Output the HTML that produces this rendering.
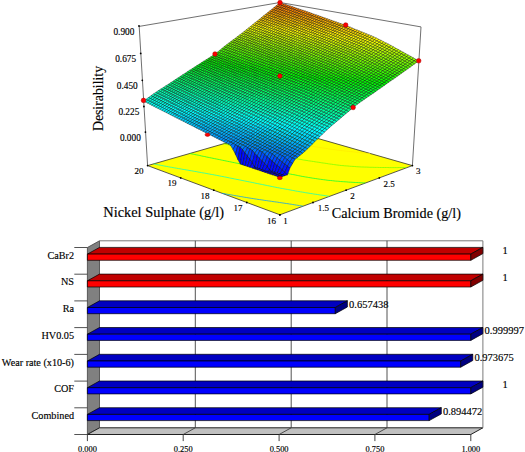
<!DOCTYPE html>
<html><head><meta charset="utf-8"><title>Desirability</title>
<style>html,body{margin:0;padding:0;background:#fff;}body{width:525px;height:452px;overflow:hidden;font-family:"Liberation Serif",serif;}svg{display:block;}</style>
</head><body>
<svg width="525" height="452" viewBox="0 0 525 452" font-family='"Liberation Serif", serif' fill="#000">
<style>text{stroke:#000;stroke-width:0.15px;}</style>
<polygon points="147.6,165.6 279.9,214.8 412.4,165.6 280,127.6" fill="#ffff00" stroke="#303030" stroke-width="0.8"/>
<polyline points="222,193.3 223.5,193.5 225.1,193.8 226.6,194.1 228.1,194.4 230.1,194.7 231.9,195 233.4,195.3 234.9,195.6 236.4,195.8 238.2,196.1 240.2,196.5 241.8,196.7 243.3,197 244.8,197.3 246.4,197.5 248.1,197.8 250,198.1 251.8,198.4 253.3,198.6 254.9,198.9 256.4,199.1 258,199.4 259.6,199.6 261.2,199.8 263,200.1 264.8,200.4 266.6,200.6 268.3,200.9 269.9,201.1 271.5,201.3 273.1,201.6 274.7,201.8 276.3,202 277.8,202.2 279.4,202.5 281.1,202.7 283,203 284.9,203.3 286.4,203.5 288,203.7 289.5,204 291.1,204.2 292.7,204.5 294.7,204.8 296.4,205.1 297.9,205.3 299.4,205.6 300.9,205.8 303,206.2" fill="none" stroke="#0099ff" stroke-width="0.9" stroke-opacity="0.8"/>
<polyline points="153.6,163.9 155.1,164.2 156.5,164.5 158.2,164.8 160.3,165.2 161.8,165.5 163.3,165.8 164.8,166.1 166.5,166.4 168.6,166.8 170.1,167.1 171.6,167.3 173.1,167.6 174.6,167.9 176.5,168.2 178.5,168.6 180,168.8 181.6,169.1 183.1,169.4 184.7,169.6 186.2,169.9 188.1,170.2 190,170.6 191.6,170.8 193.1,171.1 194.7,171.4 196.2,171.6 198,172 200,172.3 201.5,172.6 203,172.9 204.5,173.1 206.1,173.4 208.2,173.8 209.8,174.1 211.2,174.4 212.7,174.6 214.7,175 216.4,175.3 217.9,175.6 219.3,175.9 221.4,176.3 223,176.6 224.4,176.9 226.1,177.2 228,177.6 229.4,177.9 230.9,178.2 233,178.6 234.4,178.9 235.8,179.2 238,179.6 239.4,179.9 240.9,180.2 242.9,180.6 244.3,180.9 245.9,181.2 247.8,181.6 249.3,181.9 250.9,182.2 252.8,182.6 254.2,182.9 256,183.3 257.7,183.6 259.1,183.9 261.2,184.3 262.6,184.6 264,184.9 266.1,185.3 267.5,185.6 269.1,185.9 271,186.3 272.4,186.6 274.3,187 275.9,187.3 277.3,187.6 279.2,187.9 280.9,188.3 282.3,188.5 283.9,188.8 285.9,189.2 287.4,189.4 288.8,189.7 291,190.1 292.4,190.4 293.9,190.6 295.7,191 297.5,191.3 298.9,191.5 300.4,191.8 302.4,192.1 304.1,192.4 305.5,192.7 307,192.9 309,193.2 310.7,193.5 312.2,193.7 313.7,194 315.3,194.2 317.4,194.5 319,194.8 320.5,195 322,195.2 323.6,195.4 325.4,195.7 327.3,196 328.9,196.2" fill="none" stroke="#00ffcc" stroke-width="0.9" stroke-opacity="0.8"/>
<polyline points="189.8,153.5 191.2,153.8 193.3,154.2 194.7,154.5 196.2,154.8 198.2,155.2 199.7,155.5 201.3,155.9 203.2,156.3 204.6,156.5 206.5,157 208.1,157.3 209.5,157.6 211.6,158 213,158.3 214.4,158.6 216.5,159 217.9,159.3 219.5,159.6 221.3,160 222.7,160.3 224.8,160.7 226.2,161 227.6,161.3 229.7,161.7 231.1,162 232.8,162.4 234.6,162.7 235.9,163 238,163.4 239.4,163.7 240.9,164 242.9,164.4 244.2,164.7 246.3,165.2 247.7,165.4 249.2,165.7 251.1,166.1 252.5,166.4 254.6,166.9 255.9,167.1 257.6,167.5 259.4,167.9 260.7,168.1 262.8,168.6 264.1,168.8 266.2,169.3 267.5,169.6 269.1,169.9 270.9,170.3 272.3,170.6 274.4,171 275.8,171.2 277.3,171.5 279.3,171.9 280.7,172.2 282.4,172.5 284.2,172.8 285.6,173.1 287.6,173.5 289.1,173.8 290.5,174.1 292.5,174.5 293.9,174.7 295.9,175.1 297.3,175.4 298.7,175.7 300.8,176.1 302.2,176.4 304.1,176.7 305.7,177 307.2,177.2 308.7,177.5 310.9,177.8 312.3,178.1 313.8,178.3 315.3,178.5 317.2,178.8 319.1,179.1 320.6,179.3 322.1,179.5 323.6,179.7 325.3,179.9 327.1,180.2 328.9,180.4 330.7,180.5 332.4,180.7 334,180.9 335.7,181.1 337.3,181.2 338.9,181.3 340.5,181.5 342.1,181.6 343.6,181.7 345.1,181.8 346.8,181.9 348.5,182.1 350.3,182.2 352.1,182.3 353.9,182.4 355.4,182.5 356.8,182.5 358.4,182.6 360.2,182.7 362,182.8 363.8,182.9 365.2,182.9" fill="none" stroke="#00ff33" stroke-width="0.9" stroke-opacity="0.8"/>
<polyline points="223.7,143.7 225.7,144.2 227.4,144.6 228.9,144.9 230.9,145.4 232.2,145.7 234.1,146.1 235.5,146.4 237.4,146.9 238.7,147.2 240.7,147.6 242.1,147.9 244.1,148.3 245.4,148.6 247.4,149 248.8,149.3 250.7,149.7 252.1,150 253.7,150.3 255.5,150.7 256.8,151 258.9,151.4 260.2,151.7 262.2,152.1 263.6,152.3 265.6,152.8 267,153 268.6,153.3 270.4,153.7 271.8,154 273.8,154.4 275.2,154.6 277.2,155 278.6,155.3 280,155.6 282,156 283.4,156.2 285.5,156.6 286.9,156.9 288.3,157.2 290.3,157.5 291.7,157.8 293.8,158.2 295.1,158.4 296.6,158.7 298.6,159.1 300,159.3 302.1,159.7 303.5,160 304.9,160.2 307,160.5 308.5,160.8 310,161 311.4,161.2 313.6,161.5 315.1,161.8 316.6,162 318.1,162.2 320.2,162.5 321.7,162.8 323.2,163 324.7,163.2 326.8,163.5 328.3,163.8 329.8,164 331.4,164.2 333.5,164.5 334.9,164.7 336.4,164.9 338,165.1 339.6,165.3 341.3,165.5 342.9,165.6 344.6,165.8 346.2,165.9 347.9,166 349.6,166.2 351.3,166.3 353,166.4 354.7,166.5 356.4,166.7 358.1,166.8 359.9,166.9 361.6,167 363,167 364.4,167.1 366.2,167.1 368.1,167.2 369.8,167.3 371.1,167.3 372.8,167.3 374.7,167.4 376.4,167.4 377.7,167.4 379.5,167.5 381.5,167.5 382.8,167.5 384.4,167.5 386.4,167.5 387.8,167.5 389.3,167.6 391.3,167.6 392.8,167.6 394.3,167.6 396.3,167.6 397.8,167.6 399.3,167.5 401.3,167.5 402.7,167.5 404.3,167.5 406.3,167.5" fill="none" stroke="#6fff00" stroke-width="0.9" stroke-opacity="0.8"/>
<polyline points="252.8,135.4 254.1,135.7 256.1,136.1 257.4,136.4 259.4,136.8 260.8,137 262.8,137.4 264.1,137.7 266.1,138.1 267.4,138.4 269.5,138.8 270.8,139 272.7,139.4 274.2,139.7 275.6,139.9 277.6,140.3 279,140.5 281.1,140.9 282.5,141.2 284,141.4 285.9,141.8 287.3,142 289.4,142.4 290.7,142.6 292.1,142.9 294.2,143.3 295.6,143.5 297.4,143.8 299.1,144.1 300.5,144.3 302.6,144.7 304,144.9 305.4,145.1 307.5,145.5 308.9,145.7 310.4,146 312.5,146.3 313.9,146.5 315.3,146.8 317.5,147.1 318.9,147.3 320.3,147.5 322.4,147.9 323.9,148.1 325.3,148.3 327.4,148.6 328.9,148.9 330.3,149.1 332.3,149.4 333.9,149.6 335.3,149.8 336.8,150 338.8,150.3 340.7,150.5 342.2,150.7 343.8,150.8 345.3,151 346.9,151.2 348.5,151.3 350.2,151.5 352.1,151.7 353.9,151.9 355.4,152.1 356.9,152.3 358.5,152.5 360,152.6 361.9,152.8 363.8,153 365.4,153.2 367,153.4 368.6,153.5 370.2,153.7" fill="none" stroke="#ffec00" stroke-width="0.9" stroke-opacity="0.8"/>
<g stroke="#000" stroke-width="0.5" stroke-opacity="0.75" stroke-linejoin="round">
<path d="M280 5 277.9 4.3 280 2.6 282.1 3.3Z" fill="#ff6700"/>
<path d="M277.9 6.7 275.9 6 277.9 4.3 280 5Z" fill="#ff7300"/>
<path d="M282.1 5.7 280 5 282.1 3.3 284.2 4Z" fill="#ff6a00"/>
<path d="M275.8 8.4 273.8 7.7 275.9 6 277.9 6.7Z" fill="#ff7e00"/>
<path d="M280 7.4 277.9 6.7 280 5 282.1 5.7Z" fill="#ff7500"/>
<path d="M284.2 6.4 282.1 5.7 284.2 4 286.3 4.7Z" fill="#ff6d00"/>
<path d="M273.8 10.1 271.7 9.4 273.8 7.7 275.8 8.4Z" fill="#ff8900"/>
<path d="M277.9 9 275.8 8.4 277.9 6.7 280 7.4Z" fill="#ff8100"/>
<path d="M282.1 8 280 7.4 282.1 5.7 284.2 6.4Z" fill="#ff7800"/>
<path d="M286.3 7 284.2 6.4 286.3 4.7 288.4 5.4Z" fill="#ff6f00"/>
<path d="M271.7 11.7 269.6 11.1 271.7 9.4 273.8 10.1Z" fill="#ff9500"/>
<path d="M275.8 10.7 273.8 10.1 275.8 8.4 277.9 9Z" fill="#ff8c00"/>
<path d="M280 9.7 277.9 9 280 7.4 282.1 8Z" fill="#ff8300"/>
<path d="M284.2 8.7 282.1 8 284.2 6.4 286.3 7Z" fill="#ff7b00"/>
<path d="M269.5 13.4 267.5 12.8 269.6 11.1 271.7 11.7Z" fill="#ffa000"/>
<path d="M288.4 7.7 286.3 7 288.4 5.4 290.5 6Z" fill="#ff7200"/>
<path d="M273.7 12.4 271.7 11.7 273.8 10.1 275.8 10.7Z" fill="#ff9700"/>
<path d="M277.9 11.4 275.8 10.7 277.9 9 280 9.7Z" fill="#ff8f00"/>
<path d="M267.4 15.1 265.4 14.4 267.5 12.8 269.5 13.4Z" fill="#ffab00"/>
<path d="M282.1 10.4 280 9.7 282.1 8 284.2 8.7Z" fill="#ff8600"/>
<path d="M286.3 9.4 284.2 8.7 286.3 7 288.4 7.7Z" fill="#ff7d00"/>
<path d="M271.6 14.1 269.5 13.4 271.7 11.7 273.7 12.4Z" fill="#ffa300"/>
<path d="M290.5 8.4 288.4 7.7 290.5 6 292.6 6.7Z" fill="#ff7500"/>
<path d="M275.8 13.1 273.7 12.4 275.8 10.7 277.9 11.4Z" fill="#ff9a00"/>
<path d="M265.3 16.8 263.2 16.1 265.4 14.4 267.4 15.1Z" fill="#ffb700"/>
<path d="M280 12.1 277.9 11.4 280 9.7 282.1 10.4Z" fill="#ff9100"/>
<path d="M284.2 11.1 282.1 10.4 284.2 8.7 286.3 9.4Z" fill="#ff8900"/>
<path d="M269.5 15.8 267.4 15.1 269.5 13.4 271.6 14.1Z" fill="#ffae00"/>
<path d="M288.4 10.1 286.3 9.4 288.4 7.7 290.5 8.4Z" fill="#ff8000"/>
<path d="M273.7 14.8 271.6 14.1 273.7 12.4 275.8 13.1Z" fill="#ffa500"/>
<path d="M292.6 9.1 290.5 8.4 292.6 6.7 294.7 7.5Z" fill="#ff7800"/>
<path d="M263.2 18.5 261.1 17.9 263.2 16.1 265.3 16.8Z" fill="#ffc200"/>
<path d="M277.9 13.8 275.8 13.1 277.9 11.4 280 12.1Z" fill="#ff9d00"/>
<path d="M267.4 17.5 265.3 16.8 267.4 15.1 269.5 15.8Z" fill="#ffb900"/>
<path d="M282.1 12.8 280 12.1 282.1 10.4 284.2 11.1Z" fill="#ff9400"/>
<path d="M286.3 11.8 284.2 11.1 286.3 9.4 288.4 10.1Z" fill="#ff8b00"/>
<path d="M271.6 16.5 269.5 15.8 271.6 14.1 273.7 14.8Z" fill="#ffb000"/>
<path d="M261.1 20.2 259 19.6 261.1 17.9 263.2 18.5Z" fill="#ffcd00"/>
<path d="M290.5 10.8 288.4 10.1 290.5 8.4 292.6 9.1Z" fill="#ff8300"/>
<path d="M275.8 15.5 273.7 14.8 275.8 13.1 277.9 13.8Z" fill="#ffa800"/>
<path d="M294.8 9.9 292.6 9.1 294.7 7.5 296.8 8.2Z" fill="#ff7b00"/>
<path d="M265.3 19.2 263.2 18.5 265.3 16.8 267.4 17.5Z" fill="#ffc400"/>
<path d="M280 14.5 277.9 13.8 280 12.1 282.1 12.8Z" fill="#ff9f00"/>
<path d="M284.2 13.5 282.1 12.8 284.2 11.1 286.3 11.8Z" fill="#ff9700"/>
<path d="M269.5 18.2 267.4 17.5 269.5 15.8 271.6 16.5Z" fill="#ffbc00"/>
<path d="M258.9 22 256.9 21.3 259 19.6 261.1 20.2Z" fill="#ffd900"/>
<path d="M288.4 12.5 286.3 11.8 288.4 10.1 290.5 10.8Z" fill="#ff8e00"/>
<path d="M273.7 17.2 271.6 16.5 273.7 14.8 275.8 15.5Z" fill="#ffb300"/>
<path d="M292.7 11.5 290.5 10.8 292.6 9.1 294.8 9.9Z" fill="#ff8600"/>
<path d="M263.1 20.9 261.1 20.2 263.2 18.5 265.3 19.2Z" fill="#ffd000"/>
<path d="M277.9 16.2 275.8 15.5 277.9 13.8 280 14.5Z" fill="#ffaa00"/>
<path d="M296.9 10.6 294.8 9.9 296.8 8.2 299 8.9Z" fill="#ff7e00"/>
<path d="M267.3 19.9 265.3 19.2 267.4 17.5 269.5 18.2Z" fill="#ffc700"/>
<path d="M282.1 15.2 280 14.5 282.1 12.8 284.2 13.5Z" fill="#ffa200"/>
<path d="M256.8 23.7 254.7 23 256.9 21.3 258.9 22Z" fill="#ffe400"/>
<path d="M286.3 14.2 284.2 13.5 286.3 11.8 288.4 12.5Z" fill="#ff9900"/>
<path d="M271.6 18.9 269.5 18.2 271.6 16.5 273.7 17.2Z" fill="#ffbe00"/>
<path d="M261 22.6 258.9 22 261.1 20.2 263.1 20.9Z" fill="#ffdb00"/>
<path d="M290.6 13.2 288.4 12.5 290.5 10.8 292.7 11.5Z" fill="#ff9100"/>
<path d="M275.8 17.9 273.7 17.2 275.8 15.5 277.9 16.2Z" fill="#ffb500"/>
<path d="M294.8 12.3 292.7 11.5 294.8 9.9 296.9 10.6Z" fill="#ff8900"/>
<path d="M265.2 21.6 263.1 20.9 265.3 19.2 267.3 19.9Z" fill="#ffd200"/>
<path d="M280 16.9 277.9 16.2 280 14.5 282.1 15.2Z" fill="#ffad00"/>
<path d="M254.6 25.4 252.6 24.7 254.7 23 256.8 23.7Z" fill="#ffef00"/>
<path d="M299 11.3 296.9 10.6 299 8.9 301.1 9.7Z" fill="#ff8100"/>
<path d="M269.4 20.6 267.3 19.9 269.5 18.2 271.6 18.9Z" fill="#ffc900"/>
<path d="M284.2 15.9 282.1 15.2 284.2 13.5 286.3 14.2Z" fill="#ffa400"/>
<path d="M258.8 24.4 256.8 23.7 258.9 22 261 22.6Z" fill="#ffe600"/>
<path d="M288.5 14.9 286.3 14.2 288.4 12.5 290.6 13.2Z" fill="#ff9c00"/>
<path d="M273.7 19.6 271.6 18.9 273.7 17.2 275.8 17.9Z" fill="#ffc100"/>
<path d="M292.7 14 290.6 13.2 292.7 11.5 294.8 12.3Z" fill="#ff9400"/>
<path d="M263.1 23.3 261 22.6 263.1 20.9 265.2 21.6Z" fill="#ffdd00"/>
<path d="M277.9 18.6 275.8 17.9 277.9 16.2 280 16.9Z" fill="#ffb800"/>
<path d="M252.5 27.1 250.4 26.5 252.6 24.7 254.6 25.4Z" fill="#fffa00"/>
<path d="M296.9 13 294.8 12.3 296.9 10.6 299 11.3Z" fill="#ff8c00"/>
<path d="M267.3 22.3 265.2 21.6 267.3 19.9 269.4 20.6Z" fill="#ffd400"/>
<path d="M282.1 17.6 280 16.9 282.1 15.2 284.2 15.9Z" fill="#ffb000"/>
<path d="M301.2 12.1 299 11.3 301.1 9.7 303.3 10.4Z" fill="#ff8400"/>
<path d="M256.7 26.1 254.6 25.4 256.8 23.7 258.8 24.4Z" fill="#fff100"/>
<path d="M286.4 16.6 284.2 15.9 286.3 14.2 288.5 14.9Z" fill="#ffa700"/>
<path d="M271.5 21.3 269.4 20.6 271.6 18.9 273.7 19.6Z" fill="#ffcc00"/>
<path d="M260.9 25 258.8 24.4 261 22.6 263.1 23.3Z" fill="#ffe800"/>
<path d="M290.6 15.7 288.5 14.9 290.6 13.2 292.7 14Z" fill="#ff9f00"/>
<path d="M250.3 28.9 248.2 28.2 250.4 26.5 252.5 27.1Z" fill="#f7ff00"/>
<path d="M275.8 20.3 273.7 19.6 275.8 17.9 277.9 18.6Z" fill="#ffc300"/>
<path d="M294.8 14.7 292.7 14 294.8 12.3 296.9 13Z" fill="#ff9700"/>
<path d="M265.2 24 263.1 23.3 265.2 21.6 267.3 22.3Z" fill="#ffe000"/>
<path d="M280 19.3 277.9 18.6 280 16.9 282.1 17.6Z" fill="#ffbb00"/>
<path d="M254.5 27.8 252.5 27.1 254.6 25.4 256.7 26.1Z" fill="#fffd00"/>
<path d="M299.1 13.8 296.9 13 299 11.3 301.2 12.1Z" fill="#ff8f00"/>
<path d="M269.4 23 267.3 22.3 269.4 20.6 271.5 21.3Z" fill="#ffd700"/>
<path d="M284.2 18.3 282.1 17.6 284.2 15.9 286.4 16.6Z" fill="#ffb200"/>
<path d="M303.3 12.8 301.2 12.1 303.3 10.4 305.4 11.1Z" fill="#ff8700"/>
<path d="M258.8 26.8 256.7 26.1 258.8 24.4 260.9 25Z" fill="#fff400"/>
<path d="M248.1 30.6 246.1 29.9 248.2 28.2 250.3 28.9Z" fill="#eaff00"/>
<path d="M288.5 17.4 286.4 16.6 288.5 14.9 290.6 15.7Z" fill="#ffaa00"/>
<path d="M273.6 22 271.5 21.3 273.7 19.6 275.8 20.3Z" fill="#ffce00"/>
<path d="M292.7 16.4 290.6 15.7 292.7 14 294.8 14.7Z" fill="#ffa200"/>
<path d="M263 25.7 260.9 25 263.1 23.3 265.2 24Z" fill="#ffeb00"/>
<path d="M252.4 29.5 250.3 28.9 252.5 27.1 254.5 27.8Z" fill="#f5ff00"/>
<path d="M277.9 21 275.8 20.3 277.9 18.6 280 19.3Z" fill="#ffc600"/>
<path d="M297 15.5 294.8 14.7 296.9 13 299.1 13.8Z" fill="#ff9a00"/>
<path d="M267.3 24.7 265.2 24 267.3 22.3 269.4 23Z" fill="#ffe200"/>
<path d="M282.1 20 280 19.3 282.1 17.6 284.2 18.3Z" fill="#ffbd00"/>
<path d="M301.2 14.5 299.1 13.8 301.2 12.1 303.3 12.8Z" fill="#ff9200"/>
<path d="M256.6 28.5 254.5 27.8 256.7 26.1 258.8 26.8Z" fill="#ffff00"/>
<path d="M246 32.4 243.9 31.7 246.1 29.9 248.1 30.6Z" fill="#ddff00"/>
<path d="M305.5 13.6 303.3 12.8 305.4 11.1 307.6 11.9Z" fill="#ff8a00"/>
<path d="M286.4 19.1 284.2 18.3 286.4 16.6 288.5 17.4Z" fill="#ffb500"/>
<path d="M271.5 23.7 269.4 23 271.5 21.3 273.6 22Z" fill="#ffd900"/>
<path d="M260.9 27.4 258.8 26.8 260.9 25 263 25.7Z" fill="#fff600"/>
<path d="M250.2 31.3 248.1 30.6 250.3 28.9 252.4 29.5Z" fill="#e7ff00"/>
<path d="M290.6 18.1 288.5 17.4 290.6 15.7 292.7 16.4Z" fill="#ffad00"/>
<path d="M275.7 22.7 273.6 22 275.8 20.3 277.9 21Z" fill="#ffd100"/>
<path d="M294.9 17.1 292.7 16.4 294.8 14.7 297 15.5Z" fill="#ffa500"/>
<path d="M265.1 26.4 263 25.7 265.2 24 267.3 24.7Z" fill="#ffed00"/>
<path d="M280 21.7 277.9 21 280 19.3 282.1 20Z" fill="#ffc800"/>
<path d="M243.8 34.1 241.7 33.4 243.9 31.7 246 32.4Z" fill="#cfff00"/>
<path d="M254.4 30.2 252.4 29.5 254.5 27.8 256.6 28.5Z" fill="#f2ff00"/>
<path d="M299.2 16.2 297 15.5 299.1 13.8 301.2 14.5Z" fill="#ff9d00"/>
<path d="M269.4 25.4 267.3 24.7 269.4 23 271.5 23.7Z" fill="#ffe400"/>
<path d="M284.3 20.7 282.1 20 284.2 18.3 286.4 19.1Z" fill="#ffc000"/>
<path d="M303.4 15.3 301.2 14.5 303.3 12.8 305.5 13.6Z" fill="#ff9500"/>
<path d="M258.7 29.2 256.6 28.5 258.8 26.8 260.9 27.4Z" fill="#fcff00"/>
<path d="M248 33 246 32.4 248.1 30.6 250.2 31.3Z" fill="#daff00"/>
<path d="M307.7 14.3 305.5 13.6 307.6 11.9 309.8 12.6Z" fill="#ff8d00"/>
<path d="M288.5 19.8 286.4 19.1 288.5 17.4 290.6 18.1Z" fill="#ffb800"/>
<path d="M273.6 24.4 271.5 23.7 273.6 22 275.7 22.7Z" fill="#ffdc00"/>
<path d="M262.9 28.1 260.9 27.4 263 25.7 265.1 26.4Z" fill="#fff800"/>
<path d="M292.8 18.8 290.6 18.1 292.7 16.4 294.9 17.1Z" fill="#ffb000"/>
<path d="M241.6 35.8 239.5 35.1 241.7 33.4 243.8 34.1Z" fill="#c3ff00"/>
<path d="M252.3 32 250.2 31.3 252.4 29.5 254.4 30.2Z" fill="#e5ff00"/>
<path d="M277.9 23.4 275.7 22.7 277.9 21 280 21.7Z" fill="#ffd300"/>
<path d="M297 17.9 294.9 17.1 297 15.5 299.2 16.2Z" fill="#ffa800"/>
<path d="M267.2 27.1 265.1 26.4 267.3 24.7 269.4 25.4Z" fill="#fff000"/>
<path d="M282.1 22.4 280 21.7 282.1 20 284.3 20.7Z" fill="#ffcb00"/>
<path d="M256.5 30.9 254.4 30.2 256.6 28.5 258.7 29.2Z" fill="#efff00"/>
<path d="M301.3 16.9 299.2 16.2 301.2 14.5 303.4 15.3Z" fill="#ffa000"/>
<path d="M245.8 34.8 243.8 34.1 246 32.4 248 33Z" fill="#cdff00"/>
<path d="M286.4 21.5 284.3 20.7 286.4 19.1 288.5 19.8Z" fill="#ffc300"/>
<path d="M305.6 16 303.4 15.3 305.5 13.6 307.7 14.3Z" fill="#ff9800"/>
<path d="M271.5 26.1 269.4 25.4 271.5 23.7 273.6 24.4Z" fill="#ffe700"/>
<path d="M260.8 29.9 258.7 29.2 260.9 27.4 262.9 28.1Z" fill="#faff00"/>
<path d="M309.9 15.1 307.7 14.3 309.8 12.6 312 13.4Z" fill="#ff9000"/>
<path d="M239.4 37.4 237.3 36.7 239.5 35.1 241.6 35.8Z" fill="#b6ff00"/>
<path d="M250.1 33.7 248 33 250.2 31.3 252.3 32Z" fill="#d8ff00"/>
<path d="M290.7 20.5 288.5 19.8 290.6 18.1 292.8 18.8Z" fill="#ffbb00"/>
<path d="M275.7 25.1 273.6 24.4 275.7 22.7 277.9 23.4Z" fill="#ffde00"/>
<path d="M294.9 19.6 292.8 18.8 294.9 17.1 297 17.9Z" fill="#ffb300"/>
<path d="M265.1 28.8 262.9 28.1 265.1 26.4 267.2 27.1Z" fill="#fffb00"/>
<path d="M280 24.1 277.9 23.4 280 21.7 282.1 22.4Z" fill="#ffd600"/>
<path d="M243.7 36.5 241.6 35.8 243.8 34.1 245.8 34.8Z" fill="#c0ff00"/>
<path d="M254.4 32.7 252.3 32 254.4 30.2 256.5 30.9Z" fill="#e2ff00"/>
<path d="M299.2 18.6 297 17.9 299.2 16.2 301.3 16.9Z" fill="#ffab00"/>
<path d="M269.3 27.8 267.2 27.1 269.4 25.4 271.5 26.1Z" fill="#fff200"/>
<path d="M284.3 23.2 282.1 22.4 284.3 20.7 286.4 21.5Z" fill="#ffce00"/>
<path d="M303.5 17.7 301.3 16.9 303.4 15.3 305.6 16Z" fill="#ffa300"/>
<path d="M258.6 31.6 256.5 30.9 258.7 29.2 260.8 29.9Z" fill="#edff00"/>
<path d="M237.2 39.1 235.1 38.4 237.3 36.7 239.4 37.4Z" fill="#aaff00"/>
<path d="M247.9 35.4 245.8 34.8 248 33 250.1 33.7Z" fill="#caff00"/>
<path d="M307.8 16.8 305.6 16 307.7 14.3 309.9 15.1Z" fill="#ff9b00"/>
<path d="M288.5 22.2 286.4 21.5 288.5 19.8 290.7 20.5Z" fill="#ffc600"/>
<path d="M273.6 26.8 271.5 26.1 273.6 24.4 275.7 25.1Z" fill="#ffe900"/>
<path d="M312.1 15.9 309.9 15.1 312 13.4 314.1 14.2Z" fill="#ff9300"/>
<path d="M262.9 30.6 260.8 29.9 262.9 28.1 265.1 28.8Z" fill="#f7ff00"/>
<path d="M292.8 21.3 290.7 20.5 292.8 18.8 294.9 19.6Z" fill="#ffbe00"/>
<path d="M241.5 38.1 239.4 37.4 241.6 35.8 243.7 36.5Z" fill="#b4ff00"/>
<path d="M252.2 34.4 250.1 33.7 252.3 32 254.4 32.7Z" fill="#d5ff00"/>
<path d="M277.9 25.8 275.7 25.1 277.9 23.4 280 24.1Z" fill="#ffe100"/>
<path d="M297.1 20.3 294.9 19.6 297 17.9 299.2 18.6Z" fill="#ffb600"/>
<path d="M267.2 29.5 265.1 28.8 267.2 27.1 269.3 27.8Z" fill="#fffd00"/>
<path d="M282.1 24.9 280 24.1 282.1 22.4 284.3 23.2Z" fill="#ffd900"/>
<path d="M256.4 33.3 254.4 32.7 256.5 30.9 258.6 31.6Z" fill="#e0ff00"/>
<path d="M235 40.7 232.9 40 235.1 38.4 237.2 39.1Z" fill="#9eff00"/>
<path d="M245.7 37.1 243.7 36.5 245.8 34.8 247.9 35.4Z" fill="#beff00"/>
<path d="M301.4 19.4 299.2 18.6 301.3 16.9 303.5 17.7Z" fill="#ffae00"/>
<path d="M271.4 28.5 269.3 27.8 271.5 26.1 273.6 26.8Z" fill="#fff500"/>
<path d="M286.4 23.9 284.3 23.2 286.4 21.5 288.5 22.2Z" fill="#ffd100"/>
<path d="M305.7 18.5 303.5 17.7 305.6 16 307.8 16.8Z" fill="#ffa600"/>
<path d="M260.7 32.3 258.6 31.6 260.8 29.9 262.9 30.6Z" fill="#eaff00"/>
<path d="M250 36.1 247.9 35.4 250.1 33.7 252.2 34.4Z" fill="#c8ff00"/>
<path d="M239.3 39.7 237.2 39.1 239.4 37.4 241.5 38.1Z" fill="#a8ff00"/>
<path d="M310 17.5 307.8 16.8 309.9 15.1 312.1 15.9Z" fill="#ff9e00"/>
<path d="M290.7 23 288.5 22.2 290.7 20.5 292.8 21.3Z" fill="#ffc900"/>
<path d="M275.7 27.6 273.6 26.8 275.7 25.1 277.9 25.8Z" fill="#ffec00"/>
<path d="M314.3 16.6 312.1 15.9 314.1 14.2 316.3 14.9Z" fill="#ff9600"/>
<path d="M295 22 292.8 21.3 294.9 19.6 297.1 20.3Z" fill="#ffc100"/>
<path d="M265 31.3 262.9 30.6 265.1 28.8 267.2 29.5Z" fill="#f4ff00"/>
<path d="M254.3 35.1 252.2 34.4 254.4 32.7 256.4 33.3Z" fill="#d3ff00"/>
<path d="M232.8 42.3 230.7 41.7 232.9 40 235 40.7Z" fill="#92ff00"/>
<path d="M280 26.6 277.9 25.8 280 24.1 282.1 24.9Z" fill="#ffe400"/>
<path d="M243.5 38.8 241.5 38.1 243.7 36.5 245.7 37.1Z" fill="#b1ff00"/>
<path d="M299.3 21.1 297.1 20.3 299.2 18.6 301.4 19.4Z" fill="#ffb900"/>
<path d="M269.3 30.3 267.2 29.5 269.3 27.8 271.4 28.5Z" fill="#feff00"/>
<path d="M284.3 25.6 282.1 24.9 284.3 23.2 286.4 23.9Z" fill="#ffdc00"/>
<path d="M303.6 20.2 301.4 19.4 303.5 17.7 305.7 18.5Z" fill="#ffb100"/>
<path d="M258.5 34 256.4 33.3 258.6 31.6 260.7 32.3Z" fill="#ddff00"/>
<path d="M247.8 37.8 245.7 37.1 247.9 35.4 250 36.1Z" fill="#bbff00"/>
<path d="M237 41.4 235 40.7 237.2 39.1 239.3 39.7Z" fill="#9cff00"/>
<path d="M307.9 19.2 305.7 18.5 307.8 16.8 310 17.5Z" fill="#ffa900"/>
<path d="M288.6 24.7 286.4 23.9 288.5 22.2 290.7 23Z" fill="#ffd400"/>
<path d="M273.6 29.3 271.4 28.5 273.6 26.8 275.7 27.6Z" fill="#fff700"/>
<path d="M312.2 18.3 310 17.5 312.1 15.9 314.3 16.6Z" fill="#ffa100"/>
<path d="M262.8 33 260.7 32.3 262.9 30.6 265 31.3Z" fill="#e7ff00"/>
<path d="M230.5 44 228.5 43.3 230.7 41.7 232.8 42.3Z" fill="#86ff00"/>
<path d="M292.9 23.7 290.7 23 292.8 21.3 295 22Z" fill="#ffcc00"/>
<path d="M252.1 36.8 250 36.1 252.2 34.4 254.3 35.1Z" fill="#c6ff00"/>
<path d="M241.3 40.4 239.3 39.7 241.5 38.1 243.5 38.8Z" fill="#a5ff00"/>
<path d="M277.8 28.3 275.7 27.6 277.9 25.8 280 26.6Z" fill="#ffef00"/>
<path d="M316.5 17.4 314.3 16.6 316.3 14.9 318.6 15.7Z" fill="#ff9a00"/>
<path d="M297.2 22.8 295 22 297.1 20.3 299.3 21.1Z" fill="#ffc400"/>
<path d="M267.1 32 265 31.3 267.2 29.5 269.3 30.3Z" fill="#f1ff00"/>
<path d="M282.1 27.3 280 26.6 282.1 24.9 284.3 25.6Z" fill="#ffe700"/>
<path d="M256.4 35.8 254.3 35.1 256.4 33.3 258.5 34Z" fill="#d0ff00"/>
<path d="M245.6 39.5 243.5 38.8 245.7 37.1 247.8 37.8Z" fill="#afff00"/>
<path d="M234.8 43 232.8 42.3 235 40.7 237 41.4Z" fill="#90ff00"/>
<path d="M301.5 21.8 299.3 21.1 301.4 19.4 303.6 20.2Z" fill="#ffbc00"/>
<path d="M271.4 31 269.3 30.3 271.4 28.5 273.6 29.3Z" fill="#fbff00"/>
<path d="M286.4 26.4 284.3 25.6 286.4 23.9 288.6 24.7Z" fill="#ffde00"/>
<path d="M305.8 20.9 303.6 20.2 305.7 18.5 307.9 19.2Z" fill="#ffb400"/>
<path d="M260.7 34.7 258.5 34 260.7 32.3 262.8 33Z" fill="#daff00"/>
<path d="M228.3 45.7 226.3 45 228.5 43.3 230.5 44Z" fill="#7aff00"/>
<path d="M249.9 38.5 247.8 37.8 250 36.1 252.1 36.8Z" fill="#b9ff00"/>
<path d="M239.1 42.1 237 41.4 239.3 39.7 241.3 40.4Z" fill="#99ff00"/>
<path d="M310.1 20 307.9 19.2 310 17.5 312.2 18.3Z" fill="#ffac00"/>
<path d="M290.7 25.4 288.6 24.7 290.7 23 292.9 23.7Z" fill="#ffd600"/>
<path d="M275.7 30 273.6 29.3 275.7 27.6 277.8 28.3Z" fill="#fffa00"/>
<path d="M314.4 19.1 312.2 18.3 314.3 16.6 316.5 17.4Z" fill="#ffa400"/>
<path d="M264.9 33.7 262.8 33 265 31.3 267.1 32Z" fill="#e4ff00"/>
<path d="M295 24.5 292.9 23.7 295 22 297.2 22.8Z" fill="#ffce00"/>
<path d="M318.7 18.2 316.5 17.4 318.6 15.7 320.8 16.5Z" fill="#ff9d00"/>
<path d="M254.2 37.5 252.1 36.8 254.3 35.1 256.4 35.8Z" fill="#c3ff00"/>
<path d="M232.6 44.7 230.5 44 232.8 42.3 234.8 43Z" fill="#84ff00"/>
<path d="M280 29 277.8 28.3 280 26.6 282.1 27.3Z" fill="#fff100"/>
<path d="M243.4 41.1 241.3 40.4 243.5 38.8 245.6 39.5Z" fill="#a3ff00"/>
<path d="M299.3 23.5 297.2 22.8 299.3 21.1 301.5 21.8Z" fill="#ffc700"/>
<path d="M269.2 32.7 267.1 32 269.3 30.3 271.4 31Z" fill="#eeff00"/>
<path d="M284.3 28.1 282.1 27.3 284.3 25.6 286.4 26.4Z" fill="#ffe900"/>
<path d="M226.1 47.4 224 46.7 226.3 45 228.3 45.7Z" fill="#6eff00"/>
<path d="M303.6 22.6 301.5 21.8 303.6 20.2 305.8 20.9Z" fill="#ffbf00"/>
<path d="M258.5 36.5 256.4 35.8 258.5 34 260.7 34.7Z" fill="#cdff00"/>
<path d="M247.7 40.2 245.6 39.5 247.8 37.8 249.9 38.5Z" fill="#adff00"/>
<path d="M236.9 43.7 234.8 43 237 41.4 239.1 42.1Z" fill="#8eff00"/>
<path d="M308 21.7 305.8 20.9 307.9 19.2 310.1 20Z" fill="#ffb700"/>
<path d="M288.6 27.1 286.4 26.4 288.6 24.7 290.7 25.4Z" fill="#ffe100"/>
<path d="M273.5 31.7 271.4 31 273.6 29.3 275.7 30Z" fill="#f8ff00"/>
<path d="M262.8 35.5 260.7 34.7 262.8 33 264.9 33.7Z" fill="#d8ff00"/>
<path d="M312.3 20.8 310.1 20 312.2 18.3 314.4 19.1Z" fill="#ffaf00"/>
<path d="M230.4 46.4 228.3 45.7 230.5 44 232.6 44.7Z" fill="#78ff00"/>
<path d="M252 39.2 249.9 38.5 252.1 36.8 254.2 37.5Z" fill="#b6ff00"/>
<path d="M292.9 26.2 290.7 25.4 292.9 23.7 295 24.5Z" fill="#ffd900"/>
<path d="M241.2 42.8 239.1 42.1 241.3 40.4 243.4 41.1Z" fill="#97ff00"/>
<path d="M277.8 30.7 275.7 30 277.8 28.3 280 29Z" fill="#fffc00"/>
<path d="M316.6 19.9 314.4 19.1 316.5 17.4 318.7 18.2Z" fill="#ffa700"/>
<path d="M297.2 25.2 295 24.5 297.2 22.8 299.3 23.5Z" fill="#ffd100"/>
<path d="M223.8 49.2 221.8 48.6 224 46.7 226.1 47.4Z" fill="#60ff00"/>
<path d="M320.9 19 318.7 18.2 320.8 16.5 323 17.3Z" fill="#ffa000"/>
<path d="M267.1 34.5 264.9 33.7 267.1 32 269.2 32.7Z" fill="#e2ff00"/>
<path d="M282.1 29.8 280 29 282.1 27.3 284.3 28.1Z" fill="#fff400"/>
<path d="M256.3 38.2 254.2 37.5 256.4 35.8 258.5 36.5Z" fill="#c0ff00"/>
<path d="M234.7 45.4 232.6 44.7 234.8 43 236.9 43.7Z" fill="#82ff00"/>
<path d="M245.5 41.8 243.4 41.1 245.6 39.5 247.7 40.2Z" fill="#a1ff00"/>
<path d="M301.5 24.3 299.3 23.5 301.5 21.8 303.6 22.6Z" fill="#ffc900"/>
<path d="M271.4 33.5 269.2 32.7 271.4 31 273.5 31.7Z" fill="#ebff00"/>
<path d="M286.5 28.8 284.3 28.1 286.4 26.4 288.6 27.1Z" fill="#ffec00"/>
<path d="M305.8 23.4 303.6 22.6 305.8 20.9 308 21.7Z" fill="#ffc200"/>
<path d="M228.1 48.1 226.1 47.4 228.3 45.7 230.4 46.4Z" fill="#6bff00"/>
<path d="M260.6 37.2 258.5 36.5 260.7 34.7 262.8 35.5Z" fill="#cbff00"/>
<path d="M249.8 40.9 247.7 40.2 249.9 38.5 252 39.2Z" fill="#aaff00"/>
<path d="M239 44.4 236.9 43.7 239.1 42.1 241.2 42.8Z" fill="#8bff00"/>
<path d="M310.2 22.5 308 21.7 310.1 20 312.3 20.8Z" fill="#ffba00"/>
<path d="M290.8 27.9 288.6 27.1 290.7 25.4 292.9 26.2Z" fill="#ffe400"/>
<path d="M275.7 32.5 273.5 31.7 275.7 30 277.8 30.7Z" fill="#f5ff00"/>
<path d="M221.6 51.1 219.6 50.4 221.8 48.6 223.8 49.2Z" fill="#53ff00"/>
<path d="M314.5 21.5 312.3 20.8 314.4 19.1 316.6 19.9Z" fill="#ffb200"/>
<path d="M264.9 36.2 262.8 35.5 264.9 33.7 267.1 34.5Z" fill="#d5ff00"/>
<path d="M295.1 26.9 292.9 26.2 295 24.5 297.2 25.2Z" fill="#ffdc00"/>
<path d="M254.1 39.9 252 39.2 254.2 37.5 256.3 38.2Z" fill="#b4ff00"/>
<path d="M232.4 47.1 230.4 46.4 232.6 44.7 234.7 45.4Z" fill="#76ff00"/>
<path d="M318.8 20.6 316.6 19.9 318.7 18.2 320.9 19Z" fill="#ffab00"/>
<path d="M280 31.5 277.8 30.7 280 29 282.1 29.8Z" fill="#ffff00"/>
<path d="M243.3 43.5 241.2 42.8 243.4 41.1 245.5 41.8Z" fill="#95ff00"/>
<path d="M323.1 19.7 320.9 19 323 17.3 325.2 18.1Z" fill="#ffa300"/>
<path d="M299.4 26 297.2 25.2 299.3 23.5 301.5 24.3Z" fill="#ffd400"/>
<path d="M269.2 35.2 267.1 34.5 269.2 32.7 271.4 33.5Z" fill="#dfff00"/>
<path d="M225.9 49.9 223.8 49.2 226.1 47.4 228.1 48.1Z" fill="#5eff00"/>
<path d="M284.3 30.5 282.1 29.8 284.3 28.1 286.5 28.8Z" fill="#fff700"/>
<path d="M258.4 38.9 256.3 38.2 258.5 36.5 260.6 37.2Z" fill="#beff00"/>
<path d="M303.7 25.1 301.5 24.3 303.6 22.6 305.8 23.4Z" fill="#ffcc00"/>
<path d="M247.6 42.5 245.5 41.8 247.7 40.2 249.8 40.9Z" fill="#9eff00"/>
<path d="M236.7 46.1 234.7 45.4 236.9 43.7 239 44.4Z" fill="#7fff00"/>
<path d="M219.4 53 217.3 52.3 219.6 50.4 221.6 51.1Z" fill="#45ff00"/>
<path d="M273.5 34.2 271.4 33.5 273.5 31.7 275.7 32.5Z" fill="#e9ff00"/>
<path d="M288.6 29.6 286.5 28.8 288.6 27.1 290.8 27.9Z" fill="#ffef00"/>
<path d="M308 24.2 305.8 23.4 308 21.7 310.2 22.5Z" fill="#ffc500"/>
<path d="M262.7 37.9 260.6 37.2 262.8 35.5 264.9 36.2Z" fill="#c8ff00"/>
<path d="M230.2 48.8 228.1 48.1 230.4 46.4 232.4 47.1Z" fill="#69ff00"/>
<path d="M312.4 23.2 310.2 22.5 312.3 20.8 314.5 21.5Z" fill="#ffbd00"/>
<path d="M251.9 41.6 249.8 40.9 252 39.2 254.1 39.9Z" fill="#a8ff00"/>
<path d="M292.9 28.6 290.8 27.9 292.9 26.2 295.1 26.9Z" fill="#ffe700"/>
<path d="M241.1 45.1 239 44.4 241.2 42.8 243.3 43.5Z" fill="#89ff00"/>
<path d="M277.8 33.2 275.7 32.5 277.8 30.7 280 31.5Z" fill="#f2ff00"/>
<path d="M316.7 22.3 314.5 21.5 316.6 19.9 318.8 20.6Z" fill="#ffb500"/>
<path d="M223.7 51.8 221.6 51.1 223.8 49.2 225.9 49.9Z" fill="#51ff00"/>
<path d="M297.3 27.7 295.1 26.9 297.2 25.2 299.4 26Z" fill="#ffdf00"/>
<path d="M267 36.9 264.9 36.2 267.1 34.5 269.2 35.2Z" fill="#d2ff00"/>
<path d="M321 21.4 318.8 20.6 320.9 19 323.1 19.7Z" fill="#ffae00"/>
<path d="M217.1 54.7 215 54 217.3 52.3 219.4 53Z" fill="#38ff00"/>
<path d="M256.2 40.6 254.1 39.9 256.3 38.2 258.4 38.9Z" fill="#b1ff00"/>
<path d="M282.1 32.2 280 31.5 282.1 29.8 284.3 30.5Z" fill="#fcff00"/>
<path d="M234.5 47.7 232.4 47.1 234.7 45.4 236.7 46.1Z" fill="#73ff00"/>
<path d="M245.4 44.2 243.3 43.5 245.5 41.8 247.6 42.5Z" fill="#92ff00"/>
<path d="M325.4 20.5 323.1 19.7 325.2 18.1 327.5 18.9Z" fill="#ffa600"/>
<path d="M301.6 26.8 299.4 26 301.5 24.3 303.7 25.1Z" fill="#ffd700"/>
<path d="M271.3 35.9 269.2 35.2 271.4 33.5 273.5 34.2Z" fill="#dcff00"/>
<path d="M286.5 31.3 284.3 30.5 286.5 28.8 288.6 29.6Z" fill="#fff900"/>
<path d="M305.9 25.8 303.7 25.1 305.8 23.4 308 24.2Z" fill="#ffcf00"/>
<path d="M228 50.6 225.9 49.9 228.1 48.1 230.2 48.8Z" fill="#5cff00"/>
<path d="M260.5 39.7 258.4 38.9 260.6 37.2 262.7 37.9Z" fill="#bbff00"/>
<path d="M249.7 43.2 247.6 42.5 249.8 40.9 251.9 41.6Z" fill="#9cff00"/>
<path d="M238.8 46.8 236.7 46.1 239 44.4 241.1 45.1Z" fill="#7dff00"/>
<path d="M221.4 53.6 219.4 53 221.6 51.1 223.7 51.8Z" fill="#43ff00"/>
<path d="M310.3 24.9 308 24.2 310.2 22.5 312.4 23.2Z" fill="#ffc800"/>
<path d="M290.8 30.3 288.6 29.6 290.8 27.9 292.9 28.6Z" fill="#fff100"/>
<path d="M275.7 34.9 273.5 34.2 275.7 32.5 277.8 33.2Z" fill="#e6ff00"/>
<path d="M314.6 24 312.4 23.2 314.5 21.5 316.7 22.3Z" fill="#ffc000"/>
<path d="M264.8 38.7 262.7 37.9 264.9 36.2 267 36.9Z" fill="#c5ff00"/>
<path d="M214.8 56.3 212.8 55.6 215 54 217.1 54.7Z" fill="#2cff00"/>
<path d="M295.1 29.4 292.9 28.6 295.1 26.9 297.3 27.7Z" fill="#ffea00"/>
<path d="M232.3 49.5 230.2 48.8 232.4 47.1 234.5 47.7Z" fill="#67ff00"/>
<path d="M254 42.3 251.9 41.6 254.1 39.9 256.2 40.6Z" fill="#a5ff00"/>
<path d="M280 33.9 277.8 33.2 280 31.5 282.1 32.2Z" fill="#efff00"/>
<path d="M318.9 23.1 316.7 22.3 318.8 20.6 321 21.4Z" fill="#ffb800"/>
<path d="M243.1 45.8 241.1 45.1 243.3 43.5 245.4 44.2Z" fill="#87ff00"/>
<path d="M299.5 28.5 297.3 27.7 299.4 26 301.6 26.8Z" fill="#ffe200"/>
<path d="M323.3 22.2 321 21.4 323.1 19.7 325.4 20.5Z" fill="#ffb100"/>
<path d="M225.7 52.5 223.7 51.8 225.9 49.9 228 50.6Z" fill="#4eff00"/>
<path d="M269.2 37.7 267 36.9 269.2 35.2 271.3 35.9Z" fill="#cfff00"/>
<path d="M284.3 33 282.1 32.2 284.3 30.5 286.5 31.3Z" fill="#f9ff00"/>
<path d="M327.6 21.3 325.4 20.5 327.5 18.9 329.7 19.7Z" fill="#ffa900"/>
<path d="M258.3 41.4 256.2 40.6 258.4 38.9 260.5 39.7Z" fill="#aeff00"/>
<path d="M219.1 55.4 217.1 54.7 219.4 53 221.4 53.6Z" fill="#36ff00"/>
<path d="M303.8 27.5 301.6 26.8 303.7 25.1 305.9 25.8Z" fill="#ffda00"/>
<path d="M236.6 48.4 234.5 47.7 236.7 46.1 238.8 46.8Z" fill="#71ff00"/>
<path d="M247.5 44.9 245.4 44.2 247.6 42.5 249.7 43.2Z" fill="#90ff00"/>
<path d="M273.5 36.7 271.3 35.9 273.5 34.2 275.7 34.9Z" fill="#d9ff00"/>
<path d="M288.6 32 286.5 31.3 288.6 29.6 290.8 30.3Z" fill="#fffc00"/>
<path d="M308.1 26.6 305.9 25.8 308 24.2 310.3 24.9Z" fill="#ffd200"/>
<path d="M262.6 40.4 260.5 39.7 262.7 37.9 264.8 38.7Z" fill="#b8ff00"/>
<path d="M212.5 57.7 210.5 57 212.8 55.6 214.8 56.3Z" fill="#22ff00"/>
<path d="M230 51.3 228 50.6 230.2 48.8 232.3 49.5Z" fill="#5aff00"/>
<path d="M312.5 25.7 310.3 24.9 312.4 23.2 314.6 24Z" fill="#ffcb00"/>
<path d="M251.8 43.9 249.7 43.2 251.9 41.6 254 42.3Z" fill="#99ff00"/>
<path d="M293 31.1 290.8 30.3 292.9 28.6 295.1 29.4Z" fill="#fff400"/>
<path d="M240.9 47.5 238.8 46.8 241.1 45.1 243.1 45.8Z" fill="#7bff00"/>
<path d="M277.8 35.7 275.7 34.9 277.8 33.2 280 33.9Z" fill="#e3ff00"/>
<path d="M223.5 54.3 221.4 53.6 223.7 51.8 225.7 52.5Z" fill="#41ff00"/>
<path d="M316.8 24.8 314.6 24 316.7 22.3 318.9 23.1Z" fill="#ffc300"/>
<path d="M267 39.4 264.8 38.7 267 36.9 269.2 37.7Z" fill="#c2ff00"/>
<path d="M297.3 30.1 295.1 29.4 297.3 27.7 299.5 28.5Z" fill="#ffec00"/>
<path d="M321.2 23.9 318.9 23.1 321 21.4 323.3 22.2Z" fill="#ffbb00"/>
<path d="M216.9 57 214.8 56.3 217.1 54.7 219.1 55.4Z" fill="#2aff00"/>
<path d="M256.1 43 254 42.3 256.2 40.6 258.3 41.4Z" fill="#a2ff00"/>
<path d="M282.2 34.7 280 33.9 282.1 32.2 284.3 33Z" fill="#ecff00"/>
<path d="M234.4 50.2 232.3 49.5 234.5 47.7 236.6 48.4Z" fill="#65ff00"/>
<path d="M245.2 46.5 243.1 45.8 245.4 44.2 247.5 44.9Z" fill="#84ff00"/>
<path d="M325.5 23 323.3 22.2 325.4 20.5 327.6 21.3Z" fill="#ffb400"/>
<path d="M301.7 29.2 299.5 28.5 301.6 26.8 303.8 27.5Z" fill="#ffe500"/>
<path d="M271.3 38.4 269.2 37.7 271.3 35.9 273.5 36.7Z" fill="#ccff00"/>
<path d="M329.9 22.1 327.6 21.3 329.7 19.7 332 20.5Z" fill="#ffad00"/>
<path d="M227.8 53.2 225.7 52.5 228 50.6 230 51.3Z" fill="#4cff00"/>
<path d="M286.5 33.7 284.3 33 286.5 31.3 288.6 32Z" fill="#f6ff00"/>
<path d="M306 28.3 303.8 27.5 305.9 25.8 308.1 26.6Z" fill="#ffdd00"/>
<path d="M210.2 59.2 208.2 58.4 210.5 57 212.5 57.7Z" fill="#19ff00"/>
<path d="M260.4 42.1 258.3 41.4 260.5 39.7 262.6 40.4Z" fill="#acff00"/>
<path d="M249.6 45.6 247.5 44.9 249.7 43.2 251.8 43.9Z" fill="#8dff00"/>
<path d="M221.2 56.1 219.1 55.4 221.4 53.6 223.5 54.3Z" fill="#34ff00"/>
<path d="M238.7 49.2 236.6 48.4 238.8 46.8 240.9 47.5Z" fill="#6fff00"/>
<path d="M310.4 27.4 308.1 26.6 310.3 24.9 312.5 25.7Z" fill="#ffd500"/>
<path d="M290.8 32.8 288.6 32 290.8 30.3 293 31.1Z" fill="#ffff00"/>
<path d="M275.6 37.4 273.5 36.7 275.7 34.9 277.8 35.7Z" fill="#d6ff00"/>
<path d="M264.8 41.1 262.6 40.4 264.8 38.7 267 39.4Z" fill="#b5ff00"/>
<path d="M314.7 26.5 312.5 25.7 314.6 24 316.8 24.8Z" fill="#ffce00"/>
<path d="M232.1 52 230 51.3 232.3 49.5 234.4 50.2Z" fill="#58ff00"/>
<path d="M214.6 58.4 212.5 57.7 214.8 56.3 216.9 57Z" fill="#20ff00"/>
<path d="M295.2 31.8 293 31.1 295.1 29.4 297.3 30.1Z" fill="#fff700"/>
<path d="M253.9 44.7 251.8 43.9 254 42.3 256.1 43Z" fill="#96ff00"/>
<path d="M280 36.4 277.8 35.7 280 33.9 282.2 34.7Z" fill="#e0ff00"/>
<path d="M243 48.2 240.9 47.5 243.1 45.8 245.2 46.5Z" fill="#78ff00"/>
<path d="M319.1 25.6 316.8 24.8 318.9 23.1 321.2 23.9Z" fill="#ffc600"/>
<path d="M225.5 55 223.5 54.3 225.7 52.5 227.8 53.2Z" fill="#3fff00"/>
<path d="M299.5 30.9 297.3 30.1 299.5 28.5 301.7 29.2Z" fill="#ffef00"/>
<path d="M323.4 24.7 321.2 23.9 323.3 22.2 325.5 23Z" fill="#ffbf00"/>
<path d="M269.1 40.1 267 39.4 269.2 37.7 271.3 38.4Z" fill="#bfff00"/>
<path d="M284.3 35.5 282.2 34.7 284.3 33 286.5 33.7Z" fill="#e9ff00"/>
<path d="M207.9 60.6 205.9 59.9 208.2 58.4 210.2 59.2Z" fill="#0fff00"/>
<path d="M258.2 43.8 256.1 43 258.3 41.4 260.4 42.1Z" fill="#a0ff00"/>
<path d="M327.8 23.8 325.5 23 327.6 21.3 329.9 22.1Z" fill="#ffb700"/>
<path d="M218.9 57.7 216.9 57 219.1 55.4 221.2 56.1Z" fill="#28ff00"/>
<path d="M236.4 50.9 234.4 50.2 236.6 48.4 238.7 49.2Z" fill="#62ff00"/>
<path d="M303.9 30 301.7 29.2 303.8 27.5 306 28.3Z" fill="#ffe800"/>
<path d="M247.3 47.2 245.2 46.5 247.5 44.9 249.6 45.6Z" fill="#82ff00"/>
<path d="M332.1 22.9 329.9 22.1 332 20.5 334.2 21.3Z" fill="#ffb000"/>
<path d="M273.5 39.1 271.3 38.4 273.5 36.7 275.6 37.4Z" fill="#c9ff00"/>
<path d="M288.7 34.5 286.5 33.7 288.6 32 290.8 32.8Z" fill="#f3ff00"/>
<path d="M308.2 29.1 306 28.3 308.1 26.6 310.4 27.4Z" fill="#ffe000"/>
<path d="M229.9 53.9 227.8 53.2 230 51.3 232.1 52Z" fill="#4aff00"/>
<path d="M262.6 42.8 260.4 42.1 262.6 40.4 264.8 41.1Z" fill="#a9ff00"/>
<path d="M212.3 59.9 210.2 59.2 212.5 57.7 214.6 58.4Z" fill="#16ff00"/>
<path d="M312.6 28.2 310.4 27.4 312.5 25.7 314.7 26.5Z" fill="#ffd800"/>
<path d="M251.7 46.3 249.6 45.6 251.8 43.9 253.9 44.7Z" fill="#8bff00"/>
<path d="M240.8 49.9 238.7 49.2 240.9 47.5 243 48.2Z" fill="#6cff00"/>
<path d="M293 33.5 290.8 32.8 293 31.1 295.2 31.8Z" fill="#fcff00"/>
<path d="M223.3 56.8 221.2 56.1 223.5 54.3 225.5 55Z" fill="#32ff00"/>
<path d="M277.8 38.1 275.6 37.4 277.8 35.7 280 36.4Z" fill="#d3ff00"/>
<path d="M316.9 27.3 314.7 26.5 316.8 24.8 319.1 25.6Z" fill="#ffd100"/>
<path d="M266.9 41.9 264.8 41.1 267 39.4 269.1 40.1Z" fill="#b3ff00"/>
<path d="M297.4 32.6 295.2 31.8 297.3 30.1 299.5 30.9Z" fill="#fffa00"/>
<path d="M205.6 62.1 203.6 61.3 205.9 59.9 207.9 60.6Z" fill="#06ff00"/>
<path d="M321.3 26.4 319.1 25.6 321.2 23.9 323.4 24.7Z" fill="#ffc900"/>
<path d="M234.2 52.7 232.1 52 234.4 50.2 236.4 50.9Z" fill="#55ff00"/>
<path d="M282.2 37.2 280 36.4 282.2 34.7 284.3 35.5Z" fill="#ddff00"/>
<path d="M256 45.4 253.9 44.7 256.1 43 258.2 43.8Z" fill="#94ff00"/>
<path d="M216.6 59.1 214.6 58.4 216.9 57 218.9 57.7Z" fill="#1eff00"/>
<path d="M245.1 48.9 243 48.2 245.2 46.5 247.3 47.2Z" fill="#76ff00"/>
<path d="M325.7 25.5 323.4 24.7 325.5 23 327.8 23.8Z" fill="#ffc200"/>
<path d="M301.7 31.7 299.5 30.9 301.7 29.2 303.9 30Z" fill="#fff200"/>
<path d="M227.6 55.7 225.5 55 227.8 53.2 229.9 53.9Z" fill="#3dff00"/>
<path d="M271.3 40.9 269.1 40.1 271.3 38.4 273.5 39.1Z" fill="#bcff00"/>
<path d="M330 24.6 327.8 23.8 329.9 22.1 332.1 22.9Z" fill="#ffba00"/>
<path d="M286.5 36.2 284.3 35.5 286.5 33.7 288.7 34.5Z" fill="#e6ff00"/>
<path d="M260.4 44.5 258.2 43.8 260.4 42.1 262.6 42.8Z" fill="#9dff00"/>
<path d="M306.1 30.8 303.9 30 306 28.3 308.2 29.1Z" fill="#ffea00"/>
<path d="M334.4 23.7 332.1 22.9 334.2 21.3 336.5 22.1Z" fill="#ffb300"/>
<path d="M210 61.4 207.9 60.6 210.2 59.2 212.3 59.9Z" fill="#0dff00"/>
<path d="M221 58.4 218.9 57.7 221.2 56.1 223.3 56.8Z" fill="#26ff00"/>
<path d="M238.5 51.6 236.4 50.9 238.7 49.2 240.8 49.9Z" fill="#60ff00"/>
<path d="M249.5 48 247.3 47.2 249.6 45.6 251.7 46.3Z" fill="#7fff00"/>
<path d="M275.6 39.9 273.5 39.1 275.6 37.4 277.8 38.1Z" fill="#c6ff00"/>
<path d="M290.9 35.3 288.7 34.5 290.8 32.8 293 33.5Z" fill="#efff00"/>
<path d="M310.5 29.9 308.2 29.1 310.4 27.4 312.6 28.2Z" fill="#ffe300"/>
<path d="M264.7 43.6 262.6 42.8 264.8 41.1 266.9 41.9Z" fill="#a6ff00"/>
<path d="M231.9 54.6 229.9 53.9 232.1 52 234.2 52.7Z" fill="#48ff00"/>
<path d="M314.8 29 312.6 28.2 314.7 26.5 316.9 27.3Z" fill="#ffdb00"/>
<path d="M203.3 63.5 201.3 62.8 203.6 61.3 205.6 62.1Z" fill="#00ff04"/>
<path d="M295.2 34.3 293 33.5 295.2 31.8 297.4 32.6Z" fill="#f9ff00"/>
<path d="M214.3 60.6 212.3 59.9 214.6 58.4 216.6 59.1Z" fill="#14ff00"/>
<path d="M253.8 47.1 251.7 46.3 253.9 44.7 256 45.4Z" fill="#88ff00"/>
<path d="M280 38.9 277.8 38.1 280 36.4 282.2 37.2Z" fill="#d0ff00"/>
<path d="M242.9 50.6 240.8 49.9 243 48.2 245.1 48.9Z" fill="#6aff00"/>
<path d="M319.2 28.1 316.9 27.3 319.1 25.6 321.3 26.4Z" fill="#ffd400"/>
<path d="M225.3 57.5 223.3 56.8 225.5 55 227.6 55.7Z" fill="#30ff00"/>
<path d="M269.1 42.6 266.9 41.9 269.1 40.1 271.3 40.9Z" fill="#b0ff00"/>
<path d="M299.6 33.4 297.4 32.6 299.5 30.9 301.7 31.7Z" fill="#fffd00"/>
<path d="M323.6 27.2 321.3 26.4 323.4 24.7 325.7 25.5Z" fill="#ffcc00"/>
<path d="M284.3 37.9 282.2 37.2 284.3 35.5 286.5 36.2Z" fill="#d9ff00"/>
<path d="M258.2 46.1 256 45.4 258.2 43.8 260.4 44.5Z" fill="#91ff00"/>
<path d="M236.3 53.4 234.2 52.7 236.4 50.9 238.5 51.6Z" fill="#53ff00"/>
<path d="M207.7 62.8 205.6 62.1 207.9 60.6 210 61.4Z" fill="#03ff00"/>
<path d="M327.9 26.3 325.7 25.5 327.8 23.8 330 24.6Z" fill="#ffc500"/>
<path d="M218.7 59.9 216.6 59.1 218.9 57.7 221 58.4Z" fill="#1cff00"/>
<path d="M304 32.5 301.7 31.7 303.9 30 306.1 30.8Z" fill="#fff500"/>
<path d="M247.2 49.6 245.1 48.9 247.3 47.2 249.5 48Z" fill="#73ff00"/>
<path d="M332.3 25.4 330 24.6 332.1 22.9 334.4 23.7Z" fill="#ffbe00"/>
<path d="M273.4 41.6 271.3 40.9 273.5 39.1 275.6 39.9Z" fill="#baff00"/>
<path d="M229.7 56.4 227.6 55.7 229.9 53.9 231.9 54.6Z" fill="#3aff00"/>
<path d="M288.7 37 286.5 36.2 288.7 34.5 290.9 35.3Z" fill="#e3ff00"/>
<path d="M336.7 24.5 334.4 23.7 336.5 22.1 338.8 22.9Z" fill="#ffb600"/>
<path d="M308.3 31.6 306.1 30.8 308.2 29.1 310.5 29.9Z" fill="#ffed00"/>
<path d="M262.5 45.2 260.4 44.5 262.6 42.8 264.7 43.6Z" fill="#9aff00"/>
<path d="M201 65 199 64.3 201.3 62.8 203.3 63.5Z" fill="#00ff0c"/>
<path d="M212 62.1 210 61.4 212.3 59.9 214.3 60.6Z" fill="#0aff00"/>
<path d="M251.6 48.7 249.5 48 251.7 46.3 253.8 47.1Z" fill="#7cff00"/>
<path d="M240.6 52.3 238.5 51.6 240.8 49.9 242.9 50.6Z" fill="#5eff00"/>
<path d="M312.7 30.7 310.5 29.9 312.6 28.2 314.8 29Z" fill="#ffe600"/>
<path d="M223.1 59.1 221 58.4 223.3 56.8 225.3 57.5Z" fill="#24ff00"/>
<path d="M293.1 36 290.9 35.3 293 33.5 295.2 34.3Z" fill="#ecff00"/>
<path d="M277.8 40.6 275.6 39.9 277.8 38.1 280 38.9Z" fill="#c3ff00"/>
<path d="M317.1 29.8 314.8 29 316.9 27.3 319.2 28.1Z" fill="#ffde00"/>
<path d="M266.9 44.3 264.7 43.6 266.9 41.9 269.1 42.6Z" fill="#a4ff00"/>
<path d="M234 55.3 231.9 54.6 234.2 52.7 236.3 53.4Z" fill="#46ff00"/>
<path d="M297.4 35.1 295.2 34.3 297.4 32.6 299.6 33.4Z" fill="#f5ff00"/>
<path d="M205.4 64.3 203.3 63.5 205.6 62.1 207.7 62.8Z" fill="#00ff06"/>
<path d="M321.4 28.9 319.2 28.1 321.3 26.4 323.6 27.2Z" fill="#ffd700"/>
<path d="M282.2 39.7 280 38.9 282.2 37.2 284.3 37.9Z" fill="#cdff00"/>
<path d="M255.9 47.8 253.8 47.1 256 45.4 258.2 46.1Z" fill="#85ff00"/>
<path d="M216.4 61.3 214.3 60.6 216.6 59.1 218.7 59.9Z" fill="#12ff00"/>
<path d="M245 51.3 242.9 50.6 245.1 48.9 247.2 49.6Z" fill="#67ff00"/>
<path d="M227.4 58.2 225.3 57.5 227.6 55.7 229.7 56.4Z" fill="#2dff00"/>
<path d="M325.8 28 323.6 27.2 325.7 25.5 327.9 26.3Z" fill="#ffcf00"/>
<path d="M301.8 34.2 299.6 33.4 301.7 31.7 304 32.5Z" fill="#feff00"/>
<path d="M271.2 43.3 269.1 42.6 271.3 40.9 273.4 41.6Z" fill="#adff00"/>
<path d="M330.2 27.1 327.9 26.3 330 24.6 332.3 25.4Z" fill="#ffc800"/>
<path d="M286.5 38.7 284.3 37.9 286.5 36.2 288.7 37Z" fill="#d6ff00"/>
<path d="M198.7 66.5 196.6 65.8 199 64.3 201 65Z" fill="#00ff15"/>
<path d="M260.3 46.9 258.2 46.1 260.4 44.5 262.5 45.2Z" fill="#8eff00"/>
<path d="M306.2 33.2 304 32.5 306.1 30.8 308.3 31.6Z" fill="#fff800"/>
<path d="M238.4 54.2 236.3 53.4 238.5 51.6 240.6 52.3Z" fill="#51ff00"/>
<path d="M334.6 26.2 332.3 25.4 334.4 23.7 336.7 24.5Z" fill="#ffc100"/>
<path d="M209.7 63.6 207.7 62.8 210 61.4 212 62.1Z" fill="#01ff00"/>
<path d="M249.4 50.4 247.2 49.6 249.5 48 251.6 48.7Z" fill="#71ff00"/>
<path d="M220.8 60.6 218.7 59.9 221 58.4 223.1 59.1Z" fill="#19ff00"/>
<path d="M339 25.4 336.7 24.5 338.8 22.9 341.1 23.7Z" fill="#ffba00"/>
<path d="M275.6 42.4 273.4 41.6 275.6 39.9 277.8 40.6Z" fill="#b7ff00"/>
<path d="M290.9 37.7 288.7 37 290.9 35.3 293.1 36Z" fill="#e0ff00"/>
<path d="M310.6 32.4 308.3 31.6 310.5 29.9 312.7 30.7Z" fill="#fff000"/>
<path d="M231.8 57.2 229.7 56.4 231.9 54.6 234 55.3Z" fill="#38ff00"/>
<path d="M264.7 46 262.5 45.2 264.7 43.6 266.9 44.3Z" fill="#98ff00"/>
<path d="M314.9 31.5 312.7 30.7 314.8 29 317.1 29.8Z" fill="#ffe900"/>
<path d="M203 65.8 201 65 203.3 63.5 205.4 64.3Z" fill="#00ff0f"/>
<path d="M295.3 36.8 293.1 36 295.2 34.3 297.4 35.1Z" fill="#e9ff00"/>
<path d="M253.7 49.4 251.6 48.7 253.8 47.1 255.9 47.8Z" fill="#7aff00"/>
<path d="M280 41.4 277.8 40.6 280 38.9 282.2 39.7Z" fill="#c0ff00"/>
<path d="M242.7 53.1 240.6 52.3 242.9 50.6 245 51.3Z" fill="#5bff00"/>
<path d="M214.1 62.8 212 62.1 214.3 60.6 216.4 61.3Z" fill="#08ff00"/>
<path d="M225.1 59.8 223.1 59.1 225.3 57.5 227.4 58.2Z" fill="#22ff00"/>
<path d="M319.3 30.6 317.1 29.8 319.2 28.1 321.4 28.9Z" fill="#ffe100"/>
<path d="M269 45 266.9 44.3 269.1 42.6 271.2 43.3Z" fill="#a1ff00"/>
<path d="M299.6 35.9 297.4 35.1 299.6 33.4 301.8 34.2Z" fill="#f2ff00"/>
<path d="M323.7 29.7 321.4 28.9 323.6 27.2 325.8 28Z" fill="#ffda00"/>
<path d="M196.3 68.1 194.3 67.3 196.6 65.8 198.7 66.5Z" fill="#00ff1f"/>
<path d="M236.1 56 234 55.3 236.3 53.4 238.4 54.2Z" fill="#43ff00"/>
<path d="M284.3 40.4 282.2 39.7 284.3 37.9 286.5 38.7Z" fill="#caff00"/>
<path d="M258.1 48.5 255.9 47.8 258.2 46.1 260.3 46.9Z" fill="#83ff00"/>
<path d="M207.4 65.1 205.4 64.3 207.7 62.8 209.7 63.6Z" fill="#00ff08"/>
<path d="M328.1 28.8 325.8 28 327.9 26.3 330.2 27.1Z" fill="#ffd300"/>
<path d="M247.1 52.1 245 51.3 247.2 49.6 249.4 50.4Z" fill="#65ff00"/>
<path d="M218.5 62.1 216.4 61.3 218.7 59.9 220.8 60.6Z" fill="#10ff00"/>
<path d="M304 34.9 301.8 34.2 304 32.5 306.2 33.2Z" fill="#fbff00"/>
<path d="M332.5 27.9 330.2 27.1 332.3 25.4 334.6 26.2Z" fill="#ffcb00"/>
<path d="M229.5 58.9 227.4 58.2 229.7 56.4 231.8 57.2Z" fill="#2bff00"/>
<path d="M273.4 44.1 271.2 43.3 273.4 41.6 275.6 42.4Z" fill="#aaff00"/>
<path d="M288.7 39.5 286.5 38.7 288.7 37 290.9 37.7Z" fill="#d3ff00"/>
<path d="M336.9 27 334.6 26.2 336.7 24.5 339 25.4Z" fill="#ffc400"/>
<path d="M308.4 34 306.2 33.2 308.3 31.6 310.6 32.4Z" fill="#fffb00"/>
<path d="M262.5 47.6 260.3 46.9 262.5 45.2 264.7 46Z" fill="#8cff00"/>
<path d="M200.7 67.3 198.7 66.5 201 65 203 65.8Z" fill="#00ff18"/>
<path d="M341.3 26.2 339 25.4 341.1 23.7 343.4 24.5Z" fill="#ffbd00"/>
<path d="M240.5 54.9 238.4 54.2 240.6 52.3 242.7 53.1Z" fill="#4eff00"/>
<path d="M251.5 51.1 249.4 50.4 251.6 48.7 253.7 49.4Z" fill="#6eff00"/>
<path d="M211.8 64.3 209.7 63.6 212 62.1 214.1 62.8Z" fill="#00ff01"/>
<path d="M312.8 33.1 310.6 32.4 312.7 30.7 314.9 31.5Z" fill="#fff300"/>
<path d="M277.8 43.1 275.6 42.4 277.8 40.6 280 41.4Z" fill="#b4ff00"/>
<path d="M293.1 38.5 290.9 37.7 293.1 36 295.3 36.8Z" fill="#ddff00"/>
<path d="M222.8 61.3 220.8 60.6 223.1 59.1 225.1 59.8Z" fill="#17ff00"/>
<path d="M233.9 57.9 231.8 57.2 234 55.3 236.1 56Z" fill="#36ff00"/>
<path d="M194 69.6 192 68.8 194.3 67.3 196.3 68.1Z" fill="#00ff28"/>
<path d="M317.2 32.3 314.9 31.5 317.1 29.8 319.3 30.6Z" fill="#ffec00"/>
<path d="M266.8 46.7 264.7 46 266.9 44.3 269 45Z" fill="#95ff00"/>
<path d="M297.5 37.6 295.3 36.8 297.4 35.1 299.6 35.9Z" fill="#e6ff00"/>
<path d="M282.2 42.2 280 41.4 282.2 39.7 284.3 40.4Z" fill="#bdff00"/>
<path d="M205.1 66.6 203 65.8 205.4 64.3 207.4 65.1Z" fill="#00ff11"/>
<path d="M321.6 31.4 319.3 30.6 321.4 28.9 323.7 29.7Z" fill="#ffe400"/>
<path d="M255.9 50.2 253.7 49.4 255.9 47.8 258.1 48.5Z" fill="#77ff00"/>
<path d="M244.9 53.8 242.7 53.1 245 51.3 247.1 52.1Z" fill="#59ff00"/>
<path d="M216.2 63.6 214.1 62.8 216.4 61.3 218.5 62.1Z" fill="#06ff00"/>
<path d="M227.2 60.5 225.1 59.8 227.4 58.2 229.5 58.9Z" fill="#1fff00"/>
<path d="M326 30.5 323.7 29.7 325.8 28 328.1 28.8Z" fill="#ffdd00"/>
<path d="M301.9 36.6 299.6 35.9 301.8 34.2 304 34.9Z" fill="#efff00"/>
<path d="M271.2 45.8 269 45 271.2 43.3 273.4 44.1Z" fill="#9eff00"/>
<path d="M286.5 41.2 284.3 40.4 286.5 38.7 288.7 39.5Z" fill="#c7ff00"/>
<path d="M330.4 29.6 328.1 28.8 330.2 27.1 332.5 27.9Z" fill="#ffd600"/>
<path d="M198.4 68.9 196.3 68.1 198.7 66.5 200.7 67.3Z" fill="#00ff21"/>
<path d="M238.2 56.8 236.1 56 238.4 54.2 240.5 54.9Z" fill="#41ff00"/>
<path d="M260.2 49.3 258.1 48.5 260.3 46.9 262.5 47.6Z" fill="#80ff00"/>
<path d="M306.3 35.7 304 34.9 306.2 33.2 308.4 34Z" fill="#f8ff00"/>
<path d="M334.8 28.7 332.5 27.9 334.6 26.2 336.9 27Z" fill="#ffce00"/>
<path d="M209.5 65.8 207.4 65.1 209.7 63.6 211.8 64.3Z" fill="#00ff0a"/>
<path d="M249.2 52.8 247.1 52.1 249.4 50.4 251.5 51.1Z" fill="#62ff00"/>
<path d="M220.6 62.8 218.5 62.1 220.8 60.6 222.8 61.3Z" fill="#0dff00"/>
<path d="M275.6 44.9 273.4 44.1 275.6 42.4 277.8 43.1Z" fill="#a7ff00"/>
<path d="M339.2 27.9 336.9 27 339 25.4 341.3 26.2Z" fill="#ffc700"/>
<path d="M290.9 40.2 288.7 39.5 290.9 37.7 293.1 38.5Z" fill="#d0ff00"/>
<path d="M231.6 59.6 229.5 58.9 231.8 57.2 233.9 57.9Z" fill="#29ff00"/>
<path d="M310.7 34.8 308.4 34 310.6 32.4 312.8 33.1Z" fill="#fffe00"/>
<path d="M191.7 71.1 189.6 70.3 192 68.8 194 69.6Z" fill="#00ff31"/>
<path d="M343.6 27 341.3 26.2 343.4 24.5 345.7 25.4Z" fill="#ffc000"/>
<path d="M264.6 48.4 262.5 47.6 264.7 46 266.8 46.7Z" fill="#89ff00"/>
<path d="M315.1 33.9 312.8 33.1 314.9 31.5 317.2 32.3Z" fill="#fff600"/>
<path d="M202.8 68.1 200.7 67.3 203 65.8 205.1 66.6Z" fill="#00ff1a"/>
<path d="M242.6 55.6 240.5 54.9 242.7 53.1 244.9 53.8Z" fill="#4cff00"/>
<path d="M295.3 39.3 293.1 38.5 295.3 36.8 297.5 37.6Z" fill="#daff00"/>
<path d="M280 43.9 277.8 43.1 280 41.4 282.2 42.2Z" fill="#b1ff00"/>
<path d="M253.6 51.8 251.5 51.1 253.7 49.4 255.9 50.2Z" fill="#6cff00"/>
<path d="M213.9 65.1 211.8 64.3 214.1 62.8 216.2 63.6Z" fill="#00ff04"/>
<path d="M224.9 62.1 222.8 61.3 225.1 59.8 227.2 60.5Z" fill="#15ff00"/>
<path d="M319.5 33.1 317.2 32.3 319.3 30.6 321.6 31.4Z" fill="#ffef00"/>
<path d="M269 47.5 266.8 46.7 269 45 271.2 45.8Z" fill="#92ff00"/>
<path d="M236 58.6 233.9 57.9 236.1 56 238.2 56.8Z" fill="#34ff00"/>
<path d="M299.7 38.3 297.5 37.6 299.6 35.9 301.9 36.6Z" fill="#e3ff00"/>
<path d="M196 70.4 194 69.6 196.3 68.1 198.4 68.9Z" fill="#00ff2a"/>
<path d="M323.9 32.2 321.6 31.4 323.7 29.7 326 30.5Z" fill="#ffe700"/>
<path d="M284.4 42.9 282.2 42.2 284.3 40.4 286.5 41.2Z" fill="#baff00"/>
<path d="M258 50.9 255.9 50.2 258.1 48.5 260.2 49.3Z" fill="#75ff00"/>
<path d="M207.2 67.4 205.1 66.6 207.4 65.1 209.5 65.8Z" fill="#00ff13"/>
<path d="M247 54.6 244.9 53.8 247.1 52.1 249.2 52.8Z" fill="#56ff00"/>
<path d="M328.3 31.3 326 30.5 328.1 28.8 330.4 29.6Z" fill="#ffe000"/>
<path d="M304.1 37.4 301.9 36.6 304 34.9 306.3 35.7Z" fill="#ecff00"/>
<path d="M218.3 64.3 216.2 63.6 218.5 62.1 220.6 62.8Z" fill="#03ff00"/>
<path d="M229.3 61.3 227.2 60.5 229.5 58.9 231.6 59.6Z" fill="#1dff00"/>
<path d="M189.3 72.7 187.3 71.8 189.6 70.3 191.7 71.1Z" fill="#00ff3a"/>
<path d="M273.4 46.6 271.2 45.8 273.4 44.1 275.6 44.9Z" fill="#9bff00"/>
<path d="M332.7 30.4 330.4 29.6 332.5 27.9 334.8 28.7Z" fill="#ffd900"/>
<path d="M288.8 42 286.5 41.2 288.7 39.5 290.9 40.2Z" fill="#c4ff00"/>
<path d="M337.1 29.5 334.8 28.7 336.9 27 339.2 27.9Z" fill="#ffd200"/>
<path d="M308.5 36.5 306.3 35.7 308.4 34 310.7 34.8Z" fill="#f4ff00"/>
<path d="M240.4 57.5 238.2 56.8 240.5 54.9 242.6 55.6Z" fill="#3fff00"/>
<path d="M262.4 50 260.2 49.3 262.5 47.6 264.6 48.4Z" fill="#7eff00"/>
<path d="M200.4 69.7 198.4 68.9 200.7 67.3 202.8 68.1Z" fill="#00ff23"/>
<path d="M341.5 28.7 339.2 27.9 341.3 26.2 343.6 27Z" fill="#ffcb00"/>
<path d="M251.4 53.5 249.2 52.8 251.5 51.1 253.6 51.8Z" fill="#60ff00"/>
<path d="M345.9 28 343.6 27 345.7 25.4 348 26.3Z" fill="#ffc400"/>
<path d="M277.8 45.6 275.6 44.9 277.8 43.1 280 43.9Z" fill="#a5ff00"/>
<path d="M211.5 66.6 209.5 65.8 211.8 64.3 213.9 65.1Z" fill="#00ff0d"/>
<path d="M312.9 35.6 310.7 34.8 312.8 33.1 315.1 33.9Z" fill="#fdff00"/>
<path d="M293.1 41 290.9 40.2 293.1 38.5 295.3 39.3Z" fill="#cdff00"/>
<path d="M222.6 63.6 220.6 62.8 222.8 61.3 224.9 62.1Z" fill="#0bff00"/>
<path d="M233.7 60.4 231.6 59.6 233.9 57.9 236 58.6Z" fill="#27ff00"/>
<path d="M193.7 71.9 191.7 71.1 194 69.6 196 70.4Z" fill="#00ff33"/>
<path d="M317.3 34.7 315.1 33.9 317.2 32.3 319.5 33.1Z" fill="#fff900"/>
<path d="M266.8 49.1 264.6 48.4 266.8 46.7 269 47.5Z" fill="#86ff00"/>
<path d="M297.5 40.1 295.3 39.3 297.5 37.6 299.7 38.3Z" fill="#d6ff00"/>
<path d="M282.2 44.6 280 43.9 282.2 42.2 284.4 42.9Z" fill="#aeff00"/>
<path d="M244.7 56.4 242.6 55.6 244.9 53.8 247 54.6Z" fill="#49ff00"/>
<path d="M204.8 68.9 202.8 68.1 205.1 66.6 207.2 67.4Z" fill="#00ff1d"/>
<path d="M255.8 52.6 253.6 51.8 255.9 50.2 258 50.9Z" fill="#69ff00"/>
<path d="M321.7 33.9 319.5 33.1 321.6 31.4 323.9 32.2Z" fill="#fff200"/>
<path d="M186.9 74.2 184.9 73.4 187.3 71.8 189.3 72.7Z" fill="#00ff43"/>
<path d="M215.9 65.8 213.9 65.1 216.2 63.6 218.3 64.3Z" fill="#00ff06"/>
<path d="M227 62.8 224.9 62.1 227.2 60.5 229.3 61.3Z" fill="#13ff00"/>
<path d="M301.9 39.1 299.7 38.3 301.9 36.6 304.1 37.4Z" fill="#dfff00"/>
<path d="M326.1 33 323.9 32.2 326 30.5 328.3 31.3Z" fill="#ffeb00"/>
<path d="M271.2 48.2 269 47.5 271.2 45.8 273.4 46.6Z" fill="#8fff00"/>
<path d="M238.1 59.4 236 58.6 238.2 56.8 240.4 57.5Z" fill="#31ff00"/>
<path d="M286.6 43.7 284.4 42.9 286.5 41.2 288.8 42Z" fill="#b8ff00"/>
<path d="M198.1 71.2 196 70.4 198.4 68.9 200.4 69.7Z" fill="#00ff2d"/>
<path d="M330.6 32.1 328.3 31.3 330.4 29.6 332.7 30.4Z" fill="#ffe300"/>
<path d="M260.2 51.7 258 50.9 260.2 49.3 262.4 50Z" fill="#72ff00"/>
<path d="M306.4 38.2 304.1 37.4 306.3 35.7 308.5 36.5Z" fill="#e8ff00"/>
<path d="M249.1 55.3 247 54.6 249.2 52.8 251.4 53.5Z" fill="#54ff00"/>
<path d="M335 31.2 332.7 30.4 334.8 28.7 337.1 29.5Z" fill="#ffdc00"/>
<path d="M209.2 68.1 207.2 67.4 209.5 65.8 211.5 66.6Z" fill="#00ff16"/>
<path d="M275.6 47.3 273.4 46.6 275.6 44.9 277.8 45.6Z" fill="#98ff00"/>
<path d="M220.3 65.1 218.3 64.3 220.6 62.8 222.6 63.6Z" fill="#01ff00"/>
<path d="M231.4 62 229.3 61.3 231.6 59.6 233.7 60.4Z" fill="#1bff00"/>
<path d="M339.4 30.4 337.1 29.5 339.2 27.9 341.5 28.7Z" fill="#ffd500"/>
<path d="M291 42.7 288.8 42 290.9 40.2 293.1 41Z" fill="#c1ff00"/>
<path d="M191.3 73.5 189.3 72.7 191.7 71.1 193.7 71.9Z" fill="#00ff3d"/>
<path d="M310.8 37.3 308.5 36.5 310.7 34.8 312.9 35.6Z" fill="#f1ff00"/>
<path d="M343.8 29.6 341.5 28.7 343.6 27 345.9 28Z" fill="#ffce00"/>
<path d="M348.2 28.9 345.9 28 348 26.3 350.3 27.2Z" fill="#ffc800"/>
<path d="M264.6 50.8 262.4 50 264.6 48.4 266.8 49.1Z" fill="#7bff00"/>
<path d="M242.5 58.2 240.4 57.5 242.6 55.6 244.7 56.4Z" fill="#3cff00"/>
<path d="M202.5 70.5 200.4 69.7 202.8 68.1 204.8 68.9Z" fill="#00ff26"/>
<path d="M315.2 36.4 312.9 35.6 315.1 33.9 317.3 34.7Z" fill="#faff00"/>
<path d="M295.4 41.8 293.1 41 295.3 39.3 297.5 40.1Z" fill="#caff00"/>
<path d="M184.6 75.8 182.5 74.9 184.9 73.4 186.9 74.2Z" fill="#00ff4c"/>
<path d="M280 46.4 277.8 45.6 280 43.9 282.2 44.6Z" fill="#a2ff00"/>
<path d="M253.5 54.3 251.4 53.5 253.6 51.8 255.8 52.6Z" fill="#5dff00"/>
<path d="M213.6 67.4 211.5 66.6 213.9 65.1 215.9 65.8Z" fill="#00ff0f"/>
<path d="M224.7 64.3 222.6 63.6 224.9 62.1 227 62.8Z" fill="#09ff00"/>
<path d="M319.6 35.5 317.3 34.7 319.5 33.1 321.7 33.9Z" fill="#fffc00"/>
<path d="M235.8 61.1 233.7 60.4 236 58.6 238.1 59.4Z" fill="#24ff00"/>
<path d="M269 49.9 266.8 49.1 269 47.5 271.2 48.2Z" fill="#84ff00"/>
<path d="M195.7 72.8 193.7 71.9 196 70.4 198.1 71.2Z" fill="#00ff36"/>
<path d="M299.8 40.8 297.5 40.1 299.7 38.3 301.9 39.1Z" fill="#d3ff00"/>
<path d="M324 34.7 321.7 33.9 323.9 32.2 326.1 33Z" fill="#fff500"/>
<path d="M284.4 45.4 282.2 44.6 284.4 42.9 286.6 43.7Z" fill="#abff00"/>
<path d="M246.9 57.1 244.7 56.4 247 54.6 249.1 55.3Z" fill="#47ff00"/>
<path d="M257.9 53.3 255.8 52.6 258 50.9 260.2 51.7Z" fill="#66ff00"/>
<path d="M206.9 69.7 204.8 68.9 207.2 67.4 209.2 68.1Z" fill="#00ff1f"/>
<path d="M328.4 33.8 326.1 33 328.3 31.3 330.6 32.1Z" fill="#ffee00"/>
<path d="M304.2 39.9 301.9 39.1 304.1 37.4 306.4 38.2Z" fill="#dcff00"/>
<path d="M189 75.1 186.9 74.2 189.3 72.7 191.3 73.5Z" fill="#00ff46"/>
<path d="M218 66.6 215.9 65.8 218.3 64.3 220.3 65.1Z" fill="#00ff08"/>
<path d="M229.1 63.6 227 62.8 229.3 61.3 231.4 62Z" fill="#10ff00"/>
<path d="M273.4 49 271.2 48.2 273.4 46.6 275.6 47.3Z" fill="#8dff00"/>
<path d="M332.9 32.9 330.6 32.1 332.7 30.4 335 31.2Z" fill="#ffe600"/>
<path d="M288.8 44.4 286.6 43.7 288.8 42 291 42.7Z" fill="#b5ff00"/>
<path d="M240.2 60.1 238.1 59.4 240.4 57.5 242.5 58.2Z" fill="#2fff00"/>
<path d="M308.6 39 306.4 38.2 308.5 36.5 310.8 37.3Z" fill="#e5ff00"/>
<path d="M337.3 32.1 335 31.2 337.1 29.5 339.4 30.4Z" fill="#ffdf00"/>
<path d="M200.1 72 198.1 71.2 200.4 69.7 202.5 70.5Z" fill="#00ff2f"/>
<path d="M182.2 77.4 180.1 76.5 182.5 74.9 184.6 75.8Z" fill="#00ff56"/>
<path d="M262.3 52.4 260.2 51.7 262.4 50 264.6 50.8Z" fill="#6fff00"/>
<path d="M341.7 31.3 339.4 30.4 341.5 28.7 343.8 29.6Z" fill="#ffd900"/>
<path d="M251.3 56 249.1 55.3 251.4 53.5 253.5 54.3Z" fill="#51ff00"/>
<path d="M346.1 30.6 343.8 29.6 345.9 28 348.2 28.9Z" fill="#ffd200"/>
<path d="M277.8 48.1 275.6 47.3 277.8 45.6 280 46.4Z" fill="#96ff00"/>
<path d="M211.3 68.9 209.2 68.1 211.5 66.6 213.6 67.4Z" fill="#00ff18"/>
<path d="M350.6 29.9 348.2 28.9 350.3 27.2 352.7 28.2Z" fill="#ffcd00"/>
<path d="M293.2 43.5 291 42.7 293.1 41 295.4 41.8Z" fill="#beff00"/>
<path d="M313 38.1 310.8 37.3 312.9 35.6 315.2 36.4Z" fill="#eeff00"/>
<path d="M222.4 65.9 220.3 65.1 222.6 63.6 224.7 64.3Z" fill="#00ff01"/>
<path d="M233.5 62.8 231.4 62 233.7 60.4 235.8 61.1Z" fill="#19ff00"/>
<path d="M193.4 74.3 191.3 73.5 193.7 71.9 195.7 72.8Z" fill="#00ff3f"/>
<path d="M317.4 37.2 315.2 36.4 317.3 34.7 319.6 35.5Z" fill="#f6ff00"/>
<path d="M266.7 51.5 264.6 50.8 266.8 49.1 269 49.9Z" fill="#78ff00"/>
<path d="M244.6 59 242.5 58.2 244.7 56.4 246.9 57.1Z" fill="#3aff00"/>
<path d="M297.6 42.6 295.4 41.8 297.5 40.1 299.8 40.8Z" fill="#c7ff00"/>
<path d="M282.2 47.1 280 46.4 282.2 44.6 284.4 45.4Z" fill="#9fff00"/>
<path d="M204.6 71.3 202.5 70.5 204.8 68.9 206.9 69.7Z" fill="#00ff28"/>
<path d="M255.7 55 253.5 54.3 255.8 52.6 257.9 53.3Z" fill="#5bff00"/>
<path d="M186.6 76.6 184.6 75.8 186.9 74.2 189 75.1Z" fill="#00ff4f"/>
<path d="M321.9 36.4 319.6 35.5 321.7 33.9 324 34.7Z" fill="#ffff00"/>
<path d="M215.7 68.2 213.6 67.4 215.9 65.8 218 66.6Z" fill="#00ff11"/>
<path d="M226.8 65.1 224.7 64.3 227 62.8 229.1 63.6Z" fill="#06ff00"/>
<path d="M302 41.6 299.8 40.8 301.9 39.1 304.2 39.9Z" fill="#d0ff00"/>
<path d="M237.9 61.9 235.8 61.1 238.1 59.4 240.2 60.1Z" fill="#22ff00"/>
<path d="M326.3 35.5 324 34.7 326.1 33 328.4 33.8Z" fill="#fff800"/>
<path d="M271.1 50.6 269 49.9 271.2 48.2 273.4 49Z" fill="#81ff00"/>
<path d="M179.8 79 177.8 78.1 180.1 76.5 182.2 77.4Z" fill="#00ff5f"/>
<path d="M286.6 46.2 284.4 45.4 286.6 43.7 288.8 44.4Z" fill="#a8ff00"/>
<path d="M197.8 73.6 195.7 72.8 198.1 71.2 200.1 72Z" fill="#00ff39"/>
<path d="M330.7 34.6 328.4 33.8 330.6 32.1 332.9 32.9Z" fill="#fff100"/>
<path d="M260.1 54.1 257.9 53.3 260.2 51.7 262.3 52.4Z" fill="#64ff00"/>
<path d="M249 57.9 246.9 57.1 249.1 55.3 251.3 56Z" fill="#45ff00"/>
<path d="M306.4 40.7 304.2 39.9 306.4 38.2 308.6 39Z" fill="#d9ff00"/>
<path d="M209 70.5 206.9 69.7 209.2 68.1 211.3 68.9Z" fill="#00ff21"/>
<path d="M335.2 33.8 332.9 32.9 335 31.2 337.3 32.1Z" fill="#ffea00"/>
<path d="M275.6 49.7 273.4 49 275.6 47.3 277.8 48.1Z" fill="#8aff00"/>
<path d="M191 75.9 189 75.1 191.3 73.5 193.4 74.3Z" fill="#00ff49"/>
<path d="M220.1 67.4 218 66.6 220.3 65.1 222.4 65.9Z" fill="#00ff0a"/>
<path d="M291 45.2 288.8 44.4 291 42.7 293.2 43.5Z" fill="#b2ff00"/>
<path d="M231.2 64.3 229.1 63.6 231.4 62 233.5 62.8Z" fill="#0eff00"/>
<path d="M339.6 33 337.3 32.1 339.4 30.4 341.7 31.3Z" fill="#ffe300"/>
<path d="M310.9 39.8 308.6 39 310.8 37.3 313 38.1Z" fill="#e2ff00"/>
<path d="M344 32.3 341.7 31.3 343.8 29.6 346.1 30.6Z" fill="#ffdd00"/>
<path d="M348.5 31.6 346.1 30.6 348.2 28.9 350.6 29.9Z" fill="#ffd700"/>
<path d="M242.4 60.8 240.2 60.1 242.5 58.2 244.6 59Z" fill="#2dff00"/>
<path d="M352.9 30.9 350.6 29.9 352.7 28.2 355 29.2Z" fill="#ffd100"/>
<path d="M264.5 53.2 262.3 52.4 264.6 50.8 266.7 51.5Z" fill="#6dff00"/>
<path d="M202.2 72.8 200.1 72 202.5 70.5 204.6 71.3Z" fill="#00ff32"/>
<path d="M184.2 78.2 182.2 77.4 184.6 75.8 186.6 76.6Z" fill="#00ff59"/>
<path d="M315.3 38.9 313 38.1 315.2 36.4 317.4 37.2Z" fill="#eaff00"/>
<path d="M253.4 56.8 251.3 56 253.5 54.3 255.7 55Z" fill="#4fff00"/>
<path d="M295.4 44.3 293.2 43.5 295.4 41.8 297.6 42.6Z" fill="#bbff00"/>
<path d="M280 48.8 277.8 48.1 280 46.4 282.2 47.1Z" fill="#93ff00"/>
<path d="M213.4 69.7 211.3 68.9 213.6 67.4 215.7 68.2Z" fill="#00ff1b"/>
<path d="M224.5 66.6 222.4 65.9 224.7 64.3 226.8 65.1Z" fill="#00ff04"/>
<path d="M177.4 80.5 175.4 79.6 177.8 78.1 179.8 79Z" fill="#00ff68"/>
<path d="M235.7 63.5 233.5 62.8 235.8 61.1 237.9 61.9Z" fill="#16ff00"/>
<path d="M319.7 38 317.4 37.2 319.6 35.5 321.9 36.4Z" fill="#f3ff00"/>
<path d="M195.4 75.2 193.4 74.3 195.7 72.8 197.8 73.6Z" fill="#00ff42"/>
<path d="M268.9 52.3 266.7 51.5 269 49.9 271.1 50.6Z" fill="#75ff00"/>
<path d="M299.8 43.3 297.6 42.6 299.8 40.8 302 41.6Z" fill="#c4ff00"/>
<path d="M284.4 47.9 282.2 47.1 284.4 45.4 286.6 46.2Z" fill="#9cff00"/>
<path d="M246.8 59.7 244.6 59 246.9 57.1 249 57.9Z" fill="#37ff00"/>
<path d="M324.2 37.2 321.9 36.4 324 34.7 326.3 35.5Z" fill="#fbff00"/>
<path d="M257.8 55.8 255.7 55 257.9 53.3 260.1 54.1Z" fill="#58ff00"/>
<path d="M206.6 72.1 204.6 71.3 206.9 69.7 209 70.5Z" fill="#00ff2b"/>
<path d="M188.6 77.5 186.6 76.6 189 75.1 191 75.9Z" fill="#00ff52"/>
<path d="M328.6 36.3 326.3 35.5 328.4 33.8 330.7 34.6Z" fill="#fffb00"/>
<path d="M304.3 42.4 302 41.6 304.2 39.9 306.4 40.7Z" fill="#cdff00"/>
<path d="M217.8 69 215.7 68.2 218 66.6 220.1 67.4Z" fill="#00ff14"/>
<path d="M228.9 65.9 226.8 65.1 229.1 63.6 231.2 64.3Z" fill="#04ff00"/>
<path d="M273.3 51.4 271.1 50.6 273.4 49 275.6 49.7Z" fill="#7eff00"/>
<path d="M240.1 62.6 237.9 61.9 240.2 60.1 242.4 60.8Z" fill="#20ff00"/>
<path d="M333 35.5 330.7 34.6 332.9 32.9 335.2 33.8Z" fill="#fff400"/>
<path d="M288.8 47 286.6 46.2 288.8 44.4 291 45.2Z" fill="#a5ff00"/>
<path d="M181.8 79.8 179.8 79 182.2 77.4 184.2 78.2Z" fill="#00ff62"/>
<path d="M199.9 74.4 197.8 73.6 200.1 72 202.2 72.8Z" fill="#00ff3b"/>
<path d="M337.5 34.7 335.2 33.8 337.3 32.1 339.6 33Z" fill="#ffed00"/>
<path d="M308.7 41.5 306.4 40.7 308.6 39 310.9 39.8Z" fill="#d6ff00"/>
<path d="M262.3 54.9 260.1 54.1 262.3 52.4 264.5 53.2Z" fill="#61ff00"/>
<path d="M251.2 58.6 249 57.9 251.3 56 253.4 56.8Z" fill="#42ff00"/>
<path d="M341.9 34 339.6 33 341.7 31.3 344 32.3Z" fill="#ffe700"/>
<path d="M346.4 33.2 344 32.3 346.1 30.6 348.5 31.6Z" fill="#ffe100"/>
<path d="M175 82.1 173 81.2 175.4 79.6 177.4 80.5Z" fill="#00ff72"/>
<path d="M350.8 32.5 348.5 31.6 350.6 29.9 352.9 30.9Z" fill="#ffdb00"/>
<path d="M277.8 50.5 275.6 49.7 277.8 48.1 280 48.8Z" fill="#87ff00"/>
<path d="M211 71.3 209 70.5 211.3 68.9 213.4 69.7Z" fill="#00ff24"/>
<path d="M293.2 46 291 45.2 293.2 43.5 295.4 44.3Z" fill="#afff00"/>
<path d="M355.3 31.8 352.9 30.9 355 29.2 357.3 30.1Z" fill="#ffd500"/>
<path d="M313.1 40.6 310.9 39.8 313 38.1 315.3 38.9Z" fill="#deff00"/>
<path d="M222.2 68.2 220.1 67.4 222.4 65.9 224.5 66.6Z" fill="#00ff0d"/>
<path d="M193.1 76.8 191 75.9 193.4 74.3 195.4 75.2Z" fill="#00ff4b"/>
<path d="M233.4 65.1 231.2 64.3 233.5 62.8 235.7 63.5Z" fill="#0bff00"/>
<path d="M244.5 61.6 242.4 60.8 244.6 59 246.8 59.7Z" fill="#2aff00"/>
<path d="M266.7 54 264.5 53.2 266.7 51.5 268.9 52.3Z" fill="#6aff00"/>
<path d="M317.6 39.7 315.3 38.9 317.4 37.2 319.7 38Z" fill="#e7ff00"/>
<path d="M297.7 45.1 295.4 44.3 297.6 42.6 299.8 43.3Z" fill="#b8ff00"/>
<path d="M282.2 49.6 280 48.8 282.2 47.1 284.4 47.9Z" fill="#90ff00"/>
<path d="M204.3 73.6 202.2 72.8 204.6 71.3 206.6 72.1Z" fill="#00ff34"/>
<path d="M186.3 79.1 184.2 78.2 186.6 76.6 188.6 77.5Z" fill="#00ff5c"/>
<path d="M255.6 57.5 253.4 56.8 255.7 55 257.8 55.8Z" fill="#4cff00"/>
<path d="M322 38.8 319.7 38 321.9 36.4 324.2 37.2Z" fill="#f0ff00"/>
<path d="M215.5 70.5 213.4 69.7 215.7 68.2 217.8 69Z" fill="#00ff1d"/>
<path d="M226.6 67.4 224.5 66.6 226.8 65.1 228.9 65.9Z" fill="#00ff06"/>
<path d="M237.8 64.3 235.7 63.5 237.9 61.9 240.1 62.6Z" fill="#14ff00"/>
<path d="M179.4 81.5 177.4 80.5 179.8 79 181.8 79.8Z" fill="#00ff6c"/>
<path d="M302.1 44.1 299.8 43.3 302 41.6 304.3 42.4Z" fill="#c1ff00"/>
<path d="M271.1 53.1 268.9 52.3 271.1 50.6 273.3 51.4Z" fill="#73ff00"/>
<path d="M326.5 38 324.2 37.2 326.3 35.5 328.6 36.3Z" fill="#f8ff00"/>
<path d="M197.5 76 195.4 75.2 197.8 73.6 199.9 74.4Z" fill="#00ff45"/>
<path d="M286.6 48.7 284.4 47.9 286.6 46.2 288.8 47Z" fill="#99ff00"/>
<path d="M248.9 60.5 246.8 59.7 249 57.9 251.2 58.6Z" fill="#35ff00"/>
<path d="M330.9 37.2 328.6 36.3 330.7 34.6 333 35.5Z" fill="#fffe00"/>
<path d="M172.6 83.7 170.6 82.8 173 81.2 175 82.1Z" fill="#00ff7b"/>
<path d="M260 56.6 257.8 55.8 260.1 54.1 262.3 54.9Z" fill="#56ff00"/>
<path d="M306.5 43.2 304.3 42.4 306.4 40.7 308.7 41.5Z" fill="#caff00"/>
<path d="M208.7 72.9 206.6 72.1 209 70.5 211 71.3Z" fill="#00ff2d"/>
<path d="M335.3 36.4 333 35.5 335.2 33.8 337.5 34.7Z" fill="#fff700"/>
<path d="M190.7 78.4 188.6 77.5 191 75.9 193.1 76.8Z" fill="#00ff55"/>
<path d="M275.5 52.2 273.3 51.4 275.6 49.7 277.8 50.5Z" fill="#7bff00"/>
<path d="M339.8 35.7 337.5 34.7 339.6 33 341.9 34Z" fill="#fff100"/>
<path d="M291 47.7 288.8 47 291 45.2 293.2 46Z" fill="#a2ff00"/>
<path d="M219.9 69.8 217.8 69 220.1 67.4 222.2 68.2Z" fill="#00ff16"/>
<path d="M231.1 66.6 228.9 65.9 231.2 64.3 233.4 65.1Z" fill="#01ff00"/>
<path d="M344.2 34.9 341.9 34 344 32.3 346.4 33.2Z" fill="#ffeb00"/>
<path d="M242.2 63.4 240.1 62.6 242.4 60.8 244.5 61.6Z" fill="#1dff00"/>
<path d="M311 42.3 308.7 41.5 310.9 39.8 313.1 40.6Z" fill="#d2ff00"/>
<path d="M348.7 34.2 346.4 33.2 348.5 31.6 350.8 32.5Z" fill="#ffe500"/>
<path d="M353.2 33.5 350.8 32.5 352.9 30.9 355.3 31.8Z" fill="#ffdf00"/>
<path d="M183.9 80.7 181.8 79.8 184.2 78.2 186.3 79.1Z" fill="#00ff65"/>
<path d="M357.6 32.7 355.3 31.8 357.3 30.1 359.7 31.1Z" fill="#ffd900"/>
<path d="M201.9 75.2 199.9 74.4 202.2 72.8 204.3 73.6Z" fill="#00ff3e"/>
<path d="M264.4 55.6 262.3 54.9 264.5 53.2 266.7 54Z" fill="#5fff00"/>
<path d="M253.3 59.4 251.2 58.6 253.4 56.8 255.6 57.5Z" fill="#40ff00"/>
<path d="M295.5 46.8 293.2 46 295.4 44.3 297.7 45.1Z" fill="#acff00"/>
<path d="M315.4 41.4 313.1 40.6 315.3 38.9 317.6 39.7Z" fill="#dbff00"/>
<path d="M280 51.3 277.8 50.5 280 48.8 282.2 49.6Z" fill="#84ff00"/>
<path d="M177 83.1 175 82.1 177.4 80.5 179.4 81.5Z" fill="#00ff75"/>
<path d="M213.1 72.1 211 71.3 213.4 69.7 215.5 70.5Z" fill="#00ff26"/>
<path d="M224.3 69 222.2 68.2 224.5 66.6 226.6 67.4Z" fill="#00ff0f"/>
<path d="M235.5 65.8 233.4 65.1 235.7 63.5 237.8 64.3Z" fill="#09ff00"/>
<path d="M195.1 77.6 193.1 76.8 195.4 75.2 197.5 76Z" fill="#00ff4e"/>
<path d="M319.9 40.5 317.6 39.7 319.7 38 322 38.8Z" fill="#e4ff00"/>
<path d="M170.2 85.3 168.1 84.4 170.6 82.8 172.6 83.7Z" fill="#00ff84"/>
<path d="M268.9 54.7 266.7 54 268.9 52.3 271.1 53.1Z" fill="#67ff00"/>
<path d="M246.6 62.3 244.5 61.6 246.8 59.7 248.9 60.5Z" fill="#28ff00"/>
<path d="M299.9 45.9 297.7 45.1 299.8 43.3 302.1 44.1Z" fill="#b5ff00"/>
<path d="M284.4 50.4 282.2 49.6 284.4 47.9 286.6 48.7Z" fill="#8dff00"/>
<path d="M324.3 39.7 322 38.8 324.2 37.2 326.5 38Z" fill="#ecff00"/>
<path d="M257.8 58.3 255.6 57.5 257.8 55.8 260 56.6Z" fill="#4aff00"/>
<path d="M206.4 74.5 204.3 73.6 206.6 72.1 208.7 72.9Z" fill="#00ff37"/>
<path d="M188.3 80 186.3 79.1 188.6 77.5 190.7 78.4Z" fill="#00ff5f"/>
<path d="M328.8 38.8 326.5 38 328.6 36.3 330.9 37.2Z" fill="#f4ff00"/>
<path d="M304.4 44.9 302.1 44.1 304.3 42.4 306.5 43.2Z" fill="#beff00"/>
<path d="M217.6 71.3 215.5 70.5 217.8 69 219.9 69.8Z" fill="#00ff1f"/>
<path d="M228.8 68.2 226.6 67.4 228.9 65.9 231.1 66.6Z" fill="#00ff08"/>
<path d="M239.9 65 237.8 64.3 240.1 62.6 242.2 63.4Z" fill="#12ff00"/>
<path d="M273.3 53.8 271.1 53.1 273.3 51.4 275.5 52.2Z" fill="#70ff00"/>
<path d="M181.5 82.4 179.4 81.5 181.8 79.8 183.9 80.7Z" fill="#00ff6f"/>
<path d="M288.8 49.5 286.6 48.7 288.8 47 291 47.7Z" fill="#96ff00"/>
<path d="M333.2 38.1 330.9 37.2 333 35.5 335.3 36.4Z" fill="#fcff00"/>
<path d="M199.6 76.9 197.5 76 199.9 74.4 201.9 75.2Z" fill="#00ff47"/>
<path d="M337.7 37.3 335.3 36.4 337.5 34.7 339.8 35.7Z" fill="#fffb00"/>
<path d="M308.8 44 306.5 43.2 308.7 41.5 311 42.3Z" fill="#c6ff00"/>
<path d="M251.1 61.2 248.9 60.5 251.2 58.6 253.3 59.4Z" fill="#33ff00"/>
<path d="M262.2 57.3 260 56.6 262.3 54.9 264.4 55.6Z" fill="#53ff00"/>
<path d="M342.1 36.6 339.8 35.7 341.9 34 344.2 34.9Z" fill="#fff500"/>
<path d="M174.6 84.7 172.6 83.7 175 82.1 177 83.1Z" fill="#00ff7e"/>
<path d="M346.6 35.9 344.2 34.9 346.4 33.2 348.7 34.2Z" fill="#ffef00"/>
<path d="M210.8 73.7 208.7 72.9 211 71.3 213.1 72.1Z" fill="#00ff30"/>
<path d="M351 35.2 348.7 34.2 350.8 32.5 353.2 33.5Z" fill="#ffe900"/>
<path d="M293.3 48.5 291 47.7 293.2 46 295.5 46.8Z" fill="#9fff00"/>
<path d="M277.7 52.9 275.5 52.2 277.8 50.5 280 51.3Z" fill="#79ff00"/>
<path d="M355.5 34.4 353.2 33.5 355.3 31.8 357.6 32.7Z" fill="#ffe300"/>
<path d="M192.7 79.2 190.7 78.4 193.1 76.8 195.1 77.6Z" fill="#00ff58"/>
<path d="M360 33.7 357.6 32.7 359.7 31.1 362.1 32Z" fill="#ffdd00"/>
<path d="M313.2 43.1 311 42.3 313.1 40.6 315.4 41.4Z" fill="#cfff00"/>
<path d="M167.7 86.9 165.7 85.9 168.1 84.4 170.2 85.3Z" fill="#00ff8d"/>
<path d="M222 70.6 219.9 69.8 222.2 68.2 224.3 69Z" fill="#00ff19"/>
<path d="M233.2 67.4 231.1 66.6 233.4 65.1 235.5 65.8Z" fill="#00ff01"/>
<path d="M244.4 64.1 242.2 63.4 244.5 61.6 246.6 62.3Z" fill="#1bff00"/>
<path d="M266.6 56.4 264.4 55.6 266.7 54 268.9 54.7Z" fill="#5cff00"/>
<path d="M185.9 81.6 183.9 80.7 186.3 79.1 188.3 80Z" fill="#00ff68"/>
<path d="M317.7 42.2 315.4 41.4 317.6 39.7 319.9 40.5Z" fill="#d8ff00"/>
<path d="M297.7 47.6 295.5 46.8 297.7 45.1 299.9 45.9Z" fill="#a8ff00"/>
<path d="M204 76.1 201.9 75.2 204.3 73.6 206.4 74.5Z" fill="#00ff40"/>
<path d="M255.5 60.1 253.3 59.4 255.6 57.5 257.8 58.3Z" fill="#3dff00"/>
<path d="M282.2 52.1 280 51.3 282.2 49.6 284.4 50.4Z" fill="#81ff00"/>
<path d="M322.2 41.3 319.9 40.5 322 38.8 324.3 39.7Z" fill="#e0ff00"/>
<path d="M179.1 84 177 83.1 179.4 81.5 181.5 82.4Z" fill="#00ff78"/>
<path d="M215.2 72.9 213.1 72.1 215.5 70.5 217.6 71.3Z" fill="#00ff29"/>
<path d="M237.6 66.6 235.5 65.8 237.8 64.3 239.9 65Z" fill="#07ff00"/>
<path d="M226.4 69.8 224.3 69 226.6 67.4 228.8 68.2Z" fill="#00ff12"/>
<path d="M302.2 46.6 299.9 45.9 302.1 44.1 304.4 44.9Z" fill="#b1ff00"/>
<path d="M197.2 78.5 195.1 77.6 197.5 76 199.6 76.9Z" fill="#00ff51"/>
<path d="M271.1 55.5 268.9 54.7 271.1 53.1 273.3 53.8Z" fill="#65ff00"/>
<path d="M326.6 40.5 324.3 39.7 326.5 38 328.8 38.8Z" fill="#e9ff00"/>
<path d="M248.8 63.1 246.6 62.3 248.9 60.5 251.1 61.2Z" fill="#25ff00"/>
<path d="M286.6 51.2 284.4 50.4 286.6 48.7 288.8 49.5Z" fill="#8aff00"/>
<path d="M172.2 86.3 170.2 85.3 172.6 83.7 174.6 84.7Z" fill="#00ff88"/>
<path d="M331.1 39.7 328.8 38.8 330.9 37.2 333.2 38.1Z" fill="#f0ff00"/>
<path d="M259.9 59.1 257.8 58.3 260 56.6 262.2 57.3Z" fill="#47ff00"/>
<path d="M208.4 75.3 206.4 74.5 208.7 72.9 210.8 73.7Z" fill="#00ff39"/>
<path d="M306.6 45.7 304.4 44.9 306.5 43.2 308.8 44Z" fill="#baff00"/>
<path d="M190.4 80.9 188.3 80 190.7 78.4 192.7 79.2Z" fill="#00ff61"/>
<path d="M165.3 88.5 163.3 87.5 165.7 85.9 167.7 86.9Z" fill="#00ff96"/>
<path d="M335.5 39 333.2 38.1 335.3 36.4 337.7 37.3Z" fill="#f8ff00"/>
<path d="M340 38.3 337.7 37.3 339.8 35.7 342.1 36.6Z" fill="#ffff00"/>
<path d="M275.5 54.6 273.3 53.8 275.5 52.2 277.7 52.9Z" fill="#6dff00"/>
<path d="M291.1 50.2 288.8 49.5 291 47.7 293.3 48.5Z" fill="#93ff00"/>
<path d="M219.7 72.1 217.6 71.3 219.9 69.8 222 70.6Z" fill="#00ff22"/>
<path d="M242.1 65.8 239.9 65 242.2 63.4 244.4 64.1Z" fill="#0fff00"/>
<path d="M230.9 69 228.8 68.2 231.1 66.6 233.2 67.4Z" fill="#00ff0b"/>
<path d="M344.5 37.6 342.1 36.6 344.2 34.9 346.6 35.9Z" fill="#fff900"/>
<path d="M183.5 83.3 181.5 82.4 183.9 80.7 185.9 81.6Z" fill="#00ff72"/>
<path d="M311.1 44.8 308.8 44 311 42.3 313.2 43.1Z" fill="#c3ff00"/>
<path d="M348.9 36.8 346.6 35.9 348.7 34.2 351 35.2Z" fill="#fff300"/>
<path d="M353.4 36.1 351 35.2 353.2 33.5 355.5 34.4Z" fill="#ffed00"/>
<path d="M201.6 77.7 199.6 76.9 201.9 75.2 204 76.1Z" fill="#00ff4a"/>
<path d="M357.9 35.3 355.5 34.4 357.6 32.7 360 33.7Z" fill="#ffe700"/>
<path d="M253.2 62 251.1 61.2 253.3 59.4 255.5 60.1Z" fill="#30ff00"/>
<path d="M362.4 34.6 360 33.7 362.1 32 364.4 33Z" fill="#ffe100"/>
<path d="M264.4 58.1 262.2 57.3 264.4 55.6 266.6 56.4Z" fill="#50ff00"/>
<path d="M176.6 85.6 174.6 84.7 177 83.1 179.1 84Z" fill="#00ff82"/>
<path d="M295.5 49.3 293.3 48.5 295.5 46.8 297.7 47.6Z" fill="#9cff00"/>
<path d="M315.5 43.9 313.2 43.1 315.4 41.4 317.7 42.2Z" fill="#ccff00"/>
<path d="M280 53.7 277.7 52.9 280 51.3 282.2 52.1Z" fill="#76ff00"/>
<path d="M212.9 74.5 210.8 73.7 213.1 72.1 215.2 72.9Z" fill="#00ff32"/>
<path d="M194.8 80.1 192.7 79.2 195.1 77.6 197.2 78.5Z" fill="#00ff5b"/>
<path d="M169.8 87.9 167.7 86.9 170.2 85.3 172.2 86.3Z" fill="#00ff91"/>
<path d="M224.1 71.4 222 70.6 224.3 69 226.4 69.8Z" fill="#00ff1b"/>
<path d="M235.3 68.2 233.2 67.4 235.5 65.8 237.6 66.6Z" fill="#00ff03"/>
<path d="M246.5 64.9 244.4 64.1 246.6 62.3 248.8 63.1Z" fill="#19ff00"/>
<path d="M320 43 317.7 42.2 319.9 40.5 322.2 41.3Z" fill="#d5ff00"/>
<path d="M300 48.4 297.7 47.6 299.9 45.9 302.2 46.6Z" fill="#a5ff00"/>
<path d="M268.8 57.2 266.6 56.4 268.9 54.7 271.1 55.5Z" fill="#59ff00"/>
<path d="M188 82.5 185.9 81.6 188.3 80 190.4 80.9Z" fill="#00ff6b"/>
<path d="M284.4 52.8 282.2 52.1 284.4 50.4 286.6 51.2Z" fill="#7fff00"/>
<path d="M162.8 90 160.8 89.1 163.3 87.5 165.3 88.5Z" fill="#00ff9f"/>
<path d="M257.7 60.9 255.5 60.1 257.8 58.3 259.9 59.1Z" fill="#3bff00"/>
<path d="M206.1 76.9 204 76.1 206.4 74.5 208.4 75.3Z" fill="#00ff43"/>
<path d="M324.5 42.2 322.2 41.3 324.3 39.7 326.6 40.5Z" fill="#ddff00"/>
<path d="M328.9 41.4 326.6 40.5 328.8 38.8 331.1 39.7Z" fill="#e5ff00"/>
<path d="M181.1 84.9 179.1 84 181.5 82.4 183.5 83.3Z" fill="#00ff7c"/>
<path d="M304.4 47.4 302.2 46.6 304.4 44.9 306.6 45.7Z" fill="#aeff00"/>
<path d="M217.3 73.7 215.2 72.9 217.6 71.3 219.7 72.1Z" fill="#00ff2b"/>
<path d="M239.8 67.4 237.6 66.6 239.9 65 242.1 65.8Z" fill="#04ff00"/>
<path d="M228.6 70.6 226.4 69.8 228.8 68.2 230.9 69Z" fill="#00ff14"/>
<path d="M273.3 56.3 271.1 55.5 273.3 53.8 275.5 54.6Z" fill="#62ff00"/>
<path d="M333.4 40.7 331.1 39.7 333.2 38.1 335.5 39Z" fill="#ecff00"/>
<path d="M288.9 51.9 286.6 51.2 288.8 49.5 291.1 50.2Z" fill="#87ff00"/>
<path d="M199.3 79.4 197.2 78.5 199.6 76.9 201.6 77.7Z" fill="#00ff54"/>
<path d="M251 63.8 248.8 63.1 251.1 61.2 253.2 62Z" fill="#23ff00"/>
<path d="M174.2 87.2 172.2 86.3 174.6 84.7 176.6 85.6Z" fill="#00ff8b"/>
<path d="M337.9 40 335.5 39 337.7 37.3 340 38.3Z" fill="#f3ff00"/>
<path d="M308.9 46.5 306.6 45.7 308.8 44 311.1 44.8Z" fill="#b7ff00"/>
<path d="M262.1 59.8 259.9 59.1 262.2 57.3 264.4 58.1Z" fill="#45ff00"/>
<path d="M342.3 39.2 340 38.3 342.1 36.6 344.5 37.6Z" fill="#faff00"/>
<path d="M346.8 38.5 344.5 37.6 346.6 35.9 348.9 36.8Z" fill="#fffd00"/>
<path d="M210.5 76.1 208.4 75.3 210.8 73.7 212.9 74.5Z" fill="#00ff3c"/>
<path d="M192.4 81.8 190.4 80.9 192.7 79.2 194.8 80.1Z" fill="#00ff64"/>
<path d="M167.3 89.4 165.3 88.5 167.7 86.9 169.8 87.9Z" fill="#00ff9a"/>
<path d="M351.3 37.8 348.9 36.8 351 35.2 353.4 36.1Z" fill="#fff700"/>
<path d="M293.3 51 291.1 50.2 293.3 48.5 295.5 49.3Z" fill="#90ff00"/>
<path d="M355.8 37 353.4 36.1 355.5 34.4 357.9 35.3Z" fill="#fff100"/>
<path d="M277.7 55.4 275.5 54.6 277.7 52.9 280 53.7Z" fill="#6bff00"/>
<path d="M360.3 36.3 357.9 35.3 360 33.7 362.4 34.6Z" fill="#ffeb00"/>
<path d="M364.7 35.6 362.4 34.6 364.4 33 366.8 33.9Z" fill="#ffe500"/>
<path d="M313.4 45.6 311.1 44.8 313.2 43.1 315.5 43.9Z" fill="#c0ff00"/>
<path d="M221.8 73 219.7 72.1 222 70.6 224.1 71.4Z" fill="#00ff24"/>
<path d="M244.2 66.6 242.1 65.8 244.4 64.1 246.5 64.9Z" fill="#0dff00"/>
<path d="M233 69.8 230.9 69 233.2 67.4 235.3 68.2Z" fill="#00ff0d"/>
<path d="M160.4 91.6 158.4 90.6 160.8 89.1 162.8 90Z" fill="#00ffa8"/>
<path d="M185.6 84.2 183.5 83.3 185.9 81.6 188 82.5Z" fill="#00ff75"/>
<path d="M203.7 78.6 201.6 77.7 204 76.1 206.1 76.9Z" fill="#00ff4d"/>
<path d="M266.6 58.8 264.4 58.1 266.6 56.4 268.8 57.2Z" fill="#4eff00"/>
<path d="M255.4 62.7 253.2 62 255.5 60.1 257.7 60.9Z" fill="#2eff00"/>
<path d="M317.8 44.7 315.5 43.9 317.7 42.2 320 43Z" fill="#c9ff00"/>
<path d="M297.8 50.1 295.5 49.3 297.7 47.6 300 48.4Z" fill="#99ff00"/>
<path d="M282.2 54.5 280 53.7 282.2 52.1 284.4 52.8Z" fill="#73ff00"/>
<path d="M178.7 86.6 176.6 85.6 179.1 84 181.1 84.9Z" fill="#00ff85"/>
<path d="M215 75.4 212.9 74.5 215.2 72.9 217.3 73.7Z" fill="#00ff35"/>
<path d="M322.3 43.9 320 43 322.2 41.3 324.5 42.2Z" fill="#d1ff00"/>
<path d="M196.9 81 194.8 80.1 197.2 78.5 199.3 79.4Z" fill="#00ff5e"/>
<path d="M171.8 88.8 169.8 87.9 172.2 86.3 174.2 87.2Z" fill="#00ff94"/>
<path d="M226.2 72.2 224.1 71.4 226.4 69.8 228.6 70.6Z" fill="#00ff1d"/>
<path d="M237.5 69 235.3 68.2 237.6 66.6 239.8 67.4Z" fill="#00ff06"/>
<path d="M302.2 49.2 300 48.4 302.2 46.6 304.4 47.4Z" fill="#a2ff00"/>
<path d="M248.7 65.6 246.5 64.9 248.8 63.1 251 63.8Z" fill="#16ff00"/>
<path d="M271 57.9 268.8 57.2 271.1 55.5 273.3 56.3Z" fill="#57ff00"/>
<path d="M326.8 43.1 324.5 42.2 326.6 40.5 328.9 41.4Z" fill="#d9ff00"/>
<path d="M286.6 53.6 284.4 52.8 286.6 51.2 288.9 51.9Z" fill="#7cff00"/>
<path d="M259.9 61.6 257.7 60.9 259.9 59.1 262.1 59.8Z" fill="#38ff00"/>
<path d="M190 83.5 188 82.5 190.4 80.9 192.4 81.8Z" fill="#00ff6e"/>
<path d="M164.9 91 162.8 90 165.3 88.5 167.3 89.4Z" fill="#00ffa3"/>
<path d="M331.2 42.3 328.9 41.4 331.1 39.7 333.4 40.7Z" fill="#e0ff00"/>
<path d="M208.2 77.8 206.1 76.9 208.4 75.3 210.5 76.1Z" fill="#00ff46"/>
<path d="M306.7 48.2 304.4 47.4 306.6 45.7 308.9 46.5Z" fill="#abff00"/>
<path d="M335.7 41.6 333.4 40.7 335.5 39 337.9 40Z" fill="#e7ff00"/>
<path d="M157.9 93.3 155.9 92.3 158.4 90.6 160.4 91.6Z" fill="#00ffb2"/>
<path d="M340.2 40.9 337.9 40 340 38.3 342.3 39.2Z" fill="#eeff00"/>
<path d="M183.2 85.9 181.1 84.9 183.5 83.3 185.6 84.2Z" fill="#00ff7f"/>
<path d="M219.5 74.6 217.3 73.7 219.7 72.1 221.8 73Z" fill="#00ff2e"/>
<path d="M291.1 52.7 288.9 51.9 291.1 50.2 293.3 51Z" fill="#84ff00"/>
<path d="M275.5 57 273.3 56.3 275.5 54.6 277.7 55.4Z" fill="#5fff00"/>
<path d="M344.7 40.2 342.3 39.2 344.5 37.6 346.8 38.5Z" fill="#f5ff00"/>
<path d="M241.9 68.2 239.8 67.4 242.1 65.8 244.2 66.6Z" fill="#02ff00"/>
<path d="M230.7 71.4 228.6 70.6 230.9 69 233 69.8Z" fill="#00ff16"/>
<path d="M201.4 80.2 199.3 79.4 201.6 77.7 203.7 78.6Z" fill="#00ff57"/>
<path d="M349.2 39.4 346.8 38.5 348.9 36.8 351.3 37.8Z" fill="#fcff00"/>
<path d="M311.2 47.3 308.9 46.5 311.1 44.8 313.4 45.6Z" fill="#b4ff00"/>
<path d="M253.1 64.6 251 63.8 253.2 62 255.4 62.7Z" fill="#21ff00"/>
<path d="M353.7 38.7 351.3 37.8 353.4 36.1 355.8 37Z" fill="#fffb00"/>
<path d="M176.3 88.2 174.2 87.2 176.6 85.6 178.7 86.6Z" fill="#00ff8f"/>
<path d="M358.1 38 355.8 37 357.9 35.3 360.3 36.3Z" fill="#fff500"/>
<path d="M264.3 60.6 262.1 59.8 264.4 58.1 266.6 58.8Z" fill="#42ff00"/>
<path d="M367.1 36.5 364.7 35.6 366.8 33.9 369.2 34.9Z" fill="#ffe900"/>
<path d="M362.6 37.2 360.3 36.3 362.4 34.6 364.7 35.6Z" fill="#ffef00"/>
<path d="M295.6 51.8 293.3 51 295.5 49.3 297.8 50.1Z" fill="#8dff00"/>
<path d="M212.6 77 210.5 76.1 212.9 74.5 215 75.4Z" fill="#00ff3f"/>
<path d="M315.7 46.4 313.4 45.6 315.5 43.9 317.8 44.7Z" fill="#bdff00"/>
<path d="M194.5 82.7 192.4 81.8 194.8 80.1 196.9 81Z" fill="#00ff67"/>
<path d="M280 56.2 277.7 55.4 280 53.7 282.2 54.5Z" fill="#68ff00"/>
<path d="M169.4 90.4 167.3 89.4 169.8 87.9 171.8 88.8Z" fill="#00ff9e"/>
<path d="M223.9 73.8 221.8 73 224.1 71.4 226.2 72.2Z" fill="#00ff27"/>
<path d="M246.4 67.3 244.2 66.6 246.5 64.9 248.7 65.6Z" fill="#0aff00"/>
<path d="M235.2 70.6 233 69.8 235.3 68.2 237.5 69Z" fill="#00ff0f"/>
<path d="M320.1 45.6 317.8 44.7 320 43 322.3 43.9Z" fill="#c5ff00"/>
<path d="M162.4 92.6 160.4 91.6 162.8 90 164.9 91Z" fill="#00ffac"/>
<path d="M187.6 85.1 185.6 84.2 188 82.5 190 83.5Z" fill="#00ff78"/>
<path d="M300 50.9 297.8 50.1 300 48.4 302.2 49.2Z" fill="#96ff00"/>
<path d="M268.8 59.6 266.6 58.8 268.8 57.2 271 57.9Z" fill="#4bff00"/>
<path d="M257.6 63.5 255.4 62.7 257.7 60.9 259.9 61.6Z" fill="#2bff00"/>
<path d="M205.8 79.4 203.7 78.6 206.1 76.9 208.2 77.8Z" fill="#00ff50"/>
<path d="M155.5 95 153.4 94 155.9 92.3 157.9 93.3Z" fill="#00ffbb"/>
<path d="M284.4 55.3 282.2 54.5 284.4 52.8 286.6 53.6Z" fill="#70ff00"/>
<path d="M324.6 44.8 322.3 43.9 324.5 42.2 326.8 43.1Z" fill="#cdff00"/>
<path d="M180.8 87.5 178.7 86.6 181.1 84.9 183.2 85.9Z" fill="#00ff89"/>
<path d="M217.1 76.2 215 75.4 217.3 73.7 219.5 74.6Z" fill="#00ff38"/>
<path d="M329.1 44 326.8 43.1 328.9 41.4 331.2 42.3Z" fill="#d5ff00"/>
<path d="M304.5 50 302.2 49.2 304.4 47.4 306.7 48.2Z" fill="#9fff00"/>
<path d="M199 81.9 196.9 81 199.3 79.4 201.4 80.2Z" fill="#00ff60"/>
<path d="M173.8 89.8 171.8 88.8 174.2 87.2 176.3 88.2Z" fill="#00ff98"/>
<path d="M228.4 73 226.2 72.2 228.6 70.6 230.7 71.4Z" fill="#00ff20"/>
<path d="M239.6 69.8 237.5 69 239.8 67.4 241.9 68.2Z" fill="#00ff08"/>
<path d="M333.6 43.3 331.2 42.3 333.4 40.7 335.7 41.6Z" fill="#dcff00"/>
<path d="M250.9 66.4 248.7 65.6 251 63.8 253.1 64.6Z" fill="#14ff00"/>
<path d="M273.2 58.7 271 57.9 273.3 56.3 275.5 57Z" fill="#54ff00"/>
<path d="M288.9 54.4 286.6 53.6 288.9 51.9 291.1 52.7Z" fill="#79ff00"/>
<path d="M338.1 42.6 335.7 41.6 337.9 40 340.2 40.9Z" fill="#e3ff00"/>
<path d="M262.1 62.4 259.9 61.6 262.1 59.8 264.3 60.6Z" fill="#36ff00"/>
<path d="M309 49 306.7 48.2 308.9 46.5 311.2 47.3Z" fill="#a8ff00"/>
<path d="M342.5 41.9 340.2 40.9 342.3 39.2 344.7 40.2Z" fill="#e9ff00"/>
<path d="M192.1 84.4 190 83.5 192.4 81.8 194.5 82.7Z" fill="#00ff71"/>
<path d="M166.9 92 164.9 91 167.3 89.4 169.4 90.4Z" fill="#00ffa7"/>
<path d="M210.3 78.6 208.2 77.8 210.5 76.1 212.6 77Z" fill="#00ff48"/>
<path d="M347 41.1 344.7 40.2 346.8 38.5 349.2 39.4Z" fill="#f1ff00"/>
<path d="M351.5 40.4 349.2 39.4 351.3 37.8 353.7 38.7Z" fill="#f8ff00"/>
<path d="M293.4 53.5 291.1 52.7 293.3 51 295.6 51.8Z" fill="#82ff00"/>
<path d="M160 94.3 157.9 93.3 160.4 91.6 162.4 92.6Z" fill="#00ffb5"/>
<path d="M356 39.6 353.7 38.7 355.8 37 358.1 38Z" fill="#ffff00"/>
<path d="M369.5 37.5 367.1 36.5 369.2 34.9 371.6 35.9Z" fill="#ffee00"/>
<path d="M277.7 57.8 275.5 57 277.7 55.4 280 56.2Z" fill="#5dff00"/>
<path d="M360.5 38.9 358.1 38 360.3 36.3 362.6 37.2Z" fill="#fff900"/>
<path d="M185.2 86.8 183.2 85.9 185.6 84.2 187.6 85.1Z" fill="#00ff82"/>
<path d="M365 38.2 362.6 37.2 364.7 35.6 367.1 36.5Z" fill="#fff300"/>
<path d="M221.6 75.4 219.5 74.6 221.8 73 223.9 73.8Z" fill="#00ff30"/>
<path d="M153 96.7 151 95.7 153.4 94 155.5 95Z" fill="#00ffc6"/>
<path d="M313.5 48.1 311.2 47.3 313.4 45.6 315.7 46.4Z" fill="#b1ff00"/>
<path d="M244.1 68.9 241.9 68.2 244.2 66.6 246.4 67.3Z" fill="#00ff00"/>
<path d="M232.9 72.2 230.7 71.4 233 69.8 235.2 70.6Z" fill="#00ff19"/>
<path d="M203.4 81.1 201.4 80.2 203.7 78.6 205.8 79.4Z" fill="#00ff59"/>
<path d="M255.3 65.4 253.1 64.6 255.4 62.7 257.6 63.5Z" fill="#1eff00"/>
<path d="M266.5 61.4 264.3 60.6 266.6 58.8 268.8 59.6Z" fill="#3fff00"/>
<path d="M178.3 89.2 176.3 88.2 178.7 86.6 180.8 87.5Z" fill="#00ff92"/>
<path d="M318 47.3 315.7 46.4 317.8 44.7 320.1 45.6Z" fill="#b9ff00"/>
<path d="M297.8 52.6 295.6 51.8 297.8 50.1 300 50.9Z" fill="#8aff00"/>
<path d="M282.2 56.9 280 56.2 282.2 54.5 284.4 55.3Z" fill="#65ff00"/>
<path d="M214.8 77.8 212.6 77 215 75.4 217.1 76.2Z" fill="#00ff41"/>
<path d="M196.6 83.6 194.5 82.7 196.9 81 199 81.9Z" fill="#00ff6a"/>
<path d="M171.4 91.4 169.4 90.4 171.8 88.8 173.8 89.8Z" fill="#00ffa1"/>
<path d="M322.4 46.5 320.1 45.6 322.3 43.9 324.6 44.8Z" fill="#c1ff00"/>
<path d="M226.1 74.6 223.9 73.8 226.2 72.2 228.4 73Z" fill="#00ff29"/>
<path d="M248.6 68.1 246.4 67.3 248.7 65.6 250.9 66.4Z" fill="#08ff00"/>
<path d="M302.3 51.7 300 50.9 302.2 49.2 304.5 50Z" fill="#93ff00"/>
<path d="M237.3 71.4 235.2 70.6 237.5 69 239.6 69.8Z" fill="#00ff11"/>
<path d="M164.5 93.6 162.4 92.6 164.9 91 166.9 92Z" fill="#00ffb0"/>
<path d="M326.9 45.7 324.6 44.8 326.8 43.1 329.1 44Z" fill="#c9ff00"/>
<path d="M189.7 86.1 187.6 85.1 190 83.5 192.1 84.4Z" fill="#00ff7b"/>
<path d="M271 60.4 268.8 59.6 271 57.9 273.2 58.7Z" fill="#49ff00"/>
<path d="M259.8 64.3 257.6 63.5 259.9 61.6 262.1 62.4Z" fill="#29ff00"/>
<path d="M286.7 56.1 284.4 55.3 286.6 53.6 288.9 54.4Z" fill="#6eff00"/>
<path d="M207.9 80.3 205.8 79.4 208.2 77.8 210.3 78.6Z" fill="#00ff52"/>
<path d="M150.5 98.5 148.5 97.5 151 95.7 153 96.7Z" fill="#00ffd0"/>
<path d="M157.5 96 155.5 95 157.9 93.3 160 94.3Z" fill="#00ffbf"/>
<path d="M331.4 45 329.1 44 331.2 42.3 333.6 43.3Z" fill="#d0ff00"/>
<path d="M182.8 88.5 180.8 87.5 183.2 85.9 185.2 86.8Z" fill="#00ff8c"/>
<path d="M335.9 44.2 333.6 43.3 335.7 41.6 338.1 42.6Z" fill="#d7ff00"/>
<path d="M306.8 50.8 304.5 50 306.7 48.2 309 49Z" fill="#9cff00"/>
<path d="M219.2 77 217.1 76.2 219.5 74.6 221.6 75.4Z" fill="#00ff3a"/>
<path d="M340.4 43.5 338.1 42.6 340.2 40.9 342.5 41.9Z" fill="#deff00"/>
<path d="M201.1 82.8 199 81.9 201.4 80.2 203.4 81.1Z" fill="#00ff63"/>
<path d="M291.1 55.2 288.9 54.4 291.1 52.7 293.4 53.5Z" fill="#76ff00"/>
<path d="M275.5 59.5 273.2 58.7 275.5 57 277.7 57.8Z" fill="#51ff00"/>
<path d="M344.9 42.8 342.5 41.9 344.7 40.2 347 41.1Z" fill="#e5ff00"/>
<path d="M175.9 90.8 173.8 89.8 176.3 88.2 178.3 89.2Z" fill="#00ff9c"/>
<path d="M230.5 73.8 228.4 73 230.7 71.4 232.9 72.2Z" fill="#00ff22"/>
<path d="M241.8 70.6 239.6 69.8 241.9 68.2 244.1 68.9Z" fill="#00ff0a"/>
<path d="M253 67.2 250.9 66.4 253.1 64.6 255.3 65.4Z" fill="#12ff00"/>
<path d="M349.4 42 347 41.1 349.2 39.4 351.5 40.4Z" fill="#ecff00"/>
<path d="M311.3 49.9 309 49 311.2 47.3 313.5 48.1Z" fill="#a5ff00"/>
<path d="M371.9 38.6 369.5 37.5 371.6 35.9 374 36.9Z" fill="#fff200"/>
<path d="M353.9 41.3 351.5 40.4 353.7 38.7 356 39.6Z" fill="#f3ff00"/>
<path d="M264.3 63.2 262.1 62.4 264.3 60.6 266.5 61.4Z" fill="#33ff00"/>
<path d="M358.4 40.6 356 39.6 358.1 38 360.5 38.9Z" fill="#faff00"/>
<path d="M367.4 39.2 365 38.2 367.1 36.5 369.5 37.5Z" fill="#fff700"/>
<path d="M362.9 39.8 360.5 38.9 362.6 37.2 365 38.2Z" fill="#fffd00"/>
<path d="M169 93 166.9 92 169.4 90.4 171.4 91.4Z" fill="#00ffaa"/>
<path d="M194.2 85.3 192.1 84.4 194.5 82.7 196.6 83.6Z" fill="#00ff74"/>
<path d="M212.4 79.5 210.3 78.6 212.6 77 214.8 77.8Z" fill="#00ff4b"/>
<path d="M295.6 54.3 293.4 53.5 295.6 51.8 297.8 52.6Z" fill="#7fff00"/>
<path d="M315.8 49 313.5 48.1 315.7 46.4 318 47.3Z" fill="#aeff00"/>
<path d="M280 58.6 277.7 57.8 280 56.2 282.2 56.9Z" fill="#5aff00"/>
<path d="M162 95.3 160 94.3 162.4 92.6 164.5 93.6Z" fill="#00ffb9"/>
<path d="M148 100.3 146 99.3 148.5 97.5 150.5 98.5Z" fill="#00ffdb"/>
<path d="M187.3 87.8 185.2 86.8 187.6 85.1 189.7 86.1Z" fill="#00ff85"/>
<path d="M223.7 76.2 221.6 75.4 223.9 73.8 226.1 74.6Z" fill="#00ff33"/>
<path d="M155 97.7 153 96.7 155.5 95 157.5 96Z" fill="#00ffc9"/>
<path d="M246.3 69.7 244.1 68.9 246.4 67.3 248.6 68.1Z" fill="#00ff03"/>
<path d="M235 73 232.9 72.2 235.2 70.6 237.3 71.4Z" fill="#00ff1b"/>
<path d="M320.3 48.2 318 47.3 320.1 45.6 322.4 46.5Z" fill="#b6ff00"/>
<path d="M257.5 66.1 255.3 65.4 257.6 63.5 259.8 64.3Z" fill="#1cff00"/>
<path d="M205.5 82 203.4 81.1 205.8 79.4 207.9 80.3Z" fill="#00ff5c"/>
<path d="M268.7 62.1 266.5 61.4 268.8 59.6 271 60.4Z" fill="#3dff00"/>
<path d="M300.1 53.4 297.8 52.6 300 50.9 302.3 51.7Z" fill="#88ff00"/>
<path d="M180.4 90.1 178.3 89.2 180.8 87.5 182.8 88.5Z" fill="#00ff96"/>
<path d="M284.4 57.7 282.2 56.9 284.4 55.3 286.7 56.1Z" fill="#62ff00"/>
<path d="M324.8 47.4 322.4 46.5 324.6 44.8 326.9 45.7Z" fill="#bdff00"/>
<path d="M216.9 78.7 214.8 77.8 217.1 76.2 219.2 77Z" fill="#00ff44"/>
<path d="M198.7 84.5 196.6 83.6 199 81.9 201.1 82.8Z" fill="#00ff6d"/>
<path d="M173.5 92.4 171.4 91.4 173.8 89.8 175.9 90.8Z" fill="#00ffa5"/>
<path d="M329.3 46.7 326.9 45.7 329.1 44 331.4 45Z" fill="#c4ff00"/>
<path d="M304.6 52.5 302.3 51.7 304.5 50 306.8 50.8Z" fill="#90ff00"/>
<path d="M228.2 75.4 226.1 74.6 228.4 73 230.5 73.8Z" fill="#00ff2c"/>
<path d="M250.8 68.9 248.6 68.1 250.9 66.4 253 67.2Z" fill="#06ff00"/>
<path d="M333.8 45.9 331.4 45 333.6 43.3 335.9 44.2Z" fill="#ccff00"/>
<path d="M239.5 72.2 237.3 71.4 239.6 69.8 241.8 70.6Z" fill="#00ff14"/>
<path d="M273.2 61.2 271 60.4 273.2 58.7 275.5 59.5Z" fill="#46ff00"/>
<path d="M288.9 56.9 286.7 56.1 288.9 54.4 291.1 55.2Z" fill="#6bff00"/>
<path d="M166.5 94.6 164.5 93.6 166.9 92 169 93Z" fill="#00ffb4"/>
<path d="M191.8 87 189.7 86.1 192.1 84.4 194.2 85.3Z" fill="#00ff7f"/>
<path d="M262 65 259.8 64.3 262.1 62.4 264.3 63.2Z" fill="#26ff00"/>
<path d="M338.3 45.2 335.9 44.2 338.1 42.6 340.4 43.5Z" fill="#d3ff00"/>
<path d="M145.5 102.1 143.5 101.1 146 99.3 148 100.3Z" fill="#00ffe5"/>
<path d="M210 81.2 207.9 80.3 210.3 78.6 212.4 79.5Z" fill="#00ff55"/>
<path d="M342.8 44.4 340.4 43.5 342.5 41.9 344.9 42.8Z" fill="#daff00"/>
<path d="M152.5 99.5 150.5 98.5 153 96.7 155 97.7Z" fill="#00ffd4"/>
<path d="M159.5 97 157.5 96 160 94.3 162 95.3Z" fill="#00ffc3"/>
<path d="M309.1 51.6 306.8 50.8 309 49 311.3 49.9Z" fill="#99ff00"/>
<path d="M347.3 43.7 344.9 42.8 347 41.1 349.4 42Z" fill="#e1ff00"/>
<path d="M184.9 89.4 182.8 88.5 185.2 86.8 187.3 87.8Z" fill="#00ff8f"/>
<path d="M374.4 39.8 371.9 38.6 374 36.9 376.4 38.1Z" fill="#fff800"/>
<path d="M351.8 43 349.4 42 351.5 40.4 353.9 41.3Z" fill="#e8ff00"/>
<path d="M369.8 40.3 367.4 39.2 369.5 37.5 371.9 38.6Z" fill="#fffc00"/>
<path d="M356.3 42.2 353.9 41.3 356 39.6 358.4 40.6Z" fill="#efff00"/>
<path d="M293.4 56 291.1 55.2 293.4 53.5 295.6 54.3Z" fill="#73ff00"/>
<path d="M221.4 77.9 219.2 77 221.6 75.4 223.7 76.2Z" fill="#00ff3d"/>
<path d="M360.8 41.5 358.4 40.6 360.5 38.9 362.9 39.8Z" fill="#f6ff00"/>
<path d="M365.3 40.8 362.9 39.8 365 38.2 367.4 39.2Z" fill="#fdff00"/>
<path d="M277.7 60.3 275.5 59.5 277.7 57.8 280 58.6Z" fill="#4fff00"/>
<path d="M313.6 50.7 311.3 49.9 313.5 48.1 315.8 49Z" fill="#a2ff00"/>
<path d="M203.2 83.7 201.1 82.8 203.4 81.1 205.5 82Z" fill="#00ff66"/>
<path d="M178 91.8 175.9 90.8 178.3 89.2 180.4 90.1Z" fill="#00ff9f"/>
<path d="M255.2 67.9 253 67.2 255.3 65.4 257.5 66.1Z" fill="#0fff00"/>
<path d="M244 71.4 241.8 70.6 244.1 68.9 246.3 69.7Z" fill="#00ff0c"/>
<path d="M232.7 74.6 230.5 73.8 232.9 72.2 235 73Z" fill="#00ff25"/>
<path d="M266.5 64 264.3 63.2 266.5 61.4 268.7 62.1Z" fill="#31ff00"/>
<path d="M318.1 49.9 315.8 49 318 47.3 320.3 48.2Z" fill="#aaff00"/>
<path d="M297.9 55.1 295.6 54.3 297.8 52.6 300.1 53.4Z" fill="#7cff00"/>
<path d="M171 94 169 93 171.4 91.4 173.5 92.4Z" fill="#00ffae"/>
<path d="M196.3 86.2 194.2 85.3 196.6 83.6 198.7 84.5Z" fill="#00ff78"/>
<path d="M214.5 80.4 212.4 79.5 214.8 77.8 216.9 78.7Z" fill="#00ff4e"/>
<path d="M282.2 59.4 280 58.6 282.2 56.9 284.4 57.7Z" fill="#57ff00"/>
<path d="M322.6 49.1 320.3 48.2 322.4 46.5 324.8 47.4Z" fill="#b2ff00"/>
<path d="M164 96.3 162 95.3 164.5 93.6 166.5 94.6Z" fill="#00ffbd"/>
<path d="M150.1 101.3 148 100.3 150.5 98.5 152.5 99.5Z" fill="#00ffde"/>
<path d="M189.4 88.7 187.3 87.8 189.7 86.1 191.8 87Z" fill="#00ff89"/>
<path d="M225.9 77.1 223.7 76.2 226.1 74.6 228.2 75.4Z" fill="#00ff36"/>
<path d="M157 98.8 155 97.7 157.5 96 159.5 97Z" fill="#00ffcd"/>
<path d="M248.5 70.5 246.3 69.7 248.6 68.1 250.8 68.9Z" fill="#00ff05"/>
<path d="M237.2 73.8 235 73 237.3 71.4 239.5 72.2Z" fill="#00ff1d"/>
<path d="M302.4 54.2 300.1 53.4 302.3 51.7 304.6 52.5Z" fill="#85ff00"/>
<path d="M259.7 66.9 257.5 66.1 259.8 64.3 262 65Z" fill="#19ff00"/>
<path d="M327.1 48.3 324.8 47.4 326.9 45.7 329.3 46.7Z" fill="#b9ff00"/>
<path d="M271 62.9 268.7 62.1 271 60.4 273.2 61.2Z" fill="#3aff00"/>
<path d="M207.7 82.9 205.5 82 207.9 80.3 210 81.2Z" fill="#00ff5f"/>
<path d="M182.5 91.1 180.4 90.1 182.8 88.5 184.9 89.4Z" fill="#00ff99"/>
<path d="M286.7 58.5 284.4 57.7 286.7 56.1 288.9 56.9Z" fill="#60ff00"/>
<path d="M331.6 47.6 329.3 46.7 331.4 45 333.8 45.9Z" fill="#c0ff00"/>
<path d="M336.1 46.8 333.8 45.9 335.9 44.2 338.3 45.2Z" fill="#c7ff00"/>
<path d="M306.9 53.3 304.6 52.5 306.8 50.8 309.1 51.6Z" fill="#8dff00"/>
<path d="M219 79.5 216.9 78.7 219.2 77 221.4 77.9Z" fill="#00ff47"/>
<path d="M200.8 85.4 198.7 84.5 201.1 82.8 203.2 83.7Z" fill="#00ff71"/>
<path d="M175.5 93.4 173.5 92.4 175.9 90.8 178 91.8Z" fill="#00ffa8"/>
<path d="M340.6 46.1 338.3 45.2 340.4 43.5 342.8 44.4Z" fill="#ceff00"/>
<path d="M376.8 41 374.4 39.8 376.4 38.1 378.9 39.3Z" fill="#fffd00"/>
<path d="M252.9 69.7 250.8 68.9 253 67.2 255.2 67.9Z" fill="#03ff00"/>
<path d="M275.5 62 273.2 61.2 275.5 59.5 277.7 60.3Z" fill="#43ff00"/>
<path d="M230.3 76.3 228.2 75.4 230.5 73.8 232.7 74.6Z" fill="#00ff2e"/>
<path d="M291.2 57.6 288.9 56.9 291.1 55.2 293.4 56Z" fill="#68ff00"/>
<path d="M345.1 45.4 342.8 44.4 344.9 42.8 347.3 43.7Z" fill="#d5ff00"/>
<path d="M241.7 73 239.5 72.2 241.8 70.6 244 71.4Z" fill="#00ff16"/>
<path d="M372.3 41.4 369.8 40.3 371.9 38.6 374.4 39.8Z" fill="#fcff00"/>
<path d="M349.6 44.6 347.3 43.7 349.4 42 351.8 43Z" fill="#dcff00"/>
<path d="M264.2 65.8 262 65 264.3 63.2 266.5 64Z" fill="#24ff00"/>
<path d="M168.5 95.6 166.5 94.6 169 93 171 94Z" fill="#00ffb7"/>
<path d="M193.9 87.9 191.8 87 194.2 85.3 196.3 86.2Z" fill="#00ff82"/>
<path d="M311.4 52.4 309.1 51.6 311.3 49.9 313.6 50.7Z" fill="#96ff00"/>
<path d="M354.2 43.9 351.8 43 353.9 41.3 356.3 42.2Z" fill="#e3ff00"/>
<path d="M367.7 41.9 365.3 40.8 367.4 39.2 369.8 40.3Z" fill="#f7ff00"/>
<path d="M147.6 103.1 145.5 102.1 148 100.3 150.1 101.3Z" fill="#00ffe9"/>
<path d="M358.7 43.2 356.3 42.2 358.4 40.6 360.8 41.5Z" fill="#eaff00"/>
<path d="M363.2 42.5 360.8 41.5 362.9 39.8 365.3 40.8Z" fill="#f1ff00"/>
<path d="M212.2 82.1 210 81.2 212.4 79.5 214.5 80.4Z" fill="#00ff58"/>
<path d="M161.6 98 159.5 97 162 95.3 164 96.3Z" fill="#00ffc6"/>
<path d="M154.6 100.5 152.5 99.5 155 97.7 157 98.8Z" fill="#00ffd7"/>
<path d="M187 90.4 184.9 89.4 187.3 87.8 189.4 88.7Z" fill="#00ff93"/>
<path d="M295.7 56.8 293.4 56 295.6 54.3 297.9 55.1Z" fill="#70ff00"/>
<path d="M315.9 51.6 313.6 50.7 315.8 49 318.1 49.9Z" fill="#9eff00"/>
<path d="M279.9 61.1 277.7 60.3 280 58.6 282.2 59.4Z" fill="#4cff00"/>
<path d="M223.5 78.7 221.4 77.9 223.7 76.2 225.9 77.1Z" fill="#00ff3f"/>
<path d="M205.3 84.6 203.2 83.7 205.5 82 207.7 82.9Z" fill="#00ff69"/>
<path d="M257.4 68.7 255.2 67.9 257.5 66.1 259.7 66.9Z" fill="#0dff00"/>
<path d="M246.1 72.2 244 71.4 246.3 69.7 248.5 70.5Z" fill="#00ff0f"/>
<path d="M180 92.8 178 91.8 180.4 90.1 182.5 91.1Z" fill="#00ffa3"/>
<path d="M234.8 75.4 232.7 74.6 235 73 237.2 73.8Z" fill="#00ff27"/>
<path d="M320.4 50.8 318.1 49.9 320.3 48.2 322.6 49.1Z" fill="#a6ff00"/>
<path d="M268.7 64.7 266.5 64 268.7 62.1 271 62.9Z" fill="#2eff00"/>
<path d="M300.2 55.9 297.9 55.1 300.1 53.4 302.4 54.2Z" fill="#79ff00"/>
<path d="M324.9 50 322.6 49.1 324.8 47.4 327.1 48.3Z" fill="#adff00"/>
<path d="M173.1 95 171 94 173.5 92.4 175.5 93.4Z" fill="#00ffb2"/>
<path d="M198.4 87.2 196.3 86.2 198.7 84.5 200.8 85.4Z" fill="#00ff7b"/>
<path d="M284.4 60.2 282.2 59.4 284.4 57.7 286.7 58.5Z" fill="#54ff00"/>
<path d="M216.6 81.2 214.5 80.4 216.9 78.7 219 79.5Z" fill="#00ff51"/>
<path d="M329.4 49.3 327.1 48.3 329.3 46.7 331.6 47.6Z" fill="#b5ff00"/>
<path d="M166.1 97.3 164 96.3 166.5 94.6 168.5 95.6Z" fill="#00ffc1"/>
<path d="M304.7 55 302.4 54.2 304.6 52.5 306.9 53.3Z" fill="#82ff00"/>
<path d="M191.5 89.7 189.4 88.7 191.8 87 193.9 87.9Z" fill="#00ff8c"/>
<path d="M152.1 102.3 150.1 101.3 152.5 99.5 154.6 100.5Z" fill="#00ffe2"/>
<path d="M228 77.9 225.9 77.1 228.2 75.4 230.3 76.3Z" fill="#00ff38"/>
<path d="M159.1 99.8 157 98.8 159.5 97 161.6 98Z" fill="#00ffd1"/>
<path d="M250.6 71.3 248.5 70.5 250.8 68.9 252.9 69.7Z" fill="#00ff07"/>
<path d="M333.9 48.5 331.6 47.6 333.8 45.9 336.1 46.8Z" fill="#bcff00"/>
<path d="M239.3 74.6 237.2 73.8 239.5 72.2 241.7 73Z" fill="#00ff20"/>
<path d="M261.9 67.7 259.7 66.9 262 65 264.2 65.8Z" fill="#17ff00"/>
<path d="M273.2 63.7 271 62.9 273.2 61.2 275.5 62Z" fill="#38ff00"/>
<path d="M379.2 42.2 376.8 41 378.9 39.3 381.3 40.5Z" fill="#faff00"/>
<path d="M288.9 59.3 286.7 58.5 288.9 56.9 291.2 57.6Z" fill="#5dff00"/>
<path d="M209.8 83.8 207.7 82.9 210 81.2 212.2 82.1Z" fill="#00ff62"/>
<path d="M338.5 47.8 336.1 46.8 338.3 45.2 340.6 46.1Z" fill="#c3ff00"/>
<path d="M184.5 92.1 182.5 91.1 184.9 89.4 187 90.4Z" fill="#00ff9d"/>
<path d="M343 47 340.6 46.1 342.8 44.4 345.1 45.4Z" fill="#caff00"/>
<path d="M309.2 54.1 306.9 53.3 309.1 51.6 311.4 52.4Z" fill="#8aff00"/>
<path d="M374.7 42.6 372.3 41.4 374.4 39.8 376.8 41Z" fill="#f6ff00"/>
<path d="M347.5 46.3 345.1 45.4 347.3 43.7 349.6 44.6Z" fill="#d1ff00"/>
<path d="M370.1 43.1 367.7 41.9 369.8 40.3 372.3 41.4Z" fill="#f1ff00"/>
<path d="M352 45.6 349.6 44.6 351.8 43 354.2 43.9Z" fill="#d8ff00"/>
<path d="M221.1 80.4 219 79.5 221.4 77.9 223.5 78.7Z" fill="#00ff49"/>
<path d="M202.9 86.3 200.8 85.4 203.2 83.7 205.3 84.6Z" fill="#00ff74"/>
<path d="M177.6 94.4 175.5 93.4 178 91.8 180 92.8Z" fill="#00ffac"/>
<path d="M356.6 44.8 354.2 43.9 356.3 42.2 358.7 43.2Z" fill="#dfff00"/>
<path d="M365.6 43.6 363.2 42.5 365.3 40.8 367.7 41.9Z" fill="#ecff00"/>
<path d="M361.1 44.2 358.7 43.2 360.8 41.5 363.2 42.5Z" fill="#e6ff00"/>
<path d="M293.5 58.4 291.2 57.6 293.4 56 295.7 56.8Z" fill="#65ff00"/>
<path d="M277.7 62.8 275.5 62 277.7 60.3 279.9 61.1Z" fill="#41ff00"/>
<path d="M313.7 53.3 311.4 52.4 313.6 50.7 315.9 51.6Z" fill="#93ff00"/>
<path d="M255.1 70.4 252.9 69.7 255.2 67.9 257.4 68.7Z" fill="#01ff00"/>
<path d="M232.5 77.1 230.3 76.3 232.7 74.6 234.8 75.4Z" fill="#00ff31"/>
<path d="M243.8 73.8 241.7 73 244 71.4 246.1 72.2Z" fill="#00ff19"/>
<path d="M266.4 66.6 264.2 65.8 266.5 64 268.7 64.7Z" fill="#21ff00"/>
<path d="M170.6 96.7 168.5 95.6 171 94 173.1 95Z" fill="#00ffbb"/>
<path d="M196 88.9 193.9 87.9 196.3 86.2 198.4 87.2Z" fill="#00ff85"/>
<path d="M149.6 104.1 147.6 103.1 150.1 101.3 152.1 102.3Z" fill="#00ffed"/>
<path d="M318.2 52.5 315.9 51.6 318.1 49.9 320.4 50.8Z" fill="#9aff00"/>
<path d="M214.3 83 212.2 82.1 214.5 80.4 216.6 81.2Z" fill="#00ff5b"/>
<path d="M163.6 99 161.6 98 164 96.3 166.1 97.3Z" fill="#00ffca"/>
<path d="M156.6 101.6 154.6 100.5 157 98.8 159.1 99.8Z" fill="#00ffdb"/>
<path d="M298 57.6 295.7 56.8 297.9 55.1 300.2 55.9Z" fill="#6eff00"/>
<path d="M189.1 91.4 187 90.4 189.4 88.7 191.5 89.7Z" fill="#00ff96"/>
<path d="M282.2 61.9 279.9 61.1 282.2 59.4 284.4 60.2Z" fill="#49ff00"/>
<path d="M322.7 51.7 320.4 50.8 322.6 49.1 324.9 50Z" fill="#a2ff00"/>
<path d="M225.7 79.6 223.5 78.7 225.9 77.1 228 77.9Z" fill="#00ff42"/>
<path d="M259.6 69.5 257.4 68.7 259.7 66.9 261.9 67.7Z" fill="#0aff00"/>
<path d="M207.4 85.5 205.3 84.6 207.7 82.9 209.8 83.8Z" fill="#00ff6c"/>
<path d="M248.3 73 246.1 72.2 248.5 70.5 250.6 71.3Z" fill="#00ff11"/>
<path d="M182.1 93.8 180 92.8 182.5 91.1 184.5 92.1Z" fill="#00ffa6"/>
<path d="M237 76.3 234.8 75.4 237.2 73.8 239.3 74.6Z" fill="#00ff2a"/>
<path d="M327.3 51 324.9 50 327.1 48.3 329.4 49.3Z" fill="#a9ff00"/>
<path d="M270.9 65.5 268.7 64.7 271 62.9 273.2 63.7Z" fill="#2bff00"/>
<path d="M302.5 56.7 300.2 55.9 302.4 54.2 304.7 55Z" fill="#76ff00"/>
<path d="M331.8 50.2 329.4 49.3 331.6 47.6 333.9 48.5Z" fill="#b0ff00"/>
<path d="M286.7 61 284.4 60.2 286.7 58.5 288.9 59.3Z" fill="#52ff00"/>
<path d="M381.6 43.4 379.2 42.2 381.3 40.5 383.7 41.8Z" fill="#f3ff00"/>
<path d="M175.1 96 173.1 95 175.5 93.4 177.6 94.4Z" fill="#00ffb5"/>
<path d="M200.5 88.1 198.4 87.2 200.8 85.4 202.9 86.3Z" fill="#00ff7e"/>
<path d="M218.8 82.1 216.6 81.2 219 79.5 221.1 80.4Z" fill="#00ff53"/>
<path d="M336.3 49.4 333.9 48.5 336.1 46.8 338.5 47.8Z" fill="#b8ff00"/>
<path d="M307 55.8 304.7 55 306.9 53.3 309.2 54.1Z" fill="#7fff00"/>
<path d="M377.1 43.8 374.7 42.6 376.8 41 379.2 42.2Z" fill="#efff00"/>
<path d="M168.1 98.3 166.1 97.3 168.5 95.6 170.6 96.7Z" fill="#00ffc4"/>
<path d="M340.8 48.7 338.5 47.8 340.6 46.1 343 47Z" fill="#bfff00"/>
<path d="M193.6 90.6 191.5 89.7 193.9 87.9 196 88.9Z" fill="#00ff8f"/>
<path d="M230.2 78.8 228 77.9 230.3 76.3 232.5 77.1Z" fill="#00ff3b"/>
<path d="M154.1 103.4 152.1 102.3 154.6 100.5 156.6 101.6Z" fill="#00ffe6"/>
<path d="M252.8 72.1 250.6 71.3 252.9 69.7 255.1 70.4Z" fill="#00ff09"/>
<path d="M275.4 64.5 273.2 63.7 275.5 62 277.7 62.8Z" fill="#35ff00"/>
<path d="M372.6 44.3 370.1 43.1 372.3 41.4 374.7 42.6Z" fill="#eaff00"/>
<path d="M161.1 100.8 159.1 99.8 161.6 98 163.6 99Z" fill="#00ffd4"/>
<path d="M264.1 68.5 261.9 67.7 264.2 65.8 266.4 66.6Z" fill="#15ff00"/>
<path d="M345.4 47.9 343 47 345.1 45.4 347.5 46.3Z" fill="#c6ff00"/>
<path d="M241.5 75.4 239.3 74.6 241.7 73 243.8 73.8Z" fill="#00ff22"/>
<path d="M291.2 60.1 288.9 59.3 291.2 57.6 293.5 58.4Z" fill="#5aff00"/>
<path d="M349.9 47.2 347.5 46.3 349.6 44.6 352 45.6Z" fill="#cdff00"/>
<path d="M368 44.7 365.6 43.6 367.7 41.9 370.1 43.1Z" fill="#e6ff00"/>
<path d="M311.5 55 309.2 54.1 311.4 52.4 313.7 53.3Z" fill="#87ff00"/>
<path d="M211.9 84.7 209.8 83.8 212.2 82.1 214.3 83Z" fill="#00ff65"/>
<path d="M354.4 46.5 352 45.6 354.2 43.9 356.6 44.8Z" fill="#d4ff00"/>
<path d="M186.6 93.1 184.5 92.1 187 90.4 189.1 91.4Z" fill="#00ffa0"/>
<path d="M363.5 45.2 361.1 44.2 363.2 42.5 365.6 43.6Z" fill="#e0ff00"/>
<path d="M359 45.8 356.6 44.8 358.7 43.2 361.1 44.2Z" fill="#daff00"/>
<path d="M316 54.2 313.7 53.3 315.9 51.6 318.2 52.5Z" fill="#8fff00"/>
<path d="M295.7 59.2 293.5 58.4 295.7 56.8 298 57.6Z" fill="#62ff00"/>
<path d="M179.7 95.4 177.6 94.4 180 92.8 182.1 93.8Z" fill="#00ffb0"/>
<path d="M223.3 81.3 221.1 80.4 223.5 78.7 225.7 79.6Z" fill="#00ff4c"/>
<path d="M205 87.3 202.9 86.3 205.3 84.6 207.4 85.5Z" fill="#00ff77"/>
<path d="M279.9 63.6 277.7 62.8 279.9 61.1 282.2 61.9Z" fill="#3eff00"/>
<path d="M257.3 71.2 255.1 70.4 257.4 68.7 259.6 69.5Z" fill="#00ff01"/>
<path d="M234.7 77.9 232.5 77.1 234.8 75.4 237 76.3Z" fill="#00ff33"/>
<path d="M246 74.6 243.8 73.8 246.1 72.2 248.3 73Z" fill="#00ff1b"/>
<path d="M268.7 67.4 266.4 66.6 268.7 64.7 270.9 65.5Z" fill="#1fff00"/>
<path d="M320.5 53.4 318.2 52.5 320.4 50.8 322.7 51.7Z" fill="#96ff00"/>
<path d="M172.7 97.7 170.6 96.7 173.1 95 175.1 96Z" fill="#00ffbf"/>
<path d="M198.1 89.8 196 88.9 198.4 87.2 200.5 88.1Z" fill="#00ff88"/>
<path d="M300.3 58.4 298 57.6 300.2 55.9 302.5 56.7Z" fill="#6bff00"/>
<path d="M151.6 105.2 149.6 104.1 152.1 102.3 154.1 103.4Z" fill="#00fff0"/>
<path d="M325.1 52.7 322.7 51.7 324.9 50 327.3 51Z" fill="#9eff00"/>
<path d="M216.4 83.8 214.3 83 216.6 81.2 218.8 82.1Z" fill="#00ff5e"/>
<path d="M165.7 100 163.6 99 166.1 97.3 168.1 98.3Z" fill="#00ffce"/>
<path d="M158.6 102.6 156.6 101.6 159.1 99.8 161.1 100.8Z" fill="#00ffdf"/>
<path d="M284.5 62.7 282.2 61.9 284.4 60.2 286.7 61Z" fill="#47ff00"/>
<path d="M191.2 92.4 189.1 91.4 191.5 89.7 193.6 90.6Z" fill="#00ff9a"/>
<path d="M384.1 44.6 381.6 43.4 383.7 41.8 386.2 43Z" fill="#ecff00"/>
<path d="M329.6 51.9 327.3 51 329.4 49.3 331.8 50.2Z" fill="#a5ff00"/>
<path d="M227.8 80.4 225.7 79.6 228 77.9 230.2 78.8Z" fill="#00ff45"/>
<path d="M304.8 57.5 302.5 56.7 304.7 55 307 55.8Z" fill="#73ff00"/>
<path d="M261.9 70.3 259.6 69.5 261.9 67.7 264.1 68.5Z" fill="#08ff00"/>
<path d="M250.5 73.8 248.3 73 250.6 71.3 252.8 72.1Z" fill="#00ff13"/>
<path d="M209.5 86.4 207.4 85.5 209.8 83.8 211.9 84.7Z" fill="#00ff6f"/>
<path d="M334.1 51.1 331.8 50.2 333.9 48.5 336.3 49.4Z" fill="#acff00"/>
<path d="M184.2 94.8 182.1 93.8 184.5 92.1 186.6 93.1Z" fill="#00ffaa"/>
<path d="M379.5 45 377.1 43.8 379.2 42.2 381.6 43.4Z" fill="#e8ff00"/>
<path d="M273.2 66.3 270.9 65.5 273.2 63.7 275.4 64.5Z" fill="#29ff00"/>
<path d="M239.2 77.1 237 76.3 239.3 74.6 241.5 75.4Z" fill="#00ff2c"/>
<path d="M338.7 50.3 336.3 49.4 338.5 47.8 340.8 48.7Z" fill="#b3ff00"/>
<path d="M289 61.8 286.7 61 288.9 59.3 291.2 60.1Z" fill="#4fff00"/>
<path d="M375 45.5 372.6 44.3 374.7 42.6 377.1 43.8Z" fill="#e4ff00"/>
<path d="M309.3 56.7 307 55.8 309.2 54.1 311.5 55Z" fill="#7bff00"/>
<path d="M177.2 97.1 175.1 96 177.6 94.4 179.7 95.4Z" fill="#00ffb9"/>
<path d="M343.2 49.6 340.8 48.7 343 47 345.4 47.9Z" fill="#bbff00"/>
<path d="M202.6 89 200.5 88.1 202.9 86.3 205 87.3Z" fill="#00ff81"/>
<path d="M370.5 45.9 368 44.7 370.1 43.1 372.6 44.3Z" fill="#dfff00"/>
<path d="M220.9 83 218.8 82.1 221.1 80.4 223.3 81.3Z" fill="#00ff56"/>
<path d="M347.7 48.9 345.4 47.9 347.5 46.3 349.9 47.2Z" fill="#c2ff00"/>
<path d="M365.9 46.4 363.5 45.2 365.6 43.6 368 44.7Z" fill="#daff00"/>
<path d="M352.3 48.1 349.9 47.2 352 45.6 354.4 46.5Z" fill="#c9ff00"/>
<path d="M361.4 46.9 359 45.8 361.1 44.2 363.5 45.2Z" fill="#d5ff00"/>
<path d="M356.8 47.5 354.4 46.5 356.6 44.8 359 45.8Z" fill="#cfff00"/>
<path d="M170.2 99.3 168.1 98.3 170.6 96.7 172.7 97.7Z" fill="#00ffc8"/>
<path d="M195.7 91.6 193.6 90.6 196 88.9 198.1 89.8Z" fill="#00ff93"/>
<path d="M277.7 65.3 275.4 64.5 277.7 62.8 279.9 63.6Z" fill="#32ff00"/>
<path d="M313.8 55.9 311.5 55 313.7 53.3 316 54.2Z" fill="#83ff00"/>
<path d="M293.5 60.9 291.2 60.1 293.5 58.4 295.7 59.2Z" fill="#57ff00"/>
<path d="M232.3 79.6 230.2 78.8 232.5 77.1 234.7 77.9Z" fill="#00ff3d"/>
<path d="M255 72.9 252.8 72.1 255.1 70.4 257.3 71.2Z" fill="#00ff0c"/>
<path d="M266.4 69.3 264.1 68.5 266.4 66.6 268.7 67.4Z" fill="#12ff00"/>
<path d="M156.2 104.4 154.1 103.4 156.6 101.6 158.6 102.6Z" fill="#00ffe9"/>
<path d="M163.2 101.8 161.1 100.8 163.6 99 165.7 100Z" fill="#00ffd8"/>
<path d="M243.7 76.3 241.5 75.4 243.8 73.8 246 74.6Z" fill="#00ff25"/>
<path d="M214 85.6 211.9 84.7 214.3 83 216.4 83.8Z" fill="#00ff68"/>
<path d="M188.7 94.1 186.6 93.1 189.1 91.4 191.2 92.4Z" fill="#00ffa4"/>
<path d="M318.4 55.1 316 54.2 318.2 52.5 320.5 53.4Z" fill="#8bff00"/>
<path d="M298 60.1 295.7 59.2 298 57.6 300.3 58.4Z" fill="#60ff00"/>
<path d="M282.2 64.4 279.9 63.6 282.2 61.9 284.5 62.7Z" fill="#3bff00"/>
<path d="M322.9 54.4 320.5 53.4 322.7 51.7 325.1 52.7Z" fill="#92ff00"/>
<path d="M181.7 96.4 179.7 95.4 182.1 93.8 184.2 94.8Z" fill="#00ffb3"/>
<path d="M225.5 82.1 223.3 81.3 225.7 79.6 227.8 80.4Z" fill="#00ff4f"/>
<path d="M207.1 88.2 205 87.3 207.4 85.5 209.5 86.4Z" fill="#00ff7a"/>
<path d="M259.6 72 257.3 71.2 259.6 69.5 261.9 70.3Z" fill="#00ff04"/>
<path d="M386.5 45.9 384.1 44.6 386.2 43 388.6 44.2Z" fill="#e5ff00"/>
<path d="M270.9 68.2 268.7 67.4 270.9 65.5 273.2 66.3Z" fill="#1cff00"/>
<path d="M236.8 78.8 234.7 77.9 237 76.3 239.2 77.1Z" fill="#00ff36"/>
<path d="M248.2 75.4 246 74.6 248.3 73 250.5 73.8Z" fill="#00ff1d"/>
<path d="M327.4 53.6 325.1 52.7 327.3 51 329.6 51.9Z" fill="#9aff00"/>
<path d="M302.5 59.2 300.3 58.4 302.5 56.7 304.8 57.5Z" fill="#68ff00"/>
<path d="M174.7 98.7 172.7 97.7 175.1 96 177.2 97.1Z" fill="#00ffc2"/>
<path d="M200.2 90.8 198.1 89.8 200.5 88.1 202.6 89Z" fill="#00ff8c"/>
<path d="M382 46.2 379.5 45 381.6 43.4 384.1 44.6Z" fill="#e1ff00"/>
<path d="M332 52.8 329.6 51.9 331.8 50.2 334.1 51.1Z" fill="#a1ff00"/>
<path d="M218.6 84.7 216.4 83.8 218.8 82.1 220.9 83Z" fill="#00ff60"/>
<path d="M153.7 106.2 151.6 105.2 154.1 103.4 156.2 104.4Z" fill="#00fff4"/>
<path d="M286.7 63.5 284.5 62.7 286.7 61 289 61.8Z" fill="#44ff00"/>
<path d="M167.7 101.1 165.7 100 168.1 98.3 170.2 99.3Z" fill="#00ffd2"/>
<path d="M160.7 103.6 158.6 102.6 161.1 100.8 163.2 101.8Z" fill="#00ffe3"/>
<path d="M193.3 93.3 191.2 92.4 193.6 90.6 195.7 91.6Z" fill="#00ff9d"/>
<path d="M377.4 46.7 375 45.5 377.1 43.8 379.5 45Z" fill="#ddff00"/>
<path d="M336.5 52 334.1 51.1 336.3 49.4 338.7 50.3Z" fill="#a8ff00"/>
<path d="M307.1 58.4 304.8 57.5 307 55.8 309.3 56.7Z" fill="#70ff00"/>
<path d="M372.9 47.1 370.5 45.9 372.6 44.3 375 45.5Z" fill="#d9ff00"/>
<path d="M230 81.3 227.8 80.4 230.2 78.8 232.3 79.6Z" fill="#00ff47"/>
<path d="M341 51.3 338.7 50.3 340.8 48.7 343.2 49.6Z" fill="#afff00"/>
<path d="M264.1 71.1 261.9 70.3 264.1 68.5 266.4 69.3Z" fill="#05ff00"/>
<path d="M275.4 67.1 273.2 66.3 275.4 64.5 277.7 65.3Z" fill="#26ff00"/>
<path d="M252.7 74.6 250.5 73.8 252.8 72.1 255 72.9Z" fill="#00ff16"/>
<path d="M186.3 95.8 184.2 94.8 186.6 93.1 188.7 94.1Z" fill="#00ffad"/>
<path d="M211.7 87.3 209.5 86.4 211.9 84.7 214 85.6Z" fill="#00ff72"/>
<path d="M241.4 77.9 239.2 77.1 241.5 75.4 243.7 76.3Z" fill="#00ff2f"/>
<path d="M368.3 47.6 365.9 46.4 368 44.7 370.5 45.9Z" fill="#d4ff00"/>
<path d="M345.6 50.5 343.2 49.6 345.4 47.9 347.7 48.9Z" fill="#b7ff00"/>
<path d="M291.3 62.6 289 61.8 291.2 60.1 293.5 60.9Z" fill="#4cff00"/>
<path d="M311.6 57.6 309.3 56.7 311.5 55 313.8 55.9Z" fill="#77ff00"/>
<path d="M363.8 48 361.4 46.9 363.5 45.2 365.9 46.4Z" fill="#cfff00"/>
<path d="M350.1 49.8 347.7 48.9 349.9 47.2 352.3 48.1Z" fill="#bdff00"/>
<path d="M354.7 49.1 352.3 48.1 354.4 46.5 356.8 47.5Z" fill="#c4ff00"/>
<path d="M359.2 48.5 356.8 47.5 359 45.8 361.4 46.9Z" fill="#caff00"/>
<path d="M179.3 98.1 177.2 97.1 179.7 95.4 181.7 96.4Z" fill="#00ffbd"/>
<path d="M204.7 90 202.6 89 205 87.3 207.1 88.2Z" fill="#00ff84"/>
<path d="M223.1 83.9 220.9 83 223.3 81.3 225.5 82.1Z" fill="#00ff59"/>
<path d="M316.1 56.8 313.8 55.9 316 54.2 318.4 55.1Z" fill="#7fff00"/>
<path d="M295.8 61.7 293.5 60.9 295.7 59.2 298 60.1Z" fill="#54ff00"/>
<path d="M279.9 66.1 277.7 65.3 279.9 63.6 282.2 64.4Z" fill="#30ff00"/>
<path d="M172.3 100.4 170.2 99.3 172.7 97.7 174.7 98.7Z" fill="#00ffcc"/>
<path d="M197.8 92.6 195.7 91.6 198.1 89.8 200.2 90.8Z" fill="#00ff96"/>
<path d="M268.6 70 266.4 69.3 268.7 67.4 270.9 68.2Z" fill="#10ff00"/>
<path d="M257.3 73.7 255 72.9 257.3 71.2 259.6 72Z" fill="#00ff0e"/>
<path d="M234.5 80.5 232.3 79.6 234.7 77.9 236.8 78.8Z" fill="#00ff40"/>
<path d="M158.2 105.4 156.2 104.4 158.6 102.6 160.7 103.6Z" fill="#00ffed"/>
<path d="M245.9 77.1 243.7 76.3 246 74.6 248.2 75.4Z" fill="#00ff27"/>
<path d="M320.7 56.1 318.4 55.1 320.5 53.4 322.9 54.4Z" fill="#87ff00"/>
<path d="M165.2 102.9 163.2 101.8 165.7 100 167.7 101.1Z" fill="#00ffdc"/>
<path d="M389 47.2 386.5 45.9 388.6 44.2 391.1 45.6Z" fill="#ddff00"/>
<path d="M216.2 86.5 214 85.6 216.4 83.8 218.6 84.7Z" fill="#00ff6b"/>
<path d="M190.8 95.1 188.7 94.1 191.2 92.4 193.3 93.3Z" fill="#00ffa7"/>
<path d="M300.3 60.9 298 60.1 300.3 58.4 302.5 59.2Z" fill="#5dff00"/>
<path d="M325.2 55.3 322.9 54.4 325.1 52.7 327.4 53.6Z" fill="#8eff00"/>
<path d="M384.4 47.5 382 46.2 384.1 44.6 386.5 45.9Z" fill="#daff00"/>
<path d="M284.5 65.2 282.2 64.4 284.5 62.7 286.7 63.5Z" fill="#39ff00"/>
<path d="M183.8 97.4 181.7 96.4 184.2 94.8 186.3 95.8Z" fill="#00ffb7"/>
<path d="M329.8 54.5 327.4 53.6 329.6 51.9 332 52.8Z" fill="#96ff00"/>
<path d="M227.6 83 225.5 82.1 227.8 80.4 230 81.3Z" fill="#00ff51"/>
<path d="M209.3 89.1 207.1 88.2 209.5 86.4 211.7 87.3Z" fill="#00ff7d"/>
<path d="M379.9 47.9 377.4 46.7 379.5 45 382 46.2Z" fill="#d6ff00"/>
<path d="M261.8 72.8 259.6 72 261.9 70.3 264.1 71.1Z" fill="#00ff06"/>
<path d="M273.1 69 270.9 68.2 273.2 66.3 275.4 67.1Z" fill="#1aff00"/>
<path d="M304.9 60.1 302.5 59.2 304.8 57.5 307.1 58.4Z" fill="#64ff00"/>
<path d="M239 79.6 236.8 78.8 239.2 77.1 241.4 77.9Z" fill="#00ff38"/>
<path d="M250.4 76.3 248.2 75.4 250.5 73.8 252.7 74.6Z" fill="#00ff20"/>
<path d="M334.3 53.7 332 52.8 334.1 51.1 336.5 52Z" fill="#9dff00"/>
<path d="M375.3 48.3 372.9 47.1 375 45.5 377.4 46.7Z" fill="#d2ff00"/>
<path d="M176.8 99.7 174.7 98.7 177.2 97.1 179.3 98.1Z" fill="#00ffc6"/>
<path d="M202.3 91.8 200.2 90.8 202.6 89 204.7 90Z" fill="#00ff8f"/>
<path d="M338.9 52.9 336.5 52 338.7 50.3 341 51.3Z" fill="#a4ff00"/>
<path d="M289 64.3 286.7 63.5 289 61.8 291.3 62.6Z" fill="#41ff00"/>
<path d="M370.8 48.8 368.3 47.6 370.5 45.9 372.9 47.1Z" fill="#cdff00"/>
<path d="M309.4 59.3 307.1 58.4 309.3 56.7 311.6 57.6Z" fill="#6cff00"/>
<path d="M220.7 85.6 218.6 84.7 220.9 83 223.1 83.9Z" fill="#00ff63"/>
<path d="M155.7 107.3 153.7 106.2 156.2 104.4 158.2 105.4Z" fill="#00fff8"/>
<path d="M169.8 102.1 167.7 101.1 170.2 99.3 172.3 100.4Z" fill="#00ffd5"/>
<path d="M343.4 52.2 341 51.3 343.2 49.6 345.6 50.5Z" fill="#abff00"/>
<path d="M162.8 104.7 160.7 103.6 163.2 101.8 165.2 102.9Z" fill="#00ffe6"/>
<path d="M195.4 94.3 193.3 93.3 195.7 91.6 197.8 92.6Z" fill="#00ffa0"/>
<path d="M366.2 49.2 363.8 48 365.9 46.4 368.3 47.6Z" fill="#c9ff00"/>
<path d="M348 51.5 345.6 50.5 347.7 48.9 350.1 49.8Z" fill="#b2ff00"/>
<path d="M361.6 49.7 359.2 48.5 361.4 46.9 363.8 48Z" fill="#c4ff00"/>
<path d="M352.5 50.8 350.1 49.8 352.3 48.1 354.7 49.1Z" fill="#b9ff00"/>
<path d="M357.1 50.2 354.7 49.1 356.8 47.5 359.2 48.5Z" fill="#bfff00"/>
<path d="M232.1 82.2 230 81.3 232.3 79.6 234.5 80.5Z" fill="#00ff4a"/>
<path d="M266.3 71.9 264.1 71.1 266.4 69.3 268.6 70Z" fill="#03ff00"/>
<path d="M277.7 67.9 275.4 67.1 277.7 65.3 279.9 66.1Z" fill="#24ff00"/>
<path d="M313.9 58.6 311.6 57.6 313.8 55.9 316.1 56.8Z" fill="#74ff00"/>
<path d="M255 75.4 252.7 74.6 255 72.9 257.3 73.7Z" fill="#00ff18"/>
<path d="M188.4 96.8 186.3 95.8 188.7 94.1 190.8 95.1Z" fill="#00ffb1"/>
<path d="M293.5 63.4 291.3 62.6 293.5 60.9 295.8 61.7Z" fill="#49ff00"/>
<path d="M213.8 88.3 211.7 87.3 214 85.6 216.2 86.5Z" fill="#00ff75"/>
<path d="M243.6 78.8 241.4 77.9 243.7 76.3 245.9 77.1Z" fill="#00ff31"/>
<path d="M391.5 48.5 389 47.2 391.1 45.6 393.6 46.9Z" fill="#d5ff00"/>
<path d="M318.5 57.8 316.1 56.8 318.4 55.1 320.7 56.1Z" fill="#7bff00"/>
<path d="M181.4 99.1 179.3 98.1 181.7 96.4 183.8 97.4Z" fill="#00ffc0"/>
<path d="M206.9 90.9 204.7 90 207.1 88.2 209.3 89.1Z" fill="#00ff87"/>
<path d="M225.2 84.8 223.1 83.9 225.5 82.1 227.6 83Z" fill="#00ff5c"/>
<path d="M298.1 62.6 295.8 61.7 298 60.1 300.3 60.9Z" fill="#52ff00"/>
<path d="M323 57 320.7 56.1 322.9 54.4 325.2 55.3Z" fill="#83ff00"/>
<path d="M282.2 66.9 279.9 66.1 282.2 64.4 284.5 65.2Z" fill="#2dff00"/>
<path d="M386.9 48.8 384.4 47.5 386.5 45.9 389 47.2Z" fill="#d2ff00"/>
<path d="M174.4 101.4 172.3 100.4 174.7 98.7 176.8 99.7Z" fill="#00ffcf"/>
<path d="M199.9 93.6 197.8 92.6 200.2 90.8 202.3 91.8Z" fill="#00ff99"/>
<path d="M270.9 70.8 268.6 70 270.9 68.2 273.1 69Z" fill="#0dff00"/>
<path d="M259.5 74.5 257.3 73.7 259.6 72 261.8 72.8Z" fill="#00ff10"/>
<path d="M236.7 81.3 234.5 80.5 236.8 78.8 239 79.6Z" fill="#00ff42"/>
<path d="M248.1 77.9 245.9 77.1 248.2 75.4 250.4 76.3Z" fill="#00ff2a"/>
<path d="M160.3 106.5 158.2 105.4 160.7 103.6 162.8 104.7Z" fill="#00fff1"/>
<path d="M167.3 103.9 165.2 102.9 167.7 101.1 169.8 102.1Z" fill="#00ffe0"/>
<path d="M327.6 56.2 325.2 55.3 327.4 53.6 329.8 54.5Z" fill="#8aff00"/>
<path d="M382.3 49.1 379.9 47.9 382 46.2 384.4 47.5Z" fill="#cfff00"/>
<path d="M302.6 61.8 300.3 60.9 302.5 59.2 304.9 60.1Z" fill="#59ff00"/>
<path d="M218.3 87.4 216.2 86.5 218.6 84.7 220.7 85.6Z" fill="#00ff6e"/>
<path d="M192.9 96.1 190.8 95.1 193.3 93.3 195.4 94.3Z" fill="#00ffab"/>
<path d="M332.1 55.4 329.8 54.5 332 52.8 334.3 53.7Z" fill="#92ff00"/>
<path d="M377.8 49.5 375.3 48.3 377.4 46.7 379.9 47.9Z" fill="#cbff00"/>
<path d="M286.7 66 284.5 65.2 286.7 63.5 289 64.3Z" fill="#36ff00"/>
<path d="M336.7 54.6 334.3 53.7 336.5 52 338.9 52.9Z" fill="#99ff00"/>
<path d="M307.2 61 304.9 60.1 307.1 58.4 309.4 59.3Z" fill="#61ff00"/>
<path d="M185.9 98.5 183.8 97.4 186.3 95.8 188.4 96.8Z" fill="#00ffbb"/>
<path d="M373.2 49.9 370.8 48.8 372.9 47.1 375.3 48.3Z" fill="#c7ff00"/>
<path d="M211.4 90.1 209.3 89.1 211.7 87.3 213.8 88.3Z" fill="#00ff80"/>
<path d="M229.8 83.9 227.6 83 230 81.3 232.1 82.2Z" fill="#00ff54"/>
<path d="M264 73.6 261.8 72.8 264.1 71.1 266.3 71.9Z" fill="#00ff08"/>
<path d="M275.4 69.8 273.1 69 275.4 67.1 277.7 67.9Z" fill="#17ff00"/>
<path d="M368.6 50.4 366.2 49.2 368.3 47.6 370.8 48.8Z" fill="#c2ff00"/>
<path d="M341.3 53.9 338.9 52.9 341 51.3 343.4 52.2Z" fill="#a0ff00"/>
<path d="M252.6 77.1 250.4 76.3 252.7 74.6 255 75.4Z" fill="#00ff22"/>
<path d="M241.2 80.5 239 79.6 241.4 77.9 243.6 78.8Z" fill="#00ff3b"/>
<path d="M364.1 50.9 361.6 49.7 363.8 48 366.2 49.2Z" fill="#beff00"/>
<path d="M345.8 53.1 343.4 52.2 345.6 50.5 348 51.5Z" fill="#a7ff00"/>
<path d="M178.9 100.8 176.8 99.7 179.3 98.1 181.4 99.1Z" fill="#00ffca"/>
<path d="M311.7 60.2 309.4 59.3 311.6 57.6 313.9 58.6Z" fill="#68ff00"/>
<path d="M204.5 92.7 202.3 91.8 204.7 90 206.9 90.9Z" fill="#00ff92"/>
<path d="M291.3 65.1 289 64.3 291.3 62.6 293.5 63.4Z" fill="#3eff00"/>
<path d="M359.5 51.3 357.1 50.2 359.2 48.5 361.6 49.7Z" fill="#b9ff00"/>
<path d="M350.4 52.4 348 51.5 350.1 49.8 352.5 50.8Z" fill="#aeff00"/>
<path d="M354.9 51.8 352.5 50.8 354.7 49.1 357.1 50.2Z" fill="#b4ff00"/>
<path d="M393.9 49.9 391.5 48.5 393.6 46.9 396 48.3Z" fill="#cdff00"/>
<path d="M222.9 86.5 220.7 85.6 223.1 83.9 225.2 84.8Z" fill="#00ff66"/>
<path d="M171.9 103.2 169.8 102.1 172.3 100.4 174.4 101.4Z" fill="#00ffd9"/>
<path d="M157.8 108.3 155.7 107.3 158.2 105.4 160.3 106.5Z" fill="#00fffb"/>
<path d="M197.5 95.3 195.4 94.3 197.8 92.6 199.9 93.6Z" fill="#00ffa4"/>
<path d="M164.8 105.7 162.8 104.7 165.2 102.9 167.3 103.9Z" fill="#00ffea"/>
<path d="M316.3 59.5 313.9 58.6 316.1 56.8 318.5 57.8Z" fill="#70ff00"/>
<path d="M279.9 68.7 277.7 67.9 279.9 66.1 282.2 66.9Z" fill="#21ff00"/>
<path d="M268.6 72.7 266.3 71.9 268.6 70 270.9 70.8Z" fill="#01ff00"/>
<path d="M295.8 64.2 293.5 63.4 295.8 61.7 298.1 62.6Z" fill="#47ff00"/>
<path d="M234.3 83 232.1 82.2 234.5 80.5 236.7 81.3Z" fill="#00ff4c"/>
<path d="M389.4 50.1 386.9 48.8 389 47.2 391.5 48.5Z" fill="#cbff00"/>
<path d="M257.2 76.2 255 75.4 257.3 73.7 259.5 74.5Z" fill="#00ff1a"/>
<path d="M190.5 97.8 188.4 96.8 190.8 95.1 192.9 96.1Z" fill="#00ffb5"/>
<path d="M245.8 79.6 243.6 78.8 245.9 77.1 248.1 77.9Z" fill="#00ff34"/>
<path d="M215.9 89.2 213.8 88.3 216.2 86.5 218.3 87.4Z" fill="#00ff78"/>
<path d="M320.8 58.7 318.5 57.8 320.7 56.1 323 57Z" fill="#77ff00"/>
<path d="M384.8 50.4 382.3 49.1 384.4 47.5 386.9 48.8Z" fill="#c8ff00"/>
<path d="M325.4 57.9 323 57 325.2 55.3 327.6 56.2Z" fill="#7fff00"/>
<path d="M183.5 100.1 181.4 99.1 183.8 97.4 185.9 98.5Z" fill="#00ffc4"/>
<path d="M300.4 63.4 298.1 62.6 300.3 60.9 302.6 61.8Z" fill="#4eff00"/>
<path d="M209 91.9 206.9 90.9 209.3 89.1 211.4 90.1Z" fill="#00ff8b"/>
<path d="M227.4 85.6 225.2 84.8 227.6 83 229.8 83.9Z" fill="#00ff5e"/>
<path d="M284.5 67.7 282.2 66.9 284.5 65.2 286.7 66Z" fill="#2bff00"/>
<path d="M380.2 50.7 377.8 49.5 379.9 47.9 382.3 49.1Z" fill="#c4ff00"/>
<path d="M329.9 57.1 327.6 56.2 329.8 54.5 332.1 55.4Z" fill="#86ff00"/>
<path d="M273.1 71.6 270.9 70.8 273.1 69 275.4 69.8Z" fill="#0bff00"/>
<path d="M176.4 102.5 174.4 101.4 176.8 99.7 178.9 100.8Z" fill="#00ffd3"/>
<path d="M202 94.5 199.9 93.6 202.3 91.8 204.5 92.7Z" fill="#00ff9d"/>
<path d="M261.7 75.3 259.5 74.5 261.8 72.8 264 73.6Z" fill="#00ff13"/>
<path d="M238.9 82.2 236.7 81.3 239 79.6 241.2 80.5Z" fill="#00ff45"/>
<path d="M304.9 62.7 302.6 61.8 304.9 60.1 307.2 61Z" fill="#56ff00"/>
<path d="M250.3 78.8 248.1 77.9 250.4 76.3 252.6 77.1Z" fill="#00ff2c"/>
<path d="M375.6 51.1 373.2 49.9 375.3 48.3 377.8 49.5Z" fill="#c0ff00"/>
<path d="M162.3 107.5 160.3 106.5 162.8 104.7 164.8 105.7Z" fill="#00fff4"/>
<path d="M169.4 104.9 167.3 103.9 169.8 102.1 171.9 103.2Z" fill="#00ffe3"/>
<path d="M334.5 56.3 332.1 55.4 334.3 53.7 336.7 54.6Z" fill="#8eff00"/>
<path d="M220.5 88.3 218.3 87.4 220.7 85.6 222.9 86.5Z" fill="#00ff71"/>
<path d="M195.1 97.1 192.9 96.1 195.4 94.3 197.5 95.3Z" fill="#00ffae"/>
<path d="M371.1 51.6 368.6 50.4 370.8 48.8 373.2 49.9Z" fill="#bcff00"/>
<path d="M339.1 55.5 336.7 54.6 338.9 52.9 341.3 53.9Z" fill="#95ff00"/>
<path d="M289 66.8 286.7 66 289 64.3 291.3 65.1Z" fill="#33ff00"/>
<path d="M309.5 61.9 307.2 61 309.4 59.3 311.7 60.2Z" fill="#5dff00"/>
<path d="M366.5 52 364.1 50.9 366.2 49.2 368.6 50.4Z" fill="#b8ff00"/>
<path d="M396.4 51.2 393.9 49.9 396 48.3 398.5 49.6Z" fill="#c5ff00"/>
<path d="M343.6 54.8 341.3 53.9 343.4 52.2 345.8 53.1Z" fill="#9cff00"/>
<path d="M361.9 52.5 359.5 51.3 361.6 49.7 364.1 50.9Z" fill="#b3ff00"/>
<path d="M188 99.5 185.9 98.5 188.4 96.8 190.5 97.8Z" fill="#00ffbe"/>
<path d="M348.2 54.1 345.8 53.1 348 51.5 350.4 52.4Z" fill="#a3ff00"/>
<path d="M357.4 53 354.9 51.8 357.1 50.2 359.5 51.3Z" fill="#afff00"/>
<path d="M213.6 91 211.4 90.1 213.8 88.3 215.9 89.2Z" fill="#00ff83"/>
<path d="M232 84.8 229.8 83.9 232.1 82.2 234.3 83Z" fill="#00ff57"/>
<path d="M352.8 53.5 350.4 52.4 352.5 50.8 354.9 51.8Z" fill="#a9ff00"/>
<path d="M277.7 70.6 275.4 69.8 277.7 67.9 279.9 68.7Z" fill="#15ff00"/>
<path d="M266.3 74.4 264 73.6 266.3 71.9 268.6 72.7Z" fill="#00ff0a"/>
<path d="M314.1 61.2 311.7 60.2 313.9 58.6 316.3 59.5Z" fill="#64ff00"/>
<path d="M254.9 77.9 252.6 77.1 255 75.4 257.2 76.2Z" fill="#00ff24"/>
<path d="M243.4 81.3 241.2 80.5 243.6 78.8 245.8 79.6Z" fill="#00ff3e"/>
<path d="M391.8 51.5 389.4 50.1 391.5 48.5 393.9 49.9Z" fill="#c3ff00"/>
<path d="M293.6 65.9 291.3 65.1 293.5 63.4 295.8 64.2Z" fill="#3cff00"/>
<path d="M181 101.8 178.9 100.8 181.4 99.1 183.5 100.1Z" fill="#00ffcd"/>
<path d="M206.6 93.7 204.5 92.7 206.9 90.9 209 91.9Z" fill="#00ff95"/>
<path d="M318.6 60.4 316.3 59.5 318.5 57.8 320.8 58.7Z" fill="#6cff00"/>
<path d="M225 87.4 222.9 86.5 225.2 84.8 227.4 85.6Z" fill="#00ff69"/>
<path d="M174 104.2 171.9 103.2 174.4 101.4 176.4 102.5Z" fill="#00ffdd"/>
<path d="M387.3 51.7 384.8 50.4 386.9 48.8 389.4 50.1Z" fill="#c0ff00"/>
<path d="M159.8 109.3 157.8 108.3 160.3 106.5 162.3 107.5Z" fill="#00ffff"/>
<path d="M199.6 96.3 197.5 95.3 199.9 93.6 202 94.5Z" fill="#00ffa7"/>
<path d="M166.9 106.8 164.8 105.7 167.3 103.9 169.4 104.9Z" fill="#00ffee"/>
<path d="M298.1 65.1 295.8 64.2 298.1 62.6 300.4 63.4Z" fill="#43ff00"/>
<path d="M282.2 69.5 279.9 68.7 282.2 66.9 284.5 67.7Z" fill="#1fff00"/>
<path d="M323.2 59.6 320.8 58.7 323 57 325.4 57.9Z" fill="#74ff00"/>
<path d="M270.8 73.5 268.6 72.7 270.9 70.8 273.1 71.6Z" fill="#00ff02"/>
<path d="M236.5 83.9 234.3 83 236.7 81.3 238.9 82.2Z" fill="#00ff4f"/>
<path d="M259.4 77 257.2 76.2 259.5 74.5 261.7 75.3Z" fill="#00ff1d"/>
<path d="M192.6 98.8 190.5 97.8 192.9 96.1 195.1 97.1Z" fill="#00ffb8"/>
<path d="M382.7 52 380.2 50.7 382.3 49.1 384.8 50.4Z" fill="#bdff00"/>
<path d="M248 80.5 245.8 79.6 248.1 77.9 250.3 78.8Z" fill="#00ff36"/>
<path d="M218.1 90.1 215.9 89.2 218.3 87.4 220.5 88.3Z" fill="#00ff7b"/>
<path d="M327.8 58.8 325.4 57.9 327.6 56.2 329.9 57.1Z" fill="#7bff00"/>
<path d="M302.7 64.3 300.4 63.4 302.6 61.8 304.9 62.7Z" fill="#4bff00"/>
<path d="M378.1 52.4 375.6 51.1 377.8 49.5 380.2 50.7Z" fill="#baff00"/>
<path d="M185.6 101.2 183.5 100.1 185.9 98.5 188 99.5Z" fill="#00ffc8"/>
<path d="M332.3 58 329.9 57.1 332.1 55.4 334.5 56.3Z" fill="#83ff00"/>
<path d="M211.2 92.8 209 91.9 211.4 90.1 213.6 91Z" fill="#00ff8e"/>
<path d="M286.8 68.5 284.5 67.7 286.7 66 289 66.8Z" fill="#28ff00"/>
<path d="M373.5 52.8 371.1 51.6 373.2 49.9 375.6 51.1Z" fill="#b5ff00"/>
<path d="M398.9 52.6 396.4 51.2 398.5 49.6 401 51Z" fill="#bdff00"/>
<path d="M229.6 86.5 227.4 85.6 229.8 83.9 232 84.8Z" fill="#00ff61"/>
<path d="M307.3 63.6 304.9 62.7 307.2 61 309.5 61.9Z" fill="#52ff00"/>
<path d="M336.9 57.2 334.5 56.3 336.7 54.6 339.1 55.5Z" fill="#8aff00"/>
<path d="M275.4 72.4 273.1 71.6 275.4 69.8 277.7 70.6Z" fill="#08ff00"/>
<path d="M368.9 53.2 366.5 52 368.6 50.4 371.1 51.6Z" fill="#b1ff00"/>
<path d="M178.5 103.5 176.4 102.5 178.9 100.8 181 101.8Z" fill="#00ffd7"/>
<path d="M264 76.1 261.7 75.3 264 73.6 266.3 74.4Z" fill="#00ff15"/>
<path d="M204.2 95.5 202 94.5 204.5 92.7 206.6 93.7Z" fill="#00ffa0"/>
<path d="M241.1 83 238.9 82.2 241.2 80.5 243.4 81.3Z" fill="#00ff48"/>
<path d="M341.5 56.5 339.1 55.5 341.3 53.9 343.6 54.8Z" fill="#91ff00"/>
<path d="M252.5 79.6 250.3 78.8 252.6 77.1 254.9 77.9Z" fill="#00ff2e"/>
<path d="M364.4 53.6 361.9 52.5 364.1 50.9 366.5 52Z" fill="#adff00"/>
<path d="M171.5 106 169.4 104.9 171.9 103.2 174 104.2Z" fill="#00ffe7"/>
<path d="M164.4 108.6 162.3 107.5 164.8 105.7 166.9 106.8Z" fill="#00fff8"/>
<path d="M359.8 54.1 357.4 53 359.5 51.3 361.9 52.5Z" fill="#a8ff00"/>
<path d="M346.1 55.7 343.6 54.8 345.8 53.1 348.2 54.1Z" fill="#98ff00"/>
<path d="M394.3 52.8 391.8 51.5 393.9 49.9 396.4 51.2Z" fill="#bbff00"/>
<path d="M311.8 62.8 309.5 61.9 311.7 60.2 314.1 61.2Z" fill="#59ff00"/>
<path d="M197.2 98.1 195.1 97.1 197.5 95.3 199.6 96.3Z" fill="#00ffb2"/>
<path d="M222.7 89.2 220.5 88.3 222.9 86.5 225 87.4Z" fill="#00ff73"/>
<path d="M355.2 54.6 352.8 53.5 354.9 51.8 357.4 53Z" fill="#a4ff00"/>
<path d="M350.6 55.1 348.2 54.1 350.4 52.4 352.8 53.5Z" fill="#9eff00"/>
<path d="M291.3 67.6 289 66.8 291.3 65.1 293.6 65.9Z" fill="#31ff00"/>
<path d="M316.4 62.1 314.1 61.2 316.3 59.5 318.6 60.4Z" fill="#61ff00"/>
<path d="M190.2 100.5 188 99.5 190.5 97.8 192.6 98.8Z" fill="#00ffc2"/>
<path d="M389.7 53.1 387.3 51.7 389.4 50.1 391.8 51.5Z" fill="#b8ff00"/>
<path d="M279.9 71.4 277.7 70.6 279.9 68.7 282.2 69.5Z" fill="#12ff00"/>
<path d="M215.7 91.9 213.6 91 215.9 89.2 218.1 90.1Z" fill="#00ff86"/>
<path d="M234.2 85.7 232 84.8 234.3 83 236.5 83.9Z" fill="#00ff59"/>
<path d="M268.5 75.2 266.3 74.4 268.6 72.7 270.8 73.5Z" fill="#00ff0d"/>
<path d="M295.9 66.8 293.6 65.9 295.8 64.2 298.1 65.1Z" fill="#39ff00"/>
<path d="M257.1 78.7 254.9 77.9 257.2 76.2 259.4 77Z" fill="#00ff27"/>
<path d="M245.6 82.2 243.4 81.3 245.8 79.6 248 80.5Z" fill="#00ff40"/>
<path d="M321 61.3 318.6 60.4 320.8 58.7 323.2 59.6Z" fill="#68ff00"/>
<path d="M183.1 102.8 181 101.8 183.5 100.1 185.6 101.2Z" fill="#00ffd1"/>
<path d="M385.2 53.3 382.7 52 384.8 50.4 387.3 51.7Z" fill="#b6ff00"/>
<path d="M208.7 94.7 206.6 93.7 209 91.9 211.2 92.8Z" fill="#00ff99"/>
<path d="M325.5 60.5 323.2 59.6 325.4 57.9 327.8 58.8Z" fill="#70ff00"/>
<path d="M227.2 88.3 225 87.4 227.4 85.6 229.6 86.5Z" fill="#00ff6c"/>
<path d="M300.5 66 298.1 65.1 300.4 63.4 302.7 64.3Z" fill="#40ff00"/>
<path d="M176.1 105.2 174 104.2 176.4 102.5 178.5 103.5Z" fill="#00ffe1"/>
<path d="M201.8 97.3 199.6 96.3 202 94.5 204.2 95.5Z" fill="#00ffab"/>
<path d="M380.6 53.6 378.1 52.4 380.2 50.7 382.7 52Z" fill="#b2ff00"/>
<path d="M161.9 110.4 159.8 109.3 162.3 107.5 164.4 108.6Z" fill="#00fbff"/>
<path d="M169 107.8 166.9 106.8 169.4 104.9 171.5 106Z" fill="#00fff1"/>
<path d="M284.5 70.3 282.2 69.5 284.5 67.7 286.8 68.5Z" fill="#1cff00"/>
<path d="M401.4 53.9 398.9 52.6 401 51 403.5 52.4Z" fill="#b5ff00"/>
<path d="M273.1 74.3 270.8 73.5 273.1 71.6 275.4 72.4Z" fill="#00ff04"/>
<path d="M330.1 59.7 327.8 58.8 329.9 57.1 332.3 58Z" fill="#77ff00"/>
<path d="M238.7 84.8 236.5 83.9 238.9 82.2 241.1 83Z" fill="#00ff52"/>
<path d="M376 54 373.5 52.8 375.6 51.1 378.1 52.4Z" fill="#afff00"/>
<path d="M261.7 77.9 259.4 77 261.7 75.3 264 76.1Z" fill="#00ff1f"/>
<path d="M194.7 99.8 192.6 98.8 195.1 97.1 197.2 98.1Z" fill="#00ffbc"/>
<path d="M250.2 81.3 248 80.5 250.3 78.8 252.5 79.6Z" fill="#00ff39"/>
<path d="M305 65.2 302.7 64.3 304.9 62.7 307.3 63.6Z" fill="#47ff00"/>
<path d="M220.3 91 218.1 90.1 220.5 88.3 222.7 89.2Z" fill="#00ff7e"/>
<path d="M334.7 58.9 332.3 58 334.5 56.3 336.9 57.2Z" fill="#7fff00"/>
<path d="M371.4 54.4 368.9 53.2 371.1 51.6 373.5 52.8Z" fill="#abff00"/>
<path d="M396.8 54.2 394.3 52.8 396.4 51.2 398.9 52.6Z" fill="#b3ff00"/>
<path d="M366.8 54.8 364.4 53.6 366.5 52 368.9 53.2Z" fill="#a7ff00"/>
<path d="M339.3 58.1 336.9 57.2 339.1 55.5 341.5 56.5Z" fill="#86ff00"/>
<path d="M187.7 102.2 185.6 101.2 188 99.5 190.2 100.5Z" fill="#00ffcb"/>
<path d="M289.1 69.3 286.8 68.5 289 66.8 291.3 67.6Z" fill="#25ff00"/>
<path d="M213.3 93.8 211.2 92.8 213.6 91 215.7 91.9Z" fill="#00ff91"/>
<path d="M309.6 64.5 307.3 63.6 309.5 61.9 311.8 62.8Z" fill="#4eff00"/>
<path d="M362.2 55.3 359.8 54.1 361.9 52.5 364.4 53.6Z" fill="#a2ff00"/>
<path d="M343.9 57.4 341.5 56.5 343.6 54.8 346.1 55.7Z" fill="#8dff00"/>
<path d="M231.8 87.4 229.6 86.5 232 84.8 234.2 85.7Z" fill="#00ff64"/>
<path d="M357.6 55.7 355.2 54.6 357.4 53 359.8 54.1Z" fill="#9eff00"/>
<path d="M348.5 56.8 346.1 55.7 348.2 54.1 350.6 55.1Z" fill="#93ff00"/>
<path d="M277.6 73.2 275.4 72.4 277.7 70.6 279.9 71.4Z" fill="#06ff00"/>
<path d="M353 56.2 350.6 55.1 352.8 53.5 355.2 54.6Z" fill="#99ff00"/>
<path d="M266.2 77 264 76.1 266.3 74.4 268.5 75.2Z" fill="#00ff17"/>
<path d="M392.2 54.4 389.7 53.1 391.8 51.5 394.3 52.8Z" fill="#b0ff00"/>
<path d="M180.6 104.5 178.5 103.5 181 101.8 183.1 102.8Z" fill="#00ffdb"/>
<path d="M206.3 96.5 204.2 95.5 206.6 93.7 208.7 94.7Z" fill="#00ffa3"/>
<path d="M314.2 63.7 311.8 62.8 314.1 61.2 316.4 62.1Z" fill="#56ff00"/>
<path d="M243.3 83.9 241.1 83 243.4 81.3 245.6 82.2Z" fill="#00ff4a"/>
<path d="M254.8 80.5 252.5 79.6 254.9 77.9 257.1 78.7Z" fill="#00ff31"/>
<path d="M173.6 107 171.5 106 174 104.2 176.1 105.2Z" fill="#00ffeb"/>
<path d="M166.5 109.6 164.4 108.6 166.9 106.8 169 107.8Z" fill="#00fffc"/>
<path d="M293.6 68.5 291.3 67.6 293.6 65.9 295.9 66.8Z" fill="#2dff00"/>
<path d="M199.3 99.1 197.2 98.1 199.6 96.3 201.8 97.3Z" fill="#00ffb5"/>
<path d="M224.8 90.2 222.7 89.2 225 87.4 227.2 88.3Z" fill="#00ff76"/>
<path d="M387.6 54.7 385.2 53.3 387.3 51.7 389.7 53.1Z" fill="#aeff00"/>
<path d="M318.8 63 316.4 62.1 318.6 60.4 321 61.3Z" fill="#5dff00"/>
<path d="M192.3 101.5 190.2 100.5 192.6 98.8 194.7 99.8Z" fill="#00ffc6"/>
<path d="M282.2 72.2 279.9 71.4 282.2 69.5 284.5 70.3Z" fill="#10ff00"/>
<path d="M298.2 67.7 295.9 66.8 298.1 65.1 300.5 66Z" fill="#35ff00"/>
<path d="M217.9 92.9 215.7 91.9 218.1 90.1 220.3 91Z" fill="#00ff89"/>
<path d="M270.8 76 268.5 75.2 270.8 73.5 273.1 74.3Z" fill="#00ff0f"/>
<path d="M383 55 380.6 53.6 382.7 52 385.2 53.3Z" fill="#abff00"/>
<path d="M323.3 62.2 321 61.3 323.2 59.6 325.5 60.5Z" fill="#65ff00"/>
<path d="M403.9 55.3 401.4 53.9 403.5 52.4 406 53.8Z" fill="#adff00"/>
<path d="M236.4 86.5 234.2 85.7 236.5 83.9 238.7 84.8Z" fill="#00ff5c"/>
<path d="M259.3 79.6 257.1 78.7 259.4 77 261.7 77.9Z" fill="#00ff29"/>
<path d="M247.9 83 245.6 82.2 248 80.5 250.2 81.3Z" fill="#00ff43"/>
<path d="M185.2 103.9 183.1 102.8 185.6 101.2 187.7 102.2Z" fill="#00ffd5"/>
<path d="M327.9 61.4 325.5 60.5 327.8 58.8 330.1 59.7Z" fill="#6cff00"/>
<path d="M378.4 55.3 376 54 378.1 52.4 380.6 53.6Z" fill="#a8ff00"/>
<path d="M210.9 95.6 208.7 94.7 211.2 92.8 213.3 93.8Z" fill="#00ff9c"/>
<path d="M302.8 66.9 300.5 66 302.7 64.3 305 65.2Z" fill="#3cff00"/>
<path d="M399.3 55.5 396.8 54.2 398.9 52.6 401.4 53.9Z" fill="#abff00"/>
<path d="M229.4 89.3 227.2 88.3 229.6 86.5 231.8 87.4Z" fill="#00ff6e"/>
<path d="M373.8 55.6 371.4 54.4 373.5 52.8 376 54Z" fill="#a4ff00"/>
<path d="M332.5 60.6 330.1 59.7 332.3 58 334.7 58.9Z" fill="#74ff00"/>
<path d="M178.2 106.3 176.1 105.2 178.5 103.5 180.6 104.5Z" fill="#00ffe4"/>
<path d="M203.9 98.3 201.8 97.3 204.2 95.5 206.3 96.5Z" fill="#00ffae"/>
<path d="M286.8 71.1 284.5 70.3 286.8 68.5 289.1 69.3Z" fill="#19ff00"/>
<path d="M164 111.5 161.9 110.4 164.4 108.6 166.5 109.6Z" fill="#00f8ff"/>
<path d="M171.1 108.9 169 107.8 171.5 106 173.6 107Z" fill="#00fff5"/>
<path d="M275.4 75.1 273.1 74.3 275.4 72.4 277.6 73.2Z" fill="#00ff06"/>
<path d="M369.3 56 366.8 54.8 368.9 53.2 371.4 54.4Z" fill="#a0ff00"/>
<path d="M307.4 66.2 305 65.2 307.3 63.6 309.6 64.5Z" fill="#44ff00"/>
<path d="M337.1 59.8 334.7 58.9 336.9 57.2 339.3 58.1Z" fill="#7bff00"/>
<path d="M240.9 85.7 238.7 84.8 241.1 83 243.3 83.9Z" fill="#00ff54"/>
<path d="M263.9 78.7 261.7 77.9 264 76.1 266.2 77Z" fill="#00ff21"/>
<path d="M196.9 100.9 194.7 99.8 197.2 98.1 199.3 99.1Z" fill="#00ffbf"/>
<path d="M364.7 56.4 362.2 55.3 364.4 53.6 366.8 54.8Z" fill="#9cff00"/>
<path d="M394.7 55.7 392.2 54.4 394.3 52.8 396.8 54.2Z" fill="#a9ff00"/>
<path d="M252.4 82.2 250.2 81.3 252.5 79.6 254.8 80.5Z" fill="#00ff3b"/>
<path d="M222.5 92 220.3 91 222.7 89.2 224.8 90.2Z" fill="#00ff81"/>
<path d="M341.7 59.1 339.3 58.1 341.5 56.5 343.9 57.4Z" fill="#82ff00"/>
<path d="M360.1 56.9 357.6 55.7 359.8 54.1 362.2 55.3Z" fill="#98ff00"/>
<path d="M346.3 58.4 343.9 57.4 346.1 55.7 348.5 56.8Z" fill="#88ff00"/>
<path d="M355.5 57.4 353 56.2 355.2 54.6 357.6 55.7Z" fill="#93ff00"/>
<path d="M350.9 57.9 348.5 56.8 350.6 55.1 353 56.2Z" fill="#8eff00"/>
<path d="M311.9 65.4 309.6 64.5 311.8 62.8 314.2 63.7Z" fill="#4bff00"/>
<path d="M291.4 70.2 289.1 69.3 291.3 67.6 293.6 68.5Z" fill="#22ff00"/>
<path d="M189.8 103.2 187.7 102.2 190.2 100.5 192.3 101.5Z" fill="#00ffcf"/>
<path d="M215.5 94.7 213.3 93.8 215.7 91.9 217.9 92.9Z" fill="#00ff94"/>
<path d="M390.1 56 387.6 54.7 389.7 53.1 392.2 54.4Z" fill="#a6ff00"/>
<path d="M234 88.3 231.8 87.4 234.2 85.7 236.4 86.5Z" fill="#00ff67"/>
<path d="M279.9 74 277.6 73.2 279.9 71.4 282.2 72.2Z" fill="#03ff00"/>
<path d="M316.5 64.6 314.2 63.7 316.4 62.1 318.8 63Z" fill="#52ff00"/>
<path d="M268.5 77.8 266.2 77 268.5 75.2 270.8 76Z" fill="#00ff19"/>
<path d="M208.5 97.5 206.3 96.5 208.7 94.7 210.9 95.6Z" fill="#00ffa7"/>
<path d="M406.4 56.7 403.9 55.3 406 53.8 408.5 55.2Z" fill="#a5ff00"/>
<path d="M182.8 105.6 180.6 104.5 183.1 102.8 185.2 103.9Z" fill="#00ffde"/>
<path d="M245.5 84.8 243.3 83.9 245.6 82.2 247.9 83Z" fill="#00ff4d"/>
<path d="M257 81.3 254.8 80.5 257.1 78.7 259.3 79.6Z" fill="#00ff33"/>
<path d="M385.5 56.3 383 55 385.2 53.3 387.6 54.7Z" fill="#a3ff00"/>
<path d="M295.9 69.4 293.6 68.5 295.9 66.8 298.2 67.7Z" fill="#2aff00"/>
<path d="M175.7 108.1 173.6 107 176.1 105.2 178.2 106.3Z" fill="#00ffee"/>
<path d="M321.1 63.9 318.8 63 321 61.3 323.3 62.2Z" fill="#5aff00"/>
<path d="M168.6 110.7 166.5 109.6 169 107.8 171.1 108.9Z" fill="#00feff"/>
<path d="M201.5 100.1 199.3 99.1 201.8 97.3 203.9 98.3Z" fill="#00ffb9"/>
<path d="M227 91.1 224.8 90.2 227.2 88.3 229.4 89.3Z" fill="#00ff79"/>
<path d="M380.9 56.6 378.4 55.3 380.6 53.6 383 55Z" fill="#a1ff00"/>
<path d="M401.8 56.9 399.3 55.5 401.4 53.9 403.9 55.3Z" fill="#a3ff00"/>
<path d="M325.7 63.1 323.3 62.2 325.5 60.5 327.9 61.4Z" fill="#61ff00"/>
<path d="M300.5 68.6 298.2 67.7 300.5 66 302.8 66.9Z" fill="#32ff00"/>
<path d="M284.5 73 282.2 72.2 284.5 70.3 286.8 71.1Z" fill="#0dff00"/>
<path d="M194.4 102.6 192.3 101.5 194.7 99.8 196.9 100.9Z" fill="#00ffc9"/>
<path d="M273.1 76.9 270.8 76 273.1 74.3 275.4 75.1Z" fill="#00ff11"/>
<path d="M220.1 93.8 217.9 92.9 220.3 91 222.5 92Z" fill="#00ff8c"/>
<path d="M376.3 56.9 373.8 55.6 376 54 378.4 55.3Z" fill="#9dff00"/>
<path d="M238.6 87.4 236.4 86.5 238.7 84.8 240.9 85.7Z" fill="#00ff5f"/>
<path d="M330.3 62.3 327.9 61.4 330.1 59.7 332.5 60.6Z" fill="#69ff00"/>
<path d="M261.6 80.4 259.3 79.6 261.7 77.9 263.9 78.7Z" fill="#00ff2c"/>
<path d="M250.1 83.9 247.9 83 250.2 81.3 252.4 82.2Z" fill="#00ff45"/>
<path d="M305.1 67.8 302.8 66.9 305 65.2 307.4 66.2Z" fill="#39ff00"/>
<path d="M371.7 57.2 369.3 56 371.4 54.4 373.8 55.6Z" fill="#9aff00"/>
<path d="M397.2 57.1 394.7 55.7 396.8 54.2 399.3 55.5Z" fill="#a1ff00"/>
<path d="M187.4 104.9 185.2 103.9 187.7 102.2 189.8 103.2Z" fill="#00ffd9"/>
<path d="M213.1 96.6 210.9 95.6 213.3 93.8 215.5 94.7Z" fill="#00ff9f"/>
<path d="M334.9 61.5 332.5 60.6 334.7 58.9 337.1 59.8Z" fill="#70ff00"/>
<path d="M367.1 57.6 364.7 56.4 366.8 54.8 369.3 56Z" fill="#96ff00"/>
<path d="M289.1 72 286.8 71.1 289.1 69.3 291.4 70.2Z" fill="#17ff00"/>
<path d="M339.5 60.8 337.1 59.8 339.3 58.1 341.7 59.1Z" fill="#77ff00"/>
<path d="M231.6 90.2 229.4 89.3 231.8 87.4 234 88.3Z" fill="#00ff71"/>
<path d="M362.5 58.1 360.1 56.9 362.2 55.3 364.7 56.4Z" fill="#92ff00"/>
<path d="M206.1 99.3 203.9 98.3 206.3 96.5 208.5 97.5Z" fill="#00ffb2"/>
<path d="M180.3 107.4 178.2 106.3 180.6 104.5 182.8 105.6Z" fill="#00ffe8"/>
<path d="M309.7 67.1 307.4 66.2 309.6 64.5 311.9 65.4Z" fill="#40ff00"/>
<path d="M357.9 58.5 355.5 57.4 357.6 55.7 360.1 56.9Z" fill="#8dff00"/>
<path d="M344.1 60.1 341.7 59.1 343.9 57.4 346.3 58.4Z" fill="#7eff00"/>
<path d="M166.1 112.5 164 111.5 166.5 109.6 168.6 110.7Z" fill="#00f4ff"/>
<path d="M173.2 109.9 171.1 108.9 173.6 107 175.7 108.1Z" fill="#00fff9"/>
<path d="M392.6 57.3 390.1 56 392.2 54.4 394.7 55.7Z" fill="#9eff00"/>
<path d="M277.6 75.9 275.4 75.1 277.6 73.2 279.9 74Z" fill="#00ff08"/>
<path d="M353.3 59 350.9 57.9 353 56.2 355.5 57.4Z" fill="#88ff00"/>
<path d="M348.7 59.6 346.3 58.4 348.5 56.8 350.9 57.9Z" fill="#83ff00"/>
<path d="M266.2 79.5 263.9 78.7 266.2 77 268.5 77.8Z" fill="#00ff24"/>
<path d="M243.1 86.5 240.9 85.7 243.3 83.9 245.5 84.8Z" fill="#00ff57"/>
<path d="M409 58.1 406.4 56.7 408.5 55.2 411.1 56.6Z" fill="#9cff00"/>
<path d="M199 101.9 196.9 100.9 199.3 99.1 201.5 100.1Z" fill="#00ffc3"/>
<path d="M254.7 83 252.4 82.2 254.8 80.5 257 81.3Z" fill="#00ff3e"/>
<path d="M314.3 66.3 311.9 65.4 314.2 63.7 316.5 64.6Z" fill="#47ff00"/>
<path d="M224.6 92.9 222.5 92 224.8 90.2 227 91.1Z" fill="#00ff84"/>
<path d="M388 57.6 385.5 56.3 387.6 54.7 390.1 56Z" fill="#9cff00"/>
<path d="M293.7 71.1 291.4 70.2 293.6 68.5 295.9 69.4Z" fill="#1fff00"/>
<path d="M192 104.3 189.8 103.2 192.3 101.5 194.4 102.6Z" fill="#00ffd3"/>
<path d="M318.9 65.5 316.5 64.6 318.8 63 321.1 63.9Z" fill="#4fff00"/>
<path d="M217.7 95.7 215.5 94.7 217.9 92.9 220.1 93.8Z" fill="#00ff97"/>
<path d="M404.4 58.3 401.8 56.9 403.9 55.3 406.4 56.7Z" fill="#9bff00"/>
<path d="M383.4 57.9 380.9 56.6 383 55 385.5 56.3Z" fill="#99ff00"/>
<path d="M282.2 74.9 279.9 74 282.2 72.2 284.5 73Z" fill="#01ff00"/>
<path d="M236.2 89.2 234 88.3 236.4 86.5 238.6 87.4Z" fill="#00ff69"/>
<path d="M270.7 78.6 268.5 77.8 270.8 76 273.1 76.9Z" fill="#00ff1c"/>
<path d="M298.3 70.3 295.9 69.4 298.2 67.7 300.5 68.6Z" fill="#27ff00"/>
<path d="M210.6 98.5 208.5 97.5 210.9 95.6 213.1 96.6Z" fill="#00ffaa"/>
<path d="M184.9 106.6 182.8 105.6 185.2 103.9 187.4 104.9Z" fill="#00ffe2"/>
<path d="M323.5 64.8 321.1 63.9 323.3 62.2 325.7 63.1Z" fill="#56ff00"/>
<path d="M247.7 85.7 245.5 84.8 247.9 83 250.1 83.9Z" fill="#00ff4f"/>
<path d="M259.3 82.2 257 81.3 259.3 79.6 261.6 80.4Z" fill="#00ff36"/>
<path d="M378.8 58.2 376.3 56.9 378.4 55.3 380.9 56.6Z" fill="#96ff00"/>
<path d="M177.8 109.2 175.7 108.1 178.2 106.3 180.3 107.4Z" fill="#00fff2"/>
<path d="M170.7 111.8 168.6 110.7 171.1 108.9 173.2 109.9Z" fill="#00fbff"/>
<path d="M203.6 101.1 201.5 100.1 203.9 98.3 206.1 99.3Z" fill="#00ffbc"/>
<path d="M399.7 58.5 397.2 57.1 399.3 55.5 401.8 56.9Z" fill="#99ff00"/>
<path d="M328.1 64 325.7 63.1 327.9 61.4 330.3 62.3Z" fill="#5dff00"/>
<path d="M229.2 92 227 91.1 229.4 89.3 231.6 90.2Z" fill="#00ff7c"/>
<path d="M302.9 69.5 300.5 68.6 302.8 66.9 305.1 67.8Z" fill="#2eff00"/>
<path d="M374.2 58.5 371.7 57.2 373.8 55.6 376.3 56.9Z" fill="#93ff00"/>
<path d="M286.8 73.9 284.5 73 286.8 71.1 289.1 72Z" fill="#0aff00"/>
<path d="M332.7 63.2 330.3 62.3 332.5 60.6 334.9 61.5Z" fill="#65ff00"/>
<path d="M196.6 103.6 194.4 102.6 196.9 100.9 199 101.9Z" fill="#00ffcd"/>
<path d="M369.6 58.8 367.1 57.6 369.3 56 371.7 57.2Z" fill="#90ff00"/>
<path d="M275.3 77.7 273.1 76.9 275.4 75.1 277.6 75.9Z" fill="#00ff13"/>
<path d="M222.2 94.8 220.1 93.8 222.5 92 224.6 92.9Z" fill="#00ff8f"/>
<path d="M240.8 88.3 238.6 87.4 240.9 85.7 243.1 86.5Z" fill="#00ff61"/>
<path d="M395.1 58.7 392.6 57.3 394.7 55.7 397.2 57.1Z" fill="#97ff00"/>
<path d="M307.5 68.7 305.1 67.8 307.4 66.2 309.7 67.1Z" fill="#35ff00"/>
<path d="M337.3 62.5 334.9 61.5 337.1 59.8 339.5 60.8Z" fill="#6cff00"/>
<path d="M365 59.2 362.5 58.1 364.7 56.4 367.1 57.6Z" fill="#8cff00"/>
<path d="M263.8 81.3 261.6 80.4 263.9 78.7 266.2 79.5Z" fill="#00ff2e"/>
<path d="M411.5 59.5 409 58.1 411.1 56.6 413.6 58Z" fill="#94ff00"/>
<path d="M252.3 84.8 250.1 83.9 252.4 82.2 254.7 83Z" fill="#00ff48"/>
<path d="M360.3 59.7 357.9 58.5 360.1 56.9 362.5 58.1Z" fill="#87ff00"/>
<path d="M341.9 61.8 339.5 60.8 341.7 59.1 344.1 60.1Z" fill="#73ff00"/>
<path d="M189.5 106 187.4 104.9 189.8 103.2 192 104.3Z" fill="#00ffdc"/>
<path d="M355.7 60.2 353.3 59 355.5 57.4 357.9 58.5Z" fill="#82ff00"/>
<path d="M215.2 97.6 213.1 96.6 215.5 94.7 217.7 95.7Z" fill="#00ffa2"/>
<path d="M346.5 61.2 344.1 60.1 346.3 58.4 348.7 59.6Z" fill="#78ff00"/>
<path d="M351.1 60.7 348.7 59.6 350.9 57.9 353.3 59Z" fill="#7eff00"/>
<path d="M291.4 72.9 289.1 72 291.4 70.2 293.7 71.1Z" fill="#13ff00"/>
<path d="M390.5 58.9 388 57.6 390.1 56 392.6 57.3Z" fill="#94ff00"/>
<path d="M312.1 67.9 309.7 67.1 311.9 65.4 314.3 66.3Z" fill="#3dff00"/>
<path d="M233.8 91.1 231.6 90.2 234 88.3 236.2 89.2Z" fill="#00ff74"/>
<path d="M208.2 100.4 206.1 99.3 208.5 97.5 210.6 98.5Z" fill="#00ffb5"/>
<path d="M182.4 108.4 180.3 107.4 182.8 105.6 184.9 106.6Z" fill="#00ffec"/>
<path d="M279.9 76.7 277.6 75.9 279.9 74 282.2 74.9Z" fill="#00ff0b"/>
<path d="M406.9 59.7 404.4 58.3 406.4 56.7 409 58.1Z" fill="#93ff00"/>
<path d="M175.3 111 173.2 109.9 175.7 108.1 177.8 109.2Z" fill="#00fffd"/>
<path d="M168.2 113.6 166.1 112.5 168.6 110.7 170.7 111.8Z" fill="#00f0ff"/>
<path d="M316.7 67.2 314.3 66.3 316.5 64.6 318.9 65.5Z" fill="#44ff00"/>
<path d="M385.9 59.2 383.4 57.9 385.5 56.3 388 57.6Z" fill="#92ff00"/>
<path d="M268.4 80.4 266.2 79.5 268.5 77.8 270.7 78.6Z" fill="#00ff26"/>
<path d="M245.4 87.4 243.1 86.5 245.5 84.8 247.7 85.7Z" fill="#00ff5a"/>
<path d="M201.2 102.9 199 101.9 201.5 100.1 203.6 101.1Z" fill="#00ffc7"/>
<path d="M256.9 83.9 254.7 83 257 81.3 259.3 82.2Z" fill="#00ff40"/>
<path d="M296 72 293.7 71.1 295.9 69.4 298.3 70.3Z" fill="#1cff00"/>
<path d="M226.8 93.9 224.6 92.9 227 91.1 229.2 92Z" fill="#00ff87"/>
<path d="M321.3 66.4 318.9 65.5 321.1 63.9 323.5 64.8Z" fill="#4bff00"/>
<path d="M381.3 59.5 378.8 58.2 380.9 56.6 383.4 57.9Z" fill="#8fff00"/>
<path d="M402.3 59.8 399.7 58.5 401.8 56.9 404.4 58.3Z" fill="#91ff00"/>
<path d="M194.1 105.3 192 104.3 194.4 102.6 196.6 103.6Z" fill="#00ffd7"/>
<path d="M219.8 96.7 217.7 95.7 220.1 93.8 222.2 94.8Z" fill="#00ff9a"/>
<path d="M284.5 75.7 282.2 74.9 284.5 73 286.8 73.9Z" fill="#00ff02"/>
<path d="M325.9 65.7 323.5 64.8 325.7 63.1 328.1 64Z" fill="#52ff00"/>
<path d="M300.6 71.2 298.3 70.3 300.5 68.6 302.9 69.5Z" fill="#23ff00"/>
<path d="M376.7 59.7 374.2 58.5 376.3 56.9 378.8 58.2Z" fill="#8cff00"/>
<path d="M238.4 90.2 236.2 89.2 238.6 87.4 240.8 88.3Z" fill="#00ff6c"/>
<path d="M273 79.4 270.7 78.6 273.1 76.9 275.3 77.7Z" fill="#00ff1e"/>
<path d="M212.8 99.5 210.6 98.5 213.1 96.6 215.2 97.6Z" fill="#00ffae"/>
<path d="M187 107.7 184.9 106.6 187.4 104.9 189.5 106Z" fill="#00ffe6"/>
<path d="M397.6 60 395.1 58.7 397.2 57.1 399.7 58.5Z" fill="#8fff00"/>
<path d="M250 86.5 247.7 85.7 250.1 83.9 252.3 84.8Z" fill="#00ff52"/>
<path d="M261.5 83 259.3 82.2 261.6 80.4 263.8 81.3Z" fill="#00ff38"/>
<path d="M414.1 60.9 411.5 59.5 413.6 58 416.1 59.4Z" fill="#8cff00"/>
<path d="M330.5 64.9 328.1 64 330.3 62.3 332.7 63.2Z" fill="#5aff00"/>
<path d="M372 60.1 369.6 58.8 371.7 57.2 374.2 58.5Z" fill="#89ff00"/>
<path d="M179.9 110.2 177.8 109.2 180.3 107.4 182.4 108.4Z" fill="#00fff6"/>
<path d="M305.2 70.4 302.9 69.5 305.1 67.8 307.5 68.7Z" fill="#2bff00"/>
<path d="M205.8 102.2 203.6 101.1 206.1 99.3 208.2 100.4Z" fill="#00ffc0"/>
<path d="M172.8 112.8 170.7 111.8 173.2 109.9 175.3 111Z" fill="#00f7ff"/>
<path d="M231.4 92.9 229.2 92 231.6 90.2 233.8 91.1Z" fill="#00ff7f"/>
<path d="M367.4 60.4 365 59.2 367.1 57.6 369.6 58.8Z" fill="#85ff00"/>
<path d="M335.1 64.1 332.7 63.2 334.9 61.5 337.3 62.5Z" fill="#61ff00"/>
<path d="M289.1 74.8 286.8 73.9 289.1 72 291.4 72.9Z" fill="#07ff00"/>
<path d="M362.8 60.8 360.3 59.7 362.5 58.1 365 59.2Z" fill="#81ff00"/>
<path d="M393 60.3 390.5 58.9 392.6 57.3 395.1 58.7Z" fill="#8cff00"/>
<path d="M339.7 63.5 337.3 62.5 339.5 60.8 341.9 61.8Z" fill="#68ff00"/>
<path d="M358.2 61.3 355.7 60.2 357.9 58.5 360.3 59.7Z" fill="#7dff00"/>
<path d="M198.7 104.7 196.6 103.6 199 101.9 201.2 102.9Z" fill="#00ffd1"/>
<path d="M344.3 62.9 341.9 61.8 344.1 60.1 346.5 61.2Z" fill="#6eff00"/>
<path d="M353.6 61.8 351.1 60.7 353.3 59 355.7 60.2Z" fill="#78ff00"/>
<path d="M309.8 69.6 307.5 68.7 309.7 67.1 312.1 67.9Z" fill="#32ff00"/>
<path d="M348.9 62.3 346.5 61.2 348.7 59.6 351.1 60.7Z" fill="#73ff00"/>
<path d="M277.6 78.5 275.3 77.7 277.6 75.9 279.9 76.7Z" fill="#00ff16"/>
<path d="M409.4 61.1 406.9 59.7 409 58.1 411.5 59.5Z" fill="#8aff00"/>
<path d="M224.4 95.8 222.2 94.8 224.6 92.9 226.8 93.9Z" fill="#00ff92"/>
<path d="M243 89.2 240.8 88.3 243.1 86.5 245.4 87.4Z" fill="#00ff64"/>
<path d="M266.1 82.1 263.8 81.3 266.2 79.5 268.4 80.4Z" fill="#00ff30"/>
<path d="M254.6 85.7 252.3 84.8 254.7 83 256.9 83.9Z" fill="#00ff4a"/>
<path d="M388.4 60.5 385.9 59.2 388 57.6 390.5 58.9Z" fill="#8aff00"/>
<path d="M191.6 107 189.5 106 192 104.3 194.1 105.3Z" fill="#00ffe0"/>
<path d="M314.4 68.8 312.1 67.9 314.3 66.3 316.7 67.2Z" fill="#39ff00"/>
<path d="M217.4 98.6 215.2 97.6 217.7 95.7 219.8 96.7Z" fill="#00ffa6"/>
<path d="M293.7 73.8 291.4 72.9 293.7 71.1 296 72Z" fill="#10ff00"/>
<path d="M404.8 61.2 402.3 59.8 404.4 58.3 406.9 59.7Z" fill="#89ff00"/>
<path d="M383.8 60.8 381.3 59.5 383.4 57.9 385.9 59.2Z" fill="#87ff00"/>
<path d="M236 92 233.8 91.1 236.2 89.2 238.4 90.2Z" fill="#00ff77"/>
<path d="M210.4 101.4 208.2 100.4 210.6 98.5 212.8 99.5Z" fill="#00ffb9"/>
<path d="M184.5 109.5 182.4 108.4 184.9 106.6 187 107.7Z" fill="#00fff0"/>
<path d="M319 68.1 316.7 67.2 318.9 65.5 321.3 66.4Z" fill="#40ff00"/>
<path d="M282.2 77.6 279.9 76.7 282.2 74.9 284.5 75.7Z" fill="#00ff0d"/>
<path d="M177.4 112.1 175.3 111 177.8 109.2 179.9 110.2Z" fill="#00feff"/>
<path d="M170.3 114.7 168.2 113.6 170.7 111.8 172.8 112.8Z" fill="#00edff"/>
<path d="M270.7 81.2 268.4 80.4 270.7 78.6 273 79.4Z" fill="#00ff28"/>
<path d="M298.3 72.9 296 72 298.3 70.3 300.6 71.2Z" fill="#18ff00"/>
<path d="M247.6 88.3 245.4 87.4 247.7 85.7 250 86.5Z" fill="#00ff5c"/>
<path d="M203.3 104 201.2 102.9 203.6 101.1 205.8 102.2Z" fill="#00ffca"/>
<path d="M379.1 61 376.7 59.7 378.8 58.2 381.3 59.5Z" fill="#85ff00"/>
<path d="M259.2 84.8 256.9 83.9 259.3 82.2 261.5 83Z" fill="#00ff43"/>
<path d="M416.6 62.4 414.1 60.9 416.1 59.4 418.7 60.8Z" fill="#83ff00"/>
<path d="M323.6 67.3 321.3 66.4 323.5 64.8 325.9 65.7Z" fill="#48ff00"/>
<path d="M229 94.8 226.8 93.9 229.2 92 231.4 92.9Z" fill="#00ff8a"/>
<path d="M400.2 61.4 397.6 60 399.7 58.5 402.3 59.8Z" fill="#87ff00"/>
<path d="M374.5 61.3 372 60.1 374.2 58.5 376.7 59.7Z" fill="#82ff00"/>
<path d="M328.3 66.6 325.9 65.7 328.1 64 330.5 64.9Z" fill="#4fff00"/>
<path d="M196.3 106.4 194.1 105.3 196.6 103.6 198.7 104.7Z" fill="#00ffda"/>
<path d="M302.9 72.1 300.6 71.2 302.9 69.5 305.2 70.4Z" fill="#20ff00"/>
<path d="M286.8 76.6 284.5 75.7 286.8 73.9 289.1 74.8Z" fill="#00ff05"/>
<path d="M222 97.7 219.8 96.7 222.2 94.8 224.4 95.8Z" fill="#00ff9e"/>
<path d="M369.9 61.7 367.4 60.4 369.6 58.8 372 60.1Z" fill="#7fff00"/>
<path d="M395.5 61.6 393 60.3 395.1 58.7 397.6 60Z" fill="#85ff00"/>
<path d="M240.6 91.1 238.4 90.2 240.8 88.3 243 89.2Z" fill="#00ff6f"/>
<path d="M332.9 65.8 330.5 64.9 332.7 63.2 335.1 64.1Z" fill="#56ff00"/>
<path d="M275.3 80.3 273 79.4 275.3 77.7 277.6 78.5Z" fill="#00ff20"/>
<path d="M412 62.5 409.4 61.1 411.5 59.5 414.1 60.9Z" fill="#82ff00"/>
<path d="M215 100.5 212.8 99.5 215.2 97.6 217.4 98.6Z" fill="#00ffb1"/>
<path d="M189.2 108.8 187 107.7 189.5 106 191.6 107Z" fill="#00ffea"/>
<path d="M365.3 62 362.8 60.8 365 59.2 367.4 60.4Z" fill="#7bff00"/>
<path d="M337.5 65.2 335.1 64.1 337.3 62.5 339.7 63.5Z" fill="#5dff00"/>
<path d="M263.8 83.9 261.5 83 263.8 81.3 266.1 82.1Z" fill="#00ff3b"/>
<path d="M252.2 87.4 250 86.5 252.3 84.8 254.6 85.7Z" fill="#00ff55"/>
<path d="M307.6 71.3 305.2 70.4 307.5 68.7 309.8 69.6Z" fill="#27ff00"/>
<path d="M360.6 62.5 358.2 61.3 360.3 59.7 362.8 60.8Z" fill="#77ff00"/>
<path d="M342.1 64.6 339.7 63.5 341.9 61.8 344.3 62.9Z" fill="#63ff00"/>
<path d="M356 62.9 353.6 61.8 355.7 60.2 358.2 61.3Z" fill="#72ff00"/>
<path d="M182 111.3 179.9 110.2 182.4 108.4 184.5 109.5Z" fill="#00fffa"/>
<path d="M346.8 64 344.3 62.9 346.5 61.2 348.9 62.3Z" fill="#68ff00"/>
<path d="M351.4 63.5 348.9 62.3 351.1 60.7 353.6 61.8Z" fill="#6dff00"/>
<path d="M208 103.2 205.8 102.2 208.2 100.4 210.4 101.4Z" fill="#00ffc3"/>
<path d="M390.9 61.9 388.4 60.5 390.5 58.9 393 60.3Z" fill="#82ff00"/>
<path d="M174.9 113.9 172.8 112.8 175.3 111 177.4 112.1Z" fill="#00f3ff"/>
<path d="M291.4 75.7 289.1 74.8 291.4 72.9 293.7 73.8Z" fill="#04ff00"/>
<path d="M233.6 93.9 231.4 92.9 233.8 91.1 236 92Z" fill="#00ff82"/>
<path d="M407.3 62.6 404.8 61.2 406.9 59.7 409.4 61.1Z" fill="#81ff00"/>
<path d="M312.2 70.5 309.8 69.6 312.1 67.9 314.4 68.8Z" fill="#2fff00"/>
<path d="M200.9 105.7 198.7 104.7 201.2 102.9 203.3 104Z" fill="#00ffd4"/>
<path d="M279.9 79.4 277.6 78.5 279.9 76.7 282.2 77.6Z" fill="#00ff18"/>
<path d="M386.3 62.1 383.8 60.8 385.9 59.2 388.4 60.5Z" fill="#80ff00"/>
<path d="M226.6 96.7 224.4 95.8 226.8 93.9 229 94.8Z" fill="#00ff95"/>
<path d="M245.2 90.1 243 89.2 245.4 87.4 247.6 88.3Z" fill="#00ff67"/>
<path d="M268.4 83 266.1 82.1 268.4 80.4 270.7 81.2Z" fill="#00ff33"/>
<path d="M316.8 69.7 314.4 68.8 316.7 67.2 319 68.1Z" fill="#36ff00"/>
<path d="M256.8 86.5 254.6 85.7 256.9 83.9 259.2 84.8Z" fill="#00ff4d"/>
<path d="M296.1 74.7 293.7 73.8 296 72 298.3 72.9Z" fill="#0dff00"/>
<path d="M193.8 108.1 191.6 107 194.1 105.3 196.3 106.4Z" fill="#00ffe4"/>
<path d="M381.6 62.3 379.1 61 381.3 59.5 383.8 60.8Z" fill="#7eff00"/>
<path d="M402.7 62.8 400.2 61.4 402.3 59.8 404.8 61.2Z" fill="#7fff00"/>
<path d="M219.6 99.6 217.4 98.6 219.8 96.7 222 97.7Z" fill="#00ffa9"/>
<path d="M321.4 69 319 68.1 321.3 66.4 323.6 67.3Z" fill="#3dff00"/>
<path d="M284.5 78.5 282.2 77.6 284.5 75.7 286.8 76.6Z" fill="#00ff10"/>
<path d="M212.6 102.4 210.4 101.4 212.8 99.5 215 100.5Z" fill="#00ffbc"/>
<path d="M238.3 92.9 236 92 238.4 90.2 240.6 91.1Z" fill="#00ff7a"/>
<path d="M186.7 110.5 184.5 109.5 187 107.7 189.2 108.8Z" fill="#00fff3"/>
<path d="M377 62.6 374.5 61.3 376.7 59.7 379.1 61Z" fill="#7bff00"/>
<path d="M300.7 73.8 298.3 72.9 300.6 71.2 302.9 72.1Z" fill="#15ff00"/>
<path d="M179.5 113.1 177.4 112.1 179.9 110.2 182 111.3Z" fill="#00faff"/>
<path d="M326 68.2 323.6 67.3 325.9 65.7 328.3 66.6Z" fill="#44ff00"/>
<path d="M172.4 115.7 170.3 114.7 172.8 112.8 174.9 113.9Z" fill="#00e9ff"/>
<path d="M398.1 63 395.5 61.6 397.6 60 400.2 61.4Z" fill="#7dff00"/>
<path d="M414.5 63.9 412 62.5 414.1 60.9 416.6 62.4Z" fill="#7aff00"/>
<path d="M273 82.1 270.7 81.2 273 79.4 275.3 80.3Z" fill="#00ff2b"/>
<path d="M205.5 105 203.3 104 205.8 102.2 208 103.2Z" fill="#00ffce"/>
<path d="M249.9 89.2 247.6 88.3 250 86.5 252.2 87.4Z" fill="#00ff5f"/>
<path d="M372.4 62.9 369.9 61.7 372 60.1 374.5 61.3Z" fill="#78ff00"/>
<path d="M261.4 85.6 259.2 84.8 261.5 83 263.8 83.9Z" fill="#00ff45"/>
<path d="M231.3 95.8 229 94.8 231.4 92.9 233.6 93.9Z" fill="#00ff8d"/>
<path d="M330.7 67.5 328.3 66.6 330.5 64.9 332.9 65.8Z" fill="#4bff00"/>
<path d="M367.7 63.3 365.3 62 367.4 60.4 369.9 61.7Z" fill="#75ff00"/>
<path d="M305.3 73 302.9 72.1 305.2 70.4 307.6 71.3Z" fill="#1dff00"/>
<path d="M289.2 77.5 286.8 76.6 289.1 74.8 291.4 75.7Z" fill="#00ff08"/>
<path d="M393.4 63.2 390.9 61.9 393 60.3 395.5 61.6Z" fill="#7bff00"/>
<path d="M335.3 66.8 332.9 65.8 335.1 64.1 337.5 65.2Z" fill="#52ff00"/>
<path d="M198.4 107.5 196.3 106.4 198.7 104.7 200.9 105.7Z" fill="#00ffde"/>
<path d="M363.1 63.6 360.6 62.5 362.8 60.8 365.3 62Z" fill="#71ff00"/>
<path d="M224.2 98.6 222 97.7 224.4 95.8 226.6 96.7Z" fill="#00ffa1"/>
<path d="M339.9 66.2 337.5 65.2 339.7 63.5 342.1 64.6Z" fill="#58ff00"/>
<path d="M409.9 64 407.3 62.6 409.4 61.1 412 62.5Z" fill="#79ff00"/>
<path d="M358.5 64.1 356 62.9 358.2 61.3 360.6 62.5Z" fill="#6cff00"/>
<path d="M344.6 65.7 342.1 64.6 344.3 62.9 346.8 64Z" fill="#5eff00"/>
<path d="M353.8 64.6 351.4 63.5 353.6 61.8 356 62.9Z" fill="#68ff00"/>
<path d="M349.2 65.1 346.8 64 348.9 62.3 351.4 63.5Z" fill="#63ff00"/>
<path d="M242.9 92 240.6 91.1 243 89.2 245.2 90.1Z" fill="#00ff72"/>
<path d="M277.6 81.2 275.3 80.3 277.6 78.5 279.9 79.4Z" fill="#00ff23"/>
<path d="M309.9 72.2 307.6 71.3 309.8 69.6 312.2 70.5Z" fill="#24ff00"/>
<path d="M217.2 101.5 215 100.5 217.4 98.6 219.6 99.6Z" fill="#00ffb4"/>
<path d="M191.3 109.8 189.2 108.8 191.6 107 193.8 108.1Z" fill="#00ffed"/>
<path d="M388.8 63.4 386.3 62.1 388.4 60.5 390.9 61.9Z" fill="#79ff00"/>
<path d="M266.1 84.7 263.8 83.9 266.1 82.1 268.4 83Z" fill="#00ff3d"/>
<path d="M254.5 88.3 252.2 87.4 254.6 85.7 256.8 86.5Z" fill="#00ff57"/>
<path d="M293.8 76.5 291.4 75.7 293.7 73.8 296.1 74.7Z" fill="#01ff00"/>
<path d="M210.1 104.2 208 103.2 210.4 101.4 212.6 102.4Z" fill="#00ffc7"/>
<path d="M184.2 112.4 182 111.3 184.5 109.5 186.7 110.5Z" fill="#00fffd"/>
<path d="M405.2 64.2 402.7 62.8 404.8 61.2 407.3 62.6Z" fill="#77ff00"/>
<path d="M177 115 174.9 113.9 177.4 112.1 179.5 113.1Z" fill="#00f0ff"/>
<path d="M314.5 71.4 312.2 70.5 314.4 68.8 316.8 69.7Z" fill="#2bff00"/>
<path d="M235.9 94.8 233.6 93.9 236 92 238.3 92.9Z" fill="#00ff85"/>
<path d="M384.1 63.7 381.6 62.3 383.8 60.8 386.3 62.1Z" fill="#76ff00"/>
<path d="M282.2 80.3 279.9 79.4 282.2 77.6 284.5 78.5Z" fill="#00ff1b"/>
<path d="M203.1 106.8 200.9 105.7 203.3 104 205.5 105Z" fill="#00ffd8"/>
<path d="M319.2 70.6 316.8 69.7 319 68.1 321.4 69Z" fill="#33ff00"/>
<path d="M228.9 97.7 226.6 96.7 229 94.8 231.3 95.8Z" fill="#00ff98"/>
<path d="M379.5 63.9 377 62.6 379.1 61 381.6 62.3Z" fill="#74ff00"/>
<path d="M247.5 91 245.2 90.1 247.6 88.3 249.9 89.2Z" fill="#00ff6a"/>
<path d="M270.7 83.8 268.4 83 270.7 81.2 273 82.1Z" fill="#00ff35"/>
<path d="M298.4 75.6 296.1 74.7 298.3 72.9 300.7 73.8Z" fill="#09ff00"/>
<path d="M400.6 64.4 398.1 63 400.2 61.4 402.7 62.8Z" fill="#75ff00"/>
<path d="M259.1 87.4 256.8 86.5 259.2 84.8 261.4 85.6Z" fill="#00ff4f"/>
<path d="M195.9 109.2 193.8 108.1 196.3 106.4 198.4 107.5Z" fill="#00ffe8"/>
<path d="M323.8 69.9 321.4 69 323.6 67.3 326 68.2Z" fill="#3aff00"/>
<path d="M221.8 100.6 219.6 99.6 222 97.7 224.2 98.6Z" fill="#00ffac"/>
<path d="M374.8 64.2 372.4 62.9 374.5 61.3 377 62.6Z" fill="#71ff00"/>
<path d="M286.9 79.4 284.5 78.5 286.8 76.6 289.2 77.5Z" fill="#00ff13"/>
<path d="M328.4 69.2 326 68.2 328.3 66.6 330.7 67.5Z" fill="#41ff00"/>
<path d="M214.8 103.4 212.6 102.4 215 100.5 217.2 101.5Z" fill="#00ffc0"/>
<path d="M395.9 64.6 393.4 63.2 395.5 61.6 398.1 63Z" fill="#73ff00"/>
<path d="M240.5 93.9 238.3 92.9 240.6 91.1 242.9 92Z" fill="#00ff7d"/>
<path d="M303 74.7 300.7 73.8 302.9 72.1 305.3 73Z" fill="#12ff00"/>
<path d="M370.2 64.5 367.7 63.3 369.9 61.7 372.4 62.9Z" fill="#6eff00"/>
<path d="M188.8 111.6 186.7 110.5 189.2 108.8 191.3 109.8Z" fill="#00fff7"/>
<path d="M412.4 65.4 409.9 64 412 62.5 414.5 63.9Z" fill="#71ff00"/>
<path d="M181.7 114.2 179.5 113.1 182 111.3 184.2 112.4Z" fill="#00f6ff"/>
<path d="M333.1 68.5 330.7 67.5 332.9 65.8 335.3 66.8Z" fill="#47ff00"/>
<path d="M275.3 83 273 82.1 275.3 80.3 277.6 81.2Z" fill="#00ff2d"/>
<path d="M174.5 116.8 172.4 115.7 174.9 113.9 177 115Z" fill="#00e5ff"/>
<path d="M365.6 64.9 363.1 63.6 365.3 62 367.7 63.3Z" fill="#6bff00"/>
<path d="M207.7 106.1 205.5 105 208 103.2 210.1 104.2Z" fill="#00ffd1"/>
<path d="M252.1 90.1 249.9 89.2 252.2 87.4 254.5 88.3Z" fill="#00ff62"/>
<path d="M263.7 86.5 261.4 85.6 263.8 83.9 266.1 84.7Z" fill="#00ff48"/>
<path d="M337.7 67.9 335.3 66.8 337.5 65.2 339.9 66.2Z" fill="#4dff00"/>
<path d="M360.9 65.3 358.5 64.1 360.6 62.5 363.1 63.6Z" fill="#67ff00"/>
<path d="M233.5 96.7 231.3 95.8 233.6 93.9 235.9 94.8Z" fill="#00ff90"/>
<path d="M391.3 64.8 388.8 63.4 390.9 61.9 393.4 63.2Z" fill="#71ff00"/>
<path d="M342.3 67.3 339.9 66.2 342.1 64.6 344.6 65.7Z" fill="#53ff00"/>
<path d="M356.3 65.7 353.8 64.6 356 62.9 358.5 64.1Z" fill="#62ff00"/>
<path d="M307.7 73.9 305.3 73 307.6 71.3 309.9 72.2Z" fill="#19ff00"/>
<path d="M347 66.8 344.6 65.7 346.8 64 349.2 65.1Z" fill="#58ff00"/>
<path d="M351.6 66.2 349.2 65.1 351.4 63.5 353.8 64.6Z" fill="#5dff00"/>
<path d="M291.5 78.4 289.2 77.5 291.4 75.7 293.8 76.5Z" fill="#00ff0b"/>
<path d="M407.8 65.6 405.2 64.2 407.3 62.6 409.9 64Z" fill="#6fff00"/>
<path d="M200.6 108.5 198.4 107.5 200.9 105.7 203.1 106.8Z" fill="#00ffe2"/>
<path d="M226.4 99.6 224.2 98.6 226.6 96.7 228.9 97.7Z" fill="#00ffa4"/>
<path d="M386.6 65 384.1 63.7 386.3 62.1 388.8 63.4Z" fill="#6fff00"/>
<path d="M279.9 82.1 277.6 81.2 279.9 79.4 282.2 80.3Z" fill="#00ff26"/>
<path d="M312.3 73.1 309.9 72.2 312.2 70.5 314.5 71.4Z" fill="#21ff00"/>
<path d="M245.1 92.9 242.9 92 245.2 90.1 247.5 91Z" fill="#00ff74"/>
<path d="M219.4 102.5 217.2 101.5 219.6 99.6 221.8 100.6Z" fill="#00ffb8"/>
<path d="M193.5 110.9 191.3 109.8 193.8 108.1 195.9 109.2Z" fill="#00fff1"/>
<path d="M268.3 85.6 266.1 84.7 268.4 83 270.7 83.8Z" fill="#00ff40"/>
<path d="M256.7 89.2 254.5 88.3 256.8 86.5 259.1 87.4Z" fill="#00ff5a"/>
<path d="M403.1 65.7 400.6 64.4 402.7 62.8 405.2 64.2Z" fill="#6dff00"/>
<path d="M296.1 77.4 293.8 76.5 296.1 74.7 298.4 75.6Z" fill="#00ff02"/>
<path d="M382 65.2 379.5 63.9 381.6 62.3 384.1 63.7Z" fill="#6dff00"/>
<path d="M316.9 72.3 314.5 71.4 316.8 69.7 319.2 70.6Z" fill="#28ff00"/>
<path d="M212.3 105.3 210.1 104.2 212.6 102.4 214.8 103.4Z" fill="#00ffca"/>
<path d="M186.3 113.4 184.2 112.4 186.7 110.5 188.8 111.6Z" fill="#00fdff"/>
<path d="M238.1 95.8 235.9 94.8 238.3 92.9 240.5 93.9Z" fill="#00ff88"/>
<path d="M179.2 116.1 177 115 179.5 113.1 181.7 114.2Z" fill="#00ecff"/>
<path d="M284.6 81.2 282.2 80.3 284.5 78.5 286.9 79.4Z" fill="#00ff1e"/>
<path d="M377.3 65.5 374.8 64.2 377 62.6 379.5 63.9Z" fill="#6aff00"/>
<path d="M321.6 71.5 319.2 70.6 321.4 69 323.8 69.9Z" fill="#2fff00"/>
<path d="M205.2 107.8 203.1 106.8 205.5 105 207.7 106.1Z" fill="#00ffdc"/>
<path d="M398.5 65.9 395.9 64.6 398.1 63 400.6 64.4Z" fill="#6cff00"/>
<path d="M300.7 76.5 298.4 75.6 300.7 73.8 303 74.7Z" fill="#06ff00"/>
<path d="M231.1 98.7 228.9 97.7 231.3 95.8 233.5 96.7Z" fill="#00ff9c"/>
<path d="M273 84.7 270.7 83.8 273 82.1 275.3 83Z" fill="#00ff38"/>
<path d="M249.7 92 247.5 91 249.9 89.2 252.1 90.1Z" fill="#00ff6c"/>
<path d="M372.7 65.8 370.2 64.5 372.4 62.9 374.8 64.2Z" fill="#67ff00"/>
<path d="M326.2 70.8 323.8 69.9 326 68.2 328.4 69.2Z" fill="#36ff00"/>
<path d="M261.4 88.3 259.1 87.4 261.4 85.6 263.7 86.5Z" fill="#00ff52"/>
<path d="M198.1 110.2 195.9 109.2 198.4 107.5 200.6 108.5Z" fill="#00ffeb"/>
<path d="M224 101.6 221.8 100.6 224.2 98.6 226.4 99.6Z" fill="#00ffb0"/>
<path d="M368 66.1 365.6 64.9 367.7 63.3 370.2 64.5Z" fill="#64ff00"/>
<path d="M330.8 70.2 328.4 69.2 330.7 67.5 333.1 68.5Z" fill="#3dff00"/>
<path d="M393.8 66.1 391.3 64.8 393.4 63.2 395.9 64.6Z" fill="#6aff00"/>
<path d="M289.2 80.3 286.9 79.4 289.2 77.5 291.5 78.4Z" fill="#00ff16"/>
<path d="M335.5 69.6 333.1 68.5 335.3 66.8 337.7 67.9Z" fill="#43ff00"/>
<path d="M410.3 67 407.8 65.6 409.9 64 412.4 65.4Z" fill="#67ff00"/>
<path d="M305.4 75.6 303 74.7 305.3 73 307.7 73.9Z" fill="#0fff00"/>
<path d="M363.4 66.5 360.9 65.3 363.1 63.6 365.6 64.9Z" fill="#60ff00"/>
<path d="M217 104.4 214.8 103.4 217.2 101.5 219.4 102.5Z" fill="#00ffc3"/>
<path d="M242.7 94.8 240.5 93.9 242.9 92 245.1 92.9Z" fill="#00ff80"/>
<path d="M340.1 69 337.7 67.9 339.9 66.2 342.3 67.3Z" fill="#48ff00"/>
<path d="M191 112.7 188.8 111.6 191.3 109.8 193.5 110.9Z" fill="#00fffb"/>
<path d="M358.7 66.9 356.3 65.7 358.5 64.1 360.9 65.3Z" fill="#5cff00"/>
<path d="M344.8 68.4 342.3 67.3 344.6 65.7 347 66.8Z" fill="#4eff00"/>
<path d="M354.1 67.4 351.6 66.2 353.8 64.6 356.3 65.7Z" fill="#58ff00"/>
<path d="M349.4 67.9 347 66.8 349.2 65.1 351.6 66.2Z" fill="#53ff00"/>
<path d="M277.6 83.9 275.3 83 277.6 81.2 279.9 82.1Z" fill="#00ff30"/>
<path d="M183.8 115.3 181.7 114.2 184.2 112.4 186.3 113.4Z" fill="#00f3ff"/>
<path d="M389.2 66.3 386.6 65 388.8 63.4 391.3 64.8Z" fill="#68ff00"/>
<path d="M176.7 117.9 174.5 116.8 177 115 179.2 116.1Z" fill="#00e1ff"/>
<path d="M209.9 107.1 207.7 106.1 210.1 104.2 212.3 105.3Z" fill="#00ffd5"/>
<path d="M254.4 91 252.1 90.1 254.5 88.3 256.7 89.2Z" fill="#00ff64"/>
<path d="M266 87.4 263.7 86.5 266.1 84.7 268.3 85.6Z" fill="#00ff4a"/>
<path d="M310 74.8 307.7 73.9 309.9 72.2 312.3 73.1Z" fill="#16ff00"/>
<path d="M235.7 97.7 233.5 96.7 235.9 94.8 238.1 95.8Z" fill="#00ff93"/>
<path d="M405.7 67.1 403.1 65.7 405.2 64.2 407.8 65.6Z" fill="#66ff00"/>
<path d="M293.8 79.3 291.5 78.4 293.8 76.5 296.1 77.4Z" fill="#00ff0d"/>
<path d="M384.5 66.5 382 65.2 384.1 63.7 386.6 65Z" fill="#65ff00"/>
<path d="M202.8 109.6 200.6 108.5 203.1 106.8 205.2 107.8Z" fill="#00ffe5"/>
<path d="M314.7 74 312.3 73.1 314.5 71.4 316.9 72.3Z" fill="#1eff00"/>
<path d="M228.7 100.6 226.4 99.6 228.9 97.7 231.1 98.7Z" fill="#00ffa7"/>
<path d="M282.2 83 279.9 82.1 282.2 80.3 284.6 81.2Z" fill="#00ff29"/>
<path d="M247.4 93.8 245.1 92.9 247.5 91 249.7 92Z" fill="#00ff77"/>
<path d="M379.8 66.8 377.3 65.5 379.5 63.9 382 65.2Z" fill="#63ff00"/>
<path d="M401 67.3 398.5 65.9 400.6 64.4 403.1 65.7Z" fill="#64ff00"/>
<path d="M221.6 103.6 219.4 102.5 221.8 100.6 224 101.6Z" fill="#00ffbb"/>
<path d="M195.6 112 193.5 110.9 195.9 109.2 198.1 110.2Z" fill="#00fff5"/>
<path d="M270.6 86.5 268.3 85.6 270.7 83.8 273 84.7Z" fill="#00ff42"/>
<path d="M319.3 73.2 316.9 72.3 319.2 70.6 321.6 71.5Z" fill="#25ff00"/>
<path d="M298.5 78.3 296.1 77.4 298.4 75.6 300.7 76.5Z" fill="#00ff05"/>
<path d="M259 90.1 256.7 89.2 259.1 87.4 261.4 88.3Z" fill="#00ff5c"/>
<path d="M214.5 106.3 212.3 105.3 214.8 103.4 217 104.4Z" fill="#00ffce"/>
<path d="M375.2 67.1 372.7 65.8 374.8 64.2 377.3 65.5Z" fill="#60ff00"/>
<path d="M188.5 114.5 186.3 113.4 188.8 111.6 191 112.7Z" fill="#00f9ff"/>
<path d="M324 72.5 321.6 71.5 323.8 69.9 326.2 70.8Z" fill="#2cff00"/>
<path d="M240.3 96.7 238.1 95.8 240.5 93.9 242.7 94.8Z" fill="#00ff8b"/>
<path d="M181.3 117.1 179.2 116.1 181.7 114.2 183.8 115.3Z" fill="#00e8ff"/>
<path d="M286.9 82.1 284.6 81.2 286.9 79.4 289.2 80.3Z" fill="#00ff21"/>
<path d="M396.3 67.5 393.8 66.1 395.9 64.6 398.5 65.9Z" fill="#62ff00"/>
<path d="M370.5 67.4 368 66.1 370.2 64.5 372.7 65.8Z" fill="#5dff00"/>
<path d="M207.4 108.9 205.2 107.8 207.7 106.1 209.9 107.1Z" fill="#00ffdf"/>
<path d="M328.6 71.8 326.2 70.8 328.4 69.2 330.8 70.2Z" fill="#32ff00"/>
<path d="M303.1 77.4 300.7 76.5 303 74.7 305.4 75.6Z" fill="#03ff00"/>
<path d="M275.3 85.7 273 84.7 275.3 83 277.6 83.9Z" fill="#00ff3b"/>
<path d="M365.9 67.7 363.4 66.5 365.6 64.9 368 66.1Z" fill="#5aff00"/>
<path d="M233.3 99.6 231.1 98.7 233.5 96.7 235.7 97.7Z" fill="#00ff9f"/>
<path d="M333.3 71.2 330.8 70.2 333.1 68.5 335.5 69.6Z" fill="#38ff00"/>
<path d="M252 92.9 249.7 92 252.1 90.1 254.4 91Z" fill="#00ff6f"/>
<path d="M263.6 89.2 261.4 88.3 263.7 86.5 266 87.4Z" fill="#00ff55"/>
<path d="M337.9 70.7 335.5 69.6 337.7 67.9 340.1 69Z" fill="#3eff00"/>
<path d="M361.2 68.1 358.7 66.9 360.9 65.3 363.4 66.5Z" fill="#56ff00"/>
<path d="M391.7 67.6 389.2 66.3 391.3 64.8 393.8 66.1Z" fill="#60ff00"/>
<path d="M342.6 70.1 340.1 69 342.3 67.3 344.8 68.4Z" fill="#43ff00"/>
<path d="M200.3 111.3 198.1 110.2 200.6 108.5 202.8 109.6Z" fill="#00ffef"/>
<path d="M356.5 68.5 354.1 67.4 356.3 65.7 358.7 66.9Z" fill="#52ff00"/>
<path d="M347.2 69.6 344.8 68.4 347 66.8 349.4 67.9Z" fill="#48ff00"/>
<path d="M226.2 102.6 224 101.6 226.4 99.6 228.7 100.6Z" fill="#00ffb3"/>
<path d="M351.9 69 349.4 67.9 351.6 66.2 354.1 67.4Z" fill="#4dff00"/>
<path d="M408.2 68.5 405.7 67.1 407.8 65.6 410.3 67Z" fill="#5eff00"/>
<path d="M291.5 81.2 289.2 80.3 291.5 78.4 293.8 79.3Z" fill="#00ff19"/>
<path d="M307.8 76.5 305.4 75.6 307.7 73.9 310 74.8Z" fill="#0bff00"/>
<path d="M219.2 105.5 217 104.4 219.4 102.5 221.6 103.6Z" fill="#00ffc7"/>
<path d="M245 95.8 242.7 94.8 245.1 92.9 247.4 93.8Z" fill="#00ff82"/>
<path d="M387 67.8 384.5 66.5 386.6 65 389.2 66.3Z" fill="#5eff00"/>
<path d="M193.1 113.8 191 112.7 193.5 110.9 195.6 112Z" fill="#00ffff"/>
<path d="M279.9 84.8 277.6 83.9 279.9 82.1 282.2 83Z" fill="#00ff33"/>
<path d="M312.4 75.7 310 74.8 312.3 73.1 314.7 74Z" fill="#13ff00"/>
<path d="M186 116.4 183.8 115.3 186.3 113.4 188.5 114.5Z" fill="#00efff"/>
<path d="M212.1 108.2 209.9 107.1 212.3 105.3 214.5 106.3Z" fill="#00ffd9"/>
<path d="M403.6 68.7 401 67.3 403.1 65.7 405.7 67.1Z" fill="#5cff00"/>
<path d="M178.8 119 176.7 117.9 179.2 116.1 181.3 117.1Z" fill="#00deff"/>
<path d="M268.3 88.3 266 87.4 268.3 85.6 270.6 86.5Z" fill="#00ff4d"/>
<path d="M256.6 91.9 254.4 91 256.7 89.2 259 90.1Z" fill="#00ff67"/>
<path d="M382.3 68.1 379.8 66.8 382 65.2 384.5 66.5Z" fill="#5cff00"/>
<path d="M296.2 80.2 293.8 79.3 296.1 77.4 298.5 78.3Z" fill="#00ff10"/>
<path d="M237.9 98.7 235.7 97.7 238.1 95.8 240.3 96.7Z" fill="#00ff96"/>
<path d="M317.1 74.9 314.7 74 316.9 72.3 319.3 73.2Z" fill="#1aff00"/>
<path d="M205 110.7 202.8 109.6 205.2 107.8 207.4 108.9Z" fill="#00ffe9"/>
<path d="M377.7 68.4 375.2 67.1 377.3 65.5 379.8 66.8Z" fill="#59ff00"/>
<path d="M284.6 83.9 282.2 83 284.6 81.2 286.9 82.1Z" fill="#00ff2b"/>
<path d="M230.9 101.6 228.7 100.6 231.1 98.7 233.3 99.6Z" fill="#00ffaa"/>
<path d="M398.9 68.8 396.3 67.5 398.5 65.9 401 67.3Z" fill="#5bff00"/>
<path d="M321.7 74.1 319.3 73.2 321.6 71.5 324 72.5Z" fill="#21ff00"/>
<path d="M249.6 94.8 247.4 93.8 249.7 92 252 92.9Z" fill="#00ff7a"/>
<path d="M300.8 79.2 298.5 78.3 300.7 76.5 303.1 77.4Z" fill="#00ff08"/>
<path d="M373 68.7 370.5 67.4 372.7 65.8 375.2 67.1Z" fill="#56ff00"/>
<path d="M223.8 104.6 221.6 103.6 224 101.6 226.2 102.6Z" fill="#00ffbe"/>
<path d="M272.9 87.5 270.6 86.5 273 84.7 275.3 85.7Z" fill="#00ff45"/>
<path d="M197.8 113.1 195.6 112 198.1 110.2 200.3 111.3Z" fill="#00fff9"/>
<path d="M261.3 91 259 90.1 261.4 88.3 263.6 89.2Z" fill="#00ff5f"/>
<path d="M326.4 73.5 324 72.5 326.2 70.8 328.6 71.8Z" fill="#28ff00"/>
<path d="M368.3 69 365.9 67.7 368 66.1 370.5 67.4Z" fill="#53ff00"/>
<path d="M216.7 107.4 214.5 106.3 217 104.4 219.2 105.5Z" fill="#00ffd2"/>
<path d="M394.2 69 391.7 67.6 393.8 66.1 396.3 67.5Z" fill="#59ff00"/>
<path d="M190.6 115.6 188.5 114.5 191 112.7 193.1 113.8Z" fill="#00f5ff"/>
<path d="M331 72.9 328.6 71.8 330.8 70.2 333.3 71.2Z" fill="#2eff00"/>
<path d="M289.2 83 286.9 82.1 289.2 80.3 291.5 81.2Z" fill="#00ff24"/>
<path d="M242.6 97.7 240.3 96.7 242.7 94.8 245 95.8Z" fill="#00ff8e"/>
<path d="M363.7 69.3 361.2 68.1 363.4 66.5 365.9 67.7Z" fill="#50ff00"/>
<path d="M183.5 118.2 181.3 117.1 183.8 115.3 186 116.4Z" fill="#00e4ff"/>
<path d="M335.7 72.3 333.3 71.2 335.5 69.6 337.9 70.7Z" fill="#33ff00"/>
<path d="M305.5 78.3 303.1 77.4 305.4 75.6 307.8 76.5Z" fill="#00ff00"/>
<path d="M359 69.7 356.5 68.5 358.7 66.9 361.2 68.1Z" fill="#4cff00"/>
<path d="M340.4 71.8 337.9 70.7 340.1 69 342.6 70.1Z" fill="#38ff00"/>
<path d="M209.6 110 207.4 108.9 209.9 107.1 212.1 108.2Z" fill="#00ffe3"/>
<path d="M345 71.2 342.6 70.1 344.8 68.4 347.2 69.6Z" fill="#3eff00"/>
<path d="M354.3 70.2 351.9 69 354.1 67.4 356.5 68.5Z" fill="#48ff00"/>
<path d="M349.7 70.7 347.2 69.6 349.4 67.9 351.9 69Z" fill="#43ff00"/>
<path d="M277.6 86.6 275.3 85.7 277.6 83.9 279.9 84.8Z" fill="#00ff3e"/>
<path d="M389.5 69.2 387 67.8 389.2 66.3 391.7 67.6Z" fill="#57ff00"/>
<path d="M235.5 100.6 233.3 99.6 235.7 97.7 237.9 98.7Z" fill="#00ffa2"/>
<path d="M254.3 93.8 252 92.9 254.4 91 256.6 91.9Z" fill="#00ff72"/>
<path d="M265.9 90.1 263.6 89.2 266 87.4 268.3 88.3Z" fill="#00ff57"/>
<path d="M406.1 70 403.6 68.7 405.7 67.1 408.2 68.5Z" fill="#55ff00"/>
<path d="M293.9 82 291.5 81.2 293.8 79.3 296.2 80.2Z" fill="#00ff1b"/>
<path d="M310.1 77.4 307.8 76.5 310 74.8 312.4 75.7Z" fill="#08ff00"/>
<path d="M202.5 112.4 200.3 111.3 202.8 109.6 205 110.7Z" fill="#00fff3"/>
<path d="M228.5 103.6 226.2 102.6 228.7 100.6 230.9 101.6Z" fill="#00ffb6"/>
<path d="M384.9 69.4 382.3 68.1 384.5 66.5 387 67.8Z" fill="#55ff00"/>
<path d="M221.4 106.5 219.2 105.5 221.6 103.6 223.8 104.6Z" fill="#00ffca"/>
<path d="M247.2 96.7 245 95.8 247.4 93.8 249.6 94.8Z" fill="#00ff85"/>
<path d="M282.2 85.7 279.9 84.8 282.2 83 284.6 83.9Z" fill="#00ff36"/>
<path d="M195.3 114.9 193.1 113.8 195.6 112 197.8 113.1Z" fill="#00fcff"/>
<path d="M314.8 76.6 312.4 75.7 314.7 74 317.1 74.9Z" fill="#10ff00"/>
<path d="M401.4 70.2 398.9 68.8 401 67.3 403.6 68.7Z" fill="#53ff00"/>
<path d="M380.2 69.6 377.7 68.4 379.8 66.8 382.3 68.1Z" fill="#52ff00"/>
<path d="M188.1 117.5 186 116.4 188.5 114.5 190.6 115.6Z" fill="#00ebff"/>
<path d="M214.3 109.2 212.1 108.2 214.5 106.3 216.7 107.4Z" fill="#00ffdc"/>
<path d="M270.6 89.3 268.3 88.3 270.6 86.5 272.9 87.5Z" fill="#00ff50"/>
<path d="M298.5 81.1 296.2 80.2 298.5 78.3 300.8 79.2Z" fill="#00ff13"/>
<path d="M258.9 92.9 256.6 91.9 259 90.1 261.3 91Z" fill="#00ff6a"/>
<path d="M180.9 120.1 178.8 119 181.3 117.1 183.5 118.2Z" fill="#00daff"/>
<path d="M319.5 75.8 317.1 74.9 319.3 73.2 321.7 74.1Z" fill="#17ff00"/>
<path d="M240.2 99.6 237.9 98.7 240.3 96.7 242.6 97.7Z" fill="#00ff99"/>
<path d="M375.5 69.9 373 68.7 375.2 67.1 377.7 68.4Z" fill="#50ff00"/>
<path d="M396.8 70.3 394.2 69 396.3 67.5 398.9 68.8Z" fill="#51ff00"/>
<path d="M207.1 111.7 205 110.7 207.4 108.9 209.6 110Z" fill="#00ffed"/>
<path d="M286.9 84.8 284.6 83.9 286.9 82.1 289.2 83Z" fill="#00ff2e"/>
<path d="M324.1 75.1 321.7 74.1 324 72.5 326.4 73.5Z" fill="#1dff00"/>
<path d="M370.8 70.2 368.3 69 370.5 67.4 373 68.7Z" fill="#4dff00"/>
<path d="M233.1 102.6 230.9 101.6 233.3 99.6 235.5 100.6Z" fill="#00ffae"/>
<path d="M303.2 80.1 300.8 79.2 303.1 77.4 305.5 78.3Z" fill="#00ff0b"/>
<path d="M328.8 74.5 326.4 73.5 328.6 71.8 331 72.9Z" fill="#23ff00"/>
<path d="M251.9 95.7 249.6 94.8 252 92.9 254.3 93.8Z" fill="#00ff7d"/>
<path d="M366.2 70.6 363.7 69.3 365.9 67.7 368.3 69Z" fill="#49ff00"/>
<path d="M275.3 88.4 272.9 87.5 275.3 85.7 277.6 86.6Z" fill="#00ff48"/>
<path d="M226 105.6 223.8 104.6 226.2 102.6 228.5 103.6Z" fill="#00ffc2"/>
<path d="M200 114.2 197.8 113.1 200.3 111.3 202.5 112.4Z" fill="#00fffc"/>
<path d="M333.5 74 331 72.9 333.3 71.2 335.7 72.3Z" fill="#29ff00"/>
<path d="M263.6 92 261.3 91 263.6 89.2 265.9 90.1Z" fill="#00ff62"/>
<path d="M392.1 70.5 389.5 69.2 391.7 67.6 394.2 69Z" fill="#50ff00"/>
<path d="M361.5 71 359 69.7 361.2 68.1 363.7 69.3Z" fill="#46ff00"/>
<path d="M338.1 73.4 335.7 72.3 337.9 70.7 340.4 71.8Z" fill="#2eff00"/>
<path d="M356.8 71.4 354.3 70.2 356.5 68.5 359 69.7Z" fill="#42ff00"/>
<path d="M218.9 108.4 216.7 107.4 219.2 105.5 221.4 106.5Z" fill="#00ffd5"/>
<path d="M342.8 72.9 340.4 71.8 342.6 70.1 345 71.2Z" fill="#33ff00"/>
<path d="M347.5 72.3 345 71.2 347.2 69.6 349.7 70.7Z" fill="#39ff00"/>
<path d="M352.1 71.8 349.7 70.7 351.9 69 354.3 70.2Z" fill="#3dff00"/>
<path d="M291.6 83.9 289.2 83 291.5 81.2 293.9 82Z" fill="#00ff26"/>
<path d="M192.8 116.7 190.6 115.6 193.1 113.8 195.3 114.9Z" fill="#00f2ff"/>
<path d="M244.9 98.6 242.6 97.7 245 95.8 247.2 96.7Z" fill="#00ff91"/>
<path d="M307.9 79.2 305.5 78.3 307.8 76.5 310.1 77.4Z" fill="#00ff03"/>
<path d="M185.6 119.3 183.5 118.2 186 116.4 188.1 117.5Z" fill="#00e1ff"/>
<path d="M387.4 70.7 384.9 69.4 387 67.8 389.5 69.2Z" fill="#4eff00"/>
<path d="M211.8 111 209.6 110 212.1 108.2 214.3 109.2Z" fill="#00ffe7"/>
<path d="M279.9 87.5 277.6 86.6 279.9 84.8 282.2 85.7Z" fill="#00ff41"/>
<path d="M404 71.5 401.4 70.2 403.6 68.7 406.1 70Z" fill="#4bff00"/>
<path d="M237.8 101.6 235.5 100.6 237.9 98.7 240.2 99.6Z" fill="#00ffa5"/>
<path d="M256.6 94.7 254.3 93.8 256.6 91.9 258.9 92.9Z" fill="#00ff74"/>
<path d="M268.2 91.1 265.9 90.1 268.3 88.3 270.6 89.3Z" fill="#00ff5a"/>
<path d="M312.5 78.3 310.1 77.4 312.4 75.7 314.8 76.6Z" fill="#05ff00"/>
<path d="M382.7 70.9 380.2 69.6 382.3 68.1 384.9 69.4Z" fill="#4bff00"/>
<path d="M296.2 82.9 293.9 82 296.2 80.2 298.5 81.1Z" fill="#00ff1e"/>
<path d="M204.7 113.5 202.5 112.4 205 110.7 207.1 111.7Z" fill="#00fff6"/>
<path d="M230.7 104.6 228.5 103.6 230.9 101.6 233.1 102.6Z" fill="#00ffb9"/>
<path d="M378 71.2 375.5 69.9 377.7 68.4 380.2 69.6Z" fill="#49ff00"/>
<path d="M223.6 107.6 221.4 106.5 223.8 104.6 226 105.6Z" fill="#00ffcd"/>
<path d="M317.2 77.5 314.8 76.6 317.1 74.9 319.5 75.8Z" fill="#0cff00"/>
<path d="M284.6 86.6 282.2 85.7 284.6 83.9 286.9 84.8Z" fill="#00ff39"/>
<path d="M399.3 71.7 396.8 70.3 398.9 68.8 401.4 70.2Z" fill="#4aff00"/>
<path d="M249.5 97.6 247.2 96.7 249.6 94.8 251.9 95.7Z" fill="#00ff88"/>
<path d="M197.5 116 195.3 114.9 197.8 113.1 200 114.2Z" fill="#00f8ff"/>
<path d="M373.3 71.5 370.8 70.2 373 68.7 375.5 69.9Z" fill="#46ff00"/>
<path d="M272.9 90.2 270.6 89.3 272.9 87.5 275.3 88.4Z" fill="#00ff53"/>
<path d="M216.5 110.3 214.3 109.2 216.7 107.4 218.9 108.4Z" fill="#00ffe0"/>
<path d="M300.9 82 298.5 81.1 300.8 79.2 303.2 80.1Z" fill="#00ff16"/>
<path d="M321.9 76.8 319.5 75.8 321.7 74.1 324.1 75.1Z" fill="#13ff00"/>
<path d="M190.3 118.6 188.1 117.5 190.6 115.6 192.8 116.7Z" fill="#00e7ff"/>
<path d="M261.2 93.8 258.9 92.9 261.3 91 263.6 92Z" fill="#00ff6d"/>
<path d="M183.1 121.2 180.9 120.1 183.5 118.2 185.6 119.3Z" fill="#00d6ff"/>
<path d="M368.7 71.8 366.2 70.6 368.3 69 370.8 70.2Z" fill="#43ff00"/>
<path d="M242.5 100.6 240.2 99.6 242.6 97.7 244.9 98.6Z" fill="#00ff9c"/>
<path d="M394.6 71.8 392.1 70.5 394.2 69 396.8 70.3Z" fill="#48ff00"/>
<path d="M326.5 76.2 324.1 75.1 326.4 73.5 328.8 74.5Z" fill="#19ff00"/>
<path d="M289.2 85.7 286.9 84.8 289.2 83 291.6 83.9Z" fill="#00ff31"/>
<path d="M209.3 112.8 207.1 111.7 209.6 110 211.8 111Z" fill="#00fff1"/>
<path d="M364 72.2 361.5 71 363.7 69.3 366.2 70.6Z" fill="#3fff00"/>
<path d="M331.2 75.6 328.8 74.5 331 72.9 333.5 74Z" fill="#1fff00"/>
<path d="M235.4 103.6 233.1 102.6 235.5 100.6 237.8 101.6Z" fill="#00ffb1"/>
<path d="M335.9 75.1 333.5 74 335.7 72.3 338.1 73.4Z" fill="#24ff00"/>
<path d="M359.3 72.6 356.8 71.4 359 69.7 361.5 71Z" fill="#3cff00"/>
<path d="M305.6 81 303.2 80.1 305.5 78.3 307.9 79.2Z" fill="#00ff0d"/>
<path d="M340.6 74.5 338.1 73.4 340.4 71.8 342.8 72.9Z" fill="#29ff00"/>
<path d="M354.6 73 352.1 71.8 354.3 70.2 356.8 71.4Z" fill="#38ff00"/>
<path d="M277.6 89.3 275.3 88.4 277.6 86.6 279.9 87.5Z" fill="#00ff4b"/>
<path d="M345.3 74 342.8 72.9 345 71.2 347.5 72.3Z" fill="#2eff00"/>
<path d="M389.9 72 387.4 70.7 389.5 69.2 392.1 70.5Z" fill="#47ff00"/>
<path d="M349.9 73.5 347.5 72.3 349.7 70.7 352.1 71.8Z" fill="#33ff00"/>
<path d="M254.2 96.6 251.9 95.7 254.3 93.8 256.6 94.7Z" fill="#00ff80"/>
<path d="M228.3 106.6 226 105.6 228.5 103.6 230.7 104.6Z" fill="#00ffc5"/>
<path d="M202.2 115.3 200 114.2 202.5 112.4 204.7 113.5Z" fill="#00feff"/>
<path d="M265.9 92.9 263.6 92 265.9 90.1 268.2 91.1Z" fill="#00ff65"/>
<path d="M221.2 109.5 218.9 108.4 221.4 106.5 223.6 107.6Z" fill="#00ffd9"/>
<path d="M293.9 84.8 291.6 83.9 293.9 82 296.2 82.9Z" fill="#00ff29"/>
<path d="M385.2 72.3 382.7 70.9 384.9 69.4 387.4 70.7Z" fill="#44ff00"/>
<path d="M310.2 80 307.9 79.2 310.1 77.4 312.5 78.3Z" fill="#00ff05"/>
<path d="M195 117.8 192.8 116.7 195.3 114.9 197.5 116Z" fill="#00eeff"/>
<path d="M247.1 99.6 244.9 98.6 247.2 96.7 249.5 97.6Z" fill="#00ff94"/>
<path d="M187.8 120.4 185.6 119.3 188.1 117.5 190.3 118.6Z" fill="#00ddff"/>
<path d="M214 112.1 211.8 111 214.3 109.2 216.5 110.3Z" fill="#00ffea"/>
<path d="M282.2 88.5 279.9 87.5 282.2 85.7 284.6 86.6Z" fill="#00ff44"/>
<path d="M401.9 73 399.3 71.7 401.4 70.2 404 71.5Z" fill="#43ff00"/>
<path d="M380.6 72.5 378 71.2 380.2 69.6 382.7 70.9Z" fill="#42ff00"/>
<path d="M314.9 79.2 312.5 78.3 314.8 76.6 317.2 77.5Z" fill="#02ff00"/>
<path d="M240 102.6 237.8 101.6 240.2 99.6 242.5 100.6Z" fill="#00ffa8"/>
<path d="M270.6 92 268.2 91.1 270.6 89.3 272.9 90.2Z" fill="#00ff5d"/>
<path d="M258.8 95.7 256.6 94.7 258.9 92.9 261.2 93.8Z" fill="#00ff77"/>
<path d="M298.6 83.8 296.2 82.9 298.5 81.1 300.9 82Z" fill="#00ff21"/>
<path d="M375.9 72.8 373.3 71.5 375.5 69.9 378 71.2Z" fill="#3fff00"/>
<path d="M206.9 114.6 204.7 113.5 207.1 111.7 209.3 112.8Z" fill="#00fffa"/>
<path d="M233 105.6 230.7 104.6 233.1 102.6 235.4 103.6Z" fill="#00ffbd"/>
<path d="M319.6 78.5 317.2 77.5 319.5 75.8 321.9 76.8Z" fill="#09ff00"/>
<path d="M397.2 73.2 394.6 71.8 396.8 70.3 399.3 71.7Z" fill="#41ff00"/>
<path d="M286.9 87.5 284.6 86.6 286.9 84.8 289.2 85.7Z" fill="#00ff3c"/>
<path d="M225.8 108.6 223.6 107.6 226 105.6 228.3 106.6Z" fill="#00ffd1"/>
<path d="M371.2 73.1 368.7 71.8 370.8 70.2 373.3 71.5Z" fill="#3cff00"/>
<path d="M251.8 98.6 249.5 97.6 251.9 95.7 254.2 96.6Z" fill="#00ff8b"/>
<path d="M324.3 77.8 321.9 76.8 324.1 75.1 326.5 76.2Z" fill="#0fff00"/>
<path d="M199.7 117.1 197.5 116 200 114.2 202.2 115.3Z" fill="#00f4ff"/>
<path d="M366.5 73.4 364 72.2 366.2 70.6 368.7 71.8Z" fill="#39ff00"/>
<path d="M303.3 82.9 300.9 82 303.2 80.1 305.6 81Z" fill="#00ff18"/>
<path d="M275.2 91.2 272.9 90.2 275.3 88.4 277.6 89.3Z" fill="#00ff56"/>
<path d="M329 77.3 326.5 76.2 328.8 74.5 331.2 75.6Z" fill="#14ff00"/>
<path d="M218.7 111.4 216.5 110.3 218.9 108.4 221.2 109.5Z" fill="#00ffe4"/>
<path d="M263.5 94.8 261.2 93.8 263.6 92 265.9 92.9Z" fill="#00ff70"/>
<path d="M192.5 119.7 190.3 118.6 192.8 116.7 195 117.8Z" fill="#00e4ff"/>
<path d="M392.5 73.4 389.9 72 392.1 70.5 394.6 71.8Z" fill="#3fff00"/>
<path d="M361.8 73.8 359.3 72.6 361.5 71 364 72.2Z" fill="#36ff00"/>
<path d="M333.7 76.7 331.2 75.6 333.5 74 335.9 75.1Z" fill="#1aff00"/>
<path d="M185.3 122.3 183.1 121.2 185.6 119.3 187.8 120.4Z" fill="#00d3ff"/>
<path d="M244.7 101.6 242.5 100.6 244.9 98.6 247.1 99.6Z" fill="#00ff9f"/>
<path d="M338.3 76.1 335.9 75.1 338.1 73.4 340.6 74.5Z" fill="#1fff00"/>
<path d="M357.1 74.2 354.6 73 356.8 71.4 359.3 72.6Z" fill="#32ff00"/>
<path d="M343 75.6 340.6 74.5 342.8 72.9 345.3 74Z" fill="#24ff00"/>
<path d="M352.4 74.6 349.9 73.5 352.1 71.8 354.6 73Z" fill="#2eff00"/>
<path d="M347.7 75.1 345.3 74 347.5 72.3 349.9 73.5Z" fill="#29ff00"/>
<path d="M291.6 86.6 289.2 85.7 291.6 83.9 293.9 84.8Z" fill="#00ff34"/>
<path d="M211.6 113.9 209.3 112.8 211.8 111 214 112.1Z" fill="#00fff4"/>
<path d="M308 81.9 305.6 81 307.9 79.2 310.2 80Z" fill="#00ff10"/>
<path d="M387.8 73.6 385.2 72.3 387.4 70.7 389.9 72Z" fill="#3dff00"/>
<path d="M237.6 104.6 235.4 103.6 237.8 101.6 240 102.6Z" fill="#00ffb4"/>
<path d="M279.9 90.3 277.6 89.3 279.9 87.5 282.2 88.5Z" fill="#00ff4e"/>
<path d="M256.5 97.6 254.2 96.6 256.6 94.7 258.8 95.7Z" fill="#00ff83"/>
<path d="M230.5 107.7 228.3 106.6 230.7 104.6 233 105.6Z" fill="#00ffc9"/>
<path d="M268.2 93.9 265.9 92.9 268.2 91.1 270.6 92Z" fill="#00ff68"/>
<path d="M204.4 116.3 202.2 115.3 204.7 113.5 206.9 114.6Z" fill="#00faff"/>
<path d="M383.1 73.8 380.6 72.5 382.7 70.9 385.2 72.3Z" fill="#3bff00"/>
<path d="M296.3 85.7 293.9 84.8 296.2 82.9 298.6 83.8Z" fill="#00ff2c"/>
<path d="M223.4 110.6 221.2 109.5 223.6 107.6 225.8 108.6Z" fill="#00ffdc"/>
<path d="M312.6 81 310.2 80 312.5 78.3 314.9 79.2Z" fill="#00ff08"/>
<path d="M197.2 118.9 195 117.8 197.5 116 199.7 117.1Z" fill="#00eaff"/>
<path d="M249.4 100.6 247.1 99.6 249.5 97.6 251.8 98.6Z" fill="#00ff97"/>
<path d="M378.4 74.1 375.9 72.8 378 71.2 380.6 72.5Z" fill="#39ff00"/>
<path d="M399.8 74.5 397.2 73.2 399.3 71.7 401.9 73Z" fill="#3aff00"/>
<path d="M190 121.5 187.8 120.4 190.3 118.6 192.5 119.7Z" fill="#00d9ff"/>
<path d="M284.6 89.4 282.2 88.5 284.6 86.6 286.9 87.5Z" fill="#00ff46"/>
<path d="M216.3 113.2 214 112.1 216.5 110.3 218.7 111.4Z" fill="#00ffee"/>
<path d="M317.3 80.2 314.9 79.2 317.2 77.5 319.6 78.5Z" fill="#00ff02"/>
<path d="M373.7 74.4 371.2 73.1 373.3 71.5 375.9 72.8Z" fill="#36ff00"/>
<path d="M272.9 93 270.6 92 272.9 90.2 275.2 91.2Z" fill="#00ff60"/>
<path d="M261.1 96.7 258.8 95.7 261.2 93.8 263.5 94.8Z" fill="#00ff7a"/>
<path d="M242.3 103.6 240 102.6 242.5 100.6 244.7 101.6Z" fill="#00ffab"/>
<path d="M301 84.7 298.6 83.8 300.9 82 303.3 82.9Z" fill="#00ff23"/>
<path d="M322 79.5 319.6 78.5 321.9 76.8 324.3 77.8Z" fill="#05ff00"/>
<path d="M369 74.7 366.5 73.4 368.7 71.8 371.2 73.1Z" fill="#33ff00"/>
<path d="M209.1 115.7 206.9 114.6 209.3 112.8 211.6 113.9Z" fill="#00fffe"/>
<path d="M395 74.7 392.5 73.4 394.6 71.8 397.2 73.2Z" fill="#38ff00"/>
<path d="M235.2 106.7 233 105.6 235.4 103.6 237.6 104.6Z" fill="#00ffc0"/>
<path d="M326.7 78.9 324.3 77.8 326.5 76.2 329 77.3Z" fill="#0aff00"/>
<path d="M364.3 75.1 361.8 73.8 364 72.2 366.5 73.4Z" fill="#2fff00"/>
<path d="M289.3 88.5 286.9 87.5 289.2 85.7 291.6 86.6Z" fill="#00ff3f"/>
<path d="M228.1 109.7 225.8 108.6 228.3 106.6 230.5 107.7Z" fill="#00ffd4"/>
<path d="M331.4 78.3 329 77.3 331.2 75.6 333.7 76.7Z" fill="#10ff00"/>
<path d="M254.1 99.6 251.8 98.6 254.2 96.6 256.5 97.6Z" fill="#00ff8e"/>
<path d="M359.6 75.4 357.1 74.2 359.3 72.6 361.8 73.8Z" fill="#2cff00"/>
<path d="M336.1 77.8 333.7 76.7 335.9 75.1 338.3 76.1Z" fill="#15ff00"/>
<path d="M201.9 118.2 199.7 117.1 202.2 115.3 204.4 116.3Z" fill="#00f0ff"/>
<path d="M305.7 83.7 303.3 82.9 305.6 81 308 81.9Z" fill="#00ff1b"/>
<path d="M277.6 92.1 275.2 91.2 277.6 89.3 279.9 90.3Z" fill="#00ff59"/>
<path d="M354.9 75.8 352.4 74.6 354.6 73 357.1 74.2Z" fill="#28ff00"/>
<path d="M390.3 74.9 387.8 73.6 389.9 72 392.5 73.4Z" fill="#36ff00"/>
<path d="M340.8 77.2 338.3 76.1 340.6 74.5 343 75.6Z" fill="#1aff00"/>
<path d="M350.2 76.3 347.7 75.1 349.9 73.5 352.4 74.6Z" fill="#24ff00"/>
<path d="M345.5 76.7 343 75.6 345.3 74 347.7 75.1Z" fill="#1fff00"/>
<path d="M220.9 112.4 218.7 111.4 221.2 109.5 223.4 110.6Z" fill="#00ffe7"/>
<path d="M265.8 95.7 263.5 94.8 265.9 92.9 268.2 93.9Z" fill="#00ff73"/>
<path d="M194.7 120.8 192.5 119.7 195 117.8 197.2 118.9Z" fill="#00e0ff"/>
<path d="M187.4 123.4 185.3 122.3 187.8 120.4 190 121.5Z" fill="#00cfff"/>
<path d="M247 102.6 244.7 101.6 247.1 99.6 249.4 100.6Z" fill="#00ffa2"/>
<path d="M294 87.5 291.6 86.6 293.9 84.8 296.3 85.7Z" fill="#00ff36"/>
<path d="M385.6 75.1 383.1 73.8 385.2 72.3 387.8 73.6Z" fill="#34ff00"/>
<path d="M213.8 115 211.6 113.9 214 112.1 216.3 113.2Z" fill="#00fff8"/>
<path d="M310.4 82.8 308 81.9 310.2 80 312.6 81Z" fill="#00ff13"/>
<path d="M239.9 105.6 237.6 104.6 240 102.6 242.3 103.6Z" fill="#00ffb7"/>
<path d="M282.3 91.2 279.9 90.3 282.2 88.5 284.6 89.4Z" fill="#00ff51"/>
<path d="M380.9 75.4 378.4 74.1 380.6 72.5 383.1 73.8Z" fill="#32ff00"/>
<path d="M258.8 98.6 256.5 97.6 258.8 95.7 261.1 96.7Z" fill="#00ff86"/>
<path d="M232.8 108.7 230.5 107.7 233 105.6 235.2 106.7Z" fill="#00ffcc"/>
<path d="M270.5 94.9 268.2 93.9 270.6 92 272.9 93Z" fill="#00ff6b"/>
<path d="M206.6 117.4 204.4 116.3 206.9 114.6 209.1 115.7Z" fill="#00f6ff"/>
<path d="M315 82 312.6 81 314.9 79.2 317.3 80.2Z" fill="#00ff0c"/>
<path d="M298.7 86.6 296.3 85.7 298.6 83.8 301 84.7Z" fill="#00ff2e"/>
<path d="M225.6 111.6 223.4 110.6 225.8 108.6 228.1 109.7Z" fill="#00ffe0"/>
<path d="M376.2 75.6 373.7 74.4 375.9 72.8 378.4 74.1Z" fill="#2fff00"/>
<path d="M199.4 120 197.2 118.9 199.7 117.1 201.9 118.2Z" fill="#00e6ff"/>
<path d="M397.6 76 395 74.7 397.2 73.2 399.8 74.5Z" fill="#31ff00"/>
<path d="M251.7 101.6 249.4 100.6 251.8 98.6 254.1 99.6Z" fill="#00ff9a"/>
<path d="M319.7 81.2 317.3 80.2 319.6 78.5 322 79.5Z" fill="#00ff05"/>
<path d="M286.9 90.3 284.6 89.4 286.9 87.5 289.3 88.5Z" fill="#00ff49"/>
<path d="M371.5 75.9 369 74.7 371.2 73.1 373.7 74.4Z" fill="#2cff00"/>
<path d="M192.2 122.6 190 121.5 192.5 119.7 194.7 120.8Z" fill="#00d6ff"/>
<path d="M218.5 114.3 216.3 113.2 218.7 111.4 220.9 112.4Z" fill="#00fff2"/>
<path d="M324.4 80.6 322 79.5 324.3 77.8 326.7 78.9Z" fill="#00ff00"/>
<path d="M275.2 94 272.9 93 275.2 91.2 277.6 92.1Z" fill="#00ff63"/>
<path d="M366.8 76.3 364.3 75.1 366.5 73.4 369 74.7Z" fill="#29ff00"/>
<path d="M263.5 97.6 261.1 96.7 263.5 94.8 265.8 95.7Z" fill="#00ff7e"/>
<path d="M303.4 85.6 301 84.7 303.3 82.9 305.7 83.7Z" fill="#00ff26"/>
<path d="M244.6 104.6 242.3 103.6 244.7 101.6 247 102.6Z" fill="#00ffae"/>
<path d="M329.1 80 326.7 78.9 329 77.3 331.4 78.3Z" fill="#06ff00"/>
<path d="M392.9 76.2 390.3 74.9 392.5 73.4 395 74.7Z" fill="#2fff00"/>
<path d="M362.1 76.7 359.6 75.4 361.8 73.8 364.3 75.1Z" fill="#26ff00"/>
<path d="M211.3 116.8 209.1 115.7 211.6 113.9 213.8 115Z" fill="#00fcff"/>
<path d="M333.8 79.4 331.4 78.3 333.7 76.7 336.1 77.8Z" fill="#0bff00"/>
<path d="M357.4 77.1 354.9 75.8 357.1 74.2 359.6 75.4Z" fill="#22ff00"/>
<path d="M237.5 107.7 235.2 106.7 237.6 104.6 239.9 105.6Z" fill="#00ffc3"/>
<path d="M338.6 78.9 336.1 77.8 338.3 76.1 340.8 77.2Z" fill="#10ff00"/>
<path d="M352.7 77.5 350.2 76.3 352.4 74.6 354.9 75.8Z" fill="#1eff00"/>
<path d="M291.6 89.4 289.3 88.5 291.6 86.6 294 87.5Z" fill="#00ff41"/>
<path d="M343.3 78.4 340.8 77.2 343 75.6 345.5 76.7Z" fill="#15ff00"/>
<path d="M348 77.9 345.5 76.7 347.7 75.1 350.2 76.3Z" fill="#1aff00"/>
<path d="M230.3 110.7 228.1 109.7 230.5 107.7 232.8 108.7Z" fill="#00ffd8"/>
<path d="M388.2 76.4 385.6 75.1 387.8 73.6 390.3 74.9Z" fill="#2dff00"/>
<path d="M256.4 100.6 254.1 99.6 256.5 97.6 258.8 98.6Z" fill="#00ff91"/>
<path d="M308.1 84.7 305.7 83.7 308 81.9 310.4 82.8Z" fill="#00ff1e"/>
<path d="M204.1 119.3 201.9 118.2 204.4 116.3 206.6 117.4Z" fill="#00edff"/>
<path d="M279.9 93.1 277.6 92.1 279.9 90.3 282.3 91.2Z" fill="#00ff5c"/>
<path d="M223.2 113.5 220.9 112.4 223.4 110.6 225.6 111.6Z" fill="#00ffeb"/>
<path d="M268.2 96.7 265.8 95.7 268.2 93.9 270.5 94.9Z" fill="#00ff76"/>
<path d="M196.9 121.9 194.7 120.8 197.2 118.9 199.4 120Z" fill="#00dcff"/>
<path d="M383.5 76.7 380.9 75.4 383.1 73.8 385.6 75.1Z" fill="#2bff00"/>
<path d="M249.3 103.6 247 102.6 249.4 100.6 251.7 101.6Z" fill="#00ffa6"/>
<path d="M189.6 124.5 187.4 123.4 190 121.5 192.2 122.6Z" fill="#00cbff"/>
<path d="M296.3 88.4 294 87.5 296.3 85.7 298.7 86.6Z" fill="#00ff39"/>
<path d="M312.8 83.8 310.4 82.8 312.6 81 315 82Z" fill="#00ff16"/>
<path d="M216 116.1 213.8 115 216.3 113.2 218.5 114.3Z" fill="#00fffc"/>
<path d="M378.7 76.9 376.2 75.6 378.4 74.1 380.9 75.4Z" fill="#29ff00"/>
<path d="M242.2 106.7 239.9 105.6 242.3 103.6 244.6 104.6Z" fill="#00ffba"/>
<path d="M284.6 92.1 282.3 91.2 284.6 89.4 286.9 90.3Z" fill="#00ff54"/>
<path d="M261.1 99.6 258.8 98.6 261.1 96.7 263.5 97.6Z" fill="#00ff89"/>
<path d="M317.5 83 315 82 317.3 80.2 319.7 81.2Z" fill="#00ff0f"/>
<path d="M272.8 95.8 270.5 94.9 272.9 93 275.2 94Z" fill="#00ff6e"/>
<path d="M235 109.8 232.8 108.7 235.2 106.7 237.5 107.7Z" fill="#00ffcf"/>
<path d="M374 77.2 371.5 75.9 373.7 74.4 376.2 75.6Z" fill="#26ff00"/>
<path d="M208.8 118.6 206.6 117.4 209.1 115.7 211.3 116.8Z" fill="#00f3ff"/>
<path d="M301 87.5 298.7 86.6 301 84.7 303.4 85.6Z" fill="#00ff31"/>
<path d="M227.9 112.7 225.6 111.6 228.1 109.7 230.3 110.7Z" fill="#00ffe3"/>
<path d="M322.2 82.3 319.7 81.2 322 79.5 324.4 80.6Z" fill="#00ff09"/>
<path d="M369.3 77.5 366.8 76.3 369 74.7 371.5 75.9Z" fill="#23ff00"/>
<path d="M395.5 77.6 392.9 76.2 395 74.7 397.6 76Z" fill="#28ff00"/>
<path d="M254 102.6 251.7 101.6 254.1 99.6 256.4 100.6Z" fill="#00ff9d"/>
<path d="M201.6 121.1 199.4 120 201.9 118.2 204.1 119.3Z" fill="#00e3ff"/>
<path d="M326.9 81.6 324.4 80.6 326.7 78.9 329.1 80Z" fill="#00ff04"/>
<path d="M364.6 77.9 362.1 76.7 364.3 75.1 366.8 76.3Z" fill="#1fff00"/>
<path d="M289.3 91.2 286.9 90.3 289.3 88.5 291.6 89.4Z" fill="#00ff4c"/>
<path d="M220.7 115.4 218.5 114.3 220.9 112.4 223.2 113.5Z" fill="#00fff5"/>
<path d="M194.4 123.7 192.2 122.6 194.7 120.8 196.9 121.9Z" fill="#00d2ff"/>
<path d="M359.9 78.3 357.4 77.1 359.6 75.4 362.1 76.7Z" fill="#1cff00"/>
<path d="M331.6 81.1 329.1 80 331.4 78.3 333.8 79.4Z" fill="#01ff00"/>
<path d="M305.8 86.5 303.4 85.6 305.7 83.7 308.1 84.7Z" fill="#00ff29"/>
<path d="M277.6 94.9 275.2 94 277.6 92.1 279.9 93.1Z" fill="#00ff66"/>
<path d="M390.7 77.7 388.2 76.4 390.3 74.9 392.9 76.2Z" fill="#26ff00"/>
<path d="M355.2 78.7 352.7 77.5 354.9 75.8 357.4 77.1Z" fill="#18ff00"/>
<path d="M265.8 98.6 263.5 97.6 265.8 95.7 268.2 96.7Z" fill="#00ff81"/>
<path d="M336.3 80.5 333.8 79.4 336.1 77.8 338.6 78.9Z" fill="#06ff00"/>
<path d="M246.9 105.6 244.6 104.6 247 102.6 249.3 103.6Z" fill="#00ffb2"/>
<path d="M350.4 79.1 348 77.9 350.2 76.3 352.7 77.5Z" fill="#14ff00"/>
<path d="M341 80 338.6 78.9 340.8 77.2 343.3 78.4Z" fill="#0bff00"/>
<path d="M345.7 79.5 343.3 78.4 345.5 76.7 348 77.9Z" fill="#10ff00"/>
<path d="M213.5 117.9 211.3 116.8 213.8 115 216 116.1Z" fill="#00f9ff"/>
<path d="M239.7 108.7 237.5 107.7 239.9 105.6 242.2 106.7Z" fill="#00ffc7"/>
<path d="M294 90.3 291.6 89.4 294 87.5 296.3 88.4Z" fill="#00ff44"/>
<path d="M386 78 383.5 76.7 385.6 75.1 388.2 76.4Z" fill="#24ff00"/>
<path d="M310.5 85.6 308.1 84.7 310.4 82.8 312.8 83.8Z" fill="#00ff21"/>
<path d="M232.6 111.8 230.3 110.7 232.8 108.7 235 109.8Z" fill="#00ffdb"/>
<path d="M258.7 101.6 256.4 100.6 258.8 98.6 261.1 99.6Z" fill="#00ff95"/>
<path d="M282.3 94 279.9 93.1 282.3 91.2 284.6 92.1Z" fill="#00ff5f"/>
<path d="M206.3 120.4 204.1 119.3 206.6 117.4 208.8 118.6Z" fill="#00e9ff"/>
<path d="M381.3 78.2 378.7 76.9 380.9 75.4 383.5 76.7Z" fill="#22ff00"/>
<path d="M270.5 97.7 268.2 96.7 270.5 94.9 272.8 95.8Z" fill="#00ff79"/>
<path d="M225.4 114.6 223.2 113.5 225.6 111.6 227.9 112.7Z" fill="#00ffee"/>
<path d="M315.2 84.8 312.8 83.8 315 82 317.5 83Z" fill="#00ff1a"/>
<path d="M199.1 123 196.9 121.9 199.4 120 201.6 121.1Z" fill="#00d8ff"/>
<path d="M298.7 89.3 296.3 88.4 298.7 86.6 301 87.5Z" fill="#00ff3c"/>
<path d="M251.6 104.6 249.3 103.6 251.7 101.6 254 102.6Z" fill="#00ffa9"/>
<path d="M376.6 78.5 374 77.2 376.2 75.6 378.7 76.9Z" fill="#1fff00"/>
<path d="M191.8 125.6 189.6 124.5 192.2 122.6 194.4 123.7Z" fill="#00c8ff"/>
<path d="M218.3 117.2 216 116.1 218.5 114.3 220.7 115.4Z" fill="#00ffff"/>
<path d="M319.9 84 317.5 83 319.7 81.2 322.2 82.3Z" fill="#00ff13"/>
<path d="M287 93.1 284.6 92.1 286.9 90.3 289.3 91.2Z" fill="#00ff57"/>
<path d="M244.5 107.7 242.2 106.7 244.6 104.6 246.9 105.6Z" fill="#00ffbe"/>
<path d="M371.8 78.8 369.3 77.5 371.5 75.9 374 77.2Z" fill="#1cff00"/>
<path d="M263.4 100.6 261.1 99.6 263.5 97.6 265.8 98.6Z" fill="#00ff8c"/>
<path d="M275.2 96.8 272.8 95.8 275.2 94 277.6 94.9Z" fill="#00ff71"/>
<path d="M237.3 110.8 235 109.8 237.5 107.7 239.7 108.7Z" fill="#00ffd3"/>
<path d="M367.1 79.1 364.6 77.9 366.8 76.3 369.3 77.5Z" fill="#19ff00"/>
<path d="M324.6 83.3 322.2 82.3 324.4 80.6 326.9 81.6Z" fill="#00ff0e"/>
<path d="M303.4 88.4 301 87.5 303.4 85.6 305.8 86.5Z" fill="#00ff34"/>
<path d="M211 119.7 208.8 118.6 211.3 116.8 213.5 117.9Z" fill="#00efff"/>
<path d="M393.3 79.1 390.7 77.7 392.9 76.2 395.5 77.6Z" fill="#20ff00"/>
<path d="M362.4 79.5 359.9 78.3 362.1 76.7 364.6 77.9Z" fill="#16ff00"/>
<path d="M329.3 82.7 326.9 81.6 329.1 80 331.6 81.1Z" fill="#00ff08"/>
<path d="M230.2 113.8 227.9 112.7 230.3 110.7 232.6 111.8Z" fill="#00ffe7"/>
<path d="M357.7 79.9 355.2 78.7 357.4 77.1 359.9 78.3Z" fill="#12ff00"/>
<path d="M334 82.1 331.6 81.1 333.8 79.4 336.3 80.5Z" fill="#00ff03"/>
<path d="M256.3 103.6 254 102.6 256.4 100.6 258.7 101.6Z" fill="#00ffa0"/>
<path d="M352.9 80.3 350.4 79.1 352.7 77.5 355.2 78.7Z" fill="#0eff00"/>
<path d="M203.8 122.2 201.6 121.1 204.1 119.3 206.3 120.4Z" fill="#00dfff"/>
<path d="M291.7 92.2 289.3 91.2 291.6 89.4 294 90.3Z" fill="#00ff4f"/>
<path d="M338.8 81.6 336.3 80.5 338.6 78.9 341 80Z" fill="#01ff00"/>
<path d="M348.2 80.7 345.7 79.5 348 77.9 350.4 79.1Z" fill="#0aff00"/>
<path d="M343.5 81.1 341 80 343.3 78.4 345.7 79.5Z" fill="#06ff00"/>
<path d="M223 116.5 220.7 115.4 223.2 113.5 225.4 114.6Z" fill="#00fff9"/>
<path d="M388.6 79.3 386 78 388.2 76.4 390.7 77.7Z" fill="#1eff00"/>
<path d="M308.2 87.5 305.8 86.5 308.1 84.7 310.5 85.6Z" fill="#00ff2c"/>
<path d="M196.6 124.9 194.4 123.7 196.9 121.9 199.1 123Z" fill="#00ceff"/>
<path d="M279.9 95.9 277.6 94.9 279.9 93.1 282.3 94Z" fill="#00ff69"/>
<path d="M268.1 99.6 265.8 98.6 268.2 96.7 270.5 97.7Z" fill="#00ff84"/>
<path d="M249.2 106.7 246.9 105.6 249.3 103.6 251.6 104.6Z" fill="#00ffb5"/>
<path d="M383.8 79.5 381.3 78.2 383.5 76.7 386 78Z" fill="#1bff00"/>
<path d="M215.8 119 213.5 117.9 216 116.1 218.3 117.2Z" fill="#00f5ff"/>
<path d="M242 109.8 239.7 108.7 242.2 106.7 244.5 107.7Z" fill="#00ffca"/>
<path d="M296.4 91.2 294 90.3 296.3 88.4 298.7 89.3Z" fill="#00ff47"/>
<path d="M312.9 86.7 310.5 85.6 312.8 83.8 315.2 84.8Z" fill="#00ff24"/>
<path d="M234.9 112.9 232.6 111.8 235 109.8 237.3 110.8Z" fill="#00ffdf"/>
<path d="M261 102.6 258.7 101.6 261.1 99.6 263.4 100.6Z" fill="#00ff98"/>
<path d="M379.1 79.8 376.6 78.5 378.7 76.9 381.3 78.2Z" fill="#19ff00"/>
<path d="M284.6 94.9 282.3 94 284.6 92.1 287 93.1Z" fill="#00ff61"/>
<path d="M208.5 121.5 206.3 120.4 208.8 118.6 211 119.7Z" fill="#00e5ff"/>
<path d="M272.8 98.7 270.5 97.7 272.8 95.8 275.2 96.8Z" fill="#00ff7c"/>
<path d="M317.6 85.9 315.2 84.8 317.5 83 319.9 84Z" fill="#00ff1e"/>
<path d="M227.7 115.7 225.4 114.6 227.9 112.7 230.2 113.8Z" fill="#00fff2"/>
<path d="M374.4 80.1 371.8 78.8 374 77.2 376.6 78.5Z" fill="#16ff00"/>
<path d="M301.1 90.3 298.7 89.3 301 87.5 303.4 88.4Z" fill="#00ff3f"/>
<path d="M201.3 124.1 199.1 123 201.6 121.1 203.8 122.2Z" fill="#00d5ff"/>
<path d="M253.9 105.7 251.6 104.6 254 102.6 256.3 103.6Z" fill="#00ffac"/>
<path d="M322.3 85.1 319.9 84 322.2 82.3 324.6 83.3Z" fill="#00ff17"/>
<path d="M369.6 80.4 367.1 79.1 369.3 77.5 371.8 78.8Z" fill="#13ff00"/>
<path d="M194 126.7 191.8 125.6 194.4 123.7 196.6 124.9Z" fill="#00c4ff"/>
<path d="M220.5 118.3 218.3 117.2 220.7 115.4 223 116.5Z" fill="#00fbff"/>
<path d="M289.3 94 287 93.1 289.3 91.2 291.7 92.2Z" fill="#00ff5a"/>
<path d="M364.9 80.7 362.4 79.5 364.6 77.9 367.1 79.1Z" fill="#10ff00"/>
<path d="M246.7 108.8 244.5 107.7 246.9 105.6 249.2 106.7Z" fill="#00ffc1"/>
<path d="M327.1 84.4 324.6 83.3 326.9 81.6 329.3 82.7Z" fill="#00ff12"/>
<path d="M265.7 101.6 263.4 100.6 265.8 98.6 268.1 99.6Z" fill="#00ff8f"/>
<path d="M360.2 81.1 357.7 79.9 359.9 78.3 362.4 79.5Z" fill="#0cff00"/>
<path d="M277.5 97.7 275.2 96.8 277.6 94.9 279.9 95.9Z" fill="#00ff74"/>
<path d="M305.8 89.4 303.4 88.4 305.8 86.5 308.2 87.5Z" fill="#00ff37"/>
<path d="M331.8 83.8 329.3 82.7 331.6 81.1 334 82.1Z" fill="#00ff0c"/>
<path d="M239.6 111.9 237.3 110.8 239.7 108.7 242 109.8Z" fill="#00ffd6"/>
<path d="M391.1 80.6 388.6 79.3 390.7 77.7 393.3 79.1Z" fill="#17ff00"/>
<path d="M355.4 81.5 352.9 80.3 355.2 78.7 357.7 79.9Z" fill="#08ff00"/>
<path d="M213.3 120.8 211 119.7 213.5 117.9 215.8 119Z" fill="#00ebff"/>
<path d="M336.5 83.3 334 82.1 336.3 80.5 338.8 81.6Z" fill="#00ff08"/>
<path d="M350.7 81.9 348.2 80.7 350.4 79.1 352.9 80.3Z" fill="#05ff00"/>
<path d="M341.2 82.8 338.8 81.6 341 80 343.5 81.1Z" fill="#00ff03"/>
<path d="M346 82.3 343.5 81.1 345.7 79.5 348.2 80.7Z" fill="#01ff00"/>
<path d="M232.4 114.9 230.2 113.8 232.6 111.8 234.9 112.9Z" fill="#00ffeb"/>
<path d="M258.6 104.6 256.3 103.6 258.7 101.6 261 102.6Z" fill="#00ffa4"/>
<path d="M294.1 93.1 291.7 92.2 294 90.3 296.4 91.2Z" fill="#00ff52"/>
<path d="M386.4 80.8 383.8 79.5 386 78 388.6 79.3Z" fill="#15ff00"/>
<path d="M206 123.3 203.8 122.2 206.3 120.4 208.5 121.5Z" fill="#00dbff"/>
<path d="M310.6 88.5 308.2 87.5 310.5 85.6 312.9 86.7Z" fill="#00ff2f"/>
<path d="M225.2 117.6 223 116.5 225.4 114.6 227.7 115.7Z" fill="#00fffd"/>
<path d="M282.3 96.8 279.9 95.9 282.3 94 284.6 94.9Z" fill="#00ff6c"/>
<path d="M198.8 126 196.6 124.9 199.1 123 201.3 124.1Z" fill="#00caff"/>
<path d="M270.4 100.6 268.1 99.6 270.5 97.7 272.8 98.7Z" fill="#00ff87"/>
<path d="M251.5 107.7 249.2 106.7 251.6 104.6 253.9 105.7Z" fill="#00ffb8"/>
<path d="M381.7 81.1 379.1 79.8 381.3 78.2 383.8 79.5Z" fill="#12ff00"/>
<path d="M315.3 87.7 312.9 86.7 315.2 84.8 317.6 85.9Z" fill="#00ff28"/>
<path d="M218 120.1 215.8 119 218.3 117.2 220.5 118.3Z" fill="#00f1ff"/>
<path d="M244.3 110.9 242 109.8 244.5 107.7 246.7 108.8Z" fill="#00ffce"/>
<path d="M298.8 92.2 296.4 91.2 298.7 89.3 301.1 90.3Z" fill="#00ff4a"/>
<path d="M376.9 81.3 374.4 80.1 376.6 78.5 379.1 79.8Z" fill="#10ff00"/>
<path d="M237.2 113.9 234.9 112.9 237.3 110.8 239.6 111.9Z" fill="#00ffe2"/>
<path d="M263.3 103.6 261 102.6 263.4 100.6 265.7 101.6Z" fill="#00ff9b"/>
<path d="M320 86.9 317.6 85.9 319.9 84 322.3 85.1Z" fill="#00ff21"/>
<path d="M287 95.9 284.6 94.9 287 93.1 289.3 94Z" fill="#00ff64"/>
<path d="M372.2 81.6 369.6 80.4 371.8 78.8 374.4 80.1Z" fill="#0dff00"/>
<path d="M210.8 122.6 208.5 121.5 211 119.7 213.3 120.8Z" fill="#00e1ff"/>
<path d="M275.2 99.6 272.8 98.7 275.2 96.8 277.5 97.7Z" fill="#00ff7f"/>
<path d="M230 116.8 227.7 115.7 230.2 113.8 232.4 114.9Z" fill="#00fff6"/>
<path d="M367.4 82 364.9 80.7 367.1 79.1 369.6 80.4Z" fill="#0aff00"/>
<path d="M303.5 91.3 301.1 90.3 303.4 88.4 305.8 89.4Z" fill="#00ff42"/>
<path d="M324.8 86.2 322.3 85.1 324.6 83.3 327.1 84.4Z" fill="#00ff1b"/>
<path d="M256.2 106.7 253.9 105.7 256.3 103.6 258.6 104.6Z" fill="#00ffb0"/>
<path d="M203.5 125.2 201.3 124.1 203.8 122.2 206 123.3Z" fill="#00d1ff"/>
<path d="M362.7 82.3 360.2 81.1 362.4 79.5 364.9 80.7Z" fill="#06ff00"/>
<path d="M329.5 85.5 327.1 84.4 329.3 82.7 331.8 83.8Z" fill="#00ff16"/>
<path d="M196.2 127.9 194 126.7 196.6 124.9 198.8 126Z" fill="#00c0ff"/>
<path d="M222.8 119.4 220.5 118.3 223 116.5 225.2 117.6Z" fill="#00f7ff"/>
<path d="M357.9 82.7 355.4 81.5 357.7 79.9 360.2 81.1Z" fill="#03ff00"/>
<path d="M291.7 95 289.3 94 291.7 92.2 294.1 93.1Z" fill="#00ff5c"/>
<path d="M334.2 84.9 331.8 83.8 334 82.1 336.5 83.3Z" fill="#00ff11"/>
<path d="M353.2 83.1 350.7 81.9 352.9 80.3 355.4 81.5Z" fill="#00ff01"/>
<path d="M249.1 109.8 246.7 108.8 249.2 106.7 251.5 107.7Z" fill="#00ffc5"/>
<path d="M348.5 83.5 346 82.3 348.2 80.7 350.7 81.9Z" fill="#00ff05"/>
<path d="M339 84.4 336.5 83.3 338.8 81.6 341.2 82.8Z" fill="#00ff0c"/>
<path d="M343.7 83.9 341.2 82.8 343.5 81.1 346 82.3Z" fill="#00ff08"/>
<path d="M308.3 90.4 305.8 89.4 308.2 87.5 310.6 88.5Z" fill="#00ff3a"/>
<path d="M268.1 102.6 265.7 101.6 268.1 99.6 270.4 100.6Z" fill="#00ff92"/>
<path d="M389 82.1 386.4 80.8 388.6 79.3 391.1 80.6Z" fill="#0eff00"/>
<path d="M279.9 98.7 277.5 97.7 279.9 95.9 282.3 96.8Z" fill="#00ff77"/>
<path d="M241.9 113 239.6 111.9 242 109.8 244.3 110.9Z" fill="#00ffda"/>
<path d="M215.5 121.9 213.3 120.8 215.8 119 218 120.1Z" fill="#00e7ff"/>
<path d="M234.7 116 232.4 114.9 234.9 112.9 237.2 113.9Z" fill="#00ffee"/>
<path d="M384.2 82.4 381.7 81.1 383.8 79.5 386.4 80.8Z" fill="#0cff00"/>
<path d="M313 89.6 310.6 88.5 312.9 86.7 315.3 87.7Z" fill="#00ff33"/>
<path d="M260.9 105.7 258.6 104.6 261 102.6 263.3 103.6Z" fill="#00ffa7"/>
<path d="M296.5 94.1 294.1 93.1 296.4 91.2 298.8 92.2Z" fill="#00ff54"/>
<path d="M208.3 124.5 206 123.3 208.5 121.5 210.8 122.6Z" fill="#00d7ff"/>
<path d="M227.5 118.7 225.2 117.6 227.7 115.7 230 116.8Z" fill="#00feff"/>
<path d="M379.5 82.6 376.9 81.3 379.1 79.8 381.7 81.1Z" fill="#09ff00"/>
<path d="M284.6 97.8 282.3 96.8 284.6 94.9 287 95.9Z" fill="#00ff6f"/>
<path d="M272.8 101.6 270.4 100.6 272.8 98.7 275.2 99.6Z" fill="#00ff8a"/>
<path d="M201 127.1 198.8 126 201.3 124.1 203.5 125.2Z" fill="#00c7ff"/>
<path d="M253.8 108.8 251.5 107.7 253.9 105.7 256.2 106.7Z" fill="#00ffbc"/>
<path d="M317.7 88.7 315.3 87.7 317.6 85.9 320 86.9Z" fill="#00ff2c"/>
<path d="M374.7 82.9 372.2 81.6 374.4 80.1 376.9 81.3Z" fill="#07ff00"/>
<path d="M301.2 93.2 298.8 92.2 301.1 90.3 303.5 91.3Z" fill="#00ff4d"/>
<path d="M246.6 112 244.3 110.9 246.7 108.8 249.1 109.8Z" fill="#00ffd1"/>
<path d="M220.3 121.2 218 120.1 220.5 118.3 222.8 119.4Z" fill="#00edff"/>
<path d="M322.5 88 320 86.9 322.3 85.1 324.8 86.2Z" fill="#00ff25"/>
<path d="M370 83.2 367.4 82 369.6 80.4 372.2 81.6Z" fill="#04ff00"/>
<path d="M239.4 115 237.2 113.9 239.6 111.9 241.9 113Z" fill="#00ffe6"/>
<path d="M265.7 104.6 263.3 103.6 265.7 101.6 268.1 102.6Z" fill="#00ff9e"/>
<path d="M289.4 96.9 287 95.9 289.3 94 291.7 95Z" fill="#00ff67"/>
<path d="M365.2 83.6 362.7 82.3 364.9 80.7 367.4 82Z" fill="#00ff00"/>
<path d="M327.2 87.2 324.8 86.2 327.1 84.4 329.5 85.5Z" fill="#00ff1f"/>
<path d="M213 123.7 210.8 122.6 213.3 120.8 215.5 121.9Z" fill="#00deff"/>
<path d="M277.5 100.6 275.2 99.6 277.5 97.7 279.9 98.7Z" fill="#00ff82"/>
<path d="M232.2 117.9 230 116.8 232.4 114.9 234.7 116Z" fill="#00fff9"/>
<path d="M305.9 92.3 303.5 91.3 305.8 89.4 308.3 90.4Z" fill="#00ff45"/>
<path d="M360.5 83.9 357.9 82.7 360.2 81.1 362.7 82.3Z" fill="#00ff03"/>
<path d="M332 86.6 329.5 85.5 331.8 83.8 334.2 84.9Z" fill="#00ff1a"/>
<path d="M355.7 84.3 353.2 83.1 355.4 81.5 357.9 82.7Z" fill="#00ff06"/>
<path d="M258.5 107.7 256.2 106.7 258.6 104.6 260.9 105.7Z" fill="#00ffb3"/>
<path d="M351 84.7 348.5 83.5 350.7 81.9 353.2 83.1Z" fill="#00ff0a"/>
<path d="M336.7 86 334.2 84.9 336.5 83.3 339 84.4Z" fill="#00ff15"/>
<path d="M205.7 126.4 203.5 125.2 206 123.3 208.3 124.5Z" fill="#00cdff"/>
<path d="M346.2 85.1 343.7 83.9 346 82.3 348.5 83.5Z" fill="#00ff0d"/>
<path d="M341.5 85.6 339 84.4 341.2 82.8 343.7 83.9Z" fill="#00ff11"/>
<path d="M225 120.5 222.8 119.4 225.2 117.6 227.5 118.7Z" fill="#00f3ff"/>
<path d="M198.5 129 196.2 127.9 198.8 126 201 127.1Z" fill="#00bcff"/>
<path d="M294.1 95.9 291.7 95 294.1 93.1 296.5 94.1Z" fill="#00ff5f"/>
<path d="M310.7 91.4 308.3 90.4 310.6 88.5 313 89.6Z" fill="#00ff3e"/>
<path d="M386.8 83.6 384.2 82.4 386.4 80.8 389 82.1Z" fill="#05ff00"/>
<path d="M251.4 110.9 249.1 109.8 251.5 107.7 253.8 108.8Z" fill="#00ffc8"/>
<path d="M270.4 103.6 268.1 102.6 270.4 100.6 272.8 101.6Z" fill="#00ff95"/>
<path d="M282.3 99.7 279.9 98.7 282.3 96.8 284.6 97.8Z" fill="#00ff7a"/>
<path d="M244.2 114.1 241.9 113 244.3 110.9 246.6 112Z" fill="#00ffde"/>
<path d="M382 83.9 379.5 82.6 381.7 81.1 384.2 82.4Z" fill="#03ff00"/>
<path d="M217.8 123 215.5 121.9 218 120.1 220.3 121.2Z" fill="#00e4ff"/>
<path d="M315.4 90.6 313 89.6 315.3 87.7 317.7 88.7Z" fill="#00ff37"/>
<path d="M237 117.1 234.7 116 237.2 113.9 239.4 115Z" fill="#00fff2"/>
<path d="M298.9 95.1 296.5 94.1 298.8 92.2 301.2 93.2Z" fill="#00ff58"/>
<path d="M263.3 106.7 260.9 105.7 263.3 103.6 265.7 104.6Z" fill="#00ffaa"/>
<path d="M377.3 84.2 374.7 82.9 376.9 81.3 379.5 82.6Z" fill="#00ff00"/>
<path d="M210.5 125.6 208.3 124.5 210.8 122.6 213 123.7Z" fill="#00d4ff"/>
<path d="M229.8 119.8 227.5 118.7 230 116.8 232.2 117.9Z" fill="#00faff"/>
<path d="M320.2 89.8 317.7 88.7 320 86.9 322.5 88Z" fill="#00ff30"/>
<path d="M287 98.7 284.6 97.8 287 95.9 289.4 96.9Z" fill="#00ff72"/>
<path d="M275.1 102.6 272.8 101.6 275.2 99.6 277.5 100.6Z" fill="#00ff8d"/>
<path d="M372.5 84.5 370 83.2 372.2 81.6 374.7 82.9Z" fill="#00ff02"/>
<path d="M256.1 109.8 253.8 108.8 256.2 106.7 258.5 107.7Z" fill="#00ffbf"/>
<path d="M203.2 128.2 201 127.1 203.5 125.2 205.7 126.4Z" fill="#00c3ff"/>
<path d="M303.6 94.2 301.2 93.2 303.5 91.3 305.9 92.3Z" fill="#00ff50"/>
<path d="M367.8 84.8 365.2 83.6 367.4 82 370 83.2Z" fill="#00ff05"/>
<path d="M324.9 89 322.5 88 324.8 86.2 327.2 87.2Z" fill="#00ff29"/>
<path d="M248.9 113 246.6 112 249.1 109.8 251.4 110.9Z" fill="#00ffd5"/>
<path d="M222.5 122.3 220.3 121.2 222.8 119.4 225 120.5Z" fill="#00eaff"/>
<path d="M363 85.1 360.5 83.9 362.7 82.3 365.2 83.6Z" fill="#00ff08"/>
<path d="M241.7 116.2 239.4 115 241.9 113 244.2 114.1Z" fill="#00ffea"/>
<path d="M329.7 88.3 327.2 87.2 329.5 85.5 332 86.6Z" fill="#00ff23"/>
<path d="M268 105.6 265.7 104.6 268.1 102.6 270.4 103.6Z" fill="#00ffa1"/>
<path d="M358.2 85.5 355.7 84.3 357.9 82.7 360.5 83.9Z" fill="#00ff0b"/>
<path d="M291.8 97.8 289.4 96.9 291.7 95 294.1 95.9Z" fill="#00ff6a"/>
<path d="M353.5 85.9 351 84.7 353.2 83.1 355.7 84.3Z" fill="#00ff0f"/>
<path d="M334.4 87.7 332 86.6 334.2 84.9 336.7 86Z" fill="#00ff1e"/>
<path d="M308.4 93.3 305.9 92.3 308.3 90.4 310.7 91.4Z" fill="#00ff49"/>
<path d="M348.7 86.3 346.2 85.1 348.5 83.5 351 84.7Z" fill="#00ff12"/>
<path d="M279.9 101.6 277.5 100.6 279.9 98.7 282.3 99.7Z" fill="#00ff85"/>
<path d="M339.2 87.2 336.7 86 339 84.4 341.5 85.6Z" fill="#00ff1a"/>
<path d="M234.5 119 232.2 117.9 234.7 116 237 117.1Z" fill="#00fffd"/>
<path d="M215.3 124.9 213 123.7 215.5 121.9 217.8 123Z" fill="#00daff"/>
<path d="M344 86.7 341.5 85.6 343.7 83.9 346.2 85.1Z" fill="#00ff16"/>
<path d="M260.9 108.8 258.5 107.7 260.9 105.7 263.3 106.7Z" fill="#00ffb6"/>
<path d="M208 127.5 205.7 126.4 208.3 124.5 210.5 125.6Z" fill="#00caff"/>
<path d="M313.1 92.5 310.7 91.4 313 89.6 315.4 90.6Z" fill="#00ff41"/>
<path d="M384.6 85.2 382 83.9 384.2 82.4 386.8 83.6Z" fill="#00ff03"/>
<path d="M227.3 121.7 225 120.5 227.5 118.7 229.8 119.8Z" fill="#00f0ff"/>
<path d="M296.5 97 294.1 95.9 296.5 94.1 298.9 95.1Z" fill="#00ff62"/>
<path d="M200.7 130.1 198.5 129 201 127.1 203.2 128.2Z" fill="#00b9ff"/>
<path d="M253.7 112 251.4 110.9 253.8 108.8 256.1 109.8Z" fill="#00ffcc"/>
<path d="M272.8 104.6 270.4 103.6 272.8 101.6 275.1 102.6Z" fill="#00ff98"/>
<path d="M284.6 100.7 282.3 99.7 284.6 97.8 287 98.7Z" fill="#00ff7d"/>
<path d="M246.5 115.2 244.2 114.1 246.6 112 248.9 113Z" fill="#00ffe1"/>
<path d="M379.8 85.4 377.3 84.2 379.5 82.6 382 83.9Z" fill="#00ff05"/>
<path d="M317.9 91.7 315.4 90.6 317.7 88.7 320.2 89.8Z" fill="#00ff3a"/>
<path d="M220 124.1 217.8 123 220.3 121.2 222.5 122.3Z" fill="#00e0ff"/>
<path d="M239.3 118.2 237 117.1 239.4 115 241.7 116.2Z" fill="#00fff6"/>
<path d="M301.3 96.1 298.9 95.1 301.2 93.2 303.6 94.2Z" fill="#00ff5b"/>
<path d="M375.1 85.7 372.5 84.5 374.7 82.9 377.3 84.2Z" fill="#00ff08"/>
<path d="M265.6 107.7 263.3 106.7 265.7 104.6 268 105.6Z" fill="#00ffad"/>
<path d="M322.6 90.8 320.2 89.8 322.5 88 324.9 89Z" fill="#00ff34"/>
<path d="M370.3 86 367.8 84.8 370 83.2 372.5 84.5Z" fill="#00ff0b"/>
<path d="M212.8 126.7 210.5 125.6 213 123.7 215.3 124.9Z" fill="#00d0ff"/>
<path d="M232.1 120.9 229.8 119.8 232.2 117.9 234.5 119Z" fill="#00f6ff"/>
<path d="M289.4 99.7 287 98.7 289.4 96.9 291.8 97.8Z" fill="#00ff75"/>
<path d="M277.5 103.6 275.1 102.6 277.5 100.6 279.9 101.6Z" fill="#00ff90"/>
<path d="M365.5 86.4 363 85.1 365.2 83.6 367.8 84.8Z" fill="#00ff0e"/>
<path d="M258.4 110.9 256.1 109.8 258.5 107.7 260.9 108.8Z" fill="#00ffc2"/>
<path d="M306 95.3 303.6 94.2 305.9 92.3 308.4 93.3Z" fill="#00ff54"/>
<path d="M327.4 90.1 324.9 89 327.2 87.2 329.7 88.3Z" fill="#00ff2d"/>
<path d="M205.5 129.4 203.2 128.2 205.7 126.4 208 127.5Z" fill="#00bfff"/>
<path d="M360.8 86.7 358.2 85.5 360.5 83.9 363 85.1Z" fill="#00ff11"/>
<path d="M251.3 114.1 248.9 113 251.4 110.9 253.7 112Z" fill="#00ffd8"/>
<path d="M332.2 89.4 329.7 88.3 332 86.6 334.4 87.7Z" fill="#00ff28"/>
<path d="M224.8 123.5 222.5 122.3 225 120.5 227.3 121.7Z" fill="#00e6ff"/>
<path d="M356 87.1 353.5 85.9 355.7 84.3 358.2 85.5Z" fill="#00ff14"/>
<path d="M351.2 87.5 348.7 86.3 351 84.7 353.5 85.9Z" fill="#00ff17"/>
<path d="M336.9 88.8 334.4 87.7 336.7 86 339.2 87.2Z" fill="#00ff23"/>
<path d="M346.5 87.9 344 86.7 346.2 85.1 348.7 86.3Z" fill="#00ff1b"/>
<path d="M244.1 117.3 241.7 116.2 244.2 114.1 246.5 115.2Z" fill="#00ffee"/>
<path d="M341.7 88.4 339.2 87.2 341.5 85.6 344 86.7Z" fill="#00ff1f"/>
<path d="M294.2 98.9 291.8 97.8 294.1 95.9 296.5 97Z" fill="#00ff6d"/>
<path d="M310.8 94.4 308.4 93.3 310.7 91.4 313.1 92.5Z" fill="#00ff4c"/>
<path d="M270.4 106.7 268 105.6 270.4 103.6 272.8 104.6Z" fill="#00ffa4"/>
<path d="M282.3 102.6 279.9 101.6 282.3 99.7 284.6 100.7Z" fill="#00ff88"/>
<path d="M236.8 120.2 234.5 119 237 117.1 239.3 118.2Z" fill="#00fdff"/>
<path d="M217.5 126 215.3 124.9 217.8 123 220 124.1Z" fill="#00d6ff"/>
<path d="M263.2 109.8 260.9 108.8 263.3 106.7 265.6 107.7Z" fill="#00ffb9"/>
<path d="M315.6 93.5 313.1 92.5 315.4 90.6 317.9 91.7Z" fill="#00ff45"/>
<path d="M382.4 86.7 379.8 85.4 382 83.9 384.6 85.2Z" fill="#00ff0b"/>
<path d="M298.9 98 296.5 97 298.9 95.1 301.3 96.1Z" fill="#00ff66"/>
<path d="M210.2 128.6 208 127.5 210.5 125.6 212.8 126.7Z" fill="#00c6ff"/>
<path d="M229.6 122.8 227.3 121.7 229.8 119.8 232.1 120.9Z" fill="#00ecff"/>
<path d="M256 113 253.7 112 256.1 109.8 258.4 110.9Z" fill="#00ffcf"/>
<path d="M202.9 131.3 200.7 130.1 203.2 128.2 205.5 129.4Z" fill="#00b5ff"/>
<path d="M377.6 87 375.1 85.7 377.3 84.2 379.8 85.4Z" fill="#00ff0e"/>
<path d="M275.1 105.6 272.8 104.6 275.1 102.6 277.5 103.6Z" fill="#00ff9b"/>
<path d="M320.3 92.7 317.9 91.7 320.2 89.8 322.6 90.8Z" fill="#00ff3e"/>
<path d="M287 101.7 284.6 100.7 287 98.7 289.4 99.7Z" fill="#00ff80"/>
<path d="M248.8 116.3 246.5 115.2 248.9 113 251.3 114.1Z" fill="#00ffe5"/>
<path d="M372.9 87.3 370.3 86 372.5 84.5 375.1 85.7Z" fill="#00ff10"/>
<path d="M303.7 97.2 301.3 96.1 303.6 94.2 306 95.3Z" fill="#00ff5f"/>
<path d="M222.3 125.3 220 124.1 222.5 122.3 224.8 123.5Z" fill="#00dcff"/>
<path d="M241.6 119.3 239.3 118.2 241.7 116.2 244.1 117.3Z" fill="#00fff9"/>
<path d="M325.1 91.9 322.6 90.8 324.9 89 327.4 90.1Z" fill="#00ff38"/>
<path d="M368.1 87.6 365.5 86.4 367.8 84.8 370.3 86Z" fill="#00ff13"/>
<path d="M268 108.7 265.6 107.7 268 105.6 270.4 106.7Z" fill="#00ffb1"/>
<path d="M363.3 88 360.8 86.7 363 85.1 365.5 86.4Z" fill="#00ff16"/>
<path d="M234.4 122.1 232.1 120.9 234.5 119 236.8 120.2Z" fill="#00f2ff"/>
<path d="M329.9 91.2 327.4 90.1 329.7 88.3 332.2 89.4Z" fill="#00ff31"/>
<path d="M291.8 100.8 289.4 99.7 291.8 97.8 294.2 98.9Z" fill="#00ff78"/>
<path d="M215 127.9 212.8 126.7 215.3 124.9 217.5 126Z" fill="#00ccff"/>
<path d="M308.5 96.3 306 95.3 308.4 93.3 310.8 94.4Z" fill="#00ff57"/>
<path d="M358.5 88.3 356 87.1 358.2 85.5 360.8 86.7Z" fill="#00ff19"/>
<path d="M279.9 104.6 277.5 103.6 279.9 101.6 282.3 102.6Z" fill="#00ff93"/>
<path d="M260.8 111.9 258.4 110.9 260.9 108.8 263.2 109.8Z" fill="#00ffc6"/>
<path d="M334.6 90.6 332.2 89.4 334.4 87.7 336.9 88.8Z" fill="#00ff2c"/>
<path d="M353.7 88.7 351.2 87.5 353.5 85.9 356 87.1Z" fill="#00ff1c"/>
<path d="M207.7 130.5 205.5 129.4 208 127.5 210.2 128.6Z" fill="#00bcff"/>
<path d="M339.4 90 336.9 88.8 339.2 87.2 341.7 88.4Z" fill="#00ff28"/>
<path d="M349 89.1 346.5 87.9 348.7 86.3 351.2 87.5Z" fill="#00ff20"/>
<path d="M344.2 89.5 341.7 88.4 344 86.7 346.5 87.9Z" fill="#00ff24"/>
<path d="M253.6 115.2 251.3 114.1 253.7 112 256 113Z" fill="#00ffdc"/>
<path d="M227.1 124.6 224.8 123.5 227.3 121.7 229.6 122.8Z" fill="#00e2ff"/>
<path d="M313.2 95.4 310.8 94.4 313.1 92.5 315.6 93.5Z" fill="#00ff50"/>
<path d="M246.4 118.4 244.1 117.3 246.5 115.2 248.8 116.3Z" fill="#00fff1"/>
<path d="M296.6 99.9 294.2 98.9 296.5 97 298.9 98Z" fill="#00ff71"/>
<path d="M272.7 107.7 270.4 106.7 272.8 104.6 275.1 105.6Z" fill="#00ffa8"/>
<path d="M284.7 103.6 282.3 102.6 284.6 100.7 287 101.7Z" fill="#00ff8b"/>
<path d="M239.1 121.3 236.8 120.2 239.3 118.2 241.6 119.3Z" fill="#00f9ff"/>
<path d="M219.8 127.1 217.5 126 220 124.1 222.3 125.3Z" fill="#00d2ff"/>
<path d="M380.2 88.3 377.6 87 379.8 85.4 382.4 86.7Z" fill="#00ff13"/>
<path d="M318 94.6 315.6 93.5 317.9 91.7 320.3 92.7Z" fill="#00ff49"/>
<path d="M265.6 110.8 263.2 109.8 265.6 107.7 268 108.7Z" fill="#00ffbd"/>
<path d="M301.3 99.1 298.9 98 301.3 96.1 303.7 97.2Z" fill="#00ff6a"/>
<path d="M212.5 129.8 210.2 128.6 212.8 126.7 215 127.9Z" fill="#00c2ff"/>
<path d="M231.9 123.9 229.6 122.8 232.1 120.9 234.4 122.1Z" fill="#00e8ff"/>
<path d="M375.4 88.6 372.9 87.3 375.1 85.7 377.6 87Z" fill="#00ff16"/>
<path d="M322.8 93.8 320.3 92.7 322.6 90.8 325.1 91.9Z" fill="#00ff42"/>
<path d="M258.4 114.1 256 113 258.4 110.9 260.8 111.9Z" fill="#00ffd2"/>
<path d="M205.2 132.4 202.9 131.3 205.5 129.4 207.7 130.5Z" fill="#00b1ff"/>
<path d="M289.4 102.7 287 101.7 289.4 99.7 291.8 100.8Z" fill="#00ff83"/>
<path d="M277.5 106.6 275.1 105.6 277.5 103.6 279.9 104.6Z" fill="#00ff9f"/>
<path d="M370.6 88.9 368.1 87.6 370.3 86 372.9 87.3Z" fill="#00ff18"/>
<path d="M251.1 117.4 248.8 116.3 251.3 114.1 253.6 115.2Z" fill="#00ffe8"/>
<path d="M306.1 98.2 303.7 97.2 306 95.3 308.5 96.3Z" fill="#00ff62"/>
<path d="M327.6 93 325.1 91.9 327.4 90.1 329.9 91.2Z" fill="#00ff3c"/>
<path d="M365.9 89.2 363.3 88 365.5 86.4 368.1 87.6Z" fill="#00ff1b"/>
<path d="M243.9 120.4 241.6 119.3 244.1 117.3 246.4 118.4Z" fill="#00fffd"/>
<path d="M224.6 126.4 222.3 125.3 224.8 123.5 227.1 124.6Z" fill="#00d8ff"/>
<path d="M361.1 89.5 358.5 88.3 360.8 86.7 363.3 88Z" fill="#00ff1e"/>
<path d="M332.4 92.3 329.9 91.2 332.2 89.4 334.6 90.6Z" fill="#00ff36"/>
<path d="M270.3 109.8 268 108.7 270.4 106.7 272.7 107.7Z" fill="#00ffb4"/>
<path d="M356.3 89.9 353.7 88.7 356 87.1 358.5 88.3Z" fill="#00ff21"/>
<path d="M294.2 101.8 291.8 100.8 294.2 98.9 296.6 99.9Z" fill="#00ff7c"/>
<path d="M337.1 91.7 334.6 90.6 336.9 88.8 339.4 90Z" fill="#00ff31"/>
<path d="M236.7 123.2 234.4 122.1 236.8 120.2 239.1 121.3Z" fill="#00eeff"/>
<path d="M310.9 97.4 308.5 96.3 310.8 94.4 313.2 95.4Z" fill="#00ff5b"/>
<path d="M351.5 90.3 349 89.1 351.2 87.5 353.7 88.7Z" fill="#00ff25"/>
<path d="M341.9 91.2 339.4 90 341.7 88.4 344.2 89.5Z" fill="#00ff2c"/>
<path d="M346.7 90.7 344.2 89.5 346.5 87.9 349 89.1Z" fill="#00ff28"/>
<path d="M217.3 129 215 127.9 217.5 126 219.8 127.1Z" fill="#00c8ff"/>
<path d="M282.3 105.6 279.9 104.6 282.3 102.6 284.7 103.6Z" fill="#00ff96"/>
<path d="M263.1 113 260.8 111.9 263.2 109.8 265.6 110.8Z" fill="#00ffc9"/>
<path d="M210 131.7 207.7 130.5 210.2 128.6 212.5 129.8Z" fill="#00b8ff"/>
<path d="M255.9 116.3 253.6 115.2 256 113 258.4 114.1Z" fill="#00ffdf"/>
<path d="M315.7 96.5 313.2 95.4 315.6 93.5 318 94.6Z" fill="#00ff54"/>
<path d="M229.4 125.8 227.1 124.6 229.6 122.8 231.9 123.9Z" fill="#00deff"/>
<path d="M299 101 296.6 99.9 298.9 98 301.3 99.1Z" fill="#00ff74"/>
<path d="M248.7 119.5 246.4 118.4 248.8 116.3 251.1 117.4Z" fill="#00fff5"/>
<path d="M275.1 108.7 272.7 107.7 275.1 105.6 277.5 106.6Z" fill="#00ffab"/>
<path d="M287.1 104.6 284.7 103.6 287 101.7 289.4 102.7Z" fill="#00ff8e"/>
<path d="M241.5 122.4 239.1 121.3 241.6 119.3 243.9 120.4Z" fill="#00f5ff"/>
<path d="M320.5 95.7 318 94.6 320.3 92.7 322.8 93.8Z" fill="#00ff4d"/>
<path d="M378 89.8 375.4 88.6 377.6 87 380.2 88.3Z" fill="#00ff1b"/>
<path d="M222.1 128.3 219.8 127.1 222.3 125.3 224.6 126.4Z" fill="#00cfff"/>
<path d="M303.8 100.1 301.3 99.1 303.7 97.2 306.1 98.2Z" fill="#00ff6d"/>
<path d="M267.9 111.9 265.6 110.8 268 108.7 270.3 109.8Z" fill="#00ffc0"/>
<path d="M373.2 90.1 370.6 88.9 372.9 87.3 375.4 88.6Z" fill="#00ff1e"/>
<path d="M325.3 94.9 322.8 93.8 325.1 91.9 327.6 93Z" fill="#00ff46"/>
<path d="M234.2 125.1 231.9 123.9 234.4 122.1 236.7 123.2Z" fill="#00e4ff"/>
<path d="M214.8 130.9 212.5 129.8 215 127.9 217.3 129Z" fill="#00beff"/>
<path d="M368.4 90.4 365.9 89.2 368.1 87.6 370.6 88.9Z" fill="#00ff21"/>
<path d="M260.7 115.2 258.4 114.1 260.8 111.9 263.1 113Z" fill="#00ffd6"/>
<path d="M291.8 103.8 289.4 102.7 291.8 100.8 294.2 101.8Z" fill="#00ff87"/>
<path d="M330.1 94.2 327.6 93 329.9 91.2 332.4 92.3Z" fill="#00ff40"/>
<path d="M279.9 107.6 277.5 106.6 279.9 104.6 282.3 105.6Z" fill="#00ffa2"/>
<path d="M308.6 99.3 306.1 98.2 308.5 96.3 310.9 97.4Z" fill="#00ff66"/>
<path d="M207.4 133.6 205.2 132.4 207.7 130.5 210 131.7Z" fill="#00aeff"/>
<path d="M253.5 118.5 251.1 117.4 253.6 115.2 255.9 116.3Z" fill="#00ffec"/>
<path d="M363.6 90.8 361.1 89.5 363.3 88 365.9 89.2Z" fill="#00ff23"/>
<path d="M358.8 91.1 356.3 89.9 358.5 88.3 361.1 89.5Z" fill="#00ff26"/>
<path d="M334.8 93.5 332.4 92.3 334.6 90.6 337.1 91.7Z" fill="#00ff3a"/>
<path d="M246.2 121.6 243.9 120.4 246.4 118.4 248.7 119.5Z" fill="#00fdff"/>
<path d="M226.9 127.6 224.6 126.4 227.1 124.6 229.4 125.8Z" fill="#00d4ff"/>
<path d="M354 91.5 351.5 90.3 353.7 88.7 356.3 89.9Z" fill="#00ff2a"/>
<path d="M339.6 92.9 337.1 91.7 339.4 90 341.9 91.2Z" fill="#00ff35"/>
<path d="M349.2 91.9 346.7 90.7 349 89.1 351.5 90.3Z" fill="#00ff2d"/>
<path d="M344.4 92.3 341.9 91.2 344.2 89.5 346.7 90.7Z" fill="#00ff31"/>
<path d="M272.7 110.8 270.3 109.8 272.7 107.7 275.1 108.7Z" fill="#00ffb7"/>
<path d="M313.4 98.4 310.9 97.4 313.2 95.4 315.7 96.5Z" fill="#00ff5f"/>
<path d="M296.6 102.9 294.2 101.8 296.6 99.9 299 101Z" fill="#00ff7f"/>
<path d="M239 124.4 236.7 123.2 239.1 121.3 241.5 122.4Z" fill="#00eaff"/>
<path d="M219.6 130.2 217.3 129 219.8 127.1 222.1 128.3Z" fill="#00c5ff"/>
<path d="M284.7 106.6 282.3 105.6 284.7 103.6 287.1 104.6Z" fill="#00ff99"/>
<path d="M265.5 114 263.1 113 265.6 110.8 267.9 111.9Z" fill="#00ffcc"/>
<path d="M318.1 97.6 315.7 96.5 318 94.6 320.5 95.7Z" fill="#00ff58"/>
<path d="M212.2 132.8 210 131.7 212.5 129.8 214.8 130.9Z" fill="#00b4ff"/>
<path d="M258.3 117.4 255.9 116.3 258.4 114.1 260.7 115.2Z" fill="#00ffe3"/>
<path d="M301.4 102.1 299 101 301.3 99.1 303.8 100.1Z" fill="#00ff78"/>
<path d="M231.7 126.9 229.4 125.8 231.9 123.9 234.2 125.1Z" fill="#00daff"/>
<path d="M251 120.6 248.7 119.5 251.1 117.4 253.5 118.5Z" fill="#00fff9"/>
<path d="M277.5 109.7 275.1 108.7 277.5 106.6 279.9 107.6Z" fill="#00ffae"/>
<path d="M322.9 96.8 320.5 95.7 322.8 93.8 325.3 94.9Z" fill="#00ff51"/>
<path d="M375.8 91.4 373.2 90.1 375.4 88.6 378 89.8Z" fill="#00ff23"/>
<path d="M289.5 105.7 287.1 104.6 289.4 102.7 291.8 103.8Z" fill="#00ff92"/>
<path d="M243.8 123.6 241.5 122.4 243.9 120.4 246.2 121.6Z" fill="#00f2ff"/>
<path d="M306.2 101.2 303.8 100.1 306.1 98.2 308.6 99.3Z" fill="#00ff71"/>
<path d="M224.4 129.4 222.1 128.3 224.6 126.4 226.9 127.6Z" fill="#00cbff"/>
<path d="M371 91.7 368.4 90.4 370.6 88.9 373.2 90.1Z" fill="#00ff26"/>
<path d="M327.7 96 325.3 94.9 327.6 93 330.1 94.2Z" fill="#00ff4a"/>
<path d="M270.3 112.9 267.9 111.9 270.3 109.8 272.7 110.8Z" fill="#00ffc3"/>
<path d="M366.2 92 363.6 90.8 365.9 89.2 368.4 90.4Z" fill="#00ff29"/>
<path d="M236.5 126.2 234.2 125.1 236.7 123.2 239 124.4Z" fill="#00e0ff"/>
<path d="M332.5 95.3 330.1 94.2 332.4 92.3 334.8 93.5Z" fill="#00ff44"/>
<path d="M217.1 132.1 214.8 130.9 217.3 129 219.6 130.2Z" fill="#00bbff"/>
<path d="M294.3 104.8 291.8 103.8 294.2 101.8 296.6 102.9Z" fill="#00ff8a"/>
<path d="M361.4 92.3 358.8 91.1 361.1 89.5 363.6 90.8Z" fill="#00ff2c"/>
<path d="M263.1 116.2 260.7 115.2 263.1 113 265.5 114Z" fill="#00ffd9"/>
<path d="M311 100.4 308.6 99.3 310.9 97.4 313.4 98.4Z" fill="#00ff6a"/>
<path d="M337.3 94.6 334.8 93.5 337.1 91.7 339.6 92.9Z" fill="#00ff3f"/>
<path d="M282.3 108.7 279.9 107.6 282.3 105.6 284.7 106.6Z" fill="#00ffa5"/>
<path d="M356.6 92.7 354 91.5 356.3 89.9 358.8 91.1Z" fill="#00ff2f"/>
<path d="M255.8 119.6 253.5 118.5 255.9 116.3 258.3 117.4Z" fill="#00fff0"/>
<path d="M209.7 134.7 207.4 133.6 210 131.7 212.2 132.8Z" fill="#00aaff"/>
<path d="M351.8 93.1 349.2 91.9 351.5 90.3 354 91.5Z" fill="#00ff32"/>
<path d="M342.2 94 339.6 92.9 341.9 91.2 344.4 92.3Z" fill="#00ff3a"/>
<path d="M347 93.5 344.4 92.3 346.7 90.7 349.2 91.9Z" fill="#00ff36"/>
<path d="M248.6 122.7 246.2 121.6 248.7 119.5 251 120.6Z" fill="#00f9ff"/>
<path d="M229.2 128.8 226.9 127.6 229.4 125.8 231.7 126.9Z" fill="#00d0ff"/>
<path d="M315.8 99.5 313.4 98.4 315.7 96.5 318.1 97.6Z" fill="#00ff63"/>
<path d="M299.1 104 296.6 102.9 299 101 301.4 102.1Z" fill="#00ff83"/>
<path d="M275.1 111.9 272.7 110.8 275.1 108.7 277.5 109.7Z" fill="#00ffba"/>
<path d="M241.3 125.5 239 124.4 241.5 122.4 243.8 123.6Z" fill="#00e7ff"/>
<path d="M287.1 107.7 284.7 106.6 287.1 104.6 289.5 105.7Z" fill="#00ff9d"/>
<path d="M221.9 131.3 219.6 130.2 222.1 128.3 224.4 129.4Z" fill="#00c1ff"/>
<path d="M320.6 98.7 318.1 97.6 320.5 95.7 322.9 96.8Z" fill="#00ff5b"/>
<path d="M267.9 115.1 265.5 114 267.9 111.9 270.3 112.9Z" fill="#00ffd0"/>
<path d="M303.9 103.1 301.4 102.1 303.8 100.1 306.2 101.2Z" fill="#00ff7c"/>
<path d="M260.6 118.5 258.3 117.4 260.7 115.2 263.1 116.2Z" fill="#00ffe6"/>
<path d="M214.5 134 212.2 132.8 214.8 130.9 217.1 132.1Z" fill="#00b0ff"/>
<path d="M234 128.1 231.7 126.9 234.2 125.1 236.5 126.2Z" fill="#00d6ff"/>
<path d="M325.4 97.9 322.9 96.8 325.3 94.9 327.7 96Z" fill="#00ff55"/>
<path d="M253.4 121.7 251 120.6 253.5 118.5 255.8 119.6Z" fill="#00fffc"/>
<path d="M373.6 92.9 371 91.7 373.2 90.1 375.8 91.4Z" fill="#00ff2b"/>
<path d="M279.9 110.8 277.5 109.7 279.9 107.6 282.3 108.7Z" fill="#00ffb1"/>
<path d="M291.9 106.8 289.5 105.7 291.8 103.8 294.3 104.8Z" fill="#00ff95"/>
<path d="M308.7 102.3 306.2 101.2 308.6 99.3 311 100.4Z" fill="#00ff75"/>
<path d="M368.7 93.2 366.2 92 368.4 90.4 371 91.7Z" fill="#00ff2e"/>
<path d="M246.1 124.7 243.8 123.6 246.2 121.6 248.6 122.7Z" fill="#00eeff"/>
<path d="M330.2 97.1 327.7 96 330.1 94.2 332.5 95.3Z" fill="#00ff4e"/>
<path d="M226.7 130.6 224.4 129.4 226.9 127.6 229.2 128.8Z" fill="#00c7ff"/>
<path d="M363.9 93.5 361.4 92.3 363.6 90.8 366.2 92Z" fill="#00ff31"/>
<path d="M335 96.4 332.5 95.3 334.8 93.5 337.3 94.6Z" fill="#00ff49"/>
<path d="M272.7 114 270.3 112.9 272.7 110.8 275.1 111.9Z" fill="#00ffc7"/>
<path d="M359.1 93.9 356.6 92.7 358.8 91.1 361.4 92.3Z" fill="#00ff34"/>
<path d="M339.9 95.8 337.3 94.6 339.6 92.9 342.2 94Z" fill="#00ff43"/>
<path d="M238.8 127.4 236.5 126.2 239 124.4 241.3 125.5Z" fill="#00dcff"/>
<path d="M296.7 105.9 294.3 104.8 296.6 102.9 299.1 104Z" fill="#00ff8e"/>
<path d="M354.3 94.3 351.8 93.1 354 91.5 356.6 92.7Z" fill="#00ff37"/>
<path d="M313.5 101.5 311 100.4 313.4 98.4 315.8 99.5Z" fill="#00ff6e"/>
<path d="M344.7 95.2 342.2 94 344.4 92.3 347 93.5Z" fill="#00ff3e"/>
<path d="M219.3 133.2 217.1 132.1 219.6 130.2 221.9 131.3Z" fill="#00b7ff"/>
<path d="M349.5 94.7 347 93.5 349.2 91.9 351.8 93.1Z" fill="#00ff3a"/>
<path d="M265.4 117.3 263.1 116.2 265.5 114 267.9 115.1Z" fill="#00ffdd"/>
<path d="M284.7 109.8 282.3 108.7 284.7 106.6 287.1 107.7Z" fill="#00ffa9"/>
<path d="M258.2 120.7 255.8 119.6 258.3 117.4 260.6 118.5Z" fill="#00fff3"/>
<path d="M212 135.9 209.7 134.7 212.2 132.8 214.5 134Z" fill="#00a6ff"/>
<path d="M250.9 123.8 248.6 122.7 251 120.6 253.4 121.7Z" fill="#00f6ff"/>
<path d="M318.3 100.6 315.8 99.5 318.1 97.6 320.6 98.7Z" fill="#00ff66"/>
<path d="M231.5 129.9 229.2 128.8 231.7 126.9 234 128.1Z" fill="#00cdff"/>
<path d="M301.5 105.1 299.1 104 301.4 102.1 303.9 103.1Z" fill="#00ff87"/>
<path d="M277.5 113 275.1 111.9 277.5 109.7 279.9 110.8Z" fill="#00ffbe"/>
<path d="M243.6 126.7 241.3 125.5 243.8 123.6 246.1 124.7Z" fill="#00e3ff"/>
<path d="M323.1 99.8 320.6 98.7 322.9 96.8 325.4 97.9Z" fill="#00ff60"/>
<path d="M289.5 108.8 287.1 107.7 289.5 105.7 291.9 106.8Z" fill="#00ffa0"/>
<path d="M224.2 132.5 221.9 131.3 224.4 129.4 226.7 130.6Z" fill="#00bdff"/>
<path d="M270.2 116.2 267.9 115.1 270.3 112.9 272.7 114Z" fill="#00ffd3"/>
<path d="M306.3 104.2 303.9 103.1 306.2 101.2 308.7 102.3Z" fill="#00ff80"/>
<path d="M327.9 99 325.4 97.9 327.7 96 330.2 97.1Z" fill="#00ff59"/>
<path d="M263 119.6 260.6 118.5 263.1 116.2 265.4 117.3Z" fill="#00ffea"/>
<path d="M216.8 135.1 214.5 134 217.1 132.1 219.3 133.2Z" fill="#00adff"/>
<path d="M371.3 94.5 368.7 93.2 371 91.7 373.6 92.9Z" fill="#00ff33"/>
<path d="M236.3 129.2 234 128.1 236.5 126.2 238.8 127.4Z" fill="#00d2ff"/>
<path d="M255.7 122.8 253.4 121.7 255.8 119.6 258.2 120.7Z" fill="#00feff"/>
<path d="M282.3 111.9 279.9 110.8 282.3 108.7 284.7 109.8Z" fill="#00ffb5"/>
<path d="M294.3 107.9 291.9 106.8 294.3 104.8 296.7 105.9Z" fill="#00ff99"/>
<path d="M332.7 98.3 330.2 97.1 332.5 95.3 335 96.4Z" fill="#00ff53"/>
<path d="M366.5 94.8 363.9 93.5 366.2 92 368.7 93.2Z" fill="#00ff36"/>
<path d="M311.1 103.4 308.7 102.3 311 100.4 313.5 101.5Z" fill="#00ff78"/>
<path d="M248.5 125.8 246.1 124.7 248.6 122.7 250.9 123.8Z" fill="#00eaff"/>
<path d="M361.7 95.1 359.1 93.9 361.4 92.3 363.9 93.5Z" fill="#00ff39"/>
<path d="M337.6 97.6 335 96.4 337.3 94.6 339.9 95.8Z" fill="#00ff4d"/>
<path d="M229 131.8 226.7 130.6 229.2 128.8 231.5 129.9Z" fill="#00c3ff"/>
<path d="M356.9 95.5 354.3 94.3 356.6 92.7 359.1 93.9Z" fill="#00ff3c"/>
<path d="M342.4 96.9 339.9 95.8 342.2 94 344.7 95.2Z" fill="#00ff48"/>
<path d="M275.1 115.1 272.7 114 275.1 111.9 277.5 113Z" fill="#00ffca"/>
<path d="M352 95.9 349.5 94.7 351.8 93.1 354.3 94.3Z" fill="#00ff3f"/>
<path d="M347.2 96.4 344.7 95.2 347 93.5 349.5 94.7Z" fill="#00ff43"/>
<path d="M315.9 102.6 313.5 101.5 315.8 99.5 318.3 100.6Z" fill="#00ff71"/>
<path d="M299.1 107 296.7 105.9 299.1 104 301.5 105.1Z" fill="#00ff92"/>
<path d="M241.2 128.5 238.8 127.4 241.3 125.5 243.6 126.7Z" fill="#00d8ff"/>
<path d="M267.8 118.4 265.4 117.3 267.9 115.1 270.2 116.2Z" fill="#00ffe0"/>
<path d="M221.6 134.4 219.3 133.2 221.9 131.3 224.2 132.5Z" fill="#00b3ff"/>
<path d="M287.1 110.9 284.7 109.8 287.1 107.7 289.5 108.8Z" fill="#00ffac"/>
<path d="M260.6 121.8 258.2 120.7 260.6 118.5 263 119.6Z" fill="#00fff7"/>
<path d="M320.8 101.8 318.3 100.6 320.6 98.7 323.1 99.8Z" fill="#00ff6b"/>
<path d="M214.3 137 212 135.9 214.5 134 216.8 135.1Z" fill="#00a3ff"/>
<path d="M253.3 125 250.9 123.8 253.4 121.7 255.7 122.8Z" fill="#00f2ff"/>
<path d="M303.9 106.2 301.5 105.1 303.9 103.1 306.3 104.2Z" fill="#00ff8a"/>
<path d="M233.8 131.1 231.5 129.9 234 128.1 236.3 129.2Z" fill="#00c9ff"/>
<path d="M279.9 114.1 277.5 113 279.9 110.8 282.3 111.9Z" fill="#00ffc1"/>
<path d="M325.6 101 323.1 99.8 325.4 97.9 327.9 99Z" fill="#00ff64"/>
<path d="M291.9 109.9 289.5 108.8 291.9 106.8 294.3 107.9Z" fill="#00ffa4"/>
<path d="M246 127.8 243.6 126.7 246.1 124.7 248.5 125.8Z" fill="#00dfff"/>
<path d="M308.8 105.3 306.3 104.2 308.7 102.3 311.1 103.4Z" fill="#00ff83"/>
<path d="M226.5 133.7 224.2 132.5 226.7 130.6 229 131.8Z" fill="#00b9ff"/>
<path d="M330.4 100.2 327.9 99 330.2 97.1 332.7 98.3Z" fill="#00ff5d"/>
<path d="M272.6 117.3 270.2 116.2 272.7 114 275.1 115.1Z" fill="#00ffd7"/>
<path d="M369.1 96 366.5 94.8 368.7 93.2 371.3 94.5Z" fill="#00ff3b"/>
<path d="M265.4 120.7 263 119.6 265.4 117.3 267.8 118.4Z" fill="#00ffed"/>
<path d="M335.3 99.4 332.7 98.3 335 96.4 337.6 97.6Z" fill="#00ff57"/>
<path d="M238.7 130.4 236.3 129.2 238.8 127.4 241.2 128.5Z" fill="#00cfff"/>
<path d="M219.1 136.3 216.8 135.1 219.3 133.2 221.6 134.4Z" fill="#00a9ff"/>
<path d="M364.3 96.3 361.7 95.1 363.9 93.5 366.5 94.8Z" fill="#00ff3e"/>
<path d="M258.1 124 255.7 122.8 258.2 120.7 260.6 121.8Z" fill="#00fbff"/>
<path d="M296.7 109 294.3 107.9 296.7 105.9 299.1 107Z" fill="#00ff9d"/>
<path d="M284.7 113 282.3 111.9 284.7 109.8 287.1 110.9Z" fill="#00ffb8"/>
<path d="M313.6 104.5 311.1 103.4 313.5 101.5 315.9 102.6Z" fill="#00ff7c"/>
<path d="M340.1 98.7 337.6 97.6 339.9 95.8 342.4 96.9Z" fill="#00ff51"/>
<path d="M359.4 96.7 356.9 95.5 359.1 93.9 361.7 95.1Z" fill="#00ff41"/>
<path d="M344.9 98.1 342.4 96.9 344.7 95.2 347.2 96.4Z" fill="#00ff4c"/>
<path d="M354.6 97.1 352 95.9 354.3 94.3 356.9 95.5Z" fill="#00ff44"/>
<path d="M250.8 127 248.5 125.8 250.9 123.8 253.3 125Z" fill="#00e6ff"/>
<path d="M349.8 97.5 347.2 96.4 349.5 94.7 352 95.9Z" fill="#00ff48"/>
<path d="M231.3 132.9 229 131.8 231.5 129.9 233.8 131.1Z" fill="#00bfff"/>
<path d="M318.4 103.7 315.9 102.6 318.3 100.6 320.8 101.8Z" fill="#00ff76"/>
<path d="M277.5 116.2 275.1 115.1 277.5 113 279.9 114.1Z" fill="#00ffce"/>
<path d="M301.6 108.1 299.1 107 301.5 105.1 303.9 106.2Z" fill="#00ff95"/>
<path d="M243.5 129.7 241.2 128.5 243.6 126.7 246 127.8Z" fill="#00d5ff"/>
<path d="M289.5 112 287.1 110.9 289.5 108.8 291.9 109.9Z" fill="#00ffb0"/>
<path d="M270.2 119.5 267.8 118.4 270.2 116.2 272.6 117.3Z" fill="#00ffe4"/>
<path d="M223.9 135.6 221.6 134.4 224.2 132.5 226.5 133.7Z" fill="#00afff"/>
<path d="M323.3 102.9 320.8 101.8 323.1 99.8 325.6 101Z" fill="#00ff6f"/>
<path d="M262.9 122.9 260.6 121.8 263 119.6 265.4 120.7Z" fill="#00fffa"/>
<path d="M306.4 107.3 303.9 106.2 306.3 104.2 308.8 105.3Z" fill="#00ff8e"/>
<path d="M255.6 126.1 253.3 125 255.7 122.8 258.1 124Z" fill="#00eeff"/>
<path d="M216.6 138.2 214.3 137 216.8 135.1 219.1 136.3Z" fill="#009fff"/>
<path d="M328.1 102.1 325.6 101 327.9 99 330.4 100.2Z" fill="#00ff68"/>
<path d="M236.2 132.2 233.8 131.1 236.3 129.2 238.7 130.4Z" fill="#00c5ff"/>
<path d="M282.3 115.2 279.9 114.1 282.3 111.9 284.7 113Z" fill="#00ffc5"/>
<path d="M294.4 111 291.9 109.9 294.3 107.9 296.7 109Z" fill="#00ffa8"/>
<path d="M248.3 129 246 127.8 248.5 125.8 250.8 127Z" fill="#00dbff"/>
<path d="M332.9 101.3 330.4 100.2 332.7 98.3 335.3 99.4Z" fill="#00ff61"/>
<path d="M311.2 106.5 308.8 105.3 311.1 103.4 313.6 104.5Z" fill="#00ff87"/>
<path d="M275 118.4 272.6 117.3 275.1 115.1 277.5 116.2Z" fill="#00ffda"/>
<path d="M228.8 134.8 226.5 133.7 229 131.8 231.3 132.9Z" fill="#00b5ff"/>
<path d="M366.8 97.6 364.3 96.3 366.5 94.8 369.1 96Z" fill="#00ff43"/>
<path d="M337.8 100.6 335.3 99.4 337.6 97.6 340.1 98.7Z" fill="#00ff5b"/>
<path d="M362 97.9 359.4 96.7 361.7 95.1 364.3 96.3Z" fill="#00ff46"/>
<path d="M267.8 121.8 265.4 120.7 267.8 118.4 270.2 119.5Z" fill="#00fff1"/>
<path d="M342.6 99.9 340.1 98.7 342.4 96.9 344.9 98.1Z" fill="#00ff56"/>
<path d="M316.1 105.7 313.6 104.5 315.9 102.6 318.4 103.7Z" fill="#00ff80"/>
<path d="M241 131.6 238.7 130.4 241.2 128.5 243.5 129.7Z" fill="#00cbff"/>
<path d="M299.2 110.1 296.7 109 299.1 107 301.6 108.1Z" fill="#00ffa0"/>
<path d="M357.1 98.3 354.6 97.1 356.9 95.5 359.4 96.7Z" fill="#00ff49"/>
<path d="M287.1 114.2 284.7 113 287.1 110.9 289.5 112Z" fill="#00ffbc"/>
<path d="M260.5 125.1 258.1 124 260.6 121.8 262.9 122.9Z" fill="#00f7ff"/>
<path d="M347.5 99.3 344.9 98.1 347.2 96.4 349.8 97.5Z" fill="#00ff51"/>
<path d="M221.4 137.5 219.1 136.3 221.6 134.4 223.9 135.6Z" fill="#00a5ff"/>
<path d="M352.3 98.7 349.8 97.5 352 95.9 354.6 97.1Z" fill="#00ff4c"/>
<path d="M253.2 128.1 250.8 127 253.3 125 255.6 126.1Z" fill="#00e2ff"/>
<path d="M320.9 104.9 318.4 103.7 320.8 101.8 323.3 102.9Z" fill="#00ff7a"/>
<path d="M279.9 117.4 277.5 116.2 279.9 114.1 282.3 115.2Z" fill="#00ffd1"/>
<path d="M233.6 134.1 231.3 132.9 233.8 131.1 236.2 132.2Z" fill="#00bbff"/>
<path d="M304 109.2 301.6 108.1 303.9 106.2 306.4 107.3Z" fill="#00ff99"/>
<path d="M245.9 130.9 243.5 129.7 246 127.8 248.3 129Z" fill="#00d1ff"/>
<path d="M325.8 104.1 323.3 102.9 325.6 101 328.1 102.1Z" fill="#00ff73"/>
<path d="M292 113.1 289.5 112 291.9 109.9 294.4 111Z" fill="#00ffb4"/>
<path d="M272.6 120.7 270.2 119.5 272.6 117.3 275 118.4Z" fill="#00ffe7"/>
<path d="M226.3 136.7 223.9 135.6 226.5 133.7 228.8 134.8Z" fill="#00abff"/>
<path d="M265.3 124.1 262.9 122.9 265.4 120.7 267.8 121.8Z" fill="#00fffe"/>
<path d="M308.9 108.4 306.4 107.3 308.8 105.3 311.2 106.5Z" fill="#00ff92"/>
<path d="M330.6 103.2 328.1 102.1 330.4 100.2 332.9 101.3Z" fill="#00ff6c"/>
<path d="M258 127.3 255.6 126.1 258.1 124 260.5 125.1Z" fill="#00eaff"/>
<path d="M218.9 139.4 216.6 138.2 219.1 136.3 221.4 137.5Z" fill="#009bff"/>
<path d="M284.7 116.3 282.3 115.2 284.7 113 287.1 114.2Z" fill="#00ffc9"/>
<path d="M238.5 133.4 236.2 132.2 238.7 130.4 241 131.6Z" fill="#00c1ff"/>
<path d="M335.5 102.5 332.9 101.3 335.3 99.4 337.8 100.6Z" fill="#00ff66"/>
<path d="M296.8 112.1 294.4 111 296.7 109 299.2 110.1Z" fill="#00ffac"/>
<path d="M313.7 107.6 311.2 106.5 313.6 104.5 316.1 105.7Z" fill="#00ff8b"/>
<path d="M250.7 130.1 248.3 129 250.8 127 253.2 128.1Z" fill="#00d7ff"/>
<path d="M340.3 101.7 337.8 100.6 340.1 98.7 342.6 99.9Z" fill="#00ff60"/>
<path d="M364.6 99.1 362 97.9 364.3 96.3 366.8 97.6Z" fill="#00ff4b"/>
<path d="M277.5 119.6 275 118.4 277.5 116.2 279.9 117.4Z" fill="#00ffde"/>
<path d="M231.1 136 228.8 134.8 231.3 132.9 233.6 134.1Z" fill="#00b2ff"/>
<path d="M345.2 101 342.6 99.9 344.9 98.1 347.5 99.3Z" fill="#00ff5a"/>
<path d="M359.7 99.5 357.1 98.3 359.4 96.7 362 97.9Z" fill="#00ff4e"/>
<path d="M350 100.5 347.5 99.3 349.8 97.5 352.3 98.7Z" fill="#00ff55"/>
<path d="M354.9 99.9 352.3 98.7 354.6 97.1 357.1 98.3Z" fill="#00ff51"/>
<path d="M318.6 106.8 316.1 105.7 318.4 103.7 320.9 104.9Z" fill="#00ff85"/>
<path d="M270.2 123 267.8 121.8 270.2 119.5 272.6 120.7Z" fill="#00fff5"/>
<path d="M301.7 111.2 299.2 110.1 301.6 108.1 304 109.2Z" fill="#00ffa4"/>
<path d="M289.6 115.3 287.1 114.2 289.5 112 292 113.1Z" fill="#00ffc0"/>
<path d="M243.4 132.7 241 131.6 243.5 129.7 245.9 130.9Z" fill="#00c7ff"/>
<path d="M262.9 126.3 260.5 125.1 262.9 122.9 265.3 124.1Z" fill="#00f3ff"/>
<path d="M223.7 138.6 221.4 137.5 223.9 135.6 226.3 136.7Z" fill="#00a1ff"/>
<path d="M323.4 106 320.9 104.9 323.3 102.9 325.8 104.1Z" fill="#00ff7e"/>
<path d="M255.6 129.3 253.2 128.1 255.6 126.1 258 127.3Z" fill="#00dfff"/>
<path d="M306.5 110.4 304 109.2 306.4 107.3 308.9 108.4Z" fill="#00ff9d"/>
<path d="M282.3 118.5 279.9 117.4 282.3 115.2 284.7 116.3Z" fill="#00ffd5"/>
<path d="M236 135.3 233.6 134.1 236.2 132.2 238.5 133.4Z" fill="#00b8ff"/>
<path d="M328.3 105.2 325.8 104.1 328.1 102.1 330.6 103.2Z" fill="#00ff77"/>
<path d="M294.4 114.2 292 113.1 294.4 111 296.8 112.1Z" fill="#00ffb7"/>
<path d="M248.2 132.1 245.9 130.9 248.3 129 250.7 130.1Z" fill="#00cdff"/>
<path d="M275 121.8 272.6 120.7 275 118.4 277.5 119.6Z" fill="#00ffeb"/>
<path d="M311.4 109.6 308.9 108.4 311.2 106.5 313.7 107.6Z" fill="#00ff96"/>
<path d="M333.1 104.4 330.6 103.2 332.9 101.3 335.5 102.5Z" fill="#00ff70"/>
<path d="M267.7 125.2 265.3 124.1 267.8 121.8 270.2 123Z" fill="#00fcff"/>
<path d="M228.6 137.9 226.3 136.7 228.8 134.8 231.1 136Z" fill="#00a8ff"/>
<path d="M260.4 128.4 258 127.3 260.5 125.1 262.9 126.3Z" fill="#00e7ff"/>
<path d="M338 103.6 335.5 102.5 337.8 100.6 340.3 101.7Z" fill="#00ff6a"/>
<path d="M287.2 117.5 284.7 116.3 287.1 114.2 289.6 115.3Z" fill="#00ffcd"/>
<path d="M240.8 134.6 238.5 133.4 241 131.6 243.4 132.7Z" fill="#00bdff"/>
<path d="M221.2 140.6 218.9 139.4 221.4 137.5 223.7 138.6Z" fill="#0097ff"/>
<path d="M316.2 108.8 313.7 107.6 316.1 105.7 318.6 106.8Z" fill="#00ff8f"/>
<path d="M299.3 113.3 296.8 112.1 299.2 110.1 301.7 111.2Z" fill="#00ffaf"/>
<path d="M342.9 102.9 340.3 101.7 342.6 99.9 345.2 101Z" fill="#00ff64"/>
<path d="M362.3 100.7 359.7 99.5 362 97.9 364.6 99.1Z" fill="#00ff52"/>
<path d="M253.1 131.3 250.7 130.1 253.2 128.1 255.6 129.3Z" fill="#00d4ff"/>
<path d="M347.7 102.2 345.2 101 347.5 99.3 350 100.5Z" fill="#00ff5f"/>
<path d="M357.4 101.1 354.9 99.9 357.1 98.3 359.7 99.5Z" fill="#00ff56"/>
<path d="M352.6 101.6 350 100.5 352.3 98.7 354.9 99.9Z" fill="#00ff5a"/>
<path d="M279.9 120.7 277.5 119.6 279.9 117.4 282.3 118.5Z" fill="#00ffe2"/>
<path d="M321.1 108 318.6 106.8 320.9 104.9 323.4 106Z" fill="#00ff89"/>
<path d="M233.5 137.2 231.1 136 233.6 134.1 236 135.3Z" fill="#00aeff"/>
<path d="M272.6 124.1 270.2 123 272.6 120.7 275 121.8Z" fill="#00fff9"/>
<path d="M304.1 112.3 301.7 111.2 304 109.2 306.5 110.4Z" fill="#00ffa8"/>
<path d="M292 116.4 289.6 115.3 292 113.1 294.4 114.2Z" fill="#00ffc4"/>
<path d="M265.3 127.5 262.9 126.3 265.3 124.1 267.7 125.2Z" fill="#00efff"/>
<path d="M245.7 133.9 243.4 132.7 245.9 130.9 248.2 132.1Z" fill="#00c3ff"/>
<path d="M325.9 107.2 323.4 106 325.8 104.1 328.3 105.2Z" fill="#00ff82"/>
<path d="M226.1 139.8 223.7 138.6 226.3 136.7 228.6 137.9Z" fill="#009eff"/>
<path d="M257.9 130.5 255.6 129.3 258 127.3 260.4 128.4Z" fill="#00dbff"/>
<path d="M309 111.5 306.5 110.4 308.9 108.4 311.4 109.6Z" fill="#00ffa1"/>
<path d="M284.7 119.7 282.3 118.5 284.7 116.3 287.2 117.5Z" fill="#00ffd9"/>
<path d="M330.8 106.4 328.3 105.2 330.6 103.2 333.1 104.4Z" fill="#00ff7b"/>
<path d="M238.3 136.5 236 135.3 238.5 133.4 240.8 134.6Z" fill="#00b4ff"/>
<path d="M296.9 115.4 294.4 114.2 296.8 112.1 299.3 113.3Z" fill="#00ffbb"/>
<path d="M277.4 123 275 121.8 277.5 119.6 279.9 120.7Z" fill="#00ffef"/>
<path d="M250.6 133.2 248.2 132.1 250.7 130.1 253.1 131.3Z" fill="#00c9ff"/>
<path d="M335.7 105.6 333.1 104.4 335.5 102.5 338 103.6Z" fill="#00ff74"/>
<path d="M313.8 110.7 311.4 109.6 313.7 107.6 316.2 108.8Z" fill="#00ff9a"/>
<path d="M270.1 126.4 267.7 125.2 270.2 123 272.6 124.1Z" fill="#00f8ff"/>
<path d="M230.9 139.1 228.6 137.9 231.1 136 233.5 137.2Z" fill="#00a4ff"/>
<path d="M340.5 104.8 338 103.6 340.3 101.7 342.9 102.9Z" fill="#00ff6e"/>
<path d="M262.8 129.6 260.4 128.4 262.9 126.3 265.3 127.5Z" fill="#00e3ff"/>
<path d="M289.6 118.6 287.2 117.5 289.6 115.3 292 116.4Z" fill="#00ffd0"/>
<path d="M318.7 109.9 316.2 108.8 318.6 106.8 321.1 108Z" fill="#00ff94"/>
<path d="M345.4 104 342.9 102.9 345.2 101 347.7 102.2Z" fill="#00ff68"/>
<path d="M301.7 114.4 299.3 113.3 301.7 111.2 304.1 112.3Z" fill="#00ffb3"/>
<path d="M243.2 135.8 240.8 134.6 243.4 132.7 245.7 133.9Z" fill="#00b9ff"/>
<path d="M360 102.3 357.4 101.1 359.7 99.5 362.3 100.7Z" fill="#00ff5a"/>
<path d="M350.3 103.4 347.7 102.2 350 100.5 352.6 101.6Z" fill="#00ff63"/>
<path d="M223.5 141.7 221.2 140.6 223.7 138.6 226.1 139.8Z" fill="#0094ff"/>
<path d="M355.2 102.8 352.6 101.6 354.9 99.9 357.4 101.1Z" fill="#00ff5e"/>
<path d="M255.5 132.5 253.1 131.3 255.6 129.3 257.9 130.5Z" fill="#00d0ff"/>
<path d="M282.3 121.9 279.9 120.7 282.3 118.5 284.7 119.7Z" fill="#00ffe6"/>
<path d="M323.6 109.1 321.1 108 323.4 106 325.9 107.2Z" fill="#00ff8d"/>
<path d="M306.6 113.5 304.1 112.3 306.5 110.4 309 111.5Z" fill="#00ffac"/>
<path d="M275 125.3 272.6 124.1 275 121.8 277.4 123Z" fill="#00fffc"/>
<path d="M235.8 138.4 233.5 137.2 236 135.3 238.3 136.5Z" fill="#00aaff"/>
<path d="M294.5 117.6 292 116.4 294.4 114.2 296.9 115.4Z" fill="#00ffc8"/>
<path d="M328.5 108.3 325.9 107.2 328.3 105.2 330.8 106.4Z" fill="#00ff86"/>
<path d="M267.7 128.7 265.3 127.5 267.7 125.2 270.1 126.4Z" fill="#00ebff"/>
<path d="M248.1 135.1 245.7 133.9 248.2 132.1 250.6 133.2Z" fill="#00bfff"/>
<path d="M228.4 141 226.1 139.8 228.6 137.9 230.9 139.1Z" fill="#009aff"/>
<path d="M311.5 112.7 309 111.5 311.4 109.6 313.8 110.7Z" fill="#00ffa5"/>
<path d="M260.3 131.7 257.9 130.5 260.4 128.4 262.8 129.6Z" fill="#00d7ff"/>
<path d="M333.3 107.5 330.8 106.4 333.1 104.4 335.7 105.6Z" fill="#00ff7f"/>
<path d="M287.2 120.8 284.7 119.7 287.2 117.5 289.6 118.6Z" fill="#00ffdd"/>
<path d="M299.3 116.5 296.9 115.4 299.3 113.3 301.7 114.4Z" fill="#00ffbf"/>
<path d="M338.2 106.7 335.7 105.6 338 103.6 340.5 104.8Z" fill="#00ff79"/>
<path d="M240.7 137.7 238.3 136.5 240.8 134.6 243.2 135.8Z" fill="#00b0ff"/>
<path d="M316.3 111.9 313.8 110.7 316.2 108.8 318.7 109.9Z" fill="#00ff9e"/>
<path d="M279.9 124.2 277.4 123 279.9 120.7 282.3 121.9Z" fill="#00fff3"/>
<path d="M253 134.4 250.6 133.2 253.1 131.3 255.5 132.5Z" fill="#00c5ff"/>
<path d="M343.1 105.9 340.5 104.8 342.9 102.9 345.4 104Z" fill="#00ff72"/>
<path d="M272.5 127.6 270.1 126.4 272.6 124.1 275 125.3Z" fill="#00f4ff"/>
<path d="M348 105.2 345.4 104 347.7 102.2 350.3 103.4Z" fill="#00ff6d"/>
<path d="M233.3 140.3 230.9 139.1 233.5 137.2 235.8 138.4Z" fill="#00a0ff"/>
<path d="M321.2 111.1 318.7 109.9 321.1 108 323.6 109.1Z" fill="#00ff98"/>
<path d="M265.2 130.8 262.8 129.6 265.3 127.5 267.7 128.7Z" fill="#00dfff"/>
<path d="M292 119.8 289.6 118.6 292 116.4 294.5 117.6Z" fill="#00ffd4"/>
<path d="M352.9 104.6 350.3 103.4 352.6 101.6 355.2 102.8Z" fill="#00ff67"/>
<path d="M357.7 104 355.2 102.8 357.4 101.1 360 102.3Z" fill="#00ff63"/>
<path d="M304.2 115.6 301.7 114.4 304.1 112.3 306.6 113.5Z" fill="#00ffb7"/>
<path d="M245.6 137 243.2 135.8 245.7 133.9 248.1 135.1Z" fill="#00b6ff"/>
<path d="M225.8 142.9 223.5 141.7 226.1 139.8 228.4 141Z" fill="#0090ff"/>
<path d="M326.1 110.3 323.6 109.1 325.9 107.2 328.5 108.3Z" fill="#00ff91"/>
<path d="M257.8 133.7 255.5 132.5 257.9 130.5 260.3 131.7Z" fill="#00ccff"/>
<path d="M284.7 123.1 282.3 121.9 284.7 119.7 287.2 120.8Z" fill="#00ffea"/>
<path d="M309.1 114.7 306.6 113.5 309 111.5 311.5 112.7Z" fill="#00ffb0"/>
<path d="M277.4 126.5 275 125.3 277.4 123 279.9 124.2Z" fill="#00feff"/>
<path d="M331 109.5 328.5 108.3 330.8 106.4 333.3 107.5Z" fill="#00ff8a"/>
<path d="M296.9 118.7 294.5 117.6 296.9 115.4 299.3 116.5Z" fill="#00ffcc"/>
<path d="M238.2 139.6 235.8 138.4 238.3 136.5 240.7 137.7Z" fill="#00a6ff"/>
<path d="M270.1 129.9 267.7 128.7 270.1 126.4 272.5 127.6Z" fill="#00e7ff"/>
<path d="M250.5 136.3 248.1 135.1 250.6 133.2 253 134.4Z" fill="#00bbff"/>
<path d="M335.9 108.7 333.3 107.5 335.7 105.6 338.2 106.7Z" fill="#00ff84"/>
<path d="M314 113.9 311.5 112.7 313.8 110.7 316.3 111.9Z" fill="#00ffa9"/>
<path d="M262.7 132.9 260.3 131.7 262.8 129.6 265.2 130.8Z" fill="#00d3ff"/>
<path d="M230.7 142.2 228.4 141 230.9 139.1 233.3 140.3Z" fill="#0096ff"/>
<path d="M289.6 122 287.2 120.8 289.6 118.6 292 119.8Z" fill="#00ffe1"/>
<path d="M340.8 107.9 338.2 106.7 340.5 104.8 343.1 105.9Z" fill="#00ff7d"/>
<path d="M301.8 117.7 299.3 116.5 301.7 114.4 304.2 115.6Z" fill="#00ffc3"/>
<path d="M318.9 113.1 316.3 111.9 318.7 109.9 321.2 111.1Z" fill="#00ffa3"/>
<path d="M243.1 138.9 240.7 137.7 243.2 135.8 245.6 137Z" fill="#00acff"/>
<path d="M282.3 125.3 279.9 124.2 282.3 121.9 284.7 123.1Z" fill="#00fff7"/>
<path d="M345.7 107.1 343.1 105.9 345.4 104 348 105.2Z" fill="#00ff77"/>
<path d="M255.4 135.6 253 134.4 255.5 132.5 257.8 133.7Z" fill="#00c1ff"/>
<path d="M350.5 106.4 348 105.2 350.3 103.4 352.9 104.6Z" fill="#00ff71"/>
<path d="M275 128.8 272.5 127.6 275 125.3 277.4 126.5Z" fill="#00f0ff"/>
<path d="M355.4 105.8 352.9 104.6 355.2 102.8 357.7 104Z" fill="#00ff6c"/>
<path d="M323.7 112.3 321.2 111.1 323.6 109.1 326.1 110.3Z" fill="#00ff9c"/>
<path d="M267.6 132 265.2 130.8 267.7 128.7 270.1 129.9Z" fill="#00dbff"/>
<path d="M294.5 120.9 292 119.8 294.5 117.6 296.9 118.7Z" fill="#00ffd8"/>
<path d="M306.7 116.7 304.2 115.6 306.6 113.5 309.1 114.7Z" fill="#00ffbb"/>
<path d="M235.6 141.5 233.3 140.3 235.8 138.4 238.2 139.6Z" fill="#009cff"/>
<path d="M328.6 111.5 326.1 110.3 328.5 108.3 331 109.5Z" fill="#00ff95"/>
<path d="M248 138.2 245.6 137 248.1 135.1 250.5 136.3Z" fill="#00b2ff"/>
<path d="M260.3 134.9 257.8 133.7 260.3 131.7 262.7 132.9Z" fill="#00c8ff"/>
<path d="M228.2 144.1 225.8 142.9 228.4 141 230.7 142.2Z" fill="#008cff"/>
<path d="M287.2 124.2 284.7 123.1 287.2 120.8 289.6 122Z" fill="#00ffee"/>
<path d="M311.6 115.8 309.1 114.7 311.5 112.7 314 113.9Z" fill="#00ffb4"/>
<path d="M333.5 110.7 331 109.5 333.3 107.5 335.9 108.7Z" fill="#00ff8f"/>
<path d="M279.9 127.7 277.4 126.5 279.9 124.2 282.3 125.3Z" fill="#00faff"/>
<path d="M299.4 119.9 296.9 118.7 299.3 116.5 301.8 117.7Z" fill="#00ffd0"/>
<path d="M240.5 140.8 238.2 139.6 240.7 137.7 243.1 138.9Z" fill="#00a2ff"/>
<path d="M272.5 131.1 270.1 129.9 272.5 127.6 275 128.8Z" fill="#00e3ff"/>
<path d="M338.4 109.9 335.9 108.7 338.2 106.7 340.8 107.9Z" fill="#00ff88"/>
<path d="M252.9 137.5 250.5 136.3 253 134.4 255.4 135.6Z" fill="#00b7ff"/>
<path d="M316.5 115 314 113.9 316.3 111.9 318.9 113.1Z" fill="#00ffad"/>
<path d="M265.1 134.1 262.7 132.9 265.2 130.8 267.6 132Z" fill="#00cfff"/>
<path d="M343.3 109.1 340.8 107.9 343.1 105.9 345.7 107.1Z" fill="#00ff81"/>
<path d="M292.1 123.1 289.6 122 292 119.8 294.5 120.9Z" fill="#00ffe5"/>
<path d="M233.1 143.4 230.7 142.2 233.3 140.3 235.6 141.5Z" fill="#0092ff"/>
<path d="M304.3 118.9 301.8 117.7 304.2 115.6 306.7 116.7Z" fill="#00ffc7"/>
<path d="M321.4 114.2 318.9 113.1 321.2 111.1 323.7 112.3Z" fill="#00ffa7"/>
<path d="M348.2 108.3 345.7 107.1 348 105.2 350.5 106.4Z" fill="#00ff7b"/>
<path d="M284.8 126.5 282.3 125.3 284.7 123.1 287.2 124.2Z" fill="#00fffb"/>
<path d="M353.1 107.6 350.5 106.4 352.9 104.6 355.4 105.8Z" fill="#00ff75"/>
<path d="M245.4 140.1 243.1 138.9 245.6 137 248 138.2Z" fill="#00a8ff"/>
<path d="M257.8 136.9 255.4 135.6 257.8 133.7 260.3 134.9Z" fill="#00bdff"/>
<path d="M277.4 130 275 128.8 277.4 126.5 279.9 127.7Z" fill="#00ecff"/>
<path d="M326.3 113.4 323.7 112.3 326.1 110.3 328.6 111.5Z" fill="#00ffa0"/>
<path d="M297 122.1 294.5 120.9 296.9 118.7 299.4 119.9Z" fill="#00ffdc"/>
<path d="M309.2 117.9 306.7 116.7 309.1 114.7 311.6 115.8Z" fill="#00ffbf"/>
<path d="M270 133.3 267.6 132 270.1 129.9 272.5 131.1Z" fill="#00d6ff"/>
<path d="M238 142.7 235.6 141.5 238.2 139.6 240.5 140.8Z" fill="#0099ff"/>
<path d="M331.2 112.6 328.6 111.5 331 109.5 333.5 110.7Z" fill="#00ff99"/>
<path d="M250.3 139.4 248 138.2 250.5 136.3 252.9 137.5Z" fill="#00aeff"/>
<path d="M262.7 136.2 260.3 134.9 262.7 132.9 265.1 134.1Z" fill="#00c4ff"/>
<path d="M289.7 125.4 287.2 124.2 289.6 122 292.1 123.1Z" fill="#00fff2"/>
<path d="M314.1 117 311.6 115.8 314 113.9 316.5 115Z" fill="#00ffb8"/>
<path d="M336.1 111.9 333.5 110.7 335.9 108.7 338.4 109.9Z" fill="#00ff93"/>
<path d="M230.5 145.3 228.2 144.1 230.7 142.2 233.1 143.4Z" fill="#0089ff"/>
<path d="M301.9 121.1 299.4 119.9 301.8 117.7 304.3 118.9Z" fill="#00ffd4"/>
<path d="M282.3 128.9 279.9 127.7 282.3 125.3 284.8 126.5Z" fill="#00f6ff"/>
<path d="M341 111.1 338.4 109.9 340.8 107.9 343.3 109.1Z" fill="#00ff8c"/>
<path d="M275 132.3 272.5 131.1 275 128.8 277.4 130Z" fill="#00dfff"/>
<path d="M319 116.2 316.5 115 318.9 113.1 321.4 114.2Z" fill="#00ffb1"/>
<path d="M242.9 142 240.5 140.8 243.1 138.9 245.4 140.1Z" fill="#009fff"/>
<path d="M255.3 138.8 252.9 137.5 255.4 135.6 257.8 136.9Z" fill="#00b3ff"/>
<path d="M345.9 110.3 343.3 109.1 345.7 107.1 348.2 108.3Z" fill="#00ff86"/>
<path d="M267.6 135.4 265.1 134.1 267.6 132 270 133.3Z" fill="#00cbff"/>
<path d="M294.6 124.3 292.1 123.1 294.5 120.9 297 122.1Z" fill="#00ffe9"/>
<path d="M350.8 109.5 348.2 108.3 350.5 106.4 353.1 107.6Z" fill="#00ff7f"/>
<path d="M323.9 115.4 321.4 114.2 323.7 112.3 326.3 113.4Z" fill="#00ffab"/>
<path d="M306.8 120.1 304.3 118.9 306.7 116.7 309.2 117.9Z" fill="#00ffcb"/>
<path d="M235.5 144.6 233.1 143.4 235.6 141.5 238 142.7Z" fill="#008fff"/>
<path d="M287.2 127.7 284.8 126.5 287.2 124.2 289.7 125.4Z" fill="#00ffff"/>
<path d="M247.8 141.3 245.4 140.1 248 138.2 250.3 139.4Z" fill="#00a4ff"/>
<path d="M328.8 114.6 326.3 113.4 328.6 111.5 331.2 112.6Z" fill="#00ffa4"/>
<path d="M260.2 138.1 257.8 136.9 260.3 134.9 262.7 136.2Z" fill="#00b9ff"/>
<path d="M279.9 131.2 277.4 130 279.9 127.7 282.3 128.9Z" fill="#00e8ff"/>
<path d="M311.7 119.1 309.2 117.9 311.6 115.8 314.1 117Z" fill="#00ffc4"/>
<path d="M299.5 123.3 297 122.1 299.4 119.9 301.9 121.1Z" fill="#00ffe0"/>
<path d="M233 149.6 230.5 145.3 233.1 143.4 235.5 144.6Z" fill="#0071ff"/>
<path d="M272.5 134.5 270 133.3 272.5 131.1 275 132.3Z" fill="#00d2ff"/>
<path d="M333.7 113.8 331.2 112.6 333.5 110.7 336.1 111.9Z" fill="#00ff9e"/>
<path d="M240.4 143.9 238 142.7 240.5 140.8 242.9 142Z" fill="#0095ff"/>
<path d="M338.6 113 336.1 111.9 338.4 109.9 341 111.1Z" fill="#00ff97"/>
<path d="M252.7 140.6 250.3 139.4 252.9 137.5 255.3 138.8Z" fill="#00aaff"/>
<path d="M292.1 126.6 289.7 125.4 292.1 123.1 294.6 124.3Z" fill="#00fff6"/>
<path d="M316.6 118.2 314.1 117 316.5 115 319 116.2Z" fill="#00ffbc"/>
<path d="M265.1 137.4 262.7 136.2 265.1 134.1 267.6 135.4Z" fill="#00bfff"/>
<path d="M304.4 122.3 301.9 121.1 304.3 118.9 306.8 120.1Z" fill="#00ffd8"/>
<path d="M343.6 112.3 341 111.1 343.3 109.1 345.9 110.3Z" fill="#00ff90"/>
<path d="M284.8 130.1 282.3 128.9 284.8 126.5 287.2 127.7Z" fill="#00f2ff"/>
<path d="M235.4 154.3 233 149.6 235.5 144.6 237.8 145.8Z" fill="#0051ff"/>
<path d="M321.5 117.4 319 116.2 321.4 114.2 323.9 115.4Z" fill="#00ffb6"/>
<path d="M277.4 133.5 275 132.3 277.4 130 279.9 131.2Z" fill="#00dbff"/>
<path d="M348.5 111.5 345.9 110.3 348.2 108.3 350.8 109.5Z" fill="#00ff8a"/>
<path d="M245.3 143.2 242.9 142 245.4 140.1 247.8 141.3Z" fill="#009bff"/>
<path d="M257.7 140 255.3 138.8 257.8 136.9 260.2 138.1Z" fill="#00afff"/>
<path d="M237.9 159.6 235.4 154.3 237.8 145.8 240.2 147Z" fill="#002bff"/>
<path d="M297 125.6 294.6 124.3 297 122.1 299.5 123.3Z" fill="#00ffed"/>
<path d="M270 136.6 267.6 135.4 270 133.3 272.5 134.5Z" fill="#00c6ff"/>
<path d="M326.4 116.6 323.9 115.4 326.3 113.4 328.8 114.6Z" fill="#00ffaf"/>
<path d="M309.3 121.3 306.8 120.1 309.2 117.9 311.7 119.1Z" fill="#00ffcf"/>
<path d="M240.3 164.1 237.9 159.6 240.2 147 242.6 149.4Z" fill="#000cff"/>
<path d="M237.8 145.8 235.5 144.6 238 142.7 240.4 143.9Z" fill="#008bff"/>
<path d="M289.7 129 287.2 127.7 289.7 125.4 292.1 126.6Z" fill="#00fbff"/>
<path d="M331.4 115.8 328.8 114.6 331.2 112.6 333.7 113.8Z" fill="#00ffa8"/>
<path d="M250.2 142.5 247.8 141.3 250.3 139.4 252.7 140.6Z" fill="#00a0ff"/>
<path d="M262.6 139.3 260.2 138.1 262.7 136.2 265.1 137.4Z" fill="#00b5ff"/>
<path d="M282.3 132.4 279.9 131.2 282.3 128.9 284.8 130.1Z" fill="#00e4ff"/>
<path d="M314.2 120.3 311.7 119.1 314.1 117 316.6 118.2Z" fill="#00ffc8"/>
<path d="M302 124.5 299.5 123.3 301.9 121.1 304.4 122.3Z" fill="#00ffe4"/>
<path d="M336.3 115 333.7 113.8 336.1 111.9 338.6 113Z" fill="#00ffa2"/>
<path d="M274.9 135.7 272.5 134.5 275 132.3 277.4 133.5Z" fill="#00ceff"/>
<path d="M242.7 164.9 240.3 164.1 242.6 149.4 245.1 152.8Z" fill="#000cff"/>
<path d="M341.2 114.2 338.6 113 341 111.1 343.6 112.3Z" fill="#00ff9b"/>
<path d="M242.8 145.1 240.4 143.9 242.9 142 245.3 143.2Z" fill="#0091ff"/>
<path d="M319.1 119.4 316.6 118.2 319 116.2 321.5 117.4Z" fill="#00ffc0"/>
<path d="M294.6 127.8 292.1 126.6 294.6 124.3 297 125.6Z" fill="#00fffa"/>
<path d="M255.2 141.9 252.7 140.6 255.3 138.8 257.7 140Z" fill="#00a6ff"/>
<path d="M267.5 138.6 265.1 137.4 267.6 135.4 270 136.6Z" fill="#00bbff"/>
<path d="M346.1 113.4 343.6 112.3 345.9 110.3 348.5 111.5Z" fill="#00ff95"/>
<path d="M306.9 123.5 304.4 122.3 306.8 120.1 309.3 121.3Z" fill="#00ffdc"/>
<path d="M287.2 131.3 284.8 130.1 287.2 127.7 289.7 129Z" fill="#00edff"/>
<path d="M324.1 118.6 321.5 117.4 323.9 115.4 326.4 116.6Z" fill="#00ffba"/>
<path d="M279.9 134.7 277.4 133.5 279.9 131.2 282.3 132.4Z" fill="#00d7ff"/>
<path d="M247.7 144.4 245.3 143.2 247.8 141.3 250.2 142.5Z" fill="#0097ff"/>
<path d="M260.1 141.2 257.7 140 260.2 138.1 262.6 139.3Z" fill="#00abff"/>
<path d="M299.5 126.8 297 125.6 299.5 123.3 302 124.5Z" fill="#00fff1"/>
<path d="M329 117.8 326.4 116.6 328.8 114.6 331.4 115.8Z" fill="#00ffb3"/>
<path d="M272.5 137.8 270 136.6 272.5 134.5 274.9 135.7Z" fill="#00c2ff"/>
<path d="M311.8 122.4 309.3 121.3 311.7 119.1 314.2 120.3Z" fill="#00ffd3"/>
<path d="M245.1 165.7 242.7 164.9 245.1 152.8 247.5 156Z" fill="#000cff"/>
<path d="M333.9 117 331.4 115.8 333.7 113.8 336.3 115Z" fill="#00ffad"/>
<path d="M292.2 130.2 289.7 129 292.1 126.6 294.6 127.8Z" fill="#00f7ff"/>
<path d="M240.2 147 237.8 145.8 240.4 143.9 242.8 145.1Z" fill="#0087ff"/>
<path d="M284.8 133.7 282.3 132.4 284.8 130.1 287.2 131.3Z" fill="#00e0ff"/>
<path d="M265 140.6 262.6 139.3 265.1 137.4 267.5 138.6Z" fill="#00b1ff"/>
<path d="M252.6 143.7 250.2 142.5 252.7 140.6 255.2 141.9Z" fill="#009cff"/>
<path d="M316.7 121.5 314.2 120.3 316.6 118.2 319.1 119.4Z" fill="#00ffcc"/>
<path d="M338.9 116.2 336.3 115 338.6 113 341.2 114.2Z" fill="#00ffa6"/>
<path d="M304.5 125.7 302 124.5 304.4 122.3 306.9 123.5Z" fill="#00ffe8"/>
<path d="M277.4 136.9 274.9 135.7 277.4 133.5 279.9 134.7Z" fill="#00caff"/>
<path d="M343.8 115.4 341.2 114.2 343.6 112.3 346.1 113.4Z" fill="#00ffa0"/>
<path d="M321.7 120.6 319.1 119.4 321.5 117.4 324.1 118.6Z" fill="#00ffc5"/>
<path d="M297.1 129.1 294.6 127.8 297 125.6 299.5 126.8Z" fill="#00fffe"/>
<path d="M245.2 146.3 242.8 145.1 245.3 143.2 247.7 144.4Z" fill="#008dff"/>
<path d="M270 139.9 267.5 138.6 270 136.6 272.5 137.8Z" fill="#00b7ff"/>
<path d="M257.6 143.1 255.2 141.9 257.7 140 260.1 141.2Z" fill="#00a2ff"/>
<path d="M309.4 124.7 306.9 123.5 309.3 121.3 311.8 122.4Z" fill="#00ffe0"/>
<path d="M289.7 132.6 287.2 131.3 289.7 129 292.2 130.2Z" fill="#00e9ff"/>
<path d="M326.6 119.8 324.1 118.6 326.4 116.6 329 117.8Z" fill="#00ffbe"/>
<path d="M282.3 136 279.9 134.7 282.3 132.4 284.8 133.7Z" fill="#00d3ff"/>
<path d="M247.5 166.5 245.1 165.7 247.5 156 250 159.1Z" fill="#000cff"/>
<path d="M331.6 119 329 117.8 331.4 115.8 333.9 117Z" fill="#00ffb7"/>
<path d="M302 128 299.5 126.8 302 124.5 304.5 125.7Z" fill="#00fff5"/>
<path d="M262.5 142.5 260.1 141.2 262.6 139.3 265 140.6Z" fill="#00a7ff"/>
<path d="M250.1 145.6 247.7 144.4 250.2 142.5 252.6 143.7Z" fill="#0093ff"/>
<path d="M314.3 123.6 311.8 122.4 314.2 120.3 316.7 121.5Z" fill="#00ffd8"/>
<path d="M274.9 139.1 272.5 137.8 274.9 135.7 277.4 136.9Z" fill="#00beff"/>
<path d="M336.5 118.2 333.9 117 336.3 115 338.9 116.2Z" fill="#00ffb1"/>
<path d="M242.6 149.4 240.2 147 242.8 145.1 245.2 146.3Z" fill="#007fff"/>
<path d="M294.7 131.4 292.2 130.2 294.6 127.8 297.1 129.1Z" fill="#00f3ff"/>
<path d="M341.4 117.4 338.9 116.2 341.2 114.2 343.8 115.4Z" fill="#00ffaa"/>
<path d="M287.3 134.9 284.8 133.7 287.2 131.3 289.7 132.6Z" fill="#00dcff"/>
<path d="M319.3 122.7 316.7 121.5 319.1 119.4 321.7 120.6Z" fill="#00ffd0"/>
<path d="M267.5 141.8 265 140.6 267.5 138.6 270 139.9Z" fill="#00adff"/>
<path d="M307 126.9 304.5 125.7 306.9 123.5 309.4 124.7Z" fill="#00ffed"/>
<path d="M255.1 145 252.6 143.7 255.2 141.9 257.6 143.1Z" fill="#0098ff"/>
<path d="M279.9 138.2 277.4 136.9 279.9 134.7 282.3 136Z" fill="#00c6ff"/>
<path d="M249.9 167.3 247.5 166.5 250 159.1 252.4 162.7Z" fill="#000cff"/>
<path d="M324.2 121.8 321.7 120.6 324.1 118.6 326.6 119.8Z" fill="#00ffc9"/>
<path d="M299.6 130.3 297.1 129.1 299.5 126.8 302 128Z" fill="#00fcff"/>
<path d="M247.6 147.5 245.2 146.3 247.7 144.4 250.1 145.6Z" fill="#0089ff"/>
<path d="M272.4 141.1 270 139.9 272.5 137.8 274.9 139.1Z" fill="#00b3ff"/>
<path d="M260 144.3 257.6 143.1 260.1 141.2 262.5 142.5Z" fill="#009eff"/>
<path d="M311.9 125.9 309.4 124.7 311.8 122.4 314.3 123.6Z" fill="#00ffe4"/>
<path d="M329.2 121 326.6 119.8 329 117.8 331.6 119Z" fill="#00ffc2"/>
<path d="M292.2 133.8 289.7 132.6 292.2 130.2 294.7 131.4Z" fill="#00e5ff"/>
<path d="M245.1 152.8 242.6 149.4 245.2 146.3 247.6 147.5Z" fill="#006aff"/>
<path d="M284.8 137.2 282.3 136 284.8 133.7 287.3 134.9Z" fill="#00ceff"/>
<path d="M334.1 120.2 331.6 119 333.9 117 336.5 118.2Z" fill="#00ffbc"/>
<path d="M304.6 129.2 302 128 304.5 125.7 307 126.9Z" fill="#00fff9"/>
<path d="M316.9 124.9 314.3 123.6 316.7 121.5 319.3 122.7Z" fill="#00ffdc"/>
<path d="M265 143.7 262.5 142.5 265 140.6 267.5 141.8Z" fill="#00a3ff"/>
<path d="M252.3 168.1 249.9 167.3 252.4 162.7 254.9 167.3Z" fill="#0008ff"/>
<path d="M277.4 140.3 274.9 139.1 277.4 136.9 279.9 138.2Z" fill="#00baff"/>
<path d="M252.5 146.9 250.1 145.6 252.6 143.7 255.1 145Z" fill="#008fff"/>
<path d="M339.1 119.4 336.5 118.2 338.9 116.2 341.4 117.4Z" fill="#00ffb5"/>
<path d="M297.2 132.6 294.7 131.4 297.1 129.1 299.6 130.3Z" fill="#00eeff"/>
<path d="M321.8 123.9 319.3 122.7 321.7 120.6 324.2 121.8Z" fill="#00ffd4"/>
<path d="M289.8 136.2 287.3 134.9 289.7 132.6 292.2 133.8Z" fill="#00d7ff"/>
<path d="M309.5 128.1 307 126.9 309.4 124.7 311.9 125.9Z" fill="#00fff1"/>
<path d="M269.9 143.1 267.5 141.8 270 139.9 272.4 141.1Z" fill="#00a9ff"/>
<path d="M257.5 146.2 255.1 145 257.6 143.1 260 144.3Z" fill="#0094ff"/>
<path d="M282.3 139.5 279.9 138.2 282.3 136 284.8 137.2Z" fill="#00c2ff"/>
<path d="M247.5 156 245.1 152.8 247.6 147.5 250 148.8Z" fill="#0056ff"/>
<path d="M326.8 123 324.2 121.8 326.6 119.8 329.2 121Z" fill="#00ffcd"/>
<path d="M302.1 131.5 299.6 130.3 302 128 304.6 129.2Z" fill="#00f8ff"/>
<path d="M314.5 127.1 311.9 125.9 314.3 123.6 316.9 124.9Z" fill="#00ffe8"/>
<path d="M274.9 142.4 272.4 141.1 274.9 139.1 277.4 140.3Z" fill="#00afff"/>
<path d="M331.8 122.2 329.2 121 331.6 119 334.1 120.2Z" fill="#00ffc6"/>
<path d="M250 148.8 247.6 147.5 250.1 145.6 252.5 146.9Z" fill="#0085ff"/>
<path d="M262.5 145.6 260 144.3 262.5 142.5 265 143.7Z" fill="#009aff"/>
<path d="M294.7 135 292.2 133.8 294.7 131.4 297.2 132.6Z" fill="#00e1ff"/>
<path d="M254.8 168.9 252.3 168.1 254.9 167.3 257.3 168.1Z" fill="#0000ff"/>
<path d="M287.3 138.5 284.8 137.2 287.3 134.9 289.8 136.2Z" fill="#00caff"/>
<path d="M336.7 121.4 334.1 120.2 336.5 118.2 339.1 119.4Z" fill="#00ffc0"/>
<path d="M307.1 130.4 304.6 129.2 307 126.9 309.5 128.1Z" fill="#00fffd"/>
<path d="M319.4 126.1 316.9 124.9 319.3 122.7 321.8 123.9Z" fill="#00ffe0"/>
<path d="M250 159.1 247.5 156 250 148.8 252.4 150.3Z" fill="#0042ff"/>
<path d="M267.4 145 265 143.7 267.5 141.8 269.9 143.1Z" fill="#009fff"/>
<path d="M279.8 141.6 277.4 140.3 279.9 138.2 282.3 139.5Z" fill="#00b6ff"/>
<path d="M255 148.1 252.5 146.9 255.1 145 257.5 146.2Z" fill="#008bff"/>
<path d="M299.7 133.9 297.2 132.6 299.6 130.3 302.1 131.5Z" fill="#00eaff"/>
<path d="M324.4 125.1 321.8 123.9 324.2 121.8 326.8 123Z" fill="#00ffd8"/>
<path d="M292.3 137.4 289.8 136.2 292.2 133.8 294.7 135Z" fill="#00d3ff"/>
<path d="M312 129.4 309.5 128.1 311.9 125.9 314.5 127.1Z" fill="#00fff5"/>
<path d="M272.4 144.3 269.9 143.1 272.4 141.1 274.9 142.4Z" fill="#00a4ff"/>
<path d="M252.4 162.7 250 159.1 252.4 150.3 254.9 153.2Z" fill="#002cff"/>
<path d="M259.9 147.5 257.5 146.2 260 144.3 262.5 145.6Z" fill="#0090ff"/>
<path d="M284.8 140.7 282.3 139.5 284.8 137.2 287.3 138.5Z" fill="#00bdff"/>
<path d="M254.9 167.3 252.4 162.7 254.9 153.2 257.3 155.8Z" fill="#000cff"/>
<path d="M329.4 124.2 326.8 123 329.2 121 331.8 122.2Z" fill="#00ffd1"/>
<path d="M304.6 132.7 302.1 131.5 304.6 129.2 307.1 130.4Z" fill="#00f4ff"/>
<path d="M317 128.3 314.5 127.1 316.9 124.9 319.4 126.1Z" fill="#00ffec"/>
<path d="M334.3 123.4 331.8 122.2 334.1 120.2 336.7 121.4Z" fill="#00ffca"/>
<path d="M277.4 143.6 274.9 142.4 277.4 140.3 279.8 141.6Z" fill="#00abff"/>
<path d="M252.4 150.3 250 148.8 252.5 146.9 255 148.1Z" fill="#0081ff"/>
<path d="M297.2 136.3 294.7 135 297.2 132.6 299.7 133.9Z" fill="#00ddff"/>
<path d="M264.9 146.8 262.5 145.6 265 143.7 267.4 145Z" fill="#0096ff"/>
<path d="M289.8 139.7 287.3 138.5 289.8 136.2 292.3 137.4Z" fill="#00c6ff"/>
<path d="M257.3 168.1 254.9 167.3 257.3 155.8 259.8 158.4Z" fill="#000cff"/>
<path d="M309.6 131.7 307.1 130.4 309.5 128.1 312 129.4Z" fill="#00fcff"/>
<path d="M322 127.3 319.4 126.1 321.8 123.9 324.4 125.1Z" fill="#00ffe4"/>
<path d="M257.2 169.7 254.8 168.9 257.3 168.1 259.8 168.9Z" fill="#0000ff"/>
<path d="M282.3 142.9 279.8 141.6 282.3 139.5 284.8 140.7Z" fill="#00b1ff"/>
<path d="M269.9 146.2 267.4 145 269.9 143.1 272.4 144.3Z" fill="#009bff"/>
<path d="M257.4 149.3 255 148.1 257.5 146.2 259.9 147.5Z" fill="#0087ff"/>
<path d="M302.2 135.1 299.7 133.9 302.1 131.5 304.6 132.7Z" fill="#00e6ff"/>
<path d="M327 126.3 324.4 125.1 326.8 123 329.4 124.2Z" fill="#00ffdc"/>
<path d="M294.8 138.7 292.3 137.4 294.7 135 297.2 136.3Z" fill="#00cfff"/>
<path d="M314.6 130.6 312 129.4 314.5 127.1 317 128.3Z" fill="#00fff9"/>
<path d="M274.9 145.6 272.4 144.3 274.9 142.4 277.4 143.6Z" fill="#00a0ff"/>
<path d="M287.3 142 284.8 140.7 287.3 138.5 289.8 139.7Z" fill="#00b9ff"/>
<path d="M331.9 125.4 329.4 124.2 331.8 122.2 334.3 123.4Z" fill="#00ffd5"/>
<path d="M262.4 148.7 259.9 147.5 262.5 145.6 264.9 146.8Z" fill="#008cff"/>
<path d="M254.9 153.2 252.4 150.3 255 148.1 257.4 149.3Z" fill="#0074ff"/>
<path d="M307.2 134 304.6 132.7 307.1 130.4 309.6 131.7Z" fill="#00efff"/>
<path d="M319.6 129.6 317 128.3 319.4 126.1 322 127.3Z" fill="#00fff0"/>
<path d="M279.8 144.9 277.4 143.6 279.8 141.6 282.3 142.9Z" fill="#00a6ff"/>
<path d="M259.8 168.9 257.3 168.1 259.8 158.4 262.3 160.9Z" fill="#000cff"/>
<path d="M299.7 137.5 297.2 136.3 299.7 133.9 302.2 135.1Z" fill="#00d8ff"/>
<path d="M267.4 148.1 264.9 146.8 267.4 145 269.9 146.2Z" fill="#0091ff"/>
<path d="M292.3 141 289.8 139.7 292.3 137.4 294.8 138.7Z" fill="#00c2ff"/>
<path d="M312.2 132.9 309.6 131.7 312 129.4 314.6 130.6Z" fill="#00f8ff"/>
<path d="M324.6 128.5 322 127.3 324.4 125.1 327 126.3Z" fill="#00ffe8"/>
<path d="M284.8 144.1 282.3 142.9 284.8 140.7 287.3 142Z" fill="#00adff"/>
<path d="M272.4 147.5 269.9 146.2 272.4 144.3 274.9 145.6Z" fill="#0097ff"/>
<path d="M304.7 136.4 302.2 135.1 304.6 132.7 307.2 134Z" fill="#00e2ff"/>
<path d="M259.8 150.6 257.4 149.3 259.9 147.5 262.4 148.7Z" fill="#0083ff"/>
<path d="M329.6 127.5 327 126.3 329.4 124.2 331.9 125.4Z" fill="#00ffe0"/>
<path d="M259.7 170.6 257.2 169.7 259.8 168.9 262.2 169.8Z" fill="#0000ff"/>
<path d="M297.3 139.9 294.8 138.7 297.2 136.3 299.7 137.5Z" fill="#00cbff"/>
<path d="M257.3 155.8 254.9 153.2 257.4 149.3 259.8 150.6Z" fill="#0064ff"/>
<path d="M317.2 131.8 314.6 130.6 317 128.3 319.6 129.6Z" fill="#00fffd"/>
<path d="M277.3 146.9 274.9 145.6 277.4 143.6 279.8 144.9Z" fill="#009cff"/>
<path d="M289.8 143.3 287.3 142 289.8 139.7 292.3 141Z" fill="#00b5ff"/>
<path d="M264.8 150 262.4 148.7 264.9 146.8 267.4 148.1Z" fill="#0088ff"/>
<path d="M262.2 169.8 259.8 168.9 262.3 160.9 264.8 163.4Z" fill="#000cff"/>
<path d="M309.7 135.2 307.2 134 309.6 131.7 312.2 132.9Z" fill="#00ebff"/>
<path d="M322.1 130.8 319.6 129.6 322 127.3 324.6 128.5Z" fill="#00fff5"/>
<path d="M282.3 146.2 279.8 144.9 282.3 142.9 284.8 144.1Z" fill="#00a2ff"/>
<path d="M302.3 138.8 299.7 137.5 302.2 135.1 304.7 136.4Z" fill="#00d4ff"/>
<path d="M269.8 149.4 267.4 148.1 269.9 146.2 272.4 147.5Z" fill="#008dff"/>
<path d="M294.8 142.3 292.3 141 294.8 138.7 297.3 139.9Z" fill="#00bdff"/>
<path d="M327.1 129.7 324.6 128.5 327 126.3 329.6 127.5Z" fill="#00ffec"/>
<path d="M314.7 134.1 312.2 132.9 314.6 130.6 317.2 131.8Z" fill="#00f4ff"/>
<path d="M259.8 158.4 257.3 155.8 259.8 150.6 262.3 151.9Z" fill="#0056ff"/>
<path d="M287.3 145.4 284.8 144.1 287.3 142 289.8 143.3Z" fill="#00a9ff"/>
<path d="M274.8 148.8 272.4 147.5 274.9 145.6 277.3 146.9Z" fill="#0092ff"/>
<path d="M307.3 137.6 304.7 136.4 307.2 134 309.7 135.2Z" fill="#00deff"/>
<path d="M262.3 151.9 259.8 150.6 262.4 148.7 264.8 150Z" fill="#007fff"/>
<path d="M319.7 133.1 317.2 131.8 319.6 129.6 322.1 130.8Z" fill="#00fdff"/>
<path d="M299.8 141.2 297.3 139.9 299.7 137.5 302.3 138.8Z" fill="#00c6ff"/>
<path d="M264.7 170.6 262.2 169.8 264.8 163.4 267.3 166.1Z" fill="#000cff"/>
<path d="M279.8 148.2 277.3 146.9 279.8 144.9 282.3 146.2Z" fill="#0098ff"/>
<path d="M292.3 144.6 289.8 143.3 292.3 141 294.8 142.3Z" fill="#00b1ff"/>
<path d="M262.2 171.4 259.7 170.6 262.2 169.8 264.7 170.6Z" fill="#0000ff"/>
<path d="M267.3 151.2 264.8 150 267.4 148.1 269.8 149.4Z" fill="#0084ff"/>
<path d="M312.3 136.5 309.7 135.2 312.2 132.9 314.7 134.1Z" fill="#00e7ff"/>
<path d="M324.7 132 322.1 130.8 324.6 128.5 327.1 129.7Z" fill="#00fff9"/>
<path d="M262.3 160.9 259.8 158.4 262.3 151.9 264.8 154.2Z" fill="#0048ff"/>
<path d="M284.8 147.5 282.3 146.2 284.8 144.1 287.3 145.4Z" fill="#009eff"/>
<path d="M304.8 140.1 302.3 138.8 304.7 136.4 307.3 137.6Z" fill="#00d0ff"/>
<path d="M272.3 150.7 269.8 149.4 272.4 147.5 274.8 148.8Z" fill="#0089ff"/>
<path d="M297.3 143.6 294.8 142.3 297.3 139.9 299.8 141.2Z" fill="#00b9ff"/>
<path d="M317.3 135.4 314.7 134.1 317.2 131.8 319.7 133.1Z" fill="#00f0ff"/>
<path d="M267.2 171.4 264.7 170.6 267.3 166.1 269.8 170.2Z" fill="#0008ff"/>
<path d="M289.9 146.7 287.3 145.4 289.8 143.3 292.3 144.6Z" fill="#00a5ff"/>
<path d="M277.3 150.1 274.8 148.8 277.3 146.9 279.8 148.2Z" fill="#008eff"/>
<path d="M264.8 154.2 262.3 151.9 264.8 150 267.3 151.2Z" fill="#0078ff"/>
<path d="M309.8 138.9 307.3 137.6 309.7 135.2 312.3 136.5Z" fill="#00daff"/>
<path d="M264.8 163.4 262.3 160.9 264.8 154.2 267.3 156.6Z" fill="#003aff"/>
<path d="M322.3 134.3 319.7 133.1 322.1 130.8 324.7 132Z" fill="#00f9ff"/>
<path d="M302.4 142.5 299.8 141.2 302.3 138.8 304.8 140.1Z" fill="#00c2ff"/>
<path d="M282.3 149.5 279.8 148.2 282.3 146.2 284.8 147.5Z" fill="#0094ff"/>
<path d="M294.9 145.9 292.3 144.6 294.8 142.3 297.3 143.6Z" fill="#00acff"/>
<path d="M314.8 137.7 312.3 136.5 314.7 134.1 317.3 135.4Z" fill="#00e3ff"/>
<path d="M269.8 152.5 267.3 151.2 269.8 149.4 272.3 150.7Z" fill="#0080ff"/>
<path d="M267.3 166.1 264.8 163.4 267.3 156.6 269.8 158.9Z" fill="#002aff"/>
<path d="M307.4 141.4 304.8 140.1 307.3 137.6 309.8 138.9Z" fill="#00ccff"/>
<path d="M287.4 148.8 284.8 147.5 287.3 145.4 289.9 146.7Z" fill="#009aff"/>
<path d="M264.6 172.2 262.2 171.4 264.7 170.6 267.2 171.4Z" fill="#0000ff"/>
<path d="M269.7 172.3 267.2 171.4 269.8 170.2 272.3 171.4Z" fill="#0001ff"/>
<path d="M299.9 144.9 297.3 143.6 299.8 141.2 302.4 142.5Z" fill="#00b5ff"/>
<path d="M274.8 151.9 272.3 150.7 274.8 148.8 277.3 150.1Z" fill="#0085ff"/>
<path d="M319.9 136.6 317.3 135.4 319.7 133.1 322.3 134.3Z" fill="#00ecff"/>
<path d="M267.3 156.6 264.8 154.2 267.3 151.2 269.8 152.5Z" fill="#006bff"/>
<path d="M269.8 170.2 267.3 166.1 269.8 158.9 272.3 161.1Z" fill="#000fff"/>
<path d="M292.4 148 289.9 146.7 292.3 144.6 294.9 145.9Z" fill="#00a0ff"/>
<path d="M279.8 151.4 277.3 150.1 279.8 148.2 282.3 149.5Z" fill="#008aff"/>
<path d="M312.4 140.2 309.8 138.9 312.3 136.5 314.8 137.7Z" fill="#00d5ff"/>
<path d="M304.9 143.8 302.4 142.5 304.8 140.1 307.4 141.4Z" fill="#00beff"/>
<path d="M284.9 150.8 282.3 149.5 284.8 147.5 287.4 148.8Z" fill="#008fff"/>
<path d="M297.4 147.2 294.9 145.9 297.3 143.6 299.9 144.9Z" fill="#00a8ff"/>
<path d="M272.3 171.4 269.8 170.2 272.3 161.1 274.8 163.3Z" fill="#000cff"/>
<path d="M317.4 139 314.8 137.7 317.3 135.4 319.9 136.6Z" fill="#00dfff"/>
<path d="M272.3 153.8 269.8 152.5 272.3 150.7 274.8 151.9Z" fill="#007cff"/>
<path d="M309.9 142.6 307.4 141.4 309.8 138.9 312.4 140.2Z" fill="#00c8ff"/>
<path d="M289.9 150.1 287.4 148.8 289.9 146.7 292.4 148Z" fill="#0095ff"/>
<path d="M269.8 158.9 267.3 156.6 269.8 152.5 272.3 153.8Z" fill="#005fff"/>
<path d="M302.4 146.2 299.9 144.9 302.4 142.5 304.9 143.8Z" fill="#00b1ff"/>
<path d="M277.3 153.2 274.8 151.9 277.3 150.1 279.8 151.4Z" fill="#0081ff"/>
<path d="M267.1 173.1 264.6 172.2 267.2 171.4 269.7 172.3Z" fill="#0000ff"/>
<path d="M272.2 173.1 269.7 172.3 272.3 171.4 274.8 172.3Z" fill="#0000ff"/>
<path d="M294.9 149.3 292.4 148 294.9 145.9 297.4 147.2Z" fill="#009cff"/>
<path d="M315 141.4 312.4 140.2 314.8 137.7 317.4 139Z" fill="#00d1ff"/>
<path d="M282.4 152.7 279.8 151.4 282.3 149.5 284.9 150.8Z" fill="#0086ff"/>
<path d="M307.5 145.1 304.9 143.8 307.4 141.4 309.9 142.6Z" fill="#00baff"/>
<path d="M274.8 172.3 272.3 171.4 274.8 163.3 277.3 165.4Z" fill="#000cff"/>
<path d="M300 148.5 297.4 147.2 299.9 144.9 302.4 146.2Z" fill="#00a4ff"/>
<path d="M287.4 152.1 284.9 150.8 287.4 148.8 289.9 150.1Z" fill="#008bff"/>
<path d="M272.3 161.1 269.8 158.9 272.3 153.8 274.8 155.7Z" fill="#0053ff"/>
<path d="M274.8 155.7 272.3 153.8 274.8 151.9 277.3 153.2Z" fill="#0077ff"/>
<path d="M312.5 143.9 309.9 142.6 312.4 140.2 315 141.4Z" fill="#00c3ff"/>
<path d="M292.4 151.4 289.9 150.1 292.4 148 294.9 149.3Z" fill="#0091ff"/>
<path d="M305 147.5 302.4 146.2 304.9 143.8 307.5 145.1Z" fill="#00acff"/>
<path d="M279.8 154.5 277.3 153.2 279.8 151.4 282.4 152.7Z" fill="#007dff"/>
<path d="M297.5 150.6 294.9 149.3 297.4 147.2 300 148.5Z" fill="#0098ff"/>
<path d="M274.8 163.3 272.3 161.1 274.8 155.7 277.3 157.9Z" fill="#0048ff"/>
<path d="M284.9 154 282.4 152.7 284.9 150.8 287.4 152.1Z" fill="#0082ff"/>
<path d="M269.7 173.9 267.1 173.1 269.7 172.3 272.2 173.1Z" fill="#0000ff"/>
<path d="M310 146.4 307.5 145.1 309.9 142.6 312.5 143.9Z" fill="#00b5ff"/>
<path d="M274.7 173.9 272.2 173.1 274.8 172.3 277.3 173.1Z" fill="#0000ff"/>
<path d="M277.3 173.1 274.8 172.3 277.3 165.4 279.8 167.5Z" fill="#000cff"/>
<path d="M302.5 149.8 300 148.5 302.4 146.2 305 147.5Z" fill="#009fff"/>
<path d="M277.3 157.9 274.8 155.7 277.3 153.2 279.8 154.5Z" fill="#006eff"/>
<path d="M289.9 153.4 287.4 152.1 289.9 150.1 292.4 151.4Z" fill="#0087ff"/>
<path d="M295 152.7 292.4 151.4 294.9 149.3 297.5 150.6Z" fill="#008dff"/>
<path d="M277.3 165.4 274.8 163.3 277.3 157.9 279.8 160Z" fill="#003eff"/>
<path d="M307.6 148.8 305 147.5 307.5 145.1 310 146.4Z" fill="#00a8ff"/>
<path d="M282.4 155.8 279.8 154.5 282.4 152.7 284.9 154Z" fill="#0079ff"/>
<path d="M300 151.9 297.5 150.6 300 148.5 302.5 149.8Z" fill="#0094ff"/>
<path d="M287.4 155.3 284.9 154 287.4 152.1 289.9 153.4Z" fill="#007dff"/>
<path d="M279.8 174 277.3 173.1 279.8 167.5 282.4 169.7Z" fill="#000cff"/>
<path d="M279.8 160 277.3 157.9 279.8 154.5 282.4 155.8Z" fill="#0063ff"/>
<path d="M305.1 151.1 302.5 149.8 305 147.5 307.6 148.8Z" fill="#009bff"/>
<path d="M279.8 167.5 277.3 165.4 279.8 160 282.4 162.1Z" fill="#0033ff"/>
<path d="M292.5 154.7 289.9 153.4 292.4 151.4 295 152.7Z" fill="#0083ff"/>
<path d="M272.2 174.8 269.7 173.9 272.2 173.1 274.7 173.9Z" fill="#0000ff"/>
<path d="M277.3 174.8 274.7 173.9 277.3 173.1 279.8 174Z" fill="#0000ff"/>
<path d="M297.5 154 295 152.7 297.5 150.6 300 151.9Z" fill="#0089ff"/>
<path d="M284.9 157.4 282.4 155.8 284.9 154 287.4 155.3Z" fill="#0074ff"/>
<path d="M302.6 153.3 300 151.9 302.5 149.8 305.1 151.1Z" fill="#008fff"/>
<path d="M282.4 169.7 279.8 167.5 282.4 162.1 284.9 164Z" fill="#0028ff"/>
<path d="M282.4 162.1 279.8 160 282.4 155.8 284.9 157.4Z" fill="#0059ff"/>
<path d="M282.4 174.8 279.8 174 282.4 169.7 284.9 172.3Z" fill="#000aff"/>
<path d="M290 156.6 287.4 155.3 289.9 153.4 292.5 154.7Z" fill="#0079ff"/>
<path d="M295 156 292.5 154.7 295 152.7 297.5 154Z" fill="#007eff"/>
<path d="M284.9 172.3 282.4 169.7 284.9 164 287.5 166Z" fill="#0019ff"/>
<path d="M300.1 155.3 297.5 154 300 151.9 302.6 153.3Z" fill="#0084ff"/>
<path d="M274.7 175.6 272.2 174.8 274.7 173.9 277.3 174.8Z" fill="#0000ff"/>
<path d="M279.8 175.6 277.3 174.8 279.8 174 282.4 174.8Z" fill="#0000ff"/>
<path d="M284.9 164 282.4 162.1 284.9 157.4 287.4 159.5Z" fill="#004fff"/>
<path d="M287.4 159.5 284.9 157.4 287.4 155.3 290 156.6Z" fill="#006eff"/>
<path d="M284.9 175.7 282.4 174.8 284.9 172.3 287.5 174.8Z" fill="#0003ff"/>
<path d="M292.5 157.9 290 156.6 292.5 154.7 295 156Z" fill="#0075ff"/>
<path d="M287.5 174.8 284.9 172.3 287.5 166 290 167.9Z" fill="#000cff"/>
<path d="M297.6 157.3 295 156 297.5 154 300.1 155.3Z" fill="#007aff"/>
<path d="M287.5 166 284.9 164 287.4 159.5 290 161.5Z" fill="#0046ff"/>
<path d="M290 161.5 287.4 159.5 290 156.6 292.5 157.9Z" fill="#0064ff"/>
<path d="M277.3 176.5 274.7 175.6 277.3 174.8 279.8 175.6Z" fill="#0000ff"/>
<path d="M282.4 176.5 279.8 175.6 282.4 174.8 284.9 175.7Z" fill="#0000ff"/>
<path d="M295.1 159.2 292.5 157.9 295 156 297.6 157.3Z" fill="#0071ff"/>
<path d="M290 167.9 287.5 166 290 161.5 292.6 163.4Z" fill="#003eff"/>
<path d="M292.6 163.4 290 161.5 292.5 157.9 295.1 159.2Z" fill="#005bff"/>
<path d="M279.8 177.4 277.3 176.5 279.8 175.6 282.4 176.5Z" fill="#0000ff"/>
</g>
<line x1="139.2" y1="26.4" x2="280" y2="2.5" stroke="#606060" stroke-width="0.9"/>
<line x1="280" y1="2.5" x2="421" y2="26.9" stroke="#606060" stroke-width="0.9"/>
<line x1="421" y1="26.9" x2="412.4" y2="165.6" stroke="#606060" stroke-width="0.9"/>
<line x1="139.2" y1="26.4" x2="147.6" y2="165.6" stroke="#606060" stroke-width="0.9"/>
<circle cx="145.4" cy="132.1" r="0.9" fill="#000"/>
<text x="140.8" y="140.8" font-size="9.3" text-anchor="end">0.000</text>
<circle cx="143.9" cy="106.5" r="0.9" fill="#000"/>
<text x="139.3" y="115.2" font-size="9.3" text-anchor="end">0.225</text>
<circle cx="142.3" cy="80.3" r="0.9" fill="#000"/>
<text x="137.7" y="89" font-size="9.3" text-anchor="end">0.450</text>
<circle cx="140.7" cy="53.4" r="0.9" fill="#000"/>
<text x="136.1" y="62.1" font-size="9.3" text-anchor="end">0.675</text>
<circle cx="139" cy="26" r="0.9" fill="#000"/>
<text x="134.4" y="34.7" font-size="9.3" text-anchor="end">0.900</text>
<circle cx="147.6" cy="165.6" r="0.9" fill="#000"/>
<text x="139" y="174.3" font-size="9" text-anchor="middle">20</text>
<circle cx="180.7" cy="177.9" r="0.9" fill="#000"/>
<text x="172" y="186.4" font-size="9" text-anchor="middle">19</text>
<circle cx="213.8" cy="190.2" r="0.9" fill="#000"/>
<text x="205" y="199" font-size="9" text-anchor="middle">18</text>
<circle cx="246.8" cy="202.5" r="0.9" fill="#000"/>
<text x="238" y="211" font-size="9" text-anchor="middle">17</text>
<circle cx="279.9" cy="214.8" r="0.9" fill="#000"/>
<text x="271.5" y="223.6" font-size="9" text-anchor="middle">16</text>
<circle cx="279.9" cy="214.8" r="0.9" fill="#000"/>
<text x="285.6" y="223.6" font-size="9" text-anchor="middle">1</text>
<circle cx="313" cy="202.5" r="0.9" fill="#000"/>
<text x="323.3" y="211" font-size="9" text-anchor="middle">1.5</text>
<circle cx="346.1" cy="190.2" r="0.9" fill="#000"/>
<text x="352.6" y="198.5" font-size="9" text-anchor="middle">2</text>
<circle cx="379.3" cy="177.9" r="0.9" fill="#000"/>
<text x="389" y="186.6" font-size="9" text-anchor="middle">2.5</text>
<circle cx="412.4" cy="165.6" r="0.9" fill="#000"/>
<text x="418.2" y="174.3" font-size="9" text-anchor="middle">3</text>
<circle cx="280" cy="2.6" r="2.3" fill="#ff0000" stroke="#a00000" stroke-width="0.5"/>
<circle cx="345.7" cy="25" r="2.3" fill="#ff0000" stroke="#a00000" stroke-width="0.5"/>
<circle cx="418.7" cy="60.8" r="2.3" fill="#ff0000" stroke="#a00000" stroke-width="0.5"/>
<circle cx="215" cy="54" r="2.3" fill="#ff0000" stroke="#a00000" stroke-width="0.5"/>
<circle cx="279.9" cy="76" r="2.3" fill="#ff0000" stroke="#a00000" stroke-width="0.5"/>
<circle cx="353.1" cy="107.5" r="2.3" fill="#ff0000" stroke="#a00000" stroke-width="0.5"/>
<circle cx="143.5" cy="100.4" r="2.3" fill="#ff0000" stroke="#a00000" stroke-width="0.5"/>
<ellipse cx="207.5" cy="134.7" rx="2.5" ry="1.75" fill="#ff0000" stroke="#a00000" stroke-width="0.5"/>
<ellipse cx="279.8" cy="177.9" rx="2.5" ry="1.75" fill="#ff0000" stroke="#a00000" stroke-width="0.5"/>
<text x="102.6" y="98.5" font-size="13.8" text-anchor="middle" transform="rotate(-90 102.6 98.5)">Desirability</text>
<text x="163.6" y="216.9" font-size="14.4" text-anchor="middle">Nickel Sulphate (g/l)</text>
<text x="396.3" y="217.6" font-size="14.2" text-anchor="middle">Calcium Bromide (g/l)</text>
<polygon points="87.4,247.5 99.5,240.8 99.5,427.8 87.4,434.5" fill="#808080" stroke="#404040" stroke-width="0.8"/>
<polygon points="87.4,434.5 99.5,427.8 482.9,427.8 470.8,434.5" fill="#c0c0c0" stroke="#202020" stroke-width="1"/>
<line x1="99.5" y1="240.8" x2="482.9" y2="240.8" stroke="#7a7a7a" stroke-width="1"/>
<line x1="482.9" y1="240.8" x2="482.9" y2="427.8" stroke="#7a7a7a" stroke-width="1"/>
<line x1="195.3" y1="240.8" x2="195.3" y2="427.8" stroke="#404040" stroke-width="0.9"/>
<line x1="195.3" y1="427.8" x2="183.2" y2="434.5" stroke="#404040" stroke-width="0.9"/>
<line x1="291.2" y1="240.8" x2="291.2" y2="427.8" stroke="#404040" stroke-width="0.9"/>
<line x1="291.2" y1="427.8" x2="279.1" y2="434.5" stroke="#404040" stroke-width="0.9"/>
<line x1="387" y1="240.8" x2="387" y2="427.8" stroke="#404040" stroke-width="0.9"/>
<line x1="387" y1="427.8" x2="374.9" y2="434.5" stroke="#404040" stroke-width="0.9"/>
<line x1="87.4" y1="434.5" x2="87.4" y2="441.1" stroke="#303030" stroke-width="0.9"/>
<text x="87.4" y="451.6" font-size="8.4" text-anchor="middle">0.000</text>
<line x1="183.2" y1="434.5" x2="183.2" y2="441.1" stroke="#303030" stroke-width="0.9"/>
<text x="183.2" y="451.6" font-size="8.4" text-anchor="middle">0.250</text>
<line x1="279.1" y1="434.5" x2="279.1" y2="441.1" stroke="#303030" stroke-width="0.9"/>
<text x="279.1" y="451.6" font-size="8.4" text-anchor="middle">0.500</text>
<line x1="374.9" y1="434.5" x2="374.9" y2="441.1" stroke="#303030" stroke-width="0.9"/>
<text x="374.9" y="451.6" font-size="8.4" text-anchor="middle">0.750</text>
<line x1="470.8" y1="434.5" x2="470.8" y2="441.1" stroke="#303030" stroke-width="0.9"/>
<text x="470.8" y="451.6" font-size="8.4" text-anchor="middle">1.000</text>
<line x1="74.3" y1="247.5" x2="87.4" y2="247.5" stroke="#404040" stroke-width="0.9"/>
<line x1="74.3" y1="274.2" x2="87.4" y2="274.2" stroke="#404040" stroke-width="0.9"/>
<line x1="74.3" y1="300.9" x2="87.4" y2="300.9" stroke="#404040" stroke-width="0.9"/>
<line x1="74.3" y1="327.6" x2="87.4" y2="327.6" stroke="#404040" stroke-width="0.9"/>
<line x1="74.3" y1="354.4" x2="87.4" y2="354.4" stroke="#404040" stroke-width="0.9"/>
<line x1="74.3" y1="381.1" x2="87.4" y2="381.1" stroke="#404040" stroke-width="0.9"/>
<line x1="74.3" y1="407.8" x2="87.4" y2="407.8" stroke="#404040" stroke-width="0.9"/>
<line x1="74.3" y1="434.5" x2="87.4" y2="434.5" stroke="#404040" stroke-width="0.9"/>
<polygon points="87.4,254.1 99.5,247.4 482.9,247.4 470.8,254.1" fill="#c00000" stroke="#000" stroke-width="0.7"/>
<polygon points="87.4,254.1 470.8,254.1 470.8,260.3 87.4,260.3" fill="#ff0000" stroke="#000" stroke-width="0.7"/>
<polygon points="470.8,254.1 482.9,247.4 482.9,253.6 470.8,260.3" fill="#800000" stroke="#000" stroke-width="0.7"/>
<text x="74" y="258.7" font-size="10.2" text-anchor="end">CaBr2</text>
<text x="505" y="254.3" font-size="10.5" text-anchor="middle">1</text>
<polygon points="87.4,280.8 99.5,274.1 482.9,274.1 470.8,280.8" fill="#c00000" stroke="#000" stroke-width="0.7"/>
<polygon points="87.4,280.8 470.8,280.8 470.8,287 87.4,287" fill="#ff0000" stroke="#000" stroke-width="0.7"/>
<polygon points="470.8,280.8 482.9,274.1 482.9,280.3 470.8,287" fill="#800000" stroke="#000" stroke-width="0.7"/>
<text x="74" y="285.4" font-size="10.2" text-anchor="end">NS</text>
<text x="505" y="281" font-size="10.5" text-anchor="middle">1</text>
<polygon points="87.4,307.5 99.5,300.8 347.4,300.8 335.3,307.5" fill="#0000c0" stroke="#000" stroke-width="0.7"/>
<polygon points="87.4,307.5 335.3,307.5 335.3,313.7 87.4,313.7" fill="#0000ff" stroke="#000" stroke-width="0.7"/>
<polygon points="335.3,307.5 347.4,300.8 347.4,307 335.3,313.7" fill="#000080" stroke="#000" stroke-width="0.7"/>
<text x="74" y="312.1" font-size="10.2" text-anchor="end">Ra</text>
<text x="349" y="307.7" font-size="10.5" text-anchor="start">0.657438</text>
<polygon points="87.4,334.2 99.5,327.5 482.9,327.5 470.8,334.2" fill="#0000c0" stroke="#000" stroke-width="0.7"/>
<polygon points="87.4,334.2 470.8,334.2 470.8,340.4 87.4,340.4" fill="#0000ff" stroke="#000" stroke-width="0.7"/>
<polygon points="470.8,334.2 482.9,327.5 482.9,333.7 470.8,340.4" fill="#000080" stroke="#000" stroke-width="0.7"/>
<text x="74" y="338.8" font-size="10.2" text-anchor="end">HV0.05</text>
<text x="484.5" y="334.4" font-size="10.5" text-anchor="start">0.999997</text>
<polygon points="87.4,361 99.5,354.3 472.8,354.3 460.7,361" fill="#0000c0" stroke="#000" stroke-width="0.7"/>
<polygon points="87.4,361 460.7,361 460.7,367.2 87.4,367.2" fill="#0000ff" stroke="#000" stroke-width="0.7"/>
<polygon points="460.7,361 472.8,354.3 472.8,360.5 460.7,367.2" fill="#000080" stroke="#000" stroke-width="0.7"/>
<text x="74" y="365.6" font-size="10.2" text-anchor="end">Wear rate (x10-6)</text>
<text x="474.4" y="361.2" font-size="10.5" text-anchor="start">0.973675</text>
<polygon points="87.4,387.7 99.5,381 482.9,381 470.8,387.7" fill="#0000c0" stroke="#000" stroke-width="0.7"/>
<polygon points="87.4,387.7 470.8,387.7 470.8,393.9 87.4,393.9" fill="#0000ff" stroke="#000" stroke-width="0.7"/>
<polygon points="470.8,387.7 482.9,381 482.9,387.2 470.8,393.9" fill="#000080" stroke="#000" stroke-width="0.7"/>
<text x="74" y="392.3" font-size="10.2" text-anchor="end">COF</text>
<text x="505" y="387.9" font-size="10.5" text-anchor="middle">1</text>
<polygon points="87.4,414.4 99.5,407.7 441.3,407.7 429.2,414.4" fill="#0000c0" stroke="#000" stroke-width="0.7"/>
<polygon points="87.4,414.4 429.2,414.4 429.2,420.6 87.4,420.6" fill="#0000ff" stroke="#000" stroke-width="0.7"/>
<polygon points="429.2,414.4 441.3,407.7 441.3,413.9 429.2,420.6" fill="#000080" stroke="#000" stroke-width="0.7"/>
<text x="74" y="419" font-size="10.2" text-anchor="end">Combined</text>
<text x="442.9" y="414.6" font-size="10.5" text-anchor="start">0.894472</text>
</svg>
</body></html>
